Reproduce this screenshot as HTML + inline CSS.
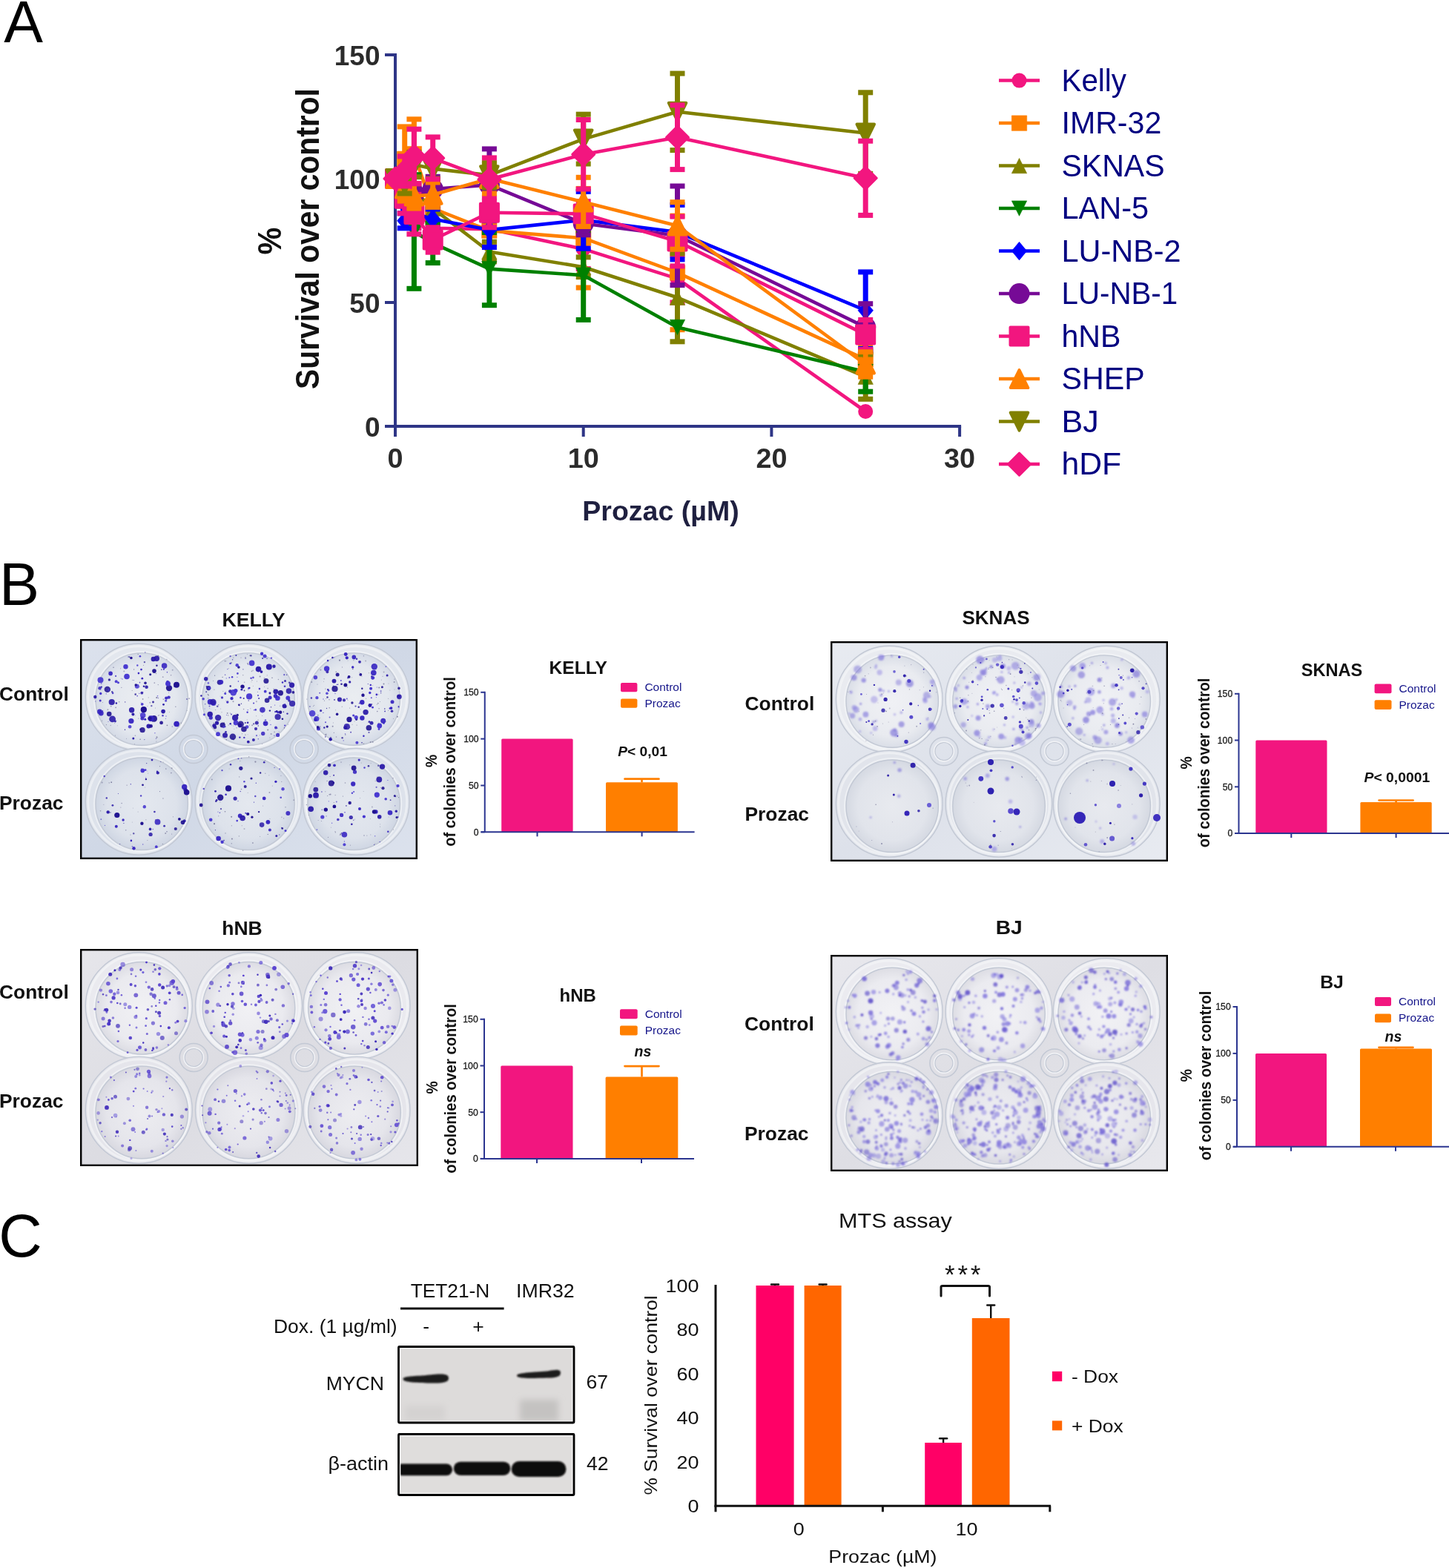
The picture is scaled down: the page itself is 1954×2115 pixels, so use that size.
<!DOCTYPE html>
<html><head><meta charset="utf-8"><title>Figure</title>
<style>
html,body{margin:0;padding:0;background:#fff;overflow:hidden;}
svg{display:block;}
text{font-family:'Liberation Sans', sans-serif;}
</style></head><body>
<svg width="1954" height="2115" viewBox="0 0 1954 2115">
<defs>
<linearGradient id="plbg" x1="0" y1="0" x2="1" y2="1"><stop offset="0" stop-color="#e8eaf0"/><stop offset="0.5" stop-color="#dde1e9"/><stop offset="1" stop-color="#e3e6ed"/></linearGradient>
<radialGradient id="wellg0" cx="0.5" cy="0.5" r="0.5"><stop offset="0" stop-color="#f0f1f5"/><stop offset="0.8" stop-color="#e8eaf0"/><stop offset="1" stop-color="#dcdfe8"/></radialGradient>
<radialGradient id="wellg1" cx="0.5" cy="0.5" r="0.5"><stop offset="0" stop-color="#eceef3"/><stop offset="0.8" stop-color="#e2e5ec"/><stop offset="1" stop-color="#d6dae4"/></radialGradient>
<filter id="blur1" x="-50%" y="-50%" width="200%" height="200%"><feGaussianBlur stdDeviation="1.1"/></filter>
<filter id="blur2" x="-50%" y="-50%" width="200%" height="200%"><feGaussianBlur stdDeviation="1.6"/></filter>
<filter id="blur4" x="-50%" y="-50%" width="200%" height="200%"><feGaussianBlur stdDeviation="4"/></filter>
<filter id="fz0" x="-10%" y="-10%" width="120%" height="120%"><feGaussianBlur stdDeviation="0.5"/></filter>
<filter id="fz1" x="-10%" y="-10%" width="120%" height="120%"><feGaussianBlur stdDeviation="0.9"/></filter>
<linearGradient id="pb11" x1="0" y1="0" x2="1" y2="1"><stop offset="0" stop-color="#dce2ed"/><stop offset="0.5" stop-color="#d0d8e6"/><stop offset="1" stop-color="#dce2ed"/></linearGradient><radialGradient id="wg11_0" cx="0.5" cy="0.5" r="0.5"><stop offset="0" stop-color="#eaedf1"/><stop offset="0.75" stop-color="#e3e7ee"/><stop offset="1" stop-color="#d4dae6"/></radialGradient><radialGradient id="wg11_1" cx="0.5" cy="0.5" r="0.5"><stop offset="0" stop-color="#e4e8ef"/><stop offset="0.75" stop-color="#dde2eb"/><stop offset="1" stop-color="#cfd6e3"/></radialGradient><linearGradient id="pb12" x1="0" y1="0" x2="1" y2="1"><stop offset="0" stop-color="#e8ebf1"/><stop offset="0.5" stop-color="#dde1ea"/><stop offset="1" stop-color="#e8ebf1"/></linearGradient><radialGradient id="wg12_0" cx="0.5" cy="0.5" r="0.5"><stop offset="0" stop-color="#f0f1f5"/><stop offset="0.75" stop-color="#e9ebf0"/><stop offset="1" stop-color="#dadee7"/></radialGradient><radialGradient id="wg12_1" cx="0.5" cy="0.5" r="0.5"><stop offset="0" stop-color="#e8eaef"/><stop offset="0.75" stop-color="#e1e4eb"/><stop offset="1" stop-color="#d5d9e2"/></radialGradient><linearGradient id="pb13" x1="0" y1="0" x2="1" y2="1"><stop offset="0" stop-color="#e6e6eb"/><stop offset="0.5" stop-color="#dcdce2"/><stop offset="1" stop-color="#e6e6eb"/></linearGradient><radialGradient id="wg13_0" cx="0.5" cy="0.5" r="0.5"><stop offset="0" stop-color="#f1f1f4"/><stop offset="0.75" stop-color="#eaeaef"/><stop offset="1" stop-color="#dcdce3"/></radialGradient><radialGradient id="wg13_1" cx="0.5" cy="0.5" r="0.5"><stop offset="0" stop-color="#ededf1"/><stop offset="0.75" stop-color="#e5e5eb"/><stop offset="1" stop-color="#d8d8e0"/></radialGradient><linearGradient id="pb14" x1="0" y1="0" x2="1" y2="1"><stop offset="0" stop-color="#e8e8ed"/><stop offset="0.5" stop-color="#dedee4"/><stop offset="1" stop-color="#e8e8ed"/></linearGradient><radialGradient id="wg14_0" cx="0.5" cy="0.5" r="0.5"><stop offset="0" stop-color="#f2f2f5"/><stop offset="0.75" stop-color="#ebebf0"/><stop offset="1" stop-color="#dddde4"/></radialGradient><radialGradient id="wg14_1" cx="0.5" cy="0.5" r="0.5"><stop offset="0" stop-color="#eeeef2"/><stop offset="0.75" stop-color="#e6e6ec"/><stop offset="1" stop-color="#d9d9e1"/></radialGradient></defs>
<rect width="1954" height="2115" fill="#fff"/>
<text x="5.3" y="56.6" font-size="79" font-weight="normal" font-style="normal" fill="#000" text-anchor="start" >A</text>
<text x="-1.0" y="816.0" font-size="81" font-weight="normal" font-style="normal" fill="#000" text-anchor="start" >B</text>
<text x="-1.8" y="1695.2" font-size="81" font-weight="normal" font-style="normal" fill="#000" text-anchor="start" >C</text>
<line x1="533.0" y1="72.0" x2="533.0" y2="589" stroke="#2e3586" stroke-width="4"/>
<line x1="519" y1="575.0" x2="1296.1" y2="575.0" stroke="#2e3586" stroke-width="4"/>
<line x1="519" y1="74.0" x2="533.0" y2="74.0" stroke="#2e3586" stroke-width="4"/>
<line x1="519" y1="241.0" x2="533.0" y2="241.0" stroke="#2e3586" stroke-width="4"/>
<line x1="519" y1="408.0" x2="533.0" y2="408.0" stroke="#2e3586" stroke-width="4"/>
<line x1="786.7" y1="575.0" x2="786.7" y2="589" stroke="#2e3586" stroke-width="4"/>
<line x1="1040.4" y1="575.0" x2="1040.4" y2="589" stroke="#2e3586" stroke-width="4"/>
<line x1="1294.1" y1="575.0" x2="1294.1" y2="589" stroke="#2e3586" stroke-width="4"/>
<text x="512.5" y="87.5" font-size="37" font-weight="bold" font-style="normal" fill="#2b2b2b" text-anchor="end" >150</text>
<text x="512.5" y="254.5" font-size="37" font-weight="bold" font-style="normal" fill="#2b2b2b" text-anchor="end" >100</text>
<text x="512.5" y="421.5" font-size="37" font-weight="bold" font-style="normal" fill="#2b2b2b" text-anchor="end" >50</text>
<text x="512.5" y="588.5" font-size="37" font-weight="bold" font-style="normal" fill="#2b2b2b" text-anchor="end" >0</text>
<text x="533.0" y="631.0" font-size="37" font-weight="bold" font-style="normal" fill="#2b2b2b" text-anchor="middle" textLength="21.0" lengthAdjust="spacingAndGlyphs" >0</text>
<text x="786.7" y="631.0" font-size="37" font-weight="bold" font-style="normal" fill="#2b2b2b" text-anchor="middle" textLength="42.0" lengthAdjust="spacingAndGlyphs" >10</text>
<text x="1040.4" y="631.0" font-size="37" font-weight="bold" font-style="normal" fill="#2b2b2b" text-anchor="middle" textLength="42.0" lengthAdjust="spacingAndGlyphs" >20</text>
<text x="1294.1" y="631.0" font-size="37" font-weight="bold" font-style="normal" fill="#2b2b2b" text-anchor="middle" textLength="42.0" lengthAdjust="spacingAndGlyphs" >30</text>
<text x="891.0" y="702.0" font-size="37" font-weight="bold" font-style="normal" fill="#1f2040" text-anchor="middle" textLength="211.5" lengthAdjust="spacingAndGlyphs" >Prozac (µM)</text>
<text transform="translate(430.0,322.0) rotate(-90)" x="0" y="0" font-size="44" font-weight="bold" fill="#111" text-anchor="middle" textLength="405.8" lengthAdjust="spacingAndGlyphs">Survival over control</text>
<text transform="translate(378.5,325.0) rotate(-90)" x="0" y="0" font-size="44" font-weight="bold" fill="#111" text-anchor="middle" textLength="36.9" lengthAdjust="spacingAndGlyphs">%</text>
<g><line x1="545.7" y1="237.7" x2="545.7" y2="271.1" stroke="#f2167f" stroke-width="7"/><line x1="535.7" y1="237.7" x2="555.7" y2="237.7" stroke="#f2167f" stroke-width="7"/><line x1="535.7" y1="271.1" x2="555.7" y2="271.1" stroke="#f2167f" stroke-width="7"/><line x1="558.4" y1="254.4" x2="558.4" y2="307.8" stroke="#f2167f" stroke-width="7"/><line x1="548.4" y1="254.4" x2="568.4" y2="254.4" stroke="#f2167f" stroke-width="7"/><line x1="548.4" y1="307.8" x2="568.4" y2="307.8" stroke="#f2167f" stroke-width="7"/><line x1="583.7" y1="287.8" x2="583.7" y2="327.8" stroke="#f2167f" stroke-width="7"/><line x1="573.7" y1="287.8" x2="593.7" y2="287.8" stroke="#f2167f" stroke-width="7"/><line x1="573.7" y1="327.8" x2="593.7" y2="327.8" stroke="#f2167f" stroke-width="7"/><line x1="659.9" y1="289.1" x2="659.9" y2="329.2" stroke="#f2167f" stroke-width="7"/><line x1="649.9" y1="289.1" x2="669.9" y2="289.1" stroke="#f2167f" stroke-width="7"/><line x1="649.9" y1="329.2" x2="669.9" y2="329.2" stroke="#f2167f" stroke-width="7"/><line x1="786.7" y1="309.1" x2="786.7" y2="362.6" stroke="#f2167f" stroke-width="7"/><line x1="776.7" y1="309.1" x2="796.7" y2="309.1" stroke="#f2167f" stroke-width="7"/><line x1="776.7" y1="362.6" x2="796.7" y2="362.6" stroke="#f2167f" stroke-width="7"/><line x1="913.5" y1="343.9" x2="913.5" y2="408.0" stroke="#f2167f" stroke-width="7"/><line x1="903.5" y1="343.9" x2="923.5" y2="343.9" stroke="#f2167f" stroke-width="7"/><line x1="903.5" y1="408.0" x2="923.5" y2="408.0" stroke="#f2167f" stroke-width="7"/><polyline points="533.0,241.0 545.7,254.4 558.4,281.1 583.7,307.8 659.9,309.1 786.7,335.9 913.5,375.9 1167.2,555.0" fill="none" stroke="#f2167f" stroke-width="4.6" stroke-linejoin="round"/><circle cx="533.0" cy="241.0" r="10.0" fill="#f2167f"/><circle cx="545.7" cy="254.4" r="10.0" fill="#f2167f"/><circle cx="558.4" cy="281.1" r="10.0" fill="#f2167f"/><circle cx="583.7" cy="307.8" r="10.0" fill="#f2167f"/><circle cx="659.9" cy="309.1" r="10.0" fill="#f2167f"/><circle cx="786.7" cy="335.9" r="10.0" fill="#f2167f"/><circle cx="913.5" cy="375.9" r="10.0" fill="#f2167f"/><circle cx="1167.2" cy="555.0" r="10.0" fill="#f2167f"/></g>
<g><line x1="545.7" y1="170.9" x2="545.7" y2="257.7" stroke="#ff8000" stroke-width="7"/><line x1="535.7" y1="170.9" x2="555.7" y2="170.9" stroke="#ff8000" stroke-width="7"/><line x1="535.7" y1="257.7" x2="555.7" y2="257.7" stroke="#ff8000" stroke-width="7"/><line x1="558.4" y1="160.8" x2="558.4" y2="254.4" stroke="#ff8000" stroke-width="7"/><line x1="548.4" y1="160.8" x2="568.4" y2="160.8" stroke="#ff8000" stroke-width="7"/><line x1="548.4" y1="254.4" x2="568.4" y2="254.4" stroke="#ff8000" stroke-width="7"/><line x1="583.7" y1="261.0" x2="583.7" y2="301.1" stroke="#ff8000" stroke-width="7"/><line x1="573.7" y1="261.0" x2="593.7" y2="261.0" stroke="#ff8000" stroke-width="7"/><line x1="573.7" y1="301.1" x2="593.7" y2="301.1" stroke="#ff8000" stroke-width="7"/><line x1="659.9" y1="294.4" x2="659.9" y2="327.8" stroke="#ff8000" stroke-width="7"/><line x1="649.9" y1="294.4" x2="669.9" y2="294.4" stroke="#ff8000" stroke-width="7"/><line x1="649.9" y1="327.8" x2="669.9" y2="327.8" stroke="#ff8000" stroke-width="7"/><line x1="786.7" y1="254.4" x2="786.7" y2="388.0" stroke="#ff8000" stroke-width="7"/><line x1="776.7" y1="254.4" x2="796.7" y2="254.4" stroke="#ff8000" stroke-width="7"/><line x1="776.7" y1="388.0" x2="796.7" y2="388.0" stroke="#ff8000" stroke-width="7"/><line x1="913.5" y1="291.1" x2="913.5" y2="444.7" stroke="#ff8000" stroke-width="7"/><line x1="903.5" y1="291.1" x2="923.5" y2="291.1" stroke="#ff8000" stroke-width="7"/><line x1="903.5" y1="444.7" x2="923.5" y2="444.7" stroke="#ff8000" stroke-width="7"/><line x1="1167.2" y1="468.1" x2="1167.2" y2="501.5" stroke="#ff8000" stroke-width="7"/><line x1="1157.2" y1="468.1" x2="1177.2" y2="468.1" stroke="#ff8000" stroke-width="7"/><line x1="1157.2" y1="501.5" x2="1177.2" y2="501.5" stroke="#ff8000" stroke-width="7"/><polyline points="533.0,241.0 545.7,214.3 558.4,207.6 583.7,281.1 659.9,311.1 786.7,321.2 913.5,367.9 1167.2,484.8" fill="none" stroke="#ff8000" stroke-width="4.6" stroke-linejoin="round"/><rect x="522.8" y="230.8" width="20.4" height="20.4" fill="#ff8000" stroke="#ff8000" stroke-width="0.6" stroke-linejoin="round"/><rect x="535.5" y="204.1" width="20.4" height="20.4" fill="#ff8000" stroke="#ff8000" stroke-width="0.6" stroke-linejoin="round"/><rect x="548.2" y="197.4" width="20.4" height="20.4" fill="#ff8000" stroke="#ff8000" stroke-width="0.6" stroke-linejoin="round"/><rect x="573.5" y="270.9" width="20.4" height="20.4" fill="#ff8000" stroke="#ff8000" stroke-width="0.6" stroke-linejoin="round"/><rect x="649.6" y="300.9" width="20.4" height="20.4" fill="#ff8000" stroke="#ff8000" stroke-width="0.6" stroke-linejoin="round"/><rect x="776.5" y="311.0" width="20.4" height="20.4" fill="#ff8000" stroke="#ff8000" stroke-width="0.6" stroke-linejoin="round"/><rect x="903.3" y="357.7" width="20.4" height="20.4" fill="#ff8000" stroke="#ff8000" stroke-width="0.6" stroke-linejoin="round"/><rect x="1157.0" y="474.6" width="20.4" height="20.4" fill="#ff8000" stroke="#ff8000" stroke-width="0.6" stroke-linejoin="round"/></g>
<g><line x1="545.7" y1="244.3" x2="545.7" y2="277.7" stroke="#808000" stroke-width="7"/><line x1="535.7" y1="244.3" x2="555.7" y2="244.3" stroke="#808000" stroke-width="7"/><line x1="535.7" y1="277.7" x2="555.7" y2="277.7" stroke="#808000" stroke-width="7"/><line x1="558.4" y1="237.7" x2="558.4" y2="277.7" stroke="#808000" stroke-width="7"/><line x1="548.4" y1="237.7" x2="568.4" y2="237.7" stroke="#808000" stroke-width="7"/><line x1="548.4" y1="277.7" x2="568.4" y2="277.7" stroke="#808000" stroke-width="7"/><line x1="583.7" y1="261.0" x2="583.7" y2="301.1" stroke="#808000" stroke-width="7"/><line x1="573.7" y1="261.0" x2="593.7" y2="261.0" stroke="#808000" stroke-width="7"/><line x1="573.7" y1="301.1" x2="593.7" y2="301.1" stroke="#808000" stroke-width="7"/><line x1="659.9" y1="326.2" x2="659.9" y2="352.9" stroke="#808000" stroke-width="7"/><line x1="649.9" y1="326.2" x2="669.9" y2="326.2" stroke="#808000" stroke-width="7"/><line x1="649.9" y1="352.9" x2="669.9" y2="352.9" stroke="#808000" stroke-width="7"/><line x1="786.7" y1="346.9" x2="786.7" y2="373.6" stroke="#808000" stroke-width="7"/><line x1="776.7" y1="346.9" x2="796.7" y2="346.9" stroke="#808000" stroke-width="7"/><line x1="776.7" y1="373.6" x2="796.7" y2="373.6" stroke="#808000" stroke-width="7"/><line x1="913.5" y1="341.9" x2="913.5" y2="460.8" stroke="#808000" stroke-width="7"/><line x1="903.5" y1="341.9" x2="923.5" y2="341.9" stroke="#808000" stroke-width="7"/><line x1="903.5" y1="460.8" x2="923.5" y2="460.8" stroke="#808000" stroke-width="7"/><line x1="1167.2" y1="478.1" x2="1167.2" y2="538.3" stroke="#808000" stroke-width="7"/><line x1="1157.2" y1="478.1" x2="1177.2" y2="478.1" stroke="#808000" stroke-width="7"/><line x1="1157.2" y1="538.3" x2="1177.2" y2="538.3" stroke="#808000" stroke-width="7"/><polyline points="533.0,241.0 545.7,261.0 558.4,257.7 583.7,281.1 659.9,339.5 786.7,360.2 913.5,401.3 1167.2,508.2" fill="none" stroke="#808000" stroke-width="4.6" stroke-linejoin="round"/><path d="M533.0,230.8 L543.2,251.2 L522.8,251.2 Z" fill="#808000" stroke="#808000" stroke-width="0.6" stroke-linejoin="round"/><path d="M545.7,250.8 L555.9,271.2 L535.5,271.2 Z" fill="#808000" stroke="#808000" stroke-width="0.6" stroke-linejoin="round"/><path d="M558.4,247.5 L568.5,267.9 L548.2,267.9 Z" fill="#808000" stroke="#808000" stroke-width="0.6" stroke-linejoin="round"/><path d="M583.7,270.9 L593.9,291.3 L573.6,291.3 Z" fill="#808000" stroke="#808000" stroke-width="0.6" stroke-linejoin="round"/><path d="M659.9,329.3 L670.0,349.7 L649.7,349.7 Z" fill="#808000" stroke="#808000" stroke-width="0.6" stroke-linejoin="round"/><path d="M786.7,350.0 L796.9,370.4 L776.5,370.4 Z" fill="#808000" stroke="#808000" stroke-width="0.6" stroke-linejoin="round"/><path d="M913.5,391.1 L923.7,411.5 L903.4,411.5 Z" fill="#808000" stroke="#808000" stroke-width="0.6" stroke-linejoin="round"/><path d="M1167.2,498.0 L1177.4,518.4 L1157.1,518.4 Z" fill="#808000" stroke="#808000" stroke-width="0.6" stroke-linejoin="round"/></g>
<g><line x1="545.7" y1="234.3" x2="545.7" y2="274.4" stroke="#008000" stroke-width="7"/><line x1="535.7" y1="234.3" x2="555.7" y2="234.3" stroke="#008000" stroke-width="7"/><line x1="535.7" y1="274.4" x2="555.7" y2="274.4" stroke="#008000" stroke-width="7"/><line x1="558.4" y1="235.7" x2="558.4" y2="389.3" stroke="#008000" stroke-width="7"/><line x1="548.4" y1="235.7" x2="568.4" y2="235.7" stroke="#008000" stroke-width="7"/><line x1="548.4" y1="389.3" x2="568.4" y2="389.3" stroke="#008000" stroke-width="7"/><line x1="583.7" y1="301.1" x2="583.7" y2="354.6" stroke="#008000" stroke-width="7"/><line x1="573.7" y1="301.1" x2="593.7" y2="301.1" stroke="#008000" stroke-width="7"/><line x1="573.7" y1="354.6" x2="593.7" y2="354.6" stroke="#008000" stroke-width="7"/><line x1="659.9" y1="313.5" x2="659.9" y2="411.7" stroke="#008000" stroke-width="7"/><line x1="649.9" y1="313.5" x2="669.9" y2="313.5" stroke="#008000" stroke-width="7"/><line x1="649.9" y1="411.7" x2="669.9" y2="411.7" stroke="#008000" stroke-width="7"/><line x1="786.7" y1="311.1" x2="786.7" y2="431.4" stroke="#008000" stroke-width="7"/><line x1="776.7" y1="311.1" x2="796.7" y2="311.1" stroke="#008000" stroke-width="7"/><line x1="776.7" y1="431.4" x2="796.7" y2="431.4" stroke="#008000" stroke-width="7"/><line x1="1167.2" y1="474.8" x2="1167.2" y2="528.2" stroke="#008000" stroke-width="7"/><line x1="1157.2" y1="474.8" x2="1177.2" y2="474.8" stroke="#008000" stroke-width="7"/><line x1="1157.2" y1="528.2" x2="1177.2" y2="528.2" stroke="#008000" stroke-width="7"/><polyline points="533.0,241.0 545.7,254.4 558.4,312.5 583.7,327.8 659.9,362.6 786.7,371.3 913.5,441.4 1167.2,501.5" fill="none" stroke="#008000" stroke-width="4.6" stroke-linejoin="round"/><path d="M533.0,251.2 L543.2,230.8 L522.8,230.8 Z" fill="#008000" stroke="#008000" stroke-width="0.6" stroke-linejoin="round"/><path d="M545.7,264.6 L555.9,244.2 L535.5,244.2 Z" fill="#008000" stroke="#008000" stroke-width="0.6" stroke-linejoin="round"/><path d="M558.4,322.7 L568.5,302.3 L548.2,302.3 Z" fill="#008000" stroke="#008000" stroke-width="0.6" stroke-linejoin="round"/><path d="M583.7,338.0 L593.9,317.6 L573.6,317.6 Z" fill="#008000" stroke="#008000" stroke-width="0.6" stroke-linejoin="round"/><path d="M659.9,372.8 L670.0,352.4 L649.7,352.4 Z" fill="#008000" stroke="#008000" stroke-width="0.6" stroke-linejoin="round"/><path d="M786.7,381.5 L796.9,361.1 L776.5,361.1 Z" fill="#008000" stroke="#008000" stroke-width="0.6" stroke-linejoin="round"/><path d="M913.5,451.6 L923.7,431.2 L903.4,431.2 Z" fill="#008000" stroke="#008000" stroke-width="0.6" stroke-linejoin="round"/><path d="M1167.2,511.7 L1177.4,491.3 L1157.1,491.3 Z" fill="#008000" stroke="#008000" stroke-width="0.6" stroke-linejoin="round"/></g>
<g><line x1="545.7" y1="287.8" x2="545.7" y2="307.8" stroke="#0000ff" stroke-width="7"/><line x1="535.7" y1="287.8" x2="555.7" y2="287.8" stroke="#0000ff" stroke-width="7"/><line x1="535.7" y1="307.8" x2="555.7" y2="307.8" stroke="#0000ff" stroke-width="7"/><line x1="558.4" y1="277.7" x2="558.4" y2="297.8" stroke="#0000ff" stroke-width="7"/><line x1="548.4" y1="277.7" x2="568.4" y2="277.7" stroke="#0000ff" stroke-width="7"/><line x1="548.4" y1="297.8" x2="568.4" y2="297.8" stroke="#0000ff" stroke-width="7"/><line x1="583.7" y1="282.1" x2="583.7" y2="308.8" stroke="#0000ff" stroke-width="7"/><line x1="573.7" y1="282.1" x2="593.7" y2="282.1" stroke="#0000ff" stroke-width="7"/><line x1="573.7" y1="308.8" x2="593.7" y2="308.8" stroke="#0000ff" stroke-width="7"/><line x1="659.9" y1="286.8" x2="659.9" y2="333.5" stroke="#0000ff" stroke-width="7"/><line x1="649.9" y1="286.8" x2="669.9" y2="286.8" stroke="#0000ff" stroke-width="7"/><line x1="649.9" y1="333.5" x2="669.9" y2="333.5" stroke="#0000ff" stroke-width="7"/><line x1="786.7" y1="258.4" x2="786.7" y2="335.2" stroke="#0000ff" stroke-width="7"/><line x1="776.7" y1="258.4" x2="796.7" y2="258.4" stroke="#0000ff" stroke-width="7"/><line x1="776.7" y1="335.2" x2="796.7" y2="335.2" stroke="#0000ff" stroke-width="7"/><line x1="913.5" y1="276.4" x2="913.5" y2="349.9" stroke="#0000ff" stroke-width="7"/><line x1="903.5" y1="276.4" x2="923.5" y2="276.4" stroke="#0000ff" stroke-width="7"/><line x1="903.5" y1="349.9" x2="923.5" y2="349.9" stroke="#0000ff" stroke-width="7"/><line x1="1167.2" y1="366.9" x2="1167.2" y2="470.5" stroke="#0000ff" stroke-width="7"/><line x1="1157.2" y1="366.9" x2="1177.2" y2="366.9" stroke="#0000ff" stroke-width="7"/><line x1="1157.2" y1="470.5" x2="1177.2" y2="470.5" stroke="#0000ff" stroke-width="7"/><polyline points="533.0,241.0 545.7,297.8 558.4,287.8 583.7,295.4 659.9,310.1 786.7,296.8 913.5,313.1 1167.2,418.7" fill="none" stroke="#0000ff" stroke-width="4.6" stroke-linejoin="round"/><path d="M533.0,228.7 L543.2,241.0 L533.0,253.3 L522.8,241.0 Z" fill="#0000ff" stroke="#0000ff" stroke-width="0.6" stroke-linejoin="round"/><path d="M545.7,285.5 L555.9,297.8 L545.7,310.1 L535.5,297.8 Z" fill="#0000ff" stroke="#0000ff" stroke-width="0.6" stroke-linejoin="round"/><path d="M558.4,275.5 L568.6,287.8 L558.4,300.1 L548.2,287.8 Z" fill="#0000ff" stroke="#0000ff" stroke-width="0.6" stroke-linejoin="round"/><path d="M583.7,283.1 L593.9,295.4 L583.7,307.7 L573.5,295.4 Z" fill="#0000ff" stroke="#0000ff" stroke-width="0.6" stroke-linejoin="round"/><path d="M659.9,297.8 L670.1,310.1 L659.9,322.4 L649.6,310.1 Z" fill="#0000ff" stroke="#0000ff" stroke-width="0.6" stroke-linejoin="round"/><path d="M786.7,284.5 L796.9,296.8 L786.7,309.1 L776.5,296.8 Z" fill="#0000ff" stroke="#0000ff" stroke-width="0.6" stroke-linejoin="round"/><path d="M913.5,300.8 L923.8,313.1 L913.5,325.4 L903.3,313.1 Z" fill="#0000ff" stroke="#0000ff" stroke-width="0.6" stroke-linejoin="round"/><path d="M1167.2,406.4 L1177.5,418.7 L1167.2,431.0 L1157.0,418.7 Z" fill="#0000ff" stroke="#0000ff" stroke-width="0.6" stroke-linejoin="round"/></g>
<g><line x1="545.7" y1="244.3" x2="545.7" y2="271.1" stroke="#760a96" stroke-width="7"/><line x1="535.7" y1="244.3" x2="555.7" y2="244.3" stroke="#760a96" stroke-width="7"/><line x1="535.7" y1="271.1" x2="555.7" y2="271.1" stroke="#760a96" stroke-width="7"/><line x1="558.4" y1="247.7" x2="558.4" y2="274.4" stroke="#760a96" stroke-width="7"/><line x1="548.4" y1="247.7" x2="568.4" y2="247.7" stroke="#760a96" stroke-width="7"/><line x1="548.4" y1="274.4" x2="568.4" y2="274.4" stroke="#760a96" stroke-width="7"/><line x1="583.7" y1="238.3" x2="583.7" y2="271.7" stroke="#760a96" stroke-width="7"/><line x1="573.7" y1="238.3" x2="593.7" y2="238.3" stroke="#760a96" stroke-width="7"/><line x1="573.7" y1="271.7" x2="593.7" y2="271.7" stroke="#760a96" stroke-width="7"/><line x1="659.9" y1="200.9" x2="659.9" y2="297.8" stroke="#760a96" stroke-width="7"/><line x1="649.9" y1="200.9" x2="669.9" y2="200.9" stroke="#760a96" stroke-width="7"/><line x1="649.9" y1="297.8" x2="669.9" y2="297.8" stroke="#760a96" stroke-width="7"/><line x1="786.7" y1="286.1" x2="786.7" y2="316.8" stroke="#760a96" stroke-width="7"/><line x1="776.7" y1="286.1" x2="796.7" y2="286.1" stroke="#760a96" stroke-width="7"/><line x1="776.7" y1="316.8" x2="796.7" y2="316.8" stroke="#760a96" stroke-width="7"/><line x1="913.5" y1="251.0" x2="913.5" y2="384.6" stroke="#760a96" stroke-width="7"/><line x1="903.5" y1="251.0" x2="923.5" y2="251.0" stroke="#760a96" stroke-width="7"/><line x1="903.5" y1="384.6" x2="923.5" y2="384.6" stroke="#760a96" stroke-width="7"/><line x1="1167.2" y1="409.7" x2="1167.2" y2="473.1" stroke="#760a96" stroke-width="7"/><line x1="1157.2" y1="409.7" x2="1177.2" y2="409.7" stroke="#760a96" stroke-width="7"/><line x1="1157.2" y1="473.1" x2="1177.2" y2="473.1" stroke="#760a96" stroke-width="7"/><polyline points="533.0,241.0 545.7,257.7 558.4,261.0 583.7,255.0 659.9,249.4 786.7,301.5 913.5,317.8 1167.2,441.4" fill="none" stroke="#760a96" stroke-width="4.6" stroke-linejoin="round"/><circle cx="533.0" cy="241.0" r="14.0" fill="#760a96"/><circle cx="545.7" cy="257.7" r="14.0" fill="#760a96"/><circle cx="558.4" cy="261.0" r="14.0" fill="#760a96"/><circle cx="583.7" cy="255.0" r="14.0" fill="#760a96"/><circle cx="659.9" cy="249.4" r="14.0" fill="#760a96"/><circle cx="786.7" cy="301.5" r="14.0" fill="#760a96"/><circle cx="913.5" cy="317.8" r="14.0" fill="#760a96"/><circle cx="1167.2" cy="441.4" r="14.0" fill="#760a96"/></g>
<g><line x1="545.7" y1="247.7" x2="545.7" y2="287.8" stroke="#f2167f" stroke-width="7"/><line x1="535.7" y1="247.7" x2="555.7" y2="247.7" stroke="#f2167f" stroke-width="7"/><line x1="535.7" y1="287.8" x2="555.7" y2="287.8" stroke="#f2167f" stroke-width="7"/><line x1="558.4" y1="262.4" x2="558.4" y2="315.8" stroke="#f2167f" stroke-width="7"/><line x1="548.4" y1="262.4" x2="568.4" y2="262.4" stroke="#f2167f" stroke-width="7"/><line x1="548.4" y1="315.8" x2="568.4" y2="315.8" stroke="#f2167f" stroke-width="7"/><line x1="583.7" y1="306.8" x2="583.7" y2="340.2" stroke="#f2167f" stroke-width="7"/><line x1="573.7" y1="306.8" x2="593.7" y2="306.8" stroke="#f2167f" stroke-width="7"/><line x1="573.7" y1="340.2" x2="593.7" y2="340.2" stroke="#f2167f" stroke-width="7"/><line x1="659.9" y1="266.7" x2="659.9" y2="306.8" stroke="#f2167f" stroke-width="7"/><line x1="649.9" y1="266.7" x2="669.9" y2="266.7" stroke="#f2167f" stroke-width="7"/><line x1="649.9" y1="306.8" x2="669.9" y2="306.8" stroke="#f2167f" stroke-width="7"/><line x1="786.7" y1="271.7" x2="786.7" y2="305.1" stroke="#f2167f" stroke-width="7"/><line x1="776.7" y1="271.7" x2="796.7" y2="271.7" stroke="#f2167f" stroke-width="7"/><line x1="776.7" y1="305.1" x2="796.7" y2="305.1" stroke="#f2167f" stroke-width="7"/><line x1="913.5" y1="292.1" x2="913.5" y2="358.9" stroke="#f2167f" stroke-width="7"/><line x1="903.5" y1="292.1" x2="923.5" y2="292.1" stroke="#f2167f" stroke-width="7"/><line x1="903.5" y1="358.9" x2="923.5" y2="358.9" stroke="#f2167f" stroke-width="7"/><line x1="1167.2" y1="431.4" x2="1167.2" y2="471.5" stroke="#f2167f" stroke-width="7"/><line x1="1157.2" y1="431.4" x2="1177.2" y2="431.4" stroke="#f2167f" stroke-width="7"/><line x1="1157.2" y1="471.5" x2="1177.2" y2="471.5" stroke="#f2167f" stroke-width="7"/><polyline points="533.0,241.0 545.7,267.7 558.4,289.1 583.7,323.5 659.9,286.8 786.7,288.4 913.5,325.5 1167.2,451.4" fill="none" stroke="#f2167f" stroke-width="4.6" stroke-linejoin="round"/><rect x="521.0" y="229.0" width="24.0" height="24.0" fill="#f2167f" stroke="#f2167f" stroke-width="4" stroke-linejoin="round"/><rect x="533.7" y="255.7" width="24.0" height="24.0" fill="#f2167f" stroke="#f2167f" stroke-width="4" stroke-linejoin="round"/><rect x="546.4" y="277.1" width="24.0" height="24.0" fill="#f2167f" stroke="#f2167f" stroke-width="4" stroke-linejoin="round"/><rect x="571.7" y="311.5" width="24.0" height="24.0" fill="#f2167f" stroke="#f2167f" stroke-width="4" stroke-linejoin="round"/><rect x="647.9" y="274.8" width="24.0" height="24.0" fill="#f2167f" stroke="#f2167f" stroke-width="4" stroke-linejoin="round"/><rect x="774.7" y="276.4" width="24.0" height="24.0" fill="#f2167f" stroke="#f2167f" stroke-width="4" stroke-linejoin="round"/><rect x="901.5" y="313.5" width="24.0" height="24.0" fill="#f2167f" stroke="#f2167f" stroke-width="4" stroke-linejoin="round"/><rect x="1155.2" y="439.4" width="24.0" height="24.0" fill="#f2167f" stroke="#f2167f" stroke-width="4" stroke-linejoin="round"/></g>
<g><line x1="545.7" y1="237.7" x2="545.7" y2="271.1" stroke="#ff8000" stroke-width="7"/><line x1="535.7" y1="237.7" x2="555.7" y2="237.7" stroke="#ff8000" stroke-width="7"/><line x1="535.7" y1="271.1" x2="555.7" y2="271.1" stroke="#ff8000" stroke-width="7"/><line x1="558.4" y1="247.7" x2="558.4" y2="281.1" stroke="#ff8000" stroke-width="7"/><line x1="548.4" y1="247.7" x2="568.4" y2="247.7" stroke="#ff8000" stroke-width="7"/><line x1="548.4" y1="281.1" x2="568.4" y2="281.1" stroke="#ff8000" stroke-width="7"/><line x1="583.7" y1="246.0" x2="583.7" y2="279.4" stroke="#ff8000" stroke-width="7"/><line x1="573.7" y1="246.0" x2="593.7" y2="246.0" stroke="#ff8000" stroke-width="7"/><line x1="573.7" y1="279.4" x2="593.7" y2="279.4" stroke="#ff8000" stroke-width="7"/><line x1="659.9" y1="221.0" x2="659.9" y2="261.0" stroke="#ff8000" stroke-width="7"/><line x1="649.9" y1="221.0" x2="669.9" y2="221.0" stroke="#ff8000" stroke-width="7"/><line x1="649.9" y1="261.0" x2="669.9" y2="261.0" stroke="#ff8000" stroke-width="7"/><line x1="786.7" y1="239.3" x2="786.7" y2="305.5" stroke="#ff8000" stroke-width="7"/><line x1="776.7" y1="239.3" x2="796.7" y2="239.3" stroke="#ff8000" stroke-width="7"/><line x1="776.7" y1="305.5" x2="796.7" y2="305.5" stroke="#ff8000" stroke-width="7"/><line x1="913.5" y1="272.7" x2="913.5" y2="336.2" stroke="#ff8000" stroke-width="7"/><line x1="903.5" y1="272.7" x2="923.5" y2="272.7" stroke="#ff8000" stroke-width="7"/><line x1="903.5" y1="336.2" x2="923.5" y2="336.2" stroke="#ff8000" stroke-width="7"/><line x1="1167.2" y1="474.8" x2="1167.2" y2="508.2" stroke="#ff8000" stroke-width="7"/><line x1="1157.2" y1="474.8" x2="1177.2" y2="474.8" stroke="#ff8000" stroke-width="7"/><line x1="1157.2" y1="508.2" x2="1177.2" y2="508.2" stroke="#ff8000" stroke-width="7"/><polyline points="533.0,241.0 545.7,254.4 558.4,264.4 583.7,262.7 659.9,241.0 786.7,272.4 913.5,304.5 1167.2,491.5" fill="none" stroke="#ff8000" stroke-width="4.6" stroke-linejoin="round"/><path d="M533.0,229.0 L544.8,253.0 L521.2,253.0 Z" fill="#ff8000" stroke="#ff8000" stroke-width="4" stroke-linejoin="round"/><path d="M545.7,242.4 L557.5,266.4 L533.9,266.4 Z" fill="#ff8000" stroke="#ff8000" stroke-width="4" stroke-linejoin="round"/><path d="M558.4,252.4 L570.2,276.4 L546.6,276.4 Z" fill="#ff8000" stroke="#ff8000" stroke-width="4" stroke-linejoin="round"/><path d="M583.7,250.7 L595.5,274.7 L571.9,274.7 Z" fill="#ff8000" stroke="#ff8000" stroke-width="4" stroke-linejoin="round"/><path d="M659.9,229.0 L671.6,253.0 L648.1,253.0 Z" fill="#ff8000" stroke="#ff8000" stroke-width="4" stroke-linejoin="round"/><path d="M786.7,260.4 L798.5,284.4 L774.9,284.4 Z" fill="#ff8000" stroke="#ff8000" stroke-width="4" stroke-linejoin="round"/><path d="M913.5,292.5 L925.3,316.5 L901.8,316.5 Z" fill="#ff8000" stroke="#ff8000" stroke-width="4" stroke-linejoin="round"/><path d="M1167.2,479.5 L1179.0,503.5 L1155.5,503.5 Z" fill="#ff8000" stroke="#ff8000" stroke-width="4" stroke-linejoin="round"/></g>
<g><line x1="545.7" y1="234.3" x2="545.7" y2="261.0" stroke="#808000" stroke-width="7"/><line x1="535.7" y1="234.3" x2="555.7" y2="234.3" stroke="#808000" stroke-width="7"/><line x1="535.7" y1="261.0" x2="555.7" y2="261.0" stroke="#808000" stroke-width="7"/><line x1="558.4" y1="205.3" x2="558.4" y2="238.7" stroke="#808000" stroke-width="7"/><line x1="548.4" y1="205.3" x2="568.4" y2="205.3" stroke="#808000" stroke-width="7"/><line x1="548.4" y1="238.7" x2="568.4" y2="238.7" stroke="#808000" stroke-width="7"/><line x1="583.7" y1="214.3" x2="583.7" y2="241.0" stroke="#808000" stroke-width="7"/><line x1="573.7" y1="214.3" x2="593.7" y2="214.3" stroke="#808000" stroke-width="7"/><line x1="573.7" y1="241.0" x2="593.7" y2="241.0" stroke="#808000" stroke-width="7"/><line x1="659.9" y1="219.6" x2="659.9" y2="253.0" stroke="#808000" stroke-width="7"/><line x1="649.9" y1="219.6" x2="669.9" y2="219.6" stroke="#808000" stroke-width="7"/><line x1="649.9" y1="253.0" x2="669.9" y2="253.0" stroke="#808000" stroke-width="7"/><line x1="786.7" y1="154.2" x2="786.7" y2="221.0" stroke="#808000" stroke-width="7"/><line x1="776.7" y1="154.2" x2="796.7" y2="154.2" stroke="#808000" stroke-width="7"/><line x1="776.7" y1="221.0" x2="796.7" y2="221.0" stroke="#808000" stroke-width="7"/><line x1="913.5" y1="99.1" x2="913.5" y2="202.6" stroke="#808000" stroke-width="7"/><line x1="903.5" y1="99.1" x2="923.5" y2="99.1" stroke="#808000" stroke-width="7"/><line x1="903.5" y1="202.6" x2="923.5" y2="202.6" stroke="#808000" stroke-width="7"/><line x1="1167.2" y1="124.8" x2="1167.2" y2="234.3" stroke="#808000" stroke-width="7"/><line x1="1157.2" y1="124.8" x2="1177.2" y2="124.8" stroke="#808000" stroke-width="7"/><line x1="1157.2" y1="234.3" x2="1177.2" y2="234.3" stroke="#808000" stroke-width="7"/><polyline points="533.0,241.0 545.7,247.7 558.4,222.0 583.7,227.6 659.9,236.3 786.7,187.6 913.5,150.8 1167.2,179.5" fill="none" stroke="#808000" stroke-width="4.6" stroke-linejoin="round"/><path d="M533.0,253.0 L544.8,229.0 L521.2,229.0 Z" fill="#808000" stroke="#808000" stroke-width="4" stroke-linejoin="round"/><path d="M545.7,259.7 L557.5,235.7 L533.9,235.7 Z" fill="#808000" stroke="#808000" stroke-width="4" stroke-linejoin="round"/><path d="M558.4,234.0 L570.2,210.0 L546.6,210.0 Z" fill="#808000" stroke="#808000" stroke-width="4" stroke-linejoin="round"/><path d="M583.7,239.6 L595.5,215.6 L571.9,215.6 Z" fill="#808000" stroke="#808000" stroke-width="4" stroke-linejoin="round"/><path d="M659.9,248.3 L671.6,224.3 L648.1,224.3 Z" fill="#808000" stroke="#808000" stroke-width="4" stroke-linejoin="round"/><path d="M786.7,199.6 L798.5,175.6 L774.9,175.6 Z" fill="#808000" stroke="#808000" stroke-width="4" stroke-linejoin="round"/><path d="M913.5,162.8 L925.3,138.8 L901.8,138.8 Z" fill="#808000" stroke="#808000" stroke-width="4" stroke-linejoin="round"/><path d="M1167.2,191.5 L1179.0,167.5 L1155.5,167.5 Z" fill="#808000" stroke="#808000" stroke-width="4" stroke-linejoin="round"/></g>
<g><line x1="545.7" y1="210.9" x2="545.7" y2="251.0" stroke="#f2167f" stroke-width="7"/><line x1="535.7" y1="210.9" x2="555.7" y2="210.9" stroke="#f2167f" stroke-width="7"/><line x1="535.7" y1="251.0" x2="555.7" y2="251.0" stroke="#f2167f" stroke-width="7"/><line x1="558.4" y1="174.2" x2="558.4" y2="247.7" stroke="#f2167f" stroke-width="7"/><line x1="548.4" y1="174.2" x2="568.4" y2="174.2" stroke="#f2167f" stroke-width="7"/><line x1="548.4" y1="247.7" x2="568.4" y2="247.7" stroke="#f2167f" stroke-width="7"/><line x1="583.7" y1="184.9" x2="583.7" y2="241.7" stroke="#f2167f" stroke-width="7"/><line x1="573.7" y1="184.9" x2="593.7" y2="184.9" stroke="#f2167f" stroke-width="7"/><line x1="573.7" y1="241.7" x2="593.7" y2="241.7" stroke="#f2167f" stroke-width="7"/><line x1="659.9" y1="212.9" x2="659.9" y2="271.1" stroke="#f2167f" stroke-width="7"/><line x1="649.9" y1="212.9" x2="669.9" y2="212.9" stroke="#f2167f" stroke-width="7"/><line x1="649.9" y1="271.1" x2="669.9" y2="271.1" stroke="#f2167f" stroke-width="7"/><line x1="786.7" y1="161.5" x2="786.7" y2="255.0" stroke="#f2167f" stroke-width="7"/><line x1="776.7" y1="161.5" x2="796.7" y2="161.5" stroke="#f2167f" stroke-width="7"/><line x1="776.7" y1="255.0" x2="796.7" y2="255.0" stroke="#f2167f" stroke-width="7"/><line x1="913.5" y1="141.8" x2="913.5" y2="228.6" stroke="#f2167f" stroke-width="7"/><line x1="903.5" y1="141.8" x2="923.5" y2="141.8" stroke="#f2167f" stroke-width="7"/><line x1="903.5" y1="228.6" x2="923.5" y2="228.6" stroke="#f2167f" stroke-width="7"/><line x1="1167.2" y1="190.2" x2="1167.2" y2="290.4" stroke="#f2167f" stroke-width="7"/><line x1="1157.2" y1="190.2" x2="1177.2" y2="190.2" stroke="#f2167f" stroke-width="7"/><line x1="1157.2" y1="290.4" x2="1177.2" y2="290.4" stroke="#f2167f" stroke-width="7"/><polyline points="533.0,241.0 545.7,231.0 558.4,210.9 583.7,213.3 659.9,242.0 786.7,208.3 913.5,185.2 1167.2,240.3" fill="none" stroke="#f2167f" stroke-width="4.6" stroke-linejoin="round"/><path d="M533.0,226.0 L548.0,241.0 L533.0,256.0 L518.0,241.0 Z" fill="#f2167f" stroke="#f2167f" stroke-width="3" stroke-linejoin="round"/><path d="M545.7,216.0 L560.7,231.0 L545.7,246.0 L530.7,231.0 Z" fill="#f2167f" stroke="#f2167f" stroke-width="3" stroke-linejoin="round"/><path d="M558.4,195.9 L573.4,210.9 L558.4,225.9 L543.4,210.9 Z" fill="#f2167f" stroke="#f2167f" stroke-width="3" stroke-linejoin="round"/><path d="M583.7,198.3 L598.7,213.3 L583.7,228.3 L568.7,213.3 Z" fill="#f2167f" stroke="#f2167f" stroke-width="3" stroke-linejoin="round"/><path d="M659.9,227.0 L674.9,242.0 L659.9,257.0 L644.9,242.0 Z" fill="#f2167f" stroke="#f2167f" stroke-width="3" stroke-linejoin="round"/><path d="M786.7,193.3 L801.7,208.3 L786.7,223.3 L771.7,208.3 Z" fill="#f2167f" stroke="#f2167f" stroke-width="3" stroke-linejoin="round"/><path d="M913.5,170.2 L928.5,185.2 L913.5,200.2 L898.5,185.2 Z" fill="#f2167f" stroke="#f2167f" stroke-width="3" stroke-linejoin="round"/><path d="M1167.2,225.3 L1182.2,240.3 L1167.2,255.3 L1152.2,240.3 Z" fill="#f2167f" stroke="#f2167f" stroke-width="3" stroke-linejoin="round"/></g>
<line x1="1347" y1="108.6" x2="1402" y2="108.6" stroke="#f2167f" stroke-width="4.5"/>
<circle cx="1374.5" cy="108.6" r="10.0" fill="#f2167f"/>
<text x="1431.5" y="122.8" font-size="43" font-weight="normal" font-style="normal" fill="#000080" text-anchor="start" textLength="87.4" lengthAdjust="spacingAndGlyphs" >Kelly</text>
<line x1="1347" y1="166.1" x2="1402" y2="166.1" stroke="#ff8000" stroke-width="4.5"/>
<rect x="1364.3" y="155.9" width="20.4" height="20.4" fill="#ff8000" stroke="#ff8000" stroke-width="0.6" stroke-linejoin="round"/>
<text x="1431.5" y="180.3" font-size="43" font-weight="normal" font-style="normal" fill="#000080" text-anchor="start" textLength="134.8" lengthAdjust="spacingAndGlyphs" >IMR-32</text>
<line x1="1347" y1="223.6" x2="1402" y2="223.6" stroke="#808000" stroke-width="4.5"/>
<path d="M1374.5,213.4 L1384.7,233.8 L1364.3,233.8 Z" fill="#808000" stroke="#808000" stroke-width="0.6" stroke-linejoin="round"/>
<text x="1431.5" y="237.8" font-size="43" font-weight="normal" font-style="normal" fill="#000080" text-anchor="start" textLength="139.1" lengthAdjust="spacingAndGlyphs" >SKNAS</text>
<line x1="1347" y1="281.1" x2="1402" y2="281.1" stroke="#008000" stroke-width="4.5"/>
<path d="M1374.5,291.3 L1384.7,270.9 L1364.3,270.9 Z" fill="#008000" stroke="#008000" stroke-width="0.6" stroke-linejoin="round"/>
<text x="1431.5" y="295.3" font-size="43" font-weight="normal" font-style="normal" fill="#000080" text-anchor="start" textLength="117.7" lengthAdjust="spacingAndGlyphs" >LAN-5</text>
<line x1="1347" y1="338.6" x2="1402" y2="338.6" stroke="#0000ff" stroke-width="4.5"/>
<path d="M1374.5,326.3 L1384.7,338.6 L1374.5,350.9 L1364.3,338.6 Z" fill="#0000ff" stroke="#0000ff" stroke-width="0.6" stroke-linejoin="round"/>
<text x="1431.5" y="352.8" font-size="43" font-weight="normal" font-style="normal" fill="#000080" text-anchor="start" textLength="161.1" lengthAdjust="spacingAndGlyphs" >LU-NB-2</text>
<line x1="1347" y1="396.1" x2="1402" y2="396.1" stroke="#760a96" stroke-width="4.5"/>
<circle cx="1374.5" cy="396.1" r="14.0" fill="#760a96"/>
<text x="1431.5" y="410.3" font-size="43" font-weight="normal" font-style="normal" fill="#000080" text-anchor="start" textLength="156.7" lengthAdjust="spacingAndGlyphs" >LU-NB-1</text>
<line x1="1347" y1="453.6" x2="1402" y2="453.6" stroke="#f2167f" stroke-width="4.5"/>
<rect x="1362.5" y="441.6" width="24.0" height="24.0" fill="#f2167f" stroke="#f2167f" stroke-width="4" stroke-linejoin="round"/>
<text x="1431.5" y="467.8" font-size="43" font-weight="normal" font-style="normal" fill="#000080" text-anchor="start" textLength="80.0" lengthAdjust="spacingAndGlyphs" >hNB</text>
<line x1="1347" y1="511.1" x2="1402" y2="511.1" stroke="#ff8000" stroke-width="4.5"/>
<path d="M1374.5,499.1 L1386.3,523.1 L1362.7,523.1 Z" fill="#ff8000" stroke="#ff8000" stroke-width="4" stroke-linejoin="round"/>
<text x="1431.5" y="525.3" font-size="43" font-weight="normal" font-style="normal" fill="#000080" text-anchor="start" textLength="112.2" lengthAdjust="spacingAndGlyphs" >SHEP</text>
<line x1="1347" y1="568.6" x2="1402" y2="568.6" stroke="#808000" stroke-width="4.5"/>
<path d="M1374.5,580.6 L1386.3,556.6 L1362.7,556.6 Z" fill="#808000" stroke="#808000" stroke-width="4" stroke-linejoin="round"/>
<text x="1431.5" y="582.8" font-size="43" font-weight="normal" font-style="normal" fill="#000080" text-anchor="start" >BJ</text>
<line x1="1347" y1="626.1" x2="1402" y2="626.1" stroke="#f2167f" stroke-width="4.5"/>
<path d="M1374.5,611.1 L1389.5,626.1 L1374.5,641.1 L1359.5,626.1 Z" fill="#f2167f" stroke="#f2167f" stroke-width="3" stroke-linejoin="round"/>
<text x="1431.5" y="640.3" font-size="43" font-weight="normal" font-style="normal" fill="#000080" text-anchor="start" textLength="80.6" lengthAdjust="spacingAndGlyphs" >hDF</text>
<text x="779.7" y="909.4" font-size="23" font-weight="bold" font-style="normal" fill="#111" text-anchor="middle" textLength="78.3" lengthAdjust="spacingAndGlyphs" >KELLY</text>
<rect x="676.2" y="996.6" width="96.4" height="125.7" rx="1.5" fill="#f2167f"/>
<line x1="865.5" y1="1050.7" x2="865.5" y2="1055.2" stroke="#ff7f00" stroke-width="2.7"/>
<line x1="842.5" y1="1050.7" x2="888.5" y2="1050.7" stroke="#ff7f00" stroke-width="2.7" stroke-linecap="round"/>
<rect x="817.0" y="1055.2" width="96.9" height="67.1" rx="1.5" fill="#ff7f00"/>
<line x1="653.75" y1="932.8" x2="653.75" y2="1122.3" stroke="#2b3590" stroke-width="2"/>
<line x1="648.75" y1="1122.3" x2="936.6" y2="1122.3" stroke="#2b3590" stroke-width="2"/>
<line x1="648.25" y1="933.8" x2="653.75" y2="933.8" stroke="#2b3590" stroke-width="2"/>
<text x="645.5" y="938.1" font-size="12.2" font-weight="normal" font-style="normal" fill="#1a1a1a" text-anchor="end" stroke="#1a1a1a" stroke-width="0.3">150</text>
<line x1="648.25" y1="996.6" x2="653.75" y2="996.6" stroke="#2b3590" stroke-width="2"/>
<text x="645.5" y="1001.0" font-size="12.2" font-weight="normal" font-style="normal" fill="#1a1a1a" text-anchor="end" stroke="#1a1a1a" stroke-width="0.3">100</text>
<line x1="648.25" y1="1059.5" x2="653.75" y2="1059.5" stroke="#2b3590" stroke-width="2"/>
<text x="645.5" y="1063.9" font-size="12.2" font-weight="normal" font-style="normal" fill="#1a1a1a" text-anchor="end" stroke="#1a1a1a" stroke-width="0.3">50</text>
<line x1="648.25" y1="1122.3" x2="653.75" y2="1122.3" stroke="#2b3590" stroke-width="2"/>
<text x="645.5" y="1126.7" font-size="12.2" font-weight="normal" font-style="normal" fill="#1a1a1a" text-anchor="end" stroke="#1a1a1a" stroke-width="0.3">0</text>
<line x1="724.5" y1="1122.3" x2="724.5" y2="1128.3" stroke="#2b3590" stroke-width="2"/>
<line x1="865.6" y1="1122.3" x2="865.6" y2="1128.3" stroke="#2b3590" stroke-width="2"/>
<rect x="837" y="920.9" width="22.4" height="12.3" rx="2" fill="#f2167f"/>
<text x="869.4" y="932.0" font-size="15.5" font-weight="normal" font-style="normal" fill="#15158a" text-anchor="start" >Control</text>
<rect x="837" y="942.5" width="22.4" height="12.3" rx="2" fill="#ff7f00"/>
<text x="869.4" y="953.6" font-size="15.5" font-weight="normal" font-style="normal" fill="#15158a" text-anchor="start" >Prozac</text>
<text x="833.3" y="1020.4" font-size="18" font-weight="bold" fill="#111" textLength="66.6" lengthAdjust="spacingAndGlyphs"><tspan font-style="italic">P</tspan>&lt; 0,01</text>
<text transform="translate(614.0,1027.5) rotate(-90)" x="0" y="0" font-size="21.5" font-weight="bold" fill="#111" text-anchor="middle" textLength="228.6" lengthAdjust="spacingAndGlyphs">of colonies over control</text>
<text transform="translate(588.5,1026.5) rotate(-90)" x="0" y="0" font-size="21.5" font-weight="bold" fill="#111" text-anchor="middle" textLength="17.2" lengthAdjust="spacingAndGlyphs">%</text>
<text x="1796.0" y="911.5" font-size="23" font-weight="bold" font-style="normal" fill="#111" text-anchor="middle" textLength="82.6" lengthAdjust="spacingAndGlyphs" >SKNAS</text>
<rect x="1693.3" y="998.5" width="96.2" height="125.5" rx="1.5" fill="#f2167f"/>
<line x1="1882.6" y1="1079.5" x2="1882.6" y2="1082.0" stroke="#ff7f00" stroke-width="2.7"/>
<line x1="1859.6" y1="1079.5" x2="1905.6" y2="1079.5" stroke="#ff7f00" stroke-width="2.7" stroke-linecap="round"/>
<rect x="1834.4" y="1082.0" width="96.3" height="42.0" rx="1.5" fill="#ff7f00"/>
<line x1="1670.5" y1="934.8" x2="1670.5" y2="1124.0" stroke="#2b3590" stroke-width="2"/>
<line x1="1665.5" y1="1124.0" x2="1954" y2="1124.0" stroke="#2b3590" stroke-width="2"/>
<line x1="1665.0" y1="935.8" x2="1670.5" y2="935.8" stroke="#2b3590" stroke-width="2"/>
<text x="1662.2" y="940.2" font-size="12.2" font-weight="normal" font-style="normal" fill="#1a1a1a" text-anchor="end" stroke="#1a1a1a" stroke-width="0.3">150</text>
<line x1="1665.0" y1="998.5" x2="1670.5" y2="998.5" stroke="#2b3590" stroke-width="2"/>
<text x="1662.2" y="1002.9" font-size="12.2" font-weight="normal" font-style="normal" fill="#1a1a1a" text-anchor="end" stroke="#1a1a1a" stroke-width="0.3">100</text>
<line x1="1665.0" y1="1061.3" x2="1670.5" y2="1061.3" stroke="#2b3590" stroke-width="2"/>
<text x="1662.2" y="1065.7" font-size="12.2" font-weight="normal" font-style="normal" fill="#1a1a1a" text-anchor="end" stroke="#1a1a1a" stroke-width="0.3">50</text>
<line x1="1665.0" y1="1124.0" x2="1670.5" y2="1124.0" stroke="#2b3590" stroke-width="2"/>
<text x="1662.2" y="1128.4" font-size="12.2" font-weight="normal" font-style="normal" fill="#1a1a1a" text-anchor="end" stroke="#1a1a1a" stroke-width="0.3">0</text>
<line x1="1741.3" y1="1124.0" x2="1741.3" y2="1130.0" stroke="#2b3590" stroke-width="2"/>
<line x1="1882.6" y1="1124.0" x2="1882.6" y2="1130.0" stroke="#2b3590" stroke-width="2"/>
<rect x="1853.6" y="922.6" width="22.9" height="12.6" rx="2" fill="#f2167f"/>
<text x="1886.5" y="934.0" font-size="15.5" font-weight="normal" font-style="normal" fill="#15158a" text-anchor="start" >Control</text>
<rect x="1853.6" y="944.3" width="22.9" height="12.7" rx="2" fill="#ff7f00"/>
<text x="1886.5" y="955.8" font-size="15.5" font-weight="normal" font-style="normal" fill="#15158a" text-anchor="start" >Prozac</text>
<text x="1839.5" y="1055.2" font-size="18" font-weight="bold" fill="#111" textLength="88.7" lengthAdjust="spacingAndGlyphs"><tspan font-style="italic">P</tspan>&lt; 0,0001</text>
<text transform="translate(1631.0,1028.9) rotate(-90)" x="0" y="0" font-size="21.5" font-weight="bold" fill="#111" text-anchor="middle" textLength="228.6" lengthAdjust="spacingAndGlyphs">of colonies over control</text>
<text transform="translate(1606.5,1029.0) rotate(-90)" x="0" y="0" font-size="21.5" font-weight="bold" fill="#111" text-anchor="middle" textLength="17.2" lengthAdjust="spacingAndGlyphs">%</text>
<text x="779.2" y="1351.0" font-size="23" font-weight="bold" font-style="normal" fill="#111" text-anchor="middle" textLength="49.2" lengthAdjust="spacingAndGlyphs" >hNB</text>
<rect x="675.3" y="1437.5" width="97.2" height="125.4" rx="1.5" fill="#f2167f"/>
<line x1="865.5" y1="1438.1" x2="865.5" y2="1452.5" stroke="#ff7f00" stroke-width="2.7"/>
<line x1="842.5" y1="1438.1" x2="888.5" y2="1438.1" stroke="#ff7f00" stroke-width="2.7" stroke-linecap="round"/>
<rect x="816.6" y="1452.5" width="97.7" height="110.4" rx="1.5" fill="#ff7f00"/>
<line x1="653" y1="1373.8" x2="653" y2="1562.9" stroke="#2b3590" stroke-width="2"/>
<line x1="648" y1="1562.9" x2="936" y2="1562.9" stroke="#2b3590" stroke-width="2"/>
<line x1="647.5" y1="1374.8" x2="653" y2="1374.8" stroke="#2b3590" stroke-width="2"/>
<text x="644.7" y="1379.2" font-size="12.2" font-weight="normal" font-style="normal" fill="#1a1a1a" text-anchor="end" stroke="#1a1a1a" stroke-width="0.3">150</text>
<line x1="647.5" y1="1437.5" x2="653" y2="1437.5" stroke="#2b3590" stroke-width="2"/>
<text x="644.7" y="1441.9" font-size="12.2" font-weight="normal" font-style="normal" fill="#1a1a1a" text-anchor="end" stroke="#1a1a1a" stroke-width="0.3">100</text>
<line x1="647.5" y1="1500.2" x2="653" y2="1500.2" stroke="#2b3590" stroke-width="2"/>
<text x="644.7" y="1504.6" font-size="12.2" font-weight="normal" font-style="normal" fill="#1a1a1a" text-anchor="end" stroke="#1a1a1a" stroke-width="0.3">50</text>
<line x1="647.5" y1="1562.9" x2="653" y2="1562.9" stroke="#2b3590" stroke-width="2"/>
<text x="644.7" y="1567.3" font-size="12.2" font-weight="normal" font-style="normal" fill="#1a1a1a" text-anchor="end" stroke="#1a1a1a" stroke-width="0.3">0</text>
<line x1="724" y1="1562.9" x2="724" y2="1568.9" stroke="#2b3590" stroke-width="2"/>
<line x1="865" y1="1562.9" x2="865" y2="1568.9" stroke="#2b3590" stroke-width="2"/>
<rect x="836" y="1361.3" width="23.7" height="13.0" rx="2" fill="#f2167f"/>
<text x="869.7" y="1373.1" font-size="15.5" font-weight="normal" font-style="normal" fill="#15158a" text-anchor="start" >Control</text>
<rect x="836" y="1383.6" width="23.7" height="13.0" rx="2" fill="#ff7f00"/>
<text x="869.7" y="1395.4" font-size="15.5" font-weight="normal" font-style="normal" fill="#15158a" text-anchor="start" >Prozac</text>
<text x="855.5" y="1425.3" font-size="21" font-weight="bold" font-style="italic" fill="#111" text-anchor="start" textLength="22.8" lengthAdjust="spacingAndGlyphs" >ns</text>
<text transform="translate(614.5,1468.5) rotate(-90)" x="0" y="0" font-size="21.5" font-weight="bold" fill="#111" text-anchor="middle" textLength="228.6" lengthAdjust="spacingAndGlyphs">of colonies over control</text>
<text transform="translate(589.6,1467.0) rotate(-90)" x="0" y="0" font-size="21.5" font-weight="bold" fill="#111" text-anchor="middle" textLength="17.2" lengthAdjust="spacingAndGlyphs">%</text>
<text x="1796.0" y="1333.3" font-size="23" font-weight="bold" font-style="normal" fill="#111" text-anchor="middle" textLength="31.7" lengthAdjust="spacingAndGlyphs" >BJ</text>
<rect x="1693.0" y="1420.9" width="96.0" height="125.9" rx="1.5" fill="#f2167f"/>
<line x1="1882.5" y1="1412.8" x2="1882.5" y2="1414.6" stroke="#ff7f00" stroke-width="2.7"/>
<line x1="1859.5" y1="1412.8" x2="1905.5" y2="1412.8" stroke="#ff7f00" stroke-width="2.7" stroke-linecap="round"/>
<rect x="1834.0" y="1414.6" width="97.0" height="132.2" rx="1.5" fill="#ff7f00"/>
<line x1="1668" y1="1357.0" x2="1668" y2="1546.8" stroke="#2b3590" stroke-width="2"/>
<line x1="1663" y1="1546.8" x2="1954" y2="1546.8" stroke="#2b3590" stroke-width="2"/>
<line x1="1662.5" y1="1358.0" x2="1668" y2="1358.0" stroke="#2b3590" stroke-width="2"/>
<text x="1659.7" y="1362.4" font-size="12.2" font-weight="normal" font-style="normal" fill="#1a1a1a" text-anchor="end" stroke="#1a1a1a" stroke-width="0.3">150</text>
<line x1="1662.5" y1="1420.9" x2="1668" y2="1420.9" stroke="#2b3590" stroke-width="2"/>
<text x="1659.7" y="1425.3" font-size="12.2" font-weight="normal" font-style="normal" fill="#1a1a1a" text-anchor="end" stroke="#1a1a1a" stroke-width="0.3">100</text>
<line x1="1662.5" y1="1483.9" x2="1668" y2="1483.9" stroke="#2b3590" stroke-width="2"/>
<text x="1659.7" y="1488.3" font-size="12.2" font-weight="normal" font-style="normal" fill="#1a1a1a" text-anchor="end" stroke="#1a1a1a" stroke-width="0.3">50</text>
<line x1="1662.5" y1="1546.8" x2="1668" y2="1546.8" stroke="#2b3590" stroke-width="2"/>
<text x="1659.7" y="1551.2" font-size="12.2" font-weight="normal" font-style="normal" fill="#1a1a1a" text-anchor="end" stroke="#1a1a1a" stroke-width="0.3">0</text>
<line x1="1741" y1="1546.8" x2="1741" y2="1552.8" stroke="#2b3590" stroke-width="2"/>
<line x1="1882" y1="1546.8" x2="1882" y2="1552.8" stroke="#2b3590" stroke-width="2"/>
<rect x="1854" y="1345" width="22.0" height="12.0" rx="2" fill="#f2167f"/>
<text x="1886.0" y="1355.8" font-size="15.5" font-weight="normal" font-style="normal" fill="#15158a" text-anchor="start" >Control</text>
<rect x="1854" y="1367.6" width="22.0" height="11.6" rx="2" fill="#ff7f00"/>
<text x="1886.0" y="1378.0" font-size="15.5" font-weight="normal" font-style="normal" fill="#15158a" text-anchor="start" >Prozac</text>
<text x="1867.5" y="1404.5" font-size="21" font-weight="bold" font-style="italic" fill="#111" text-anchor="start" textLength="22.8" lengthAdjust="spacingAndGlyphs" >ns</text>
<text transform="translate(1632.6,1451.0) rotate(-90)" x="0" y="0" font-size="21.5" font-weight="bold" fill="#111" text-anchor="middle" textLength="228.6" lengthAdjust="spacingAndGlyphs">of colonies over control</text>
<text transform="translate(1607.3,1450.6) rotate(-90)" x="0" y="0" font-size="21.5" font-weight="bold" fill="#111" text-anchor="middle" textLength="17.2" lengthAdjust="spacingAndGlyphs">%</text>
<text x="342.0" y="844.5" font-size="26" font-weight="bold" font-style="normal" fill="#111" text-anchor="middle" textLength="84.9" lengthAdjust="spacingAndGlyphs" >KELLY</text>
<text x="-1.0" y="944.5" font-size="26" font-weight="bold" font-style="normal" fill="#111" text-anchor="start" textLength="93.8" lengthAdjust="spacingAndGlyphs" >Control</text>
<text x="-1.0" y="1092.3" font-size="26" font-weight="bold" font-style="normal" fill="#111" text-anchor="start" textLength="86.5" lengthAdjust="spacingAndGlyphs" >Prozac</text>
<text x="1343.0" y="842.0" font-size="26" font-weight="bold" font-style="normal" fill="#111" text-anchor="middle" >SKNAS</text>
<text x="1004.5" y="958.0" font-size="26" font-weight="bold" font-style="normal" fill="#111" text-anchor="start" textLength="93.8" lengthAdjust="spacingAndGlyphs" >Control</text>
<text x="1004.5" y="1106.8" font-size="26" font-weight="bold" font-style="normal" fill="#111" text-anchor="start" textLength="86.5" lengthAdjust="spacingAndGlyphs" >Prozac</text>
<text x="326.5" y="1260.5" font-size="26" font-weight="bold" font-style="normal" fill="#111" text-anchor="middle" textLength="54.5" lengthAdjust="spacingAndGlyphs" >hNB</text>
<text x="-1.0" y="1347.3" font-size="26" font-weight="bold" font-style="normal" fill="#111" text-anchor="start" textLength="93.8" lengthAdjust="spacingAndGlyphs" >Control</text>
<text x="-1.0" y="1494.3" font-size="26" font-weight="bold" font-style="normal" fill="#111" text-anchor="start" textLength="86.5" lengthAdjust="spacingAndGlyphs" >Prozac</text>
<text x="1360.7" y="1259.5" font-size="26" font-weight="bold" font-style="normal" fill="#111" text-anchor="middle" textLength="36.0" lengthAdjust="spacingAndGlyphs" >BJ</text>
<text x="1004.0" y="1390.0" font-size="26" font-weight="bold" font-style="normal" fill="#111" text-anchor="start" textLength="93.8" lengthAdjust="spacingAndGlyphs" >Control</text>
<text x="1004.0" y="1538.0" font-size="26" font-weight="bold" font-style="normal" fill="#111" text-anchor="start" textLength="86.5" lengthAdjust="spacingAndGlyphs" >Prozac</text>
<clipPath id="clip11"><rect x="108" y="862" width="455" height="297"/></clipPath><g clip-path="url(#clip11)"><rect x="108" y="862" width="455" height="297" fill="url(#pb11)"/><circle cx="260.9" cy="1010.5" r="19" fill="none" stroke="#c2c8d4" stroke-width="1.5"/><circle cx="260.9" cy="1010.5" r="13" fill="none" stroke="#f3f4f7" stroke-width="2"/><circle cx="260.9" cy="1010.5" r="12" fill="none" stroke="#c2c8d4" stroke-width="1.2"/><circle cx="410.1" cy="1010.5" r="19" fill="none" stroke="#c2c8d4" stroke-width="1.5"/><circle cx="410.1" cy="1010.5" r="13" fill="none" stroke="#f3f4f7" stroke-width="2"/><circle cx="410.1" cy="1010.5" r="12" fill="none" stroke="#c2c8d4" stroke-width="1.2"/><circle cx="187.2" cy="940.1" r="71.9" fill="#e3e7ee" stroke="#c2c8d4" stroke-width="1.4"/><circle cx="187.2" cy="940.1" r="68.4" fill="none" stroke="#f5f6f9" stroke-width="3" stroke-opacity="0.6"/><circle cx="191.2" cy="943.1" r="62.2" fill="url(#wg11_0)" stroke="#c2c8d4" stroke-width="1.4"/><circle cx="191.2" cy="943.1" r="64.2" fill="none" stroke="#f7f8fa" stroke-width="1.8" stroke-opacity="0.6"/><g><circle cx="145.4" cy="957.2" r="1.0" fill="#8888a8" fill-opacity="0.68"/><circle cx="208.3" cy="921.1" r="0.9" fill="#8888a8" fill-opacity="0.75"/><circle cx="196.4" cy="924.2" r="0.6" fill="#7a7a9a" fill-opacity="0.72"/><circle cx="230.6" cy="910.7" r="0.7" fill="#8888a8" fill-opacity="0.89"/><circle cx="162.6" cy="901.7" r="0.5" fill="#7a7a9a" fill-opacity="0.83"/><circle cx="202.3" cy="947.8" r="1.0" fill="#6a6a90" fill-opacity="0.51"/><circle cx="149.7" cy="952.7" r="0.9" fill="#6a6a90" fill-opacity="0.59"/><circle cx="190.0" cy="947.3" r="0.5" fill="#6a6a90" fill-opacity="0.61"/><circle cx="255.1" cy="942.2" r="0.9" fill="#6a6a90" fill-opacity="0.60"/><circle cx="193.5" cy="897.3" r="0.5" fill="#6a6a90" fill-opacity="0.81"/><circle cx="143.4" cy="977.6" r="0.6" fill="#7a7a9a" fill-opacity="0.84"/><circle cx="220.5" cy="943.2" r="1.0" fill="#8888a8" fill-opacity="0.65"/><circle cx="180.6" cy="903.0" r="0.7" fill="#7a7a9a" fill-opacity="0.81"/><circle cx="188.8" cy="961.9" r="0.6" fill="#8888a8" fill-opacity="0.80"/><circle cx="214.6" cy="964.6" r="0.5" fill="#7a7a9a" fill-opacity="0.69"/><circle cx="138.5" cy="947.5" r="0.5" fill="#6a6a90" fill-opacity="0.58"/><circle cx="188.5" cy="920.1" r="0.7" fill="#7a7a9a" fill-opacity="0.66"/><circle cx="192.6" cy="943.0" r="0.9" fill="#6a6a90" fill-opacity="0.62"/><circle cx="213.2" cy="923.6" r="0.6" fill="#6a6a90" fill-opacity="0.76"/><circle cx="242.6" cy="980.7" r="0.5" fill="#8888a8" fill-opacity="0.50"/><circle cx="146.3" cy="905.8" r="0.6" fill="#7a7a9a" fill-opacity="0.54"/><circle cx="163.8" cy="927.4" r="0.7" fill="#8888a8" fill-opacity="0.75"/><circle cx="225.4" cy="978.3" r="0.9" fill="#7a7a9a" fill-opacity="0.85"/><circle cx="201.5" cy="966.1" r="1.0" fill="#6a6a90" fill-opacity="0.60"/><circle cx="211.5" cy="994.3" r="1.0" fill="#7a7a9a" fill-opacity="0.77"/><circle cx="157.2" cy="971.9" r="0.5" fill="#7a7a9a" fill-opacity="0.54"/><circle cx="252.2" cy="958.2" r="0.5" fill="#6a6a90" fill-opacity="0.66"/><circle cx="137.6" cy="972.2" r="0.6" fill="#6a6a90" fill-opacity="0.57"/><circle cx="188.1" cy="926.6" r="0.5" fill="#6a6a90" fill-opacity="0.76"/><circle cx="178.2" cy="931.5" r="0.5" fill="#7a7a9a" fill-opacity="0.80"/><circle cx="228.4" cy="960.4" r="0.5" fill="#7a7a9a" fill-opacity="0.57"/><circle cx="158.3" cy="978.7" r="0.5" fill="#8888a8" fill-opacity="0.56"/><circle cx="156.1" cy="954.4" r="0.8" fill="#6a6a90" fill-opacity="0.73"/><circle cx="198.8" cy="952.4" r="0.5" fill="#8888a8" fill-opacity="0.78"/><circle cx="200.3" cy="940.9" r="0.7" fill="#8888a8" fill-opacity="0.53"/><circle cx="182.3" cy="965.1" r="0.5" fill="#8888a8" fill-opacity="0.72"/><circle cx="186.2" cy="882.5" r="0.8" fill="#6a6a90" fill-opacity="0.55"/><circle cx="227.6" cy="934.6" r="0.5" fill="#8888a8" fill-opacity="0.86"/><circle cx="219.7" cy="913.2" r="0.9" fill="#8888a8" fill-opacity="0.73"/><circle cx="163.2" cy="915.1" r="0.7" fill="#6a6a90" fill-opacity="0.53"/><circle cx="209.5" cy="954.9" r="0.5" fill="#8888a8" fill-opacity="0.79"/><circle cx="149.2" cy="978.5" r="0.7" fill="#8888a8" fill-opacity="0.69"/><circle cx="146.6" cy="931.3" r="0.7" fill="#8888a8" fill-opacity="0.74"/><circle cx="160.7" cy="946.8" r="0.8" fill="#8888a8" fill-opacity="0.81"/><circle cx="167.3" cy="905.4" r="1.0" fill="#8888a8" fill-opacity="0.62"/><circle cx="178.6" cy="917.2" r="0.5" fill="#8888a8" fill-opacity="0.76"/><circle cx="134.7" cy="964.7" r="0.6" fill="#6a6a90" fill-opacity="0.60"/><circle cx="153.0" cy="900.2" r="0.8" fill="#7a7a9a" fill-opacity="0.85"/><circle cx="154.6" cy="975.6" r="0.6" fill="#7a7a9a" fill-opacity="0.55"/><circle cx="155.3" cy="992.0" r="0.5" fill="#7a7a9a" fill-opacity="0.88"/><circle cx="186.8" cy="969.1" r="0.6" fill="#8888a8" fill-opacity="0.87"/><circle cx="210.5" cy="908.5" r="0.7" fill="#6a6a90" fill-opacity="0.63"/><circle cx="224.9" cy="889.3" r="0.6" fill="#7a7a9a" fill-opacity="0.83"/><circle cx="182.4" cy="992.3" r="0.8" fill="#8888a8" fill-opacity="0.73"/><circle cx="170.5" cy="996.2" r="0.5" fill="#7a7a9a" fill-opacity="0.66"/><circle cx="211.9" cy="995.3" r="0.5" fill="#7a7a9a" fill-opacity="0.82"/><circle cx="212.8" cy="940.9" r="0.5" fill="#6a6a90" fill-opacity="0.76"/><circle cx="213.3" cy="884.4" r="0.8" fill="#7a7a9a" fill-opacity="0.83"/><circle cx="189.1" cy="997.2" r="0.8" fill="#6a6a90" fill-opacity="0.79"/><circle cx="205.6" cy="973.3" r="0.6" fill="#6a6a90" fill-opacity="0.88"/><circle cx="127.2" cy="942.9" r="0.5" fill="#6a6a90" fill-opacity="0.86"/><circle cx="244.0" cy="975.3" r="0.8" fill="#7a7a9a" fill-opacity="0.68"/><circle cx="210.9" cy="1000.1" r="0.5" fill="#6a6a90" fill-opacity="0.73"/><circle cx="232.7" cy="903.8" r="1.0" fill="#8888a8" fill-opacity="0.63"/><circle cx="211.2" cy="940.9" r="1.0" fill="#6a6a90" fill-opacity="0.87"/><circle cx="213.7" cy="965.2" r="0.6" fill="#7a7a9a" fill-opacity="0.89"/><circle cx="135.7" cy="930.0" r="0.6" fill="#6a6a90" fill-opacity="0.84"/><circle cx="180.5" cy="958.1" r="0.6" fill="#6a6a90" fill-opacity="0.67"/><circle cx="181.5" cy="1003.8" r="0.5" fill="#7a7a9a" fill-opacity="0.67"/><circle cx="236.8" cy="953.3" r="0.8" fill="#7a7a9a" fill-opacity="0.69"/></g><g><circle cx="252.0" cy="943.0" r="0.8" fill="#1e1090" fill-opacity="0.88"/><circle cx="128.8" cy="946.0" r="0.6" fill="#3523c0" fill-opacity="0.73"/><circle cx="136.7" cy="922.0" r="0.8" fill="#3523c0" fill-opacity="0.76"/><circle cx="217.8" cy="903.2" r="0.7" fill="#1e1090" fill-opacity="0.89"/><circle cx="225.4" cy="906.7" r="0.7" fill="#3523c0" fill-opacity="0.89"/><circle cx="143.2" cy="935.8" r="0.6" fill="#2a1aa8" fill-opacity="0.75"/><circle cx="182.7" cy="936.6" r="1.3" fill="#1e1090" fill-opacity="0.76"/><circle cx="213.5" cy="941.6" r="0.6" fill="#3523c0" fill-opacity="0.62"/><circle cx="151.2" cy="933.2" r="1.2" fill="#1e1090" fill-opacity="0.68"/><circle cx="168.7" cy="946.9" r="0.7" fill="#1e1090" fill-opacity="0.76"/><circle cx="223.4" cy="969.3" r="0.6" fill="#4434d0" fill-opacity="0.64"/><circle cx="192.9" cy="933.6" r="0.6" fill="#3523c0" fill-opacity="0.60"/><circle cx="179.6" cy="996.4" r="0.6" fill="#1e1090" fill-opacity="0.63"/><circle cx="188.5" cy="920.8" r="0.8" fill="#4434d0" fill-opacity="0.82"/><circle cx="173.1" cy="885.9" r="0.6" fill="#1e1090" fill-opacity="0.85"/><circle cx="156.1" cy="911.9" r="1.1" fill="#3523c0" fill-opacity="0.76"/><circle cx="220.9" cy="902.8" r="1.1" fill="#3523c0" fill-opacity="0.87"/><circle cx="165.0" cy="915.9" r="0.6" fill="#4434d0" fill-opacity="0.87"/><circle cx="210.4" cy="996.2" r="0.6" fill="#2a1aa8" fill-opacity="0.64"/><circle cx="194.8" cy="997.6" r="0.6" fill="#2a1aa8" fill-opacity="0.73"/><circle cx="235.2" cy="926.1" r="0.9" fill="#3523c0" fill-opacity="0.72"/><circle cx="187.8" cy="935.3" r="0.6" fill="#4434d0" fill-opacity="0.87"/><circle cx="212.5" cy="938.8" r="0.8" fill="#4434d0" fill-opacity="0.75"/><circle cx="180.2" cy="917.5" r="0.6" fill="#2a1aa8" fill-opacity="0.61"/><circle cx="194.9" cy="893.1" r="1.2" fill="#1e1090" fill-opacity="0.64"/><circle cx="202.7" cy="969.6" r="1.1" fill="#4434d0" fill-opacity="0.88"/><circle cx="204.3" cy="952.1" r="1.2" fill="#1e1090" fill-opacity="0.62"/><circle cx="224.0" cy="966.0" r="0.7" fill="#4434d0" fill-opacity="0.73"/><circle cx="185.2" cy="938.7" r="0.9" fill="#3523c0" fill-opacity="0.65"/><circle cx="138.4" cy="958.8" r="0.7" fill="#3523c0" fill-opacity="0.78"/><circle cx="238.4" cy="975.1" r="0.7" fill="#2a1aa8" fill-opacity="0.84"/><circle cx="174.5" cy="886.1" r="0.9" fill="#1e1090" fill-opacity="0.77"/><circle cx="208.9" cy="988.8" r="0.7" fill="#4434d0" fill-opacity="0.68"/><circle cx="232.3" cy="980.0" r="0.6" fill="#1e1090" fill-opacity="0.64"/><circle cx="168.5" cy="984.3" r="0.7" fill="#1e1090" fill-opacity="0.83"/><circle cx="146.0" cy="973.5" r="0.6" fill="#4434d0" fill-opacity="0.69"/><circle cx="239.8" cy="978.9" r="1.3" fill="#2a1aa8" fill-opacity="0.67"/><circle cx="240.3" cy="925.3" r="0.7" fill="#1e1090" fill-opacity="0.77"/><circle cx="152.1" cy="934.9" r="1.3" fill="#3523c0" fill-opacity="0.81"/><circle cx="195.8" cy="879.9" r="0.6" fill="#2a1aa8" fill-opacity="0.82"/></g><g><circle cx="189.5" cy="983.7" r="1.2" fill="#3523c0" fill-opacity="0.95"/><circle cx="223.7" cy="945.3" r="1.4" fill="#4434d0" fill-opacity="0.93"/><circle cx="128.3" cy="940.0" r="2.2" fill="#2a1aa8" fill-opacity="0.95"/><circle cx="197.6" cy="926.7" r="2.3" fill="#2a1aa8" fill-opacity="0.91"/><circle cx="228.0" cy="928.1" r="4.2" fill="#1e1090" fill-opacity="0.93"/><circle cx="156.7" cy="919.2" r="2.0" fill="#4434d0" fill-opacity="0.93"/><circle cx="159.5" cy="920.8" r="1.5" fill="#4434d0" fill-opacity="0.93"/><circle cx="179.8" cy="996.1" r="1.5" fill="#2a1aa8" fill-opacity="0.97"/><circle cx="147.4" cy="916.9" r="1.7" fill="#1e1090" fill-opacity="0.86"/><circle cx="175.1" cy="980.2" r="2.3" fill="#4434d0" fill-opacity="0.86"/><circle cx="226.0" cy="919.6" r="1.9" fill="#3523c0" fill-opacity="0.86"/><circle cx="238.1" cy="976.5" r="3.8" fill="#3523c0" fill-opacity="1.00"/><circle cx="211.4" cy="897.7" r="1.2" fill="#1e1090" fill-opacity="0.92"/><circle cx="195.4" cy="957.1" r="2.1" fill="#2a1aa8" fill-opacity="0.90"/><circle cx="217.6" cy="974.9" r="2.4" fill="#1e1090" fill-opacity="0.90"/><circle cx="188.9" cy="885.3" r="1.3" fill="#4434d0" fill-opacity="0.96"/><circle cx="192.7" cy="964.7" r="3.8" fill="#4434d0" fill-opacity="0.89"/><circle cx="149.1" cy="908.4" r="2.8" fill="#3523c0" fill-opacity="0.94"/><circle cx="191.8" cy="915.2" r="1.4" fill="#3523c0" fill-opacity="0.98"/><circle cx="206.5" cy="947.0" r="1.4" fill="#1e1090" fill-opacity="0.85"/><circle cx="220.5" cy="950.3" r="1.4" fill="#2a1aa8" fill-opacity="0.99"/><circle cx="207.7" cy="969.4" r="4.3" fill="#1e1090" fill-opacity="0.92"/><circle cx="200.4" cy="979.5" r="3.0" fill="#2a1aa8" fill-opacity="0.97"/><circle cx="136.3" cy="962.0" r="3.4" fill="#3523c0" fill-opacity="0.92"/><circle cx="190.5" cy="903.1" r="1.3" fill="#3523c0" fill-opacity="0.95"/><circle cx="227.6" cy="940.6" r="2.2" fill="#3523c0" fill-opacity="0.91"/><circle cx="177.6" cy="957.7" r="3.7" fill="#2a1aa8" fill-opacity="0.93"/><circle cx="147.2" cy="963.1" r="3.3" fill="#1e1090" fill-opacity="0.89"/><circle cx="194.0" cy="925.7" r="1.3" fill="#2a1aa8" fill-opacity="0.95"/><circle cx="135.2" cy="945.0" r="1.5" fill="#3523c0" fill-opacity="0.88"/><circle cx="171.0" cy="912.5" r="3.8" fill="#4434d0" fill-opacity="0.96"/><circle cx="135.5" cy="917.2" r="4.0" fill="#4434d0" fill-opacity="0.92"/><circle cx="202.7" cy="909.7" r="1.5" fill="#1e1090" fill-opacity="1.00"/><circle cx="185.3" cy="897.5" r="1.2" fill="#4434d0" fill-opacity="0.85"/><circle cx="169.5" cy="899.2" r="3.2" fill="#4434d0" fill-opacity="0.97"/><circle cx="134.5" cy="928.3" r="2.2" fill="#3523c0" fill-opacity="0.86"/><circle cx="134.4" cy="959.9" r="3.3" fill="#3523c0" fill-opacity="0.93"/><circle cx="144.8" cy="929.9" r="4.2" fill="#1e1090" fill-opacity="0.86"/><circle cx="136.8" cy="926.6" r="1.2" fill="#2a1aa8" fill-opacity="0.89"/><circle cx="219.5" cy="965.2" r="1.2" fill="#3523c0" fill-opacity="0.86"/><circle cx="208.0" cy="905.1" r="2.8" fill="#1e1090" fill-opacity="0.96"/><circle cx="135.7" cy="935.5" r="1.7" fill="#4434d0" fill-opacity="0.97"/><circle cx="179.4" cy="963.6" r="2.0" fill="#2a1aa8" fill-opacity="0.96"/><circle cx="226.5" cy="922.2" r="3.4" fill="#4434d0" fill-opacity="0.98"/><circle cx="211.3" cy="888.2" r="3.7" fill="#2a1aa8" fill-opacity="0.93"/><circle cx="176.9" cy="887.5" r="1.8" fill="#1e1090" fill-opacity="0.99"/><circle cx="191.9" cy="968.9" r="2.5" fill="#3523c0" fill-opacity="0.90"/><circle cx="155.4" cy="973.0" r="1.4" fill="#2a1aa8" fill-opacity="0.92"/><circle cx="186.9" cy="908.1" r="1.3" fill="#3523c0" fill-opacity="0.99"/><circle cx="191.3" cy="934.7" r="1.9" fill="#2a1aa8" fill-opacity="0.90"/><circle cx="203.6" cy="979.4" r="2.3" fill="#1e1090" fill-opacity="0.94"/><circle cx="195.7" cy="970.3" r="1.5" fill="#3523c0" fill-opacity="0.99"/><circle cx="238.0" cy="923.7" r="4.0" fill="#1e1090" fill-opacity="0.98"/><circle cx="150.7" cy="947.0" r="4.1" fill="#2a1aa8" fill-opacity="0.92"/><circle cx="193.8" cy="957.2" r="4.1" fill="#1e1090" fill-opacity="1.00"/><circle cx="206.8" cy="889.0" r="3.2" fill="#2a1aa8" fill-opacity="0.95"/><circle cx="191.7" cy="949.8" r="1.9" fill="#4434d0" fill-opacity="0.92"/><circle cx="192.1" cy="984.7" r="3.6" fill="#1e1090" fill-opacity="0.87"/><circle cx="176.9" cy="972.5" r="3.6" fill="#3523c0" fill-opacity="0.95"/><circle cx="224.2" cy="941.7" r="2.1" fill="#3523c0" fill-opacity="0.94"/><circle cx="203.8" cy="969.2" r="3.9" fill="#3523c0" fill-opacity="0.97"/><circle cx="220.1" cy="959.6" r="2.8" fill="#2a1aa8" fill-opacity="0.98"/><circle cx="184.8" cy="925.8" r="3.0" fill="#4434d0" fill-opacity="0.85"/><circle cx="201.9" cy="969.1" r="2.7" fill="#1e1090" fill-opacity="0.88"/><circle cx="146.4" cy="930.6" r="1.3" fill="#4434d0" fill-opacity="0.90"/><circle cx="151.6" cy="969.9" r="4.4" fill="#2a1aa8" fill-opacity="0.90"/><circle cx="183.2" cy="923.9" r="1.7" fill="#1e1090" fill-opacity="0.96"/><circle cx="196.0" cy="921.3" r="1.8" fill="#1e1090" fill-opacity="0.96"/><circle cx="156.9" cy="948.5" r="1.2" fill="#2a1aa8" fill-opacity="0.98"/><circle cx="221.6" cy="898.1" r="3.8" fill="#3523c0" fill-opacity="0.89"/></g><circle cx="335.0" cy="940.1" r="71.9" fill="#e3e7ee" stroke="#c2c8d4" stroke-width="1.4"/><circle cx="335.0" cy="940.1" r="68.4" fill="none" stroke="#f5f6f9" stroke-width="3" stroke-opacity="0.6"/><circle cx="335.0" cy="943.1" r="62.2" fill="url(#wg11_0)" stroke="#c2c8d4" stroke-width="1.4"/><circle cx="335.0" cy="943.1" r="64.2" fill="none" stroke="#f7f8fa" stroke-width="1.8" stroke-opacity="0.6"/><g><circle cx="301.6" cy="976.2" r="0.6" fill="#8888a8" fill-opacity="0.80"/><circle cx="317.3" cy="936.6" r="0.5" fill="#8888a8" fill-opacity="0.79"/><circle cx="305.3" cy="997.8" r="0.7" fill="#6a6a90" fill-opacity="0.76"/><circle cx="297.6" cy="956.1" r="0.5" fill="#6a6a90" fill-opacity="0.54"/><circle cx="311.4" cy="894.7" r="0.5" fill="#8888a8" fill-opacity="0.51"/><circle cx="282.7" cy="955.4" r="0.5" fill="#7a7a9a" fill-opacity="0.56"/><circle cx="364.1" cy="971.8" r="0.5" fill="#8888a8" fill-opacity="0.87"/><circle cx="353.7" cy="965.4" r="0.5" fill="#6a6a90" fill-opacity="0.65"/><circle cx="314.9" cy="979.0" r="0.5" fill="#8888a8" fill-opacity="0.75"/><circle cx="311.6" cy="994.9" r="0.5" fill="#6a6a90" fill-opacity="0.71"/><circle cx="333.2" cy="970.9" r="0.6" fill="#8888a8" fill-opacity="0.54"/><circle cx="302.2" cy="974.9" r="0.9" fill="#7a7a9a" fill-opacity="0.74"/><circle cx="365.6" cy="990.1" r="1.0" fill="#6a6a90" fill-opacity="0.59"/><circle cx="300.1" cy="913.4" r="0.7" fill="#7a7a9a" fill-opacity="0.89"/><circle cx="281.1" cy="937.7" r="0.9" fill="#7a7a9a" fill-opacity="0.73"/><circle cx="386.3" cy="951.8" r="0.9" fill="#7a7a9a" fill-opacity="0.60"/><circle cx="287.6" cy="918.4" r="0.6" fill="#8888a8" fill-opacity="0.61"/><circle cx="367.0" cy="914.2" r="0.8" fill="#7a7a9a" fill-opacity="0.86"/><circle cx="288.9" cy="930.2" r="0.7" fill="#8888a8" fill-opacity="0.57"/><circle cx="333.4" cy="882.5" r="0.6" fill="#7a7a9a" fill-opacity="0.55"/><circle cx="350.6" cy="912.4" r="1.0" fill="#7a7a9a" fill-opacity="0.80"/><circle cx="318.0" cy="962.9" r="0.7" fill="#7a7a9a" fill-opacity="0.68"/><circle cx="288.5" cy="975.4" r="1.0" fill="#6a6a90" fill-opacity="0.56"/><circle cx="337.3" cy="884.2" r="1.0" fill="#6a6a90" fill-opacity="0.74"/><circle cx="337.8" cy="935.4" r="0.5" fill="#8888a8" fill-opacity="0.51"/><circle cx="313.4" cy="939.3" r="0.6" fill="#8888a8" fill-opacity="0.71"/><circle cx="330.9" cy="991.2" r="0.6" fill="#6a6a90" fill-opacity="0.81"/><circle cx="325.0" cy="887.2" r="0.6" fill="#8888a8" fill-opacity="0.74"/><circle cx="294.7" cy="950.8" r="0.7" fill="#6a6a90" fill-opacity="0.73"/><circle cx="306.7" cy="961.9" r="1.0" fill="#8888a8" fill-opacity="0.84"/><circle cx="360.2" cy="910.8" r="0.6" fill="#6a6a90" fill-opacity="0.55"/><circle cx="369.2" cy="929.3" r="0.7" fill="#8888a8" fill-opacity="0.86"/><circle cx="328.6" cy="956.6" r="0.8" fill="#8888a8" fill-opacity="0.79"/><circle cx="289.6" cy="911.2" r="0.6" fill="#6a6a90" fill-opacity="0.85"/><circle cx="337.1" cy="1001.9" r="0.5" fill="#8888a8" fill-opacity="0.89"/><circle cx="314.5" cy="946.3" r="1.0" fill="#6a6a90" fill-opacity="0.62"/><circle cx="310.4" cy="962.1" r="0.5" fill="#6a6a90" fill-opacity="0.89"/><circle cx="304.9" cy="891.7" r="0.6" fill="#7a7a9a" fill-opacity="0.59"/><circle cx="334.0" cy="894.9" r="1.0" fill="#7a7a9a" fill-opacity="0.71"/><circle cx="376.2" cy="987.0" r="0.7" fill="#8888a8" fill-opacity="0.50"/><circle cx="336.4" cy="978.1" r="0.6" fill="#7a7a9a" fill-opacity="0.68"/><circle cx="290.7" cy="957.5" r="0.5" fill="#6a6a90" fill-opacity="0.73"/><circle cx="345.9" cy="946.3" r="1.0" fill="#8888a8" fill-opacity="0.63"/><circle cx="370.1" cy="987.3" r="0.9" fill="#7a7a9a" fill-opacity="0.58"/><circle cx="368.8" cy="901.8" r="0.5" fill="#8888a8" fill-opacity="0.84"/><circle cx="308.2" cy="978.0" r="0.5" fill="#6a6a90" fill-opacity="0.90"/><circle cx="350.2" cy="991.7" r="0.5" fill="#7a7a9a" fill-opacity="0.76"/><circle cx="315.1" cy="997.5" r="1.1" fill="#8888a8" fill-opacity="0.85"/><circle cx="329.6" cy="920.2" r="0.8" fill="#8888a8" fill-opacity="0.67"/><circle cx="363.9" cy="995.1" r="0.5" fill="#6a6a90" fill-opacity="0.58"/><circle cx="348.1" cy="971.3" r="0.8" fill="#8888a8" fill-opacity="0.65"/><circle cx="303.4" cy="891.8" r="0.7" fill="#7a7a9a" fill-opacity="0.89"/><circle cx="356.6" cy="926.5" r="0.5" fill="#7a7a9a" fill-opacity="0.76"/><circle cx="388.7" cy="977.1" r="0.6" fill="#6a6a90" fill-opacity="0.53"/><circle cx="339.5" cy="940.2" r="0.7" fill="#6a6a90" fill-opacity="0.60"/><circle cx="341.3" cy="925.2" r="0.5" fill="#7a7a9a" fill-opacity="0.60"/><circle cx="326.4" cy="989.7" r="0.5" fill="#7a7a9a" fill-opacity="0.90"/><circle cx="377.6" cy="952.2" r="0.8" fill="#8888a8" fill-opacity="0.50"/><circle cx="347.3" cy="933.2" r="0.5" fill="#6a6a90" fill-opacity="0.86"/><circle cx="315.9" cy="983.3" r="0.5" fill="#8888a8" fill-opacity="0.70"/><circle cx="364.9" cy="899.4" r="0.7" fill="#6a6a90" fill-opacity="0.57"/><circle cx="339.9" cy="917.5" r="0.7" fill="#7a7a9a" fill-opacity="0.77"/><circle cx="304.1" cy="933.5" r="0.8" fill="#6a6a90" fill-opacity="0.59"/><circle cx="305.0" cy="945.2" r="0.7" fill="#8888a8" fill-opacity="0.60"/><circle cx="353.6" cy="1003.4" r="0.5" fill="#8888a8" fill-opacity="0.85"/><circle cx="345.7" cy="965.7" r="0.5" fill="#8888a8" fill-opacity="0.82"/><circle cx="280.6" cy="941.8" r="0.9" fill="#7a7a9a" fill-opacity="0.53"/><circle cx="375.4" cy="916.5" r="0.7" fill="#6a6a90" fill-opacity="0.60"/><circle cx="356.7" cy="971.5" r="0.5" fill="#8888a8" fill-opacity="0.83"/><circle cx="330.9" cy="886.7" r="0.9" fill="#8888a8" fill-opacity="0.54"/><circle cx="346.4" cy="919.1" r="0.5" fill="#7a7a9a" fill-opacity="0.70"/><circle cx="308.3" cy="901.5" r="0.6" fill="#8888a8" fill-opacity="0.66"/><circle cx="315.4" cy="965.5" r="1.1" fill="#7a7a9a" fill-opacity="0.55"/><circle cx="336.7" cy="893.5" r="0.5" fill="#6a6a90" fill-opacity="0.68"/><circle cx="334.6" cy="930.4" r="0.5" fill="#6a6a90" fill-opacity="0.56"/><circle cx="307.7" cy="964.9" r="0.6" fill="#7a7a9a" fill-opacity="0.89"/><circle cx="311.9" cy="894.1" r="1.1" fill="#6a6a90" fill-opacity="0.59"/><circle cx="334.1" cy="990.7" r="0.5" fill="#8888a8" fill-opacity="0.53"/><circle cx="340.1" cy="978.3" r="1.0" fill="#6a6a90" fill-opacity="0.59"/><circle cx="361.2" cy="984.5" r="1.1" fill="#6a6a90" fill-opacity="0.64"/><circle cx="314.8" cy="887.1" r="0.7" fill="#7a7a9a" fill-opacity="0.69"/><circle cx="289.0" cy="979.8" r="0.6" fill="#7a7a9a" fill-opacity="0.59"/><circle cx="319.3" cy="965.6" r="0.7" fill="#7a7a9a" fill-opacity="0.69"/><circle cx="295.1" cy="972.1" r="0.8" fill="#8888a8" fill-opacity="0.68"/><circle cx="387.8" cy="940.9" r="0.9" fill="#7a7a9a" fill-opacity="0.72"/><circle cx="322.9" cy="949.9" r="0.5" fill="#8888a8" fill-opacity="0.75"/><circle cx="280.3" cy="936.6" r="0.7" fill="#6a6a90" fill-opacity="0.87"/><circle cx="327.8" cy="910.7" r="0.6" fill="#7a7a9a" fill-opacity="0.79"/><circle cx="339.0" cy="919.7" r="0.5" fill="#7a7a9a" fill-opacity="0.51"/><circle cx="317.7" cy="978.8" r="0.5" fill="#8888a8" fill-opacity="0.63"/><circle cx="341.0" cy="897.3" r="0.5" fill="#8888a8" fill-opacity="0.74"/><circle cx="307.4" cy="945.1" r="0.7" fill="#7a7a9a" fill-opacity="0.51"/><circle cx="319.1" cy="981.7" r="0.7" fill="#7a7a9a" fill-opacity="0.71"/><circle cx="300.8" cy="932.4" r="0.6" fill="#8888a8" fill-opacity="0.56"/><circle cx="344.5" cy="975.7" r="0.8" fill="#8888a8" fill-opacity="0.55"/><circle cx="297.1" cy="939.1" r="0.5" fill="#8888a8" fill-opacity="0.64"/><circle cx="337.8" cy="955.7" r="0.5" fill="#6a6a90" fill-opacity="0.69"/><circle cx="390.8" cy="947.1" r="0.8" fill="#6a6a90" fill-opacity="0.77"/><circle cx="361.1" cy="928.6" r="0.8" fill="#6a6a90" fill-opacity="0.55"/><circle cx="341.1" cy="904.4" r="0.9" fill="#8888a8" fill-opacity="0.54"/><circle cx="299.0" cy="960.7" r="0.5" fill="#8888a8" fill-opacity="0.87"/><circle cx="323.5" cy="995.6" r="0.5" fill="#8888a8" fill-opacity="0.58"/><circle cx="339.4" cy="905.4" r="0.8" fill="#6a6a90" fill-opacity="0.54"/><circle cx="312.3" cy="978.0" r="0.5" fill="#6a6a90" fill-opacity="0.60"/><circle cx="356.5" cy="914.7" r="1.0" fill="#8888a8" fill-opacity="0.55"/></g><g><circle cx="386.6" cy="910.2" r="0.7" fill="#1e1090" fill-opacity="0.75"/><circle cx="297.4" cy="920.6" r="0.7" fill="#4434d0" fill-opacity="0.62"/><circle cx="370.6" cy="951.1" r="0.7" fill="#4434d0" fill-opacity="0.68"/><circle cx="321.4" cy="919.1" r="0.8" fill="#4434d0" fill-opacity="0.89"/><circle cx="303.4" cy="980.1" r="1.2" fill="#2a1aa8" fill-opacity="0.79"/><circle cx="305.3" cy="914.9" r="0.7" fill="#4434d0" fill-opacity="0.62"/><circle cx="293.2" cy="952.8" r="1.3" fill="#1e1090" fill-opacity="0.61"/><circle cx="365.0" cy="977.5" r="0.7" fill="#4434d0" fill-opacity="0.74"/><circle cx="384.4" cy="949.7" r="0.7" fill="#4434d0" fill-opacity="0.80"/><circle cx="335.2" cy="945.1" r="0.8" fill="#1e1090" fill-opacity="0.60"/><circle cx="278.6" cy="925.9" r="1.0" fill="#2a1aa8" fill-opacity="0.79"/><circle cx="280.9" cy="921.4" r="1.3" fill="#4434d0" fill-opacity="0.68"/><circle cx="342.1" cy="948.5" r="1.1" fill="#3523c0" fill-opacity="0.81"/><circle cx="310.6" cy="885.2" r="1.1" fill="#3523c0" fill-opacity="0.70"/><circle cx="313.6" cy="889.8" r="0.7" fill="#1e1090" fill-opacity="0.69"/><circle cx="334.7" cy="896.3" r="0.6" fill="#3523c0" fill-opacity="0.71"/><circle cx="318.4" cy="884.1" r="1.0" fill="#2a1aa8" fill-opacity="0.90"/><circle cx="360.0" cy="888.2" r="0.7" fill="#1e1090" fill-opacity="0.75"/><circle cx="329.5" cy="931.5" r="0.9" fill="#1e1090" fill-opacity="0.86"/><circle cx="365.5" cy="953.7" r="0.8" fill="#1e1090" fill-opacity="0.68"/><circle cx="309.3" cy="914.0" r="0.9" fill="#3523c0" fill-opacity="0.70"/><circle cx="338.5" cy="884.4" r="1.1" fill="#1e1090" fill-opacity="0.79"/><circle cx="373.9" cy="982.2" r="0.7" fill="#3523c0" fill-opacity="0.64"/><circle cx="297.5" cy="979.7" r="0.6" fill="#3523c0" fill-opacity="0.89"/><circle cx="282.5" cy="952.5" r="1.0" fill="#3523c0" fill-opacity="0.68"/><circle cx="330.8" cy="975.0" r="0.9" fill="#1e1090" fill-opacity="0.88"/><circle cx="349.1" cy="942.1" r="1.0" fill="#2a1aa8" fill-opacity="0.86"/><circle cx="348.3" cy="979.0" r="0.8" fill="#2a1aa8" fill-opacity="0.72"/><circle cx="383.3" cy="910.2" r="1.1" fill="#3523c0" fill-opacity="0.71"/><circle cx="314.2" cy="996.5" r="1.1" fill="#4434d0" fill-opacity="0.67"/><circle cx="327.9" cy="902.8" r="0.6" fill="#1e1090" fill-opacity="0.80"/><circle cx="342.1" cy="976.4" r="1.1" fill="#1e1090" fill-opacity="0.65"/><circle cx="383.4" cy="981.7" r="0.6" fill="#1e1090" fill-opacity="0.73"/><circle cx="369.9" cy="992.3" r="0.7" fill="#3523c0" fill-opacity="0.68"/><circle cx="305.6" cy="964.5" r="0.6" fill="#3523c0" fill-opacity="0.71"/><circle cx="334.2" cy="957.6" r="0.6" fill="#4434d0" fill-opacity="0.80"/><circle cx="372.2" cy="944.0" r="0.6" fill="#3523c0" fill-opacity="0.90"/><circle cx="325.4" cy="949.3" r="0.7" fill="#1e1090" fill-opacity="0.77"/><circle cx="346.0" cy="992.2" r="1.1" fill="#4434d0" fill-opacity="0.68"/><circle cx="390.3" cy="920.8" r="1.3" fill="#1e1090" fill-opacity="0.77"/><circle cx="348.0" cy="938.1" r="1.1" fill="#3523c0" fill-opacity="0.76"/><circle cx="319.9" cy="913.4" r="0.6" fill="#4434d0" fill-opacity="0.62"/><circle cx="276.1" cy="956.0" r="0.6" fill="#4434d0" fill-opacity="0.60"/><circle cx="278.2" cy="933.3" r="1.0" fill="#1e1090" fill-opacity="0.72"/><circle cx="354.1" cy="888.1" r="1.0" fill="#2a1aa8" fill-opacity="0.88"/><circle cx="276.7" cy="949.7" r="0.7" fill="#2a1aa8" fill-opacity="0.60"/><circle cx="358.1" cy="971.3" r="1.0" fill="#4434d0" fill-opacity="0.84"/><circle cx="301.3" cy="981.6" r="0.7" fill="#4434d0" fill-opacity="0.62"/><circle cx="306.9" cy="902.6" r="0.6" fill="#3523c0" fill-opacity="0.82"/><circle cx="348.3" cy="996.7" r="0.8" fill="#3523c0" fill-opacity="0.65"/><circle cx="354.1" cy="958.1" r="0.7" fill="#1e1090" fill-opacity="0.61"/><circle cx="323.2" cy="951.7" r="0.6" fill="#3523c0" fill-opacity="0.61"/><circle cx="342.6" cy="957.8" r="0.8" fill="#4434d0" fill-opacity="0.73"/><circle cx="364.2" cy="936.1" r="0.7" fill="#3523c0" fill-opacity="0.84"/><circle cx="371.2" cy="960.1" r="1.2" fill="#3523c0" fill-opacity="0.83"/><circle cx="328.7" cy="942.1" r="1.0" fill="#1e1090" fill-opacity="0.87"/><circle cx="382.3" cy="960.2" r="0.7" fill="#1e1090" fill-opacity="0.86"/><circle cx="303.6" cy="910.2" r="0.8" fill="#2a1aa8" fill-opacity="0.64"/><circle cx="331.1" cy="888.0" r="0.7" fill="#1e1090" fill-opacity="0.73"/><circle cx="312.0" cy="963.5" r="0.9" fill="#2a1aa8" fill-opacity="0.75"/></g><g><circle cx="384.7" cy="953.3" r="1.8" fill="#2a1aa8" fill-opacity="0.94"/><circle cx="357.7" cy="932.7" r="1.9" fill="#4434d0" fill-opacity="0.96"/><circle cx="313.9" cy="993.8" r="4.3" fill="#1e1090" fill-opacity="0.86"/><circle cx="389.5" cy="932.1" r="3.8" fill="#2a1aa8" fill-opacity="0.89"/><circle cx="362.8" cy="899.6" r="4.0" fill="#2a1aa8" fill-opacity="0.97"/><circle cx="271.4" cy="938.5" r="1.2" fill="#2a1aa8" fill-opacity="0.96"/><circle cx="334.8" cy="1000.7" r="1.9" fill="#2a1aa8" fill-opacity="0.98"/><circle cx="346.3" cy="975.0" r="2.5" fill="#2a1aa8" fill-opacity="0.87"/><circle cx="283.2" cy="963.5" r="3.7" fill="#2a1aa8" fill-opacity="0.97"/><circle cx="369.5" cy="898.7" r="2.2" fill="#2a1aa8" fill-opacity="0.97"/><circle cx="357.5" cy="974.7" r="1.2" fill="#2a1aa8" fill-opacity="0.99"/><circle cx="363.9" cy="934.8" r="1.5" fill="#1e1090" fill-opacity="0.88"/><circle cx="289.9" cy="981.1" r="2.4" fill="#1e1090" fill-opacity="0.86"/><circle cx="364.1" cy="940.9" r="2.5" fill="#3523c0" fill-opacity="0.93"/><circle cx="374.4" cy="941.7" r="3.3" fill="#4434d0" fill-opacity="0.98"/><circle cx="384.0" cy="925.8" r="1.3" fill="#3523c0" fill-opacity="0.88"/><circle cx="372.0" cy="981.5" r="1.9" fill="#3523c0" fill-opacity="0.89"/><circle cx="333.0" cy="980.6" r="2.4" fill="#4434d0" fill-opacity="0.88"/><circle cx="388.3" cy="941.4" r="2.9" fill="#4434d0" fill-opacity="0.98"/><circle cx="338.6" cy="914.7" r="1.2" fill="#4434d0" fill-opacity="0.91"/><circle cx="352.5" cy="906.1" r="1.9" fill="#2a1aa8" fill-opacity="0.99"/><circle cx="304.5" cy="987.3" r="1.4" fill="#2a1aa8" fill-opacity="0.89"/><circle cx="358.9" cy="918.5" r="3.5" fill="#1e1090" fill-opacity="0.88"/><circle cx="306.8" cy="947.1" r="1.7" fill="#3523c0" fill-opacity="0.92"/><circle cx="373.2" cy="959.4" r="1.5" fill="#1e1090" fill-opacity="0.95"/><circle cx="329.3" cy="994.9" r="1.2" fill="#3523c0" fill-opacity="0.85"/><circle cx="300.2" cy="978.0" r="3.6" fill="#1e1090" fill-opacity="0.91"/><circle cx="303.5" cy="991.8" r="3.5" fill="#2a1aa8" fill-opacity="0.93"/><circle cx="384.2" cy="978.6" r="1.2" fill="#4434d0" fill-opacity="0.85"/><circle cx="383.4" cy="952.4" r="2.8" fill="#2a1aa8" fill-opacity="0.95"/><circle cx="344.7" cy="957.4" r="1.3" fill="#4434d0" fill-opacity="0.92"/><circle cx="325.9" cy="930.2" r="1.4" fill="#2a1aa8" fill-opacity="1.00"/><circle cx="288.9" cy="978.8" r="2.6" fill="#2a1aa8" fill-opacity="1.00"/><circle cx="374.8" cy="960.8" r="1.7" fill="#3523c0" fill-opacity="0.93"/><circle cx="296.1" cy="920.3" r="3.4" fill="#1e1090" fill-opacity="0.86"/><circle cx="336.1" cy="939.4" r="4.1" fill="#4434d0" fill-opacity="0.95"/><circle cx="378.3" cy="934.8" r="3.7" fill="#1e1090" fill-opacity="0.92"/><circle cx="394.1" cy="949.0" r="4.1" fill="#2a1aa8" fill-opacity="0.87"/><circle cx="294.1" cy="968.1" r="4.2" fill="#2a1aa8" fill-opacity="0.90"/><circle cx="312.5" cy="942.1" r="2.2" fill="#3523c0" fill-opacity="0.95"/><circle cx="299.5" cy="940.9" r="1.6" fill="#3523c0" fill-opacity="0.89"/><circle cx="322.3" cy="950.8" r="1.4" fill="#1e1090" fill-opacity="0.88"/><circle cx="353.9" cy="957.6" r="3.8" fill="#3523c0" fill-opacity="0.87"/><circle cx="310.5" cy="932.6" r="2.4" fill="#2a1aa8" fill-opacity="0.91"/><circle cx="360.1" cy="944.8" r="3.3" fill="#1e1090" fill-opacity="0.87"/><circle cx="324.4" cy="941.0" r="1.2" fill="#4434d0" fill-opacity="0.99"/><circle cx="281.2" cy="928.1" r="3.1" fill="#1e1090" fill-opacity="0.91"/><circle cx="363.9" cy="958.6" r="1.2" fill="#1e1090" fill-opacity="0.90"/><circle cx="283.4" cy="946.7" r="3.7" fill="#3523c0" fill-opacity="0.94"/><circle cx="274.2" cy="942.7" r="1.7" fill="#4434d0" fill-opacity="0.89"/><circle cx="310.7" cy="925.5" r="1.2" fill="#1e1090" fill-opacity="0.91"/><circle cx="313.1" cy="913.3" r="1.2" fill="#4434d0" fill-opacity="0.98"/><circle cx="378.1" cy="960.7" r="2.2" fill="#1e1090" fill-opacity="0.97"/><circle cx="310.5" cy="894.9" r="1.2" fill="#4434d0" fill-opacity="0.92"/><circle cx="341.9" cy="998.1" r="2.0" fill="#2a1aa8" fill-opacity="0.91"/><circle cx="317.8" cy="931.6" r="2.7" fill="#4434d0" fill-opacity="0.99"/><circle cx="302.1" cy="980.1" r="1.6" fill="#4434d0" fill-opacity="0.88"/><circle cx="336.2" cy="928.0" r="1.3" fill="#2a1aa8" fill-opacity="0.93"/><circle cx="335.4" cy="928.4" r="1.2" fill="#4434d0" fill-opacity="0.94"/><circle cx="357.1" cy="884.9" r="2.5" fill="#4434d0" fill-opacity="0.91"/><circle cx="323.3" cy="994.6" r="1.2" fill="#3523c0" fill-opacity="0.97"/><circle cx="318.0" cy="974.9" r="3.3" fill="#4434d0" fill-opacity="0.95"/><circle cx="387.5" cy="962.6" r="1.2" fill="#2a1aa8" fill-opacity="0.93"/><circle cx="381.0" cy="920.5" r="1.2" fill="#3523c0" fill-opacity="0.94"/><circle cx="390.0" cy="945.0" r="1.8" fill="#2a1aa8" fill-opacity="0.88"/><circle cx="380.9" cy="969.7" r="1.3" fill="#1e1090" fill-opacity="0.95"/><circle cx="348.5" cy="902.6" r="3.8" fill="#2a1aa8" fill-opacity="0.98"/><circle cx="371.8" cy="932.8" r="3.4" fill="#2a1aa8" fill-opacity="0.96"/><circle cx="292.5" cy="975.2" r="2.6" fill="#2a1aa8" fill-opacity="0.99"/><circle cx="345.0" cy="983.1" r="2.1" fill="#2a1aa8" fill-opacity="0.87"/><circle cx="328.9" cy="983.5" r="3.8" fill="#1e1090" fill-opacity="0.88"/><circle cx="321.9" cy="900.0" r="1.8" fill="#1e1090" fill-opacity="0.93"/><circle cx="287.9" cy="948.6" r="3.5" fill="#4434d0" fill-opacity="0.88"/><circle cx="320.3" cy="964.4" r="1.6" fill="#1e1090" fill-opacity="0.92"/><circle cx="298.1" cy="920.1" r="3.1" fill="#3523c0" fill-opacity="0.92"/><circle cx="371.5" cy="938.7" r="2.8" fill="#3523c0" fill-opacity="0.94"/><circle cx="310.7" cy="976.2" r="1.2" fill="#2a1aa8" fill-opacity="0.97"/><circle cx="334.1" cy="974.7" r="1.3" fill="#2a1aa8" fill-opacity="0.93"/><circle cx="395.4" cy="933.8" r="1.9" fill="#1e1090" fill-opacity="0.87"/><circle cx="354.7" cy="989.5" r="2.7" fill="#3523c0" fill-opacity="0.86"/><circle cx="319.7" cy="897.3" r="2.2" fill="#4434d0" fill-opacity="0.92"/><circle cx="275.4" cy="963.8" r="1.6" fill="#4434d0" fill-opacity="0.86"/><circle cx="341.4" cy="913.9" r="1.3" fill="#4434d0" fill-opacity="0.87"/><circle cx="339.6" cy="894.4" r="3.8" fill="#4434d0" fill-opacity="0.95"/><circle cx="294.0" cy="990.2" r="2.9" fill="#4434d0" fill-opacity="0.94"/><circle cx="365.9" cy="887.6" r="1.2" fill="#4434d0" fill-opacity="0.85"/><circle cx="303.7" cy="935.6" r="1.5" fill="#4434d0" fill-opacity="0.93"/><circle cx="333.6" cy="960.7" r="1.2" fill="#4434d0" fill-opacity="0.99"/><circle cx="358.1" cy="975.8" r="3.4" fill="#3523c0" fill-opacity="0.94"/><circle cx="282.2" cy="928.2" r="2.1" fill="#4434d0" fill-opacity="0.90"/><circle cx="284.3" cy="968.1" r="2.6" fill="#3523c0" fill-opacity="0.92"/><circle cx="320.4" cy="908.4" r="1.3" fill="#4434d0" fill-opacity="0.93"/><circle cx="317.1" cy="968.2" r="4.1" fill="#2a1aa8" fill-opacity="0.94"/><circle cx="384.5" cy="918.6" r="1.5" fill="#2a1aa8" fill-opacity="0.87"/><circle cx="314.7" cy="934.3" r="4.3" fill="#4434d0" fill-opacity="0.90"/><circle cx="374.6" cy="991.4" r="2.6" fill="#3523c0" fill-opacity="0.85"/><circle cx="277.7" cy="915.7" r="2.7" fill="#2a1aa8" fill-opacity="0.92"/><circle cx="327.0" cy="926.1" r="2.7" fill="#1e1090" fill-opacity="0.99"/><circle cx="349.9" cy="929.1" r="1.3" fill="#3523c0" fill-opacity="0.86"/><circle cx="287.4" cy="947.0" r="4.2" fill="#2a1aa8" fill-opacity="0.87"/><circle cx="323.5" cy="978.4" r="2.8" fill="#3523c0" fill-opacity="1.00"/><circle cx="393.6" cy="924.1" r="3.6" fill="#2a1aa8" fill-opacity="0.94"/><circle cx="353.1" cy="881.8" r="2.2" fill="#4434d0" fill-opacity="0.99"/><circle cx="374.6" cy="967.0" r="4.1" fill="#2a1aa8" fill-opacity="0.87"/><circle cx="324.6" cy="976.7" r="4.3" fill="#1e1090" fill-opacity="0.85"/></g><circle cx="480.2" cy="940.1" r="71.9" fill="#e3e7ee" stroke="#c2c8d4" stroke-width="1.4"/><circle cx="480.2" cy="940.1" r="68.4" fill="none" stroke="#f5f6f9" stroke-width="3" stroke-opacity="0.6"/><circle cx="477.2" cy="943.1" r="62.2" fill="url(#wg11_0)" stroke="#c2c8d4" stroke-width="1.4"/><circle cx="477.2" cy="943.1" r="64.2" fill="none" stroke="#f7f8fa" stroke-width="1.8" stroke-opacity="0.6"/><g><circle cx="502.7" cy="896.5" r="0.7" fill="#6a6a90" fill-opacity="0.81"/><circle cx="468.4" cy="926.9" r="0.6" fill="#7a7a9a" fill-opacity="0.89"/><circle cx="497.6" cy="907.7" r="0.6" fill="#8888a8" fill-opacity="0.66"/><circle cx="502.5" cy="924.4" r="0.5" fill="#8888a8" fill-opacity="0.71"/><circle cx="450.3" cy="988.3" r="0.6" fill="#7a7a9a" fill-opacity="0.87"/><circle cx="452.6" cy="957.8" r="0.5" fill="#8888a8" fill-opacity="0.69"/><circle cx="484.9" cy="907.0" r="0.5" fill="#6a6a90" fill-opacity="0.74"/><circle cx="437.1" cy="915.7" r="0.7" fill="#7a7a9a" fill-opacity="0.57"/><circle cx="481.1" cy="978.1" r="0.6" fill="#6a6a90" fill-opacity="0.58"/><circle cx="508.3" cy="950.0" r="0.5" fill="#6a6a90" fill-opacity="0.81"/><circle cx="478.2" cy="973.0" r="0.6" fill="#7a7a9a" fill-opacity="0.65"/><circle cx="439.3" cy="991.1" r="1.1" fill="#8888a8" fill-opacity="0.90"/><circle cx="431.4" cy="968.6" r="0.5" fill="#7a7a9a" fill-opacity="0.65"/><circle cx="465.8" cy="991.1" r="0.8" fill="#8888a8" fill-opacity="0.89"/><circle cx="489.6" cy="935.4" r="0.5" fill="#7a7a9a" fill-opacity="0.67"/><circle cx="486.2" cy="957.1" r="0.5" fill="#8888a8" fill-opacity="0.88"/><circle cx="511.2" cy="927.5" r="1.0" fill="#7a7a9a" fill-opacity="0.82"/><circle cx="471.6" cy="955.1" r="0.5" fill="#6a6a90" fill-opacity="0.77"/><circle cx="517.6" cy="906.4" r="1.0" fill="#8888a8" fill-opacity="0.65"/><circle cx="468.3" cy="882.2" r="0.5" fill="#7a7a9a" fill-opacity="0.89"/><circle cx="469.1" cy="891.1" r="0.5" fill="#8888a8" fill-opacity="0.57"/><circle cx="510.5" cy="975.5" r="0.7" fill="#6a6a90" fill-opacity="0.68"/><circle cx="488.0" cy="912.2" r="0.5" fill="#6a6a90" fill-opacity="0.59"/><circle cx="508.8" cy="959.6" r="0.8" fill="#6a6a90" fill-opacity="0.70"/><circle cx="496.9" cy="974.2" r="0.7" fill="#8888a8" fill-opacity="0.69"/><circle cx="516.0" cy="912.3" r="0.6" fill="#8888a8" fill-opacity="0.69"/><circle cx="499.8" cy="1001.1" r="1.1" fill="#7a7a9a" fill-opacity="0.68"/><circle cx="436.5" cy="919.2" r="0.5" fill="#7a7a9a" fill-opacity="0.57"/><circle cx="474.7" cy="913.8" r="0.5" fill="#7a7a9a" fill-opacity="0.67"/><circle cx="525.8" cy="931.1" r="0.5" fill="#7a7a9a" fill-opacity="0.57"/><circle cx="512.4" cy="946.5" r="0.5" fill="#8888a8" fill-opacity="0.84"/><circle cx="428.0" cy="923.0" r="0.5" fill="#6a6a90" fill-opacity="0.63"/><circle cx="439.8" cy="990.3" r="0.7" fill="#8888a8" fill-opacity="0.67"/><circle cx="449.5" cy="926.3" r="1.0" fill="#8888a8" fill-opacity="0.59"/><circle cx="531.6" cy="919.9" r="1.0" fill="#7a7a9a" fill-opacity="0.69"/><circle cx="420.3" cy="920.0" r="0.9" fill="#6a6a90" fill-opacity="0.63"/><circle cx="438.9" cy="929.3" r="0.8" fill="#8888a8" fill-opacity="0.61"/><circle cx="520.7" cy="973.5" r="0.6" fill="#6a6a90" fill-opacity="0.54"/><circle cx="475.5" cy="885.8" r="0.8" fill="#6a6a90" fill-opacity="0.50"/><circle cx="444.0" cy="943.8" r="0.7" fill="#6a6a90" fill-opacity="0.73"/><circle cx="511.1" cy="955.7" r="0.7" fill="#7a7a9a" fill-opacity="0.76"/><circle cx="510.5" cy="936.8" r="0.6" fill="#7a7a9a" fill-opacity="0.61"/><circle cx="523.7" cy="958.4" r="0.6" fill="#7a7a9a" fill-opacity="0.60"/><circle cx="514.4" cy="917.0" r="0.6" fill="#6a6a90" fill-opacity="0.52"/><circle cx="530.5" cy="969.2" r="0.5" fill="#8888a8" fill-opacity="0.84"/><circle cx="439.7" cy="942.4" r="0.5" fill="#7a7a9a" fill-opacity="0.78"/><circle cx="444.2" cy="954.7" r="0.8" fill="#7a7a9a" fill-opacity="0.77"/><circle cx="493.1" cy="891.5" r="0.9" fill="#7a7a9a" fill-opacity="0.55"/><circle cx="423.7" cy="951.3" r="0.5" fill="#7a7a9a" fill-opacity="0.88"/><circle cx="453.2" cy="906.3" r="0.7" fill="#6a6a90" fill-opacity="0.86"/><circle cx="524.0" cy="922.0" r="0.5" fill="#6a6a90" fill-opacity="0.56"/><circle cx="475.1" cy="977.4" r="0.6" fill="#8888a8" fill-opacity="0.57"/><circle cx="458.0" cy="890.7" r="1.1" fill="#6a6a90" fill-opacity="0.76"/><circle cx="476.9" cy="890.7" r="0.6" fill="#8888a8" fill-opacity="0.81"/><circle cx="490.4" cy="884.7" r="0.7" fill="#8888a8" fill-opacity="0.76"/><circle cx="437.5" cy="945.1" r="0.6" fill="#7a7a9a" fill-opacity="0.85"/><circle cx="413.8" cy="943.1" r="0.5" fill="#6a6a90" fill-opacity="0.81"/><circle cx="461.5" cy="899.9" r="0.6" fill="#8888a8" fill-opacity="0.78"/><circle cx="509.8" cy="948.7" r="0.9" fill="#7a7a9a" fill-opacity="0.63"/><circle cx="532.0" cy="916.1" r="0.6" fill="#6a6a90" fill-opacity="0.75"/><circle cx="532.0" cy="930.0" r="0.6" fill="#8888a8" fill-opacity="0.59"/><circle cx="493.6" cy="942.3" r="0.5" fill="#6a6a90" fill-opacity="0.71"/><circle cx="422.7" cy="952.4" r="0.5" fill="#7a7a9a" fill-opacity="0.87"/><circle cx="449.4" cy="974.9" r="0.6" fill="#8888a8" fill-opacity="0.52"/><circle cx="448.6" cy="979.8" r="1.0" fill="#6a6a90" fill-opacity="0.71"/><circle cx="490.4" cy="1003.1" r="0.9" fill="#7a7a9a" fill-opacity="0.55"/><circle cx="428.8" cy="964.8" r="0.8" fill="#6a6a90" fill-opacity="0.82"/><circle cx="517.5" cy="922.5" r="1.0" fill="#6a6a90" fill-opacity="0.72"/><circle cx="523.7" cy="942.3" r="0.5" fill="#7a7a9a" fill-opacity="0.75"/><circle cx="502.7" cy="1000.8" r="0.9" fill="#6a6a90" fill-opacity="0.79"/><circle cx="453.5" cy="994.0" r="0.8" fill="#6a6a90" fill-opacity="0.52"/><circle cx="535.9" cy="966.7" r="1.0" fill="#7a7a9a" fill-opacity="0.88"/><circle cx="488.8" cy="933.3" r="0.5" fill="#8888a8" fill-opacity="0.69"/><circle cx="432.4" cy="903.6" r="1.1" fill="#8888a8" fill-opacity="0.73"/><circle cx="475.7" cy="902.5" r="0.8" fill="#6a6a90" fill-opacity="0.85"/><circle cx="461.3" cy="953.3" r="0.7" fill="#7a7a9a" fill-opacity="0.52"/><circle cx="469.0" cy="944.5" r="0.5" fill="#8888a8" fill-opacity="0.79"/></g><g><circle cx="455.8" cy="923.2" r="0.6" fill="#1e1090" fill-opacity="0.90"/><circle cx="520.4" cy="899.2" r="0.9" fill="#4434d0" fill-opacity="0.69"/><circle cx="488.0" cy="1001.7" r="0.8" fill="#1e1090" fill-opacity="0.82"/><circle cx="496.3" cy="922.6" r="0.6" fill="#2a1aa8" fill-opacity="0.81"/><circle cx="440.5" cy="955.5" r="0.7" fill="#1e1090" fill-opacity="0.73"/><circle cx="479.5" cy="952.6" r="1.1" fill="#2a1aa8" fill-opacity="0.74"/><circle cx="417.9" cy="953.0" r="0.7" fill="#1e1090" fill-opacity="0.80"/><circle cx="419.9" cy="941.5" r="1.2" fill="#2a1aa8" fill-opacity="0.82"/><circle cx="461.6" cy="995.3" r="1.2" fill="#1e1090" fill-opacity="0.73"/><circle cx="459.8" cy="918.1" r="1.0" fill="#4434d0" fill-opacity="0.77"/><circle cx="431.6" cy="980.1" r="0.7" fill="#1e1090" fill-opacity="0.68"/><circle cx="454.4" cy="923.4" r="0.7" fill="#3523c0" fill-opacity="0.82"/><circle cx="435.9" cy="961.4" r="0.6" fill="#3523c0" fill-opacity="0.85"/><circle cx="439.0" cy="974.2" r="1.0" fill="#4434d0" fill-opacity="0.82"/><circle cx="448.9" cy="927.8" r="0.9" fill="#1e1090" fill-opacity="0.76"/><circle cx="500.8" cy="941.2" r="1.0" fill="#4434d0" fill-opacity="0.84"/><circle cx="467.8" cy="942.6" r="1.0" fill="#4434d0" fill-opacity="0.76"/><circle cx="451.0" cy="943.9" r="0.9" fill="#1e1090" fill-opacity="0.80"/><circle cx="463.2" cy="998.9" r="0.7" fill="#3523c0" fill-opacity="0.63"/><circle cx="518.8" cy="956.1" r="0.8" fill="#1e1090" fill-opacity="0.77"/><circle cx="513.6" cy="932.2" r="1.0" fill="#2a1aa8" fill-opacity="0.60"/><circle cx="452.0" cy="935.6" r="0.7" fill="#3523c0" fill-opacity="0.71"/><circle cx="471.5" cy="981.0" r="0.8" fill="#2a1aa8" fill-opacity="0.76"/><circle cx="444.6" cy="967.5" r="1.0" fill="#3523c0" fill-opacity="0.66"/><circle cx="537.5" cy="952.8" r="0.9" fill="#2a1aa8" fill-opacity="0.82"/><circle cx="473.1" cy="987.7" r="0.9" fill="#2a1aa8" fill-opacity="0.80"/><circle cx="467.8" cy="978.7" r="0.9" fill="#4434d0" fill-opacity="0.81"/><circle cx="446.0" cy="994.4" r="0.6" fill="#1e1090" fill-opacity="0.81"/><circle cx="537.6" cy="953.7" r="1.0" fill="#4434d0" fill-opacity="0.78"/><circle cx="507.4" cy="940.6" r="0.6" fill="#4434d0" fill-opacity="0.65"/><circle cx="513.7" cy="934.8" r="0.7" fill="#1e1090" fill-opacity="0.65"/><circle cx="497.5" cy="988.0" r="1.0" fill="#1e1090" fill-opacity="0.71"/><circle cx="469.1" cy="914.4" r="1.1" fill="#3523c0" fill-opacity="0.74"/><circle cx="519.1" cy="959.4" r="0.9" fill="#2a1aa8" fill-opacity="0.83"/><circle cx="450.8" cy="886.8" r="0.6" fill="#4434d0" fill-opacity="0.61"/><circle cx="438.8" cy="993.8" r="0.9" fill="#1e1090" fill-opacity="0.62"/><circle cx="484.6" cy="948.6" r="0.9" fill="#3523c0" fill-opacity="0.77"/><circle cx="501.3" cy="949.9" r="0.9" fill="#2a1aa8" fill-opacity="0.74"/><circle cx="465.5" cy="989.7" r="0.7" fill="#4434d0" fill-opacity="0.60"/><circle cx="508.3" cy="927.0" r="0.6" fill="#4434d0" fill-opacity="0.69"/><circle cx="449.4" cy="925.0" r="0.6" fill="#2a1aa8" fill-opacity="0.74"/><circle cx="441.5" cy="940.5" r="1.2" fill="#1e1090" fill-opacity="0.81"/><circle cx="436.0" cy="943.0" r="0.7" fill="#4434d0" fill-opacity="0.74"/><circle cx="431.2" cy="934.7" r="1.0" fill="#3523c0" fill-opacity="0.69"/></g><g><circle cx="465.7" cy="981.5" r="2.5" fill="#2a1aa8" fill-opacity="0.94"/><circle cx="471.0" cy="970.4" r="3.6" fill="#1e1090" fill-opacity="0.95"/><circle cx="475.7" cy="899.9" r="1.7" fill="#3523c0" fill-opacity="0.98"/><circle cx="538.4" cy="939.8" r="3.4" fill="#2a1aa8" fill-opacity="0.87"/><circle cx="440.9" cy="935.2" r="1.8" fill="#4434d0" fill-opacity="0.86"/><circle cx="467.8" cy="980.2" r="4.1" fill="#2a1aa8" fill-opacity="0.85"/><circle cx="501.0" cy="975.2" r="2.5" fill="#2a1aa8" fill-opacity="0.92"/><circle cx="537.7" cy="939.2" r="2.3" fill="#2a1aa8" fill-opacity="0.94"/><circle cx="497.4" cy="981.8" r="3.8" fill="#1e1090" fill-opacity="0.88"/><circle cx="432.6" cy="958.6" r="1.6" fill="#2a1aa8" fill-opacity="0.85"/><circle cx="466.2" cy="882.5" r="2.4" fill="#3523c0" fill-opacity="0.96"/><circle cx="445.7" cy="997.3" r="2.2" fill="#2a1aa8" fill-opacity="1.00"/><circle cx="488.4" cy="968.5" r="3.2" fill="#3523c0" fill-opacity="0.96"/><circle cx="488.3" cy="947.3" r="3.2" fill="#3523c0" fill-opacity="0.97"/><circle cx="440.6" cy="901.9" r="3.7" fill="#4434d0" fill-opacity="0.97"/><circle cx="522.1" cy="911.0" r="1.5" fill="#2a1aa8" fill-opacity="0.94"/><circle cx="489.5" cy="937.8" r="2.2" fill="#1e1090" fill-opacity="0.98"/><circle cx="455.1" cy="909.9" r="2.5" fill="#1e1090" fill-opacity="0.92"/><circle cx="507.9" cy="936.9" r="1.4" fill="#3523c0" fill-opacity="0.95"/><circle cx="502.5" cy="954.2" r="1.4" fill="#4434d0" fill-opacity="0.99"/><circle cx="465.9" cy="924.0" r="2.5" fill="#1e1090" fill-opacity="0.99"/><circle cx="474.9" cy="948.0" r="1.7" fill="#1e1090" fill-opacity="0.87"/><circle cx="476.7" cy="965.0" r="1.6" fill="#4434d0" fill-opacity="0.93"/><circle cx="429.4" cy="983.0" r="2.5" fill="#3523c0" fill-opacity="0.88"/><circle cx="529.0" cy="946.8" r="2.5" fill="#3523c0" fill-opacity="0.92"/><circle cx="464.0" cy="944.4" r="2.1" fill="#2a1aa8" fill-opacity="0.87"/><circle cx="454.6" cy="963.4" r="1.8" fill="#1e1090" fill-opacity="0.96"/><circle cx="481.0" cy="888.8" r="1.2" fill="#2a1aa8" fill-opacity="0.87"/><circle cx="483.7" cy="953.7" r="1.2" fill="#1e1090" fill-opacity="0.87"/><circle cx="471.7" cy="919.9" r="1.6" fill="#2a1aa8" fill-opacity="0.94"/><circle cx="480.6" cy="970.1" r="1.8" fill="#1e1090" fill-opacity="0.88"/><circle cx="460.5" cy="922.8" r="1.3" fill="#1e1090" fill-opacity="0.91"/><circle cx="437.3" cy="981.5" r="1.2" fill="#2a1aa8" fill-opacity="0.92"/><circle cx="525.9" cy="955.5" r="1.3" fill="#4434d0" fill-opacity="0.99"/><circle cx="426.9" cy="969.6" r="3.5" fill="#4434d0" fill-opacity="0.93"/><circle cx="498.8" cy="934.5" r="1.7" fill="#4434d0" fill-opacity="0.99"/><circle cx="517.5" cy="975.5" r="1.4" fill="#4434d0" fill-opacity="0.89"/><circle cx="477.3" cy="886.4" r="2.8" fill="#3523c0" fill-opacity="0.94"/><circle cx="502.0" cy="915.0" r="1.4" fill="#2a1aa8" fill-opacity="0.96"/><circle cx="502.8" cy="914.3" r="2.4" fill="#4434d0" fill-opacity="1.00"/><circle cx="504.8" cy="899.2" r="4.2" fill="#3523c0" fill-opacity="0.89"/><circle cx="458.0" cy="943.5" r="3.1" fill="#2a1aa8" fill-opacity="0.92"/><circle cx="451.5" cy="929.2" r="4.1" fill="#1e1090" fill-opacity="0.88"/><circle cx="421.1" cy="962.3" r="4.3" fill="#4434d0" fill-opacity="0.88"/><circle cx="427.4" cy="941.2" r="2.1" fill="#4434d0" fill-opacity="0.88"/><circle cx="442.2" cy="930.1" r="1.2" fill="#2a1aa8" fill-opacity="0.95"/><circle cx="441.4" cy="906.3" r="1.9" fill="#2a1aa8" fill-opacity="0.86"/><circle cx="470.6" cy="912.9" r="1.9" fill="#1e1090" fill-opacity="0.98"/><circle cx="515.4" cy="926.7" r="1.5" fill="#1e1090" fill-opacity="0.89"/><circle cx="467.8" cy="887.3" r="2.1" fill="#3523c0" fill-opacity="0.99"/><circle cx="442.1" cy="891.1" r="1.3" fill="#3523c0" fill-opacity="0.95"/><circle cx="425.3" cy="970.9" r="2.2" fill="#3523c0" fill-opacity="0.94"/><circle cx="448.4" cy="887.0" r="1.2" fill="#2a1aa8" fill-opacity="0.99"/><circle cx="511.0" cy="983.5" r="1.4" fill="#4434d0" fill-opacity="0.93"/><circle cx="501.4" cy="912.4" r="1.2" fill="#2a1aa8" fill-opacity="0.92"/><circle cx="516.7" cy="972.2" r="3.5" fill="#3523c0" fill-opacity="0.93"/><circle cx="511.7" cy="979.0" r="3.4" fill="#4434d0" fill-opacity="0.99"/><circle cx="441.2" cy="980.1" r="1.6" fill="#1e1090" fill-opacity="0.93"/><circle cx="425.4" cy="913.8" r="2.7" fill="#4434d0" fill-opacity="0.89"/><circle cx="485.0" cy="892.8" r="1.9" fill="#2a1aa8" fill-opacity="0.92"/><circle cx="503.8" cy="907.5" r="3.8" fill="#3523c0" fill-opacity="0.93"/><circle cx="498.9" cy="951.5" r="2.4" fill="#2a1aa8" fill-opacity="1.00"/><circle cx="486.3" cy="909.9" r="1.9" fill="#1e1090" fill-opacity="0.97"/><circle cx="428.7" cy="980.9" r="1.9" fill="#1e1090" fill-opacity="0.95"/><circle cx="488.3" cy="928.7" r="1.2" fill="#1e1090" fill-opacity="0.93"/><circle cx="538.0" cy="928.4" r="1.8" fill="#1e1090" fill-opacity="0.86"/><circle cx="480.2" cy="967.6" r="2.6" fill="#4434d0" fill-opacity="0.91"/><circle cx="499.8" cy="924.0" r="1.2" fill="#3523c0" fill-opacity="0.92"/><circle cx="493.1" cy="960.6" r="3.7" fill="#2a1aa8" fill-opacity="0.93"/><circle cx="498.0" cy="973.6" r="1.3" fill="#2a1aa8" fill-opacity="0.89"/><circle cx="528.5" cy="959.3" r="1.8" fill="#2a1aa8" fill-opacity="0.87"/><circle cx="527.5" cy="955.1" r="1.9" fill="#3523c0" fill-opacity="0.97"/><circle cx="500.1" cy="928.8" r="2.0" fill="#4434d0" fill-opacity="0.99"/><circle cx="490.4" cy="992.7" r="1.2" fill="#3523c0" fill-opacity="0.99"/><circle cx="450.5" cy="918.6" r="2.9" fill="#2a1aa8" fill-opacity="0.97"/><circle cx="481.4" cy="1001.8" r="2.0" fill="#4434d0" fill-opacity="0.89"/><circle cx="443.0" cy="931.5" r="1.3" fill="#4434d0" fill-opacity="0.96"/></g><circle cx="187.2" cy="1081.2" r="71.9" fill="#dde2eb" stroke="#c2c8d4" stroke-width="1.4"/><circle cx="187.2" cy="1081.2" r="68.4" fill="none" stroke="#f5f6f9" stroke-width="3" stroke-opacity="0.6"/><circle cx="191.2" cy="1084.2" r="62.2" fill="url(#wg11_1)" stroke="#c2c8d4" stroke-width="1.4"/><circle cx="191.2" cy="1084.2" r="64.2" fill="none" stroke="#f7f8fa" stroke-width="1.8" stroke-opacity="0.6"/><g><circle cx="169.7" cy="1119.7" r="0.8" fill="#6a6a90" fill-opacity="0.59"/><circle cx="233.4" cy="1101.7" r="0.5" fill="#7a7a9a" fill-opacity="0.83"/><circle cx="139.8" cy="1085.4" r="0.6" fill="#8888a8" fill-opacity="0.53"/><circle cx="198.9" cy="1133.5" r="0.5" fill="#7a7a9a" fill-opacity="0.78"/><circle cx="150.2" cy="1055.2" r="0.9" fill="#6a6a90" fill-opacity="0.82"/><circle cx="199.7" cy="1042.9" r="0.5" fill="#8888a8" fill-opacity="0.86"/><circle cx="195.6" cy="1062.1" r="0.5" fill="#8888a8" fill-opacity="0.64"/><circle cx="223.9" cy="1037.2" r="0.8" fill="#8888a8" fill-opacity="0.65"/><circle cx="171.1" cy="1059.1" r="0.6" fill="#7a7a9a" fill-opacity="0.89"/><circle cx="219.4" cy="1138.4" r="0.7" fill="#6a6a90" fill-opacity="0.55"/><circle cx="223.2" cy="1124.1" r="1.0" fill="#7a7a9a" fill-opacity="0.71"/><circle cx="198.9" cy="1040.0" r="0.5" fill="#7a7a9a" fill-opacity="0.64"/><circle cx="162.8" cy="1089.0" r="0.6" fill="#8888a8" fill-opacity="0.82"/><circle cx="176.0" cy="1125.9" r="0.5" fill="#6a6a90" fill-opacity="0.82"/><circle cx="178.3" cy="1109.1" r="0.5" fill="#7a7a9a" fill-opacity="0.53"/><circle cx="190.8" cy="1036.5" r="0.5" fill="#8888a8" fill-opacity="0.74"/><circle cx="186.1" cy="1095.0" r="0.6" fill="#8888a8" fill-opacity="0.60"/><circle cx="225.0" cy="1121.7" r="0.8" fill="#6a6a90" fill-opacity="0.73"/><circle cx="231.6" cy="1125.1" r="0.5" fill="#6a6a90" fill-opacity="0.76"/><circle cx="164.1" cy="1083.5" r="0.7" fill="#8888a8" fill-opacity="0.90"/><circle cx="137.6" cy="1055.6" r="1.0" fill="#8888a8" fill-opacity="0.76"/><circle cx="135.5" cy="1093.7" r="0.8" fill="#7a7a9a" fill-opacity="0.71"/><circle cx="230.9" cy="1042.6" r="0.8" fill="#6a6a90" fill-opacity="0.74"/><circle cx="215.5" cy="1033.7" r="0.6" fill="#7a7a9a" fill-opacity="0.80"/><circle cx="231.7" cy="1036.2" r="0.9" fill="#7a7a9a" fill-opacity="0.68"/><circle cx="144.2" cy="1094.6" r="0.5" fill="#6a6a90" fill-opacity="0.63"/><circle cx="223.6" cy="1036.8" r="0.5" fill="#6a6a90" fill-opacity="0.65"/><circle cx="215.5" cy="1067.6" r="0.6" fill="#6a6a90" fill-opacity="0.81"/><circle cx="147.2" cy="1055.9" r="0.6" fill="#6a6a90" fill-opacity="0.76"/><circle cx="179.4" cy="1089.9" r="0.5" fill="#8888a8" fill-opacity="0.54"/><circle cx="209.7" cy="1105.8" r="0.7" fill="#6a6a90" fill-opacity="0.70"/><circle cx="219.9" cy="1077.0" r="0.8" fill="#6a6a90" fill-opacity="0.56"/><circle cx="220.2" cy="1027.9" r="0.5" fill="#8888a8" fill-opacity="0.87"/><circle cx="196.9" cy="1105.7" r="0.5" fill="#7a7a9a" fill-opacity="0.86"/><circle cx="195.1" cy="1086.7" r="0.9" fill="#8888a8" fill-opacity="0.54"/></g><g><circle cx="178.4" cy="1141.7" r="0.8" fill="#4434d0" fill-opacity="0.73"/><circle cx="149.0" cy="1095.9" r="0.7" fill="#1e1090" fill-opacity="0.75"/><circle cx="248.3" cy="1066.1" r="1.3" fill="#3523c0" fill-opacity="0.65"/><circle cx="143.8" cy="1076.4" r="1.2" fill="#2a1aa8" fill-opacity="0.87"/><circle cx="176.3" cy="1057.7" r="0.7" fill="#2a1aa8" fill-opacity="0.70"/><circle cx="166.9" cy="1110.4" r="0.6" fill="#1e1090" fill-opacity="0.70"/><circle cx="206.2" cy="1118.5" r="0.7" fill="#3523c0" fill-opacity="0.66"/><circle cx="216.8" cy="1027.5" r="0.6" fill="#1e1090" fill-opacity="0.69"/><circle cx="197.7" cy="1029.6" r="0.7" fill="#1e1090" fill-opacity="0.75"/><circle cx="208.4" cy="1095.0" r="1.3" fill="#2a1aa8" fill-opacity="0.88"/><circle cx="140.7" cy="1047.0" r="1.2" fill="#3523c0" fill-opacity="0.86"/><circle cx="161.7" cy="1138.5" r="0.6" fill="#1e1090" fill-opacity="0.69"/><circle cx="136.3" cy="1105.1" r="0.9" fill="#3523c0" fill-opacity="0.63"/><circle cx="141.5" cy="1113.4" r="0.6" fill="#4434d0" fill-opacity="0.69"/><circle cx="180.2" cy="1124.2" r="1.2" fill="#1e1090" fill-opacity="0.62"/><circle cx="192.7" cy="1138.9" r="0.7" fill="#3523c0" fill-opacity="0.75"/><circle cx="196.7" cy="1049.1" r="0.7" fill="#4434d0" fill-opacity="0.72"/><circle cx="159.5" cy="1070.5" r="0.6" fill="#2a1aa8" fill-opacity="0.70"/></g><g><circle cx="151.9" cy="1086.3" r="1.4" fill="#2a1aa8" fill-opacity="0.85"/><circle cx="192.5" cy="1058.8" r="1.4" fill="#1e1090" fill-opacity="0.94"/><circle cx="190.1" cy="1073.4" r="1.2" fill="#3523c0" fill-opacity="0.85"/><circle cx="236.8" cy="1118.0" r="2.1" fill="#1e1090" fill-opacity="0.86"/><circle cx="166.1" cy="1106.0" r="1.7" fill="#3523c0" fill-opacity="0.95"/><circle cx="145.7" cy="1095.4" r="2.2" fill="#2a1aa8" fill-opacity="0.97"/><circle cx="212.8" cy="1042.5" r="2.1" fill="#2a1aa8" fill-opacity="0.94"/><circle cx="194.8" cy="1088.2" r="2.2" fill="#4434d0" fill-opacity="0.87"/><circle cx="192.3" cy="1039.4" r="2.8" fill="#4434d0" fill-opacity="0.97"/><circle cx="157.8" cy="1099.5" r="3.6" fill="#1e1090" fill-opacity="0.98"/><circle cx="196.9" cy="1051.1" r="1.2" fill="#1e1090" fill-opacity="0.96"/><circle cx="248.7" cy="1107.2" r="2.0" fill="#2a1aa8" fill-opacity="0.92"/><circle cx="191.4" cy="1110.7" r="2.2" fill="#1e1090" fill-opacity="0.99"/><circle cx="221.6" cy="1114.2" r="1.4" fill="#2a1aa8" fill-opacity="0.88"/><circle cx="156.8" cy="1114.7" r="2.0" fill="#3523c0" fill-opacity="0.94"/><circle cx="248.7" cy="1061.5" r="3.7" fill="#3523c0" fill-opacity="0.96"/><circle cx="210.8" cy="1142.2" r="1.9" fill="#4434d0" fill-opacity="0.95"/><circle cx="176.9" cy="1133.9" r="1.3" fill="#3523c0" fill-opacity="1.00"/><circle cx="250.5" cy="1065.5" r="2.5" fill="#2a1aa8" fill-opacity="0.89"/><circle cx="205.0" cy="1025.1" r="1.4" fill="#2a1aa8" fill-opacity="0.92"/><circle cx="180.5" cy="1144.2" r="2.2" fill="#3523c0" fill-opacity="0.96"/><circle cx="196.1" cy="1038.7" r="1.4" fill="#4434d0" fill-opacity="0.96"/><circle cx="212.5" cy="1108.7" r="3.9" fill="#3523c0" fill-opacity="0.88"/><circle cx="251.7" cy="1068.8" r="3.8" fill="#1e1090" fill-opacity="0.98"/><circle cx="212.0" cy="1040.7" r="1.2" fill="#2a1aa8" fill-opacity="0.86"/><circle cx="241.9" cy="1104.8" r="1.9" fill="#1e1090" fill-opacity="0.98"/><circle cx="202.5" cy="1118.4" r="1.8" fill="#2a1aa8" fill-opacity="0.95"/><circle cx="246.5" cy="1109.3" r="2.8" fill="#1e1090" fill-opacity="0.92"/><circle cx="203.1" cy="1125.5" r="2.6" fill="#2a1aa8" fill-opacity="0.87"/></g><circle cx="335.0" cy="1081.2" r="71.9" fill="#dde2eb" stroke="#c2c8d4" stroke-width="1.4"/><circle cx="335.0" cy="1081.2" r="68.4" fill="none" stroke="#f5f6f9" stroke-width="3" stroke-opacity="0.6"/><circle cx="335.0" cy="1084.2" r="62.2" fill="url(#wg11_1)" stroke="#c2c8d4" stroke-width="1.4"/><circle cx="335.0" cy="1084.2" r="64.2" fill="none" stroke="#f7f8fa" stroke-width="1.8" stroke-opacity="0.6"/><g><circle cx="396.2" cy="1079.2" r="0.9" fill="#7a7a9a" fill-opacity="0.59"/><circle cx="289.0" cy="1111.2" r="1.0" fill="#6a6a90" fill-opacity="0.82"/><circle cx="309.1" cy="1037.0" r="0.5" fill="#8888a8" fill-opacity="0.75"/><circle cx="312.3" cy="1113.8" r="0.5" fill="#6a6a90" fill-opacity="0.90"/><circle cx="362.8" cy="1045.7" r="0.5" fill="#8888a8" fill-opacity="0.74"/><circle cx="357.4" cy="1025.6" r="0.9" fill="#8888a8" fill-opacity="0.68"/><circle cx="385.0" cy="1088.8" r="0.7" fill="#6a6a90" fill-opacity="0.65"/><circle cx="382.6" cy="1103.8" r="0.6" fill="#8888a8" fill-opacity="0.89"/><circle cx="285.8" cy="1051.4" r="0.9" fill="#7a7a9a" fill-opacity="0.68"/><circle cx="367.3" cy="1059.9" r="0.5" fill="#8888a8" fill-opacity="0.87"/><circle cx="379.9" cy="1102.2" r="0.6" fill="#7a7a9a" fill-opacity="0.78"/><circle cx="364.0" cy="1104.5" r="0.6" fill="#7a7a9a" fill-opacity="0.54"/><circle cx="296.9" cy="1081.8" r="0.5" fill="#6a6a90" fill-opacity="0.89"/><circle cx="350.7" cy="1128.2" r="0.5" fill="#7a7a9a" fill-opacity="0.71"/><circle cx="289.0" cy="1110.8" r="0.6" fill="#6a6a90" fill-opacity="0.74"/><circle cx="322.7" cy="1047.9" r="0.6" fill="#8888a8" fill-opacity="0.88"/><circle cx="344.4" cy="1027.6" r="1.1" fill="#7a7a9a" fill-opacity="0.85"/><circle cx="334.2" cy="1069.2" r="0.5" fill="#6a6a90" fill-opacity="0.54"/><circle cx="357.8" cy="1043.2" r="0.7" fill="#6a6a90" fill-opacity="0.54"/><circle cx="294.7" cy="1100.7" r="0.6" fill="#8888a8" fill-opacity="0.70"/><circle cx="327.6" cy="1147.2" r="0.6" fill="#7a7a9a" fill-opacity="0.79"/><circle cx="354.6" cy="1087.0" r="0.5" fill="#8888a8" fill-opacity="0.74"/><circle cx="312.9" cy="1131.5" r="1.0" fill="#7a7a9a" fill-opacity="0.86"/><circle cx="363.4" cy="1068.9" r="0.9" fill="#7a7a9a" fill-opacity="0.74"/><circle cx="351.5" cy="1042.9" r="0.7" fill="#6a6a90" fill-opacity="0.55"/><circle cx="325.5" cy="1038.7" r="0.5" fill="#7a7a9a" fill-opacity="0.52"/><circle cx="378.9" cy="1046.3" r="0.6" fill="#8888a8" fill-opacity="0.70"/><circle cx="303.5" cy="1094.7" r="0.8" fill="#7a7a9a" fill-opacity="0.87"/><circle cx="325.5" cy="1064.5" r="0.8" fill="#6a6a90" fill-opacity="0.67"/><circle cx="323.9" cy="1026.5" r="0.5" fill="#6a6a90" fill-opacity="0.71"/><circle cx="329.5" cy="1118.1" r="1.0" fill="#8888a8" fill-opacity="0.53"/><circle cx="312.1" cy="1101.8" r="1.0" fill="#7a7a9a" fill-opacity="0.89"/><circle cx="335.7" cy="1020.7" r="0.7" fill="#7a7a9a" fill-opacity="0.69"/><circle cx="379.8" cy="1054.3" r="0.6" fill="#8888a8" fill-opacity="0.88"/><circle cx="326.2" cy="1113.8" r="0.5" fill="#7a7a9a" fill-opacity="0.84"/><circle cx="361.2" cy="1125.4" r="0.6" fill="#6a6a90" fill-opacity="0.88"/><circle cx="312.3" cy="1137.8" r="0.7" fill="#7a7a9a" fill-opacity="0.69"/><circle cx="304.0" cy="1123.9" r="0.7" fill="#7a7a9a" fill-opacity="0.78"/><circle cx="340.9" cy="1137.0" r="0.9" fill="#6a6a90" fill-opacity="0.58"/><circle cx="322.3" cy="1127.8" r="0.6" fill="#7a7a9a" fill-opacity="0.87"/></g><g><circle cx="321.0" cy="1080.5" r="0.7" fill="#3523c0" fill-opacity="0.62"/><circle cx="331.3" cy="1096.8" r="1.1" fill="#4434d0" fill-opacity="0.86"/><circle cx="344.3" cy="1074.0" r="1.2" fill="#3523c0" fill-opacity="0.78"/><circle cx="324.2" cy="1067.5" r="0.8" fill="#2a1aa8" fill-opacity="0.64"/><circle cx="379.7" cy="1116.4" r="0.7" fill="#2a1aa8" fill-opacity="0.67"/><circle cx="290.4" cy="1119.6" r="0.6" fill="#1e1090" fill-opacity="0.76"/><circle cx="321.4" cy="1023.3" r="0.9" fill="#3523c0" fill-opacity="0.89"/><circle cx="376.8" cy="1125.9" r="0.6" fill="#2a1aa8" fill-opacity="0.75"/><circle cx="302.0" cy="1133.6" r="0.8" fill="#2a1aa8" fill-opacity="0.88"/><circle cx="370.1" cy="1035.4" r="0.7" fill="#3523c0" fill-opacity="0.65"/><circle cx="325.7" cy="1022.7" r="0.6" fill="#2a1aa8" fill-opacity="0.67"/><circle cx="298.0" cy="1091.1" r="1.1" fill="#1e1090" fill-opacity="0.72"/><circle cx="342.5" cy="1082.1" r="0.7" fill="#2a1aa8" fill-opacity="0.78"/><circle cx="299.5" cy="1039.2" r="1.1" fill="#3523c0" fill-opacity="0.78"/><circle cx="296.4" cy="1096.3" r="0.8" fill="#3523c0" fill-opacity="0.80"/><circle cx="351.1" cy="1042.4" r="1.2" fill="#1e1090" fill-opacity="0.85"/><circle cx="345.3" cy="1056.2" r="0.7" fill="#2a1aa8" fill-opacity="0.73"/><circle cx="294.0" cy="1095.1" r="0.6" fill="#4434d0" fill-opacity="0.73"/><circle cx="377.2" cy="1037.3" r="1.0" fill="#4434d0" fill-opacity="0.69"/><circle cx="274.7" cy="1063.9" r="1.2" fill="#3523c0" fill-opacity="0.77"/></g><g><circle cx="297.2" cy="1075.7" r="4.2" fill="#1e1090" fill-opacity="0.92"/><circle cx="339.9" cy="1102.2" r="1.6" fill="#1e1090" fill-opacity="0.97"/><circle cx="356.2" cy="1076.9" r="2.4" fill="#3523c0" fill-opacity="0.95"/><circle cx="330.7" cy="1060.9" r="2.0" fill="#1e1090" fill-opacity="0.87"/><circle cx="349.1" cy="1095.1" r="1.2" fill="#1e1090" fill-opacity="0.93"/><circle cx="353.1" cy="1112.6" r="3.3" fill="#2a1aa8" fill-opacity="0.85"/><circle cx="323.7" cy="1100.4" r="2.9" fill="#3523c0" fill-opacity="0.94"/><circle cx="334.2" cy="1098.0" r="2.1" fill="#1e1090" fill-opacity="0.98"/><circle cx="291.3" cy="1080.8" r="1.3" fill="#1e1090" fill-opacity="0.85"/><circle cx="356.2" cy="1028.3" r="1.3" fill="#2a1aa8" fill-opacity="0.90"/><circle cx="319.7" cy="1107.1" r="1.3" fill="#4434d0" fill-opacity="0.96"/><circle cx="304.6" cy="1071.8" r="1.3" fill="#3523c0" fill-opacity="0.98"/><circle cx="299.6" cy="1135.8" r="2.2" fill="#4434d0" fill-opacity="0.97"/><circle cx="388.4" cy="1096.9" r="3.0" fill="#3523c0" fill-opacity="0.89"/><circle cx="380.7" cy="1117.4" r="1.3" fill="#1e1090" fill-opacity="0.89"/><circle cx="294.6" cy="1131.0" r="3.3" fill="#3523c0" fill-opacity="0.94"/><circle cx="381.5" cy="1064.2" r="2.2" fill="#4434d0" fill-opacity="0.87"/><circle cx="308.0" cy="1063.4" r="4.1" fill="#1e1090" fill-opacity="0.98"/><circle cx="329.4" cy="1054.3" r="1.2" fill="#4434d0" fill-opacity="0.87"/><circle cx="372.8" cy="1127.5" r="1.5" fill="#2a1aa8" fill-opacity="0.95"/><circle cx="290.5" cy="1067.3" r="1.4" fill="#2a1aa8" fill-opacity="0.94"/><circle cx="327.1" cy="1103.5" r="3.8" fill="#2a1aa8" fill-opacity="0.94"/><circle cx="292.2" cy="1079.2" r="1.3" fill="#2a1aa8" fill-opacity="0.95"/><circle cx="311.0" cy="1031.2" r="1.2" fill="#2a1aa8" fill-opacity="0.88"/><circle cx="324.8" cy="1036.3" r="2.6" fill="#1e1090" fill-opacity="0.92"/><circle cx="363.9" cy="1119.5" r="2.0" fill="#3523c0" fill-opacity="0.89"/><circle cx="385.0" cy="1120.6" r="1.5" fill="#4434d0" fill-opacity="0.93"/><circle cx="339.0" cy="1050.0" r="1.6" fill="#1e1090" fill-opacity="0.92"/><circle cx="371.9" cy="1054.3" r="1.6" fill="#3523c0" fill-opacity="1.00"/><circle cx="271.2" cy="1086.0" r="2.4" fill="#1e1090" fill-opacity="0.92"/><circle cx="361.4" cy="1108.8" r="2.9" fill="#3523c0" fill-opacity="0.97"/><circle cx="284.2" cy="1105.7" r="2.3" fill="#4434d0" fill-opacity="0.95"/><circle cx="317.1" cy="1077.1" r="2.6" fill="#2a1aa8" fill-opacity="0.91"/><circle cx="378.7" cy="1075.8" r="1.3" fill="#4434d0" fill-opacity="0.89"/></g><circle cx="480.2" cy="1081.2" r="71.9" fill="#dde2eb" stroke="#c2c8d4" stroke-width="1.4"/><circle cx="480.2" cy="1081.2" r="68.4" fill="none" stroke="#f5f6f9" stroke-width="3" stroke-opacity="0.6"/><circle cx="477.2" cy="1084.2" r="62.2" fill="url(#wg11_1)" stroke="#c2c8d4" stroke-width="1.4"/><circle cx="477.2" cy="1084.2" r="64.2" fill="none" stroke="#f7f8fa" stroke-width="1.8" stroke-opacity="0.6"/><g><circle cx="501.9" cy="1088.5" r="0.9" fill="#7a7a9a" fill-opacity="0.57"/><circle cx="413.6" cy="1077.3" r="0.5" fill="#8888a8" fill-opacity="0.50"/><circle cx="537.6" cy="1075.6" r="0.6" fill="#6a6a90" fill-opacity="0.81"/><circle cx="535.5" cy="1073.8" r="0.6" fill="#8888a8" fill-opacity="0.85"/><circle cx="512.6" cy="1115.1" r="0.6" fill="#6a6a90" fill-opacity="0.50"/><circle cx="438.8" cy="1067.7" r="0.5" fill="#6a6a90" fill-opacity="0.77"/><circle cx="452.3" cy="1122.8" r="0.7" fill="#6a6a90" fill-opacity="0.60"/><circle cx="452.0" cy="1121.5" r="0.6" fill="#7a7a9a" fill-opacity="0.68"/><circle cx="433.4" cy="1107.6" r="0.5" fill="#6a6a90" fill-opacity="0.76"/><circle cx="436.4" cy="1037.7" r="0.5" fill="#6a6a90" fill-opacity="0.89"/><circle cx="441.7" cy="1073.5" r="0.5" fill="#6a6a90" fill-opacity="0.89"/><circle cx="413.4" cy="1085.5" r="0.7" fill="#6a6a90" fill-opacity="0.61"/><circle cx="506.2" cy="1053.3" r="0.6" fill="#6a6a90" fill-opacity="0.56"/><circle cx="513.5" cy="1062.5" r="0.5" fill="#7a7a9a" fill-opacity="0.80"/><circle cx="530.4" cy="1119.1" r="0.5" fill="#7a7a9a" fill-opacity="0.85"/><circle cx="530.0" cy="1049.7" r="0.9" fill="#8888a8" fill-opacity="0.54"/><circle cx="416.2" cy="1099.3" r="0.6" fill="#6a6a90" fill-opacity="0.52"/><circle cx="459.3" cy="1125.4" r="1.1" fill="#6a6a90" fill-opacity="0.79"/><circle cx="478.5" cy="1105.1" r="0.5" fill="#6a6a90" fill-opacity="0.60"/><circle cx="446.4" cy="1116.1" r="0.5" fill="#8888a8" fill-opacity="0.69"/><circle cx="491.0" cy="1126.9" r="0.9" fill="#8888a8" fill-opacity="0.59"/><circle cx="524.1" cy="1102.1" r="0.5" fill="#8888a8" fill-opacity="0.70"/><circle cx="465.5" cy="1056.0" r="0.8" fill="#6a6a90" fill-opacity="0.61"/><circle cx="485.6" cy="1076.4" r="0.5" fill="#8888a8" fill-opacity="0.68"/><circle cx="450.2" cy="1082.5" r="0.5" fill="#6a6a90" fill-opacity="0.90"/><circle cx="490.2" cy="1067.4" r="0.5" fill="#7a7a9a" fill-opacity="0.58"/><circle cx="472.5" cy="1140.1" r="0.6" fill="#7a7a9a" fill-opacity="0.68"/><circle cx="508.3" cy="1048.0" r="0.5" fill="#6a6a90" fill-opacity="0.72"/><circle cx="460.0" cy="1028.1" r="0.9" fill="#7a7a9a" fill-opacity="0.51"/><circle cx="500.1" cy="1029.4" r="0.5" fill="#7a7a9a" fill-opacity="0.57"/><circle cx="445.6" cy="1071.4" r="1.0" fill="#8888a8" fill-opacity="0.87"/><circle cx="471.7" cy="1031.7" r="0.5" fill="#7a7a9a" fill-opacity="0.70"/><circle cx="459.0" cy="1097.5" r="0.8" fill="#8888a8" fill-opacity="0.78"/><circle cx="458.2" cy="1126.6" r="0.6" fill="#8888a8" fill-opacity="0.59"/><circle cx="442.5" cy="1129.4" r="0.6" fill="#7a7a9a" fill-opacity="0.68"/><circle cx="425.1" cy="1054.2" r="0.5" fill="#8888a8" fill-opacity="0.74"/><circle cx="429.2" cy="1106.5" r="0.6" fill="#8888a8" fill-opacity="0.72"/><circle cx="512.7" cy="1111.7" r="0.5" fill="#8888a8" fill-opacity="0.67"/><circle cx="462.4" cy="1074.0" r="0.6" fill="#6a6a90" fill-opacity="0.75"/><circle cx="499.4" cy="1104.6" r="0.5" fill="#7a7a9a" fill-opacity="0.55"/><circle cx="444.2" cy="1071.8" r="0.8" fill="#6a6a90" fill-opacity="0.70"/><circle cx="499.8" cy="1125.9" r="0.6" fill="#8888a8" fill-opacity="0.59"/><circle cx="487.3" cy="1029.0" r="0.5" fill="#6a6a90" fill-opacity="0.51"/><circle cx="452.2" cy="1072.5" r="0.7" fill="#7a7a9a" fill-opacity="0.53"/><circle cx="494.8" cy="1127.1" r="0.7" fill="#8888a8" fill-opacity="0.67"/><circle cx="445.2" cy="1047.4" r="0.6" fill="#8888a8" fill-opacity="0.84"/><circle cx="418.3" cy="1072.4" r="1.1" fill="#6a6a90" fill-opacity="0.86"/><circle cx="428.9" cy="1075.7" r="0.5" fill="#8888a8" fill-opacity="0.60"/><circle cx="441.1" cy="1053.4" r="0.7" fill="#8888a8" fill-opacity="0.86"/><circle cx="505.7" cy="1137.9" r="0.5" fill="#7a7a9a" fill-opacity="0.63"/></g><g><circle cx="460.5" cy="1123.7" r="0.7" fill="#2a1aa8" fill-opacity="0.83"/><circle cx="497.0" cy="1033.3" r="1.3" fill="#1e1090" fill-opacity="0.80"/><circle cx="443.3" cy="1080.8" r="0.6" fill="#4434d0" fill-opacity="0.73"/><circle cx="433.9" cy="1068.0" r="0.7" fill="#2a1aa8" fill-opacity="0.84"/><circle cx="450.1" cy="1045.7" r="1.0" fill="#2a1aa8" fill-opacity="0.87"/><circle cx="533.3" cy="1074.5" r="0.7" fill="#2a1aa8" fill-opacity="0.80"/><circle cx="512.2" cy="1135.6" r="0.7" fill="#3523c0" fill-opacity="0.87"/><circle cx="522.9" cy="1052.5" r="0.6" fill="#4434d0" fill-opacity="0.85"/><circle cx="464.4" cy="1134.9" r="0.6" fill="#4434d0" fill-opacity="0.83"/><circle cx="526.6" cy="1079.2" r="0.9" fill="#1e1090" fill-opacity="0.74"/><circle cx="465.0" cy="1095.7" r="0.8" fill="#3523c0" fill-opacity="0.76"/><circle cx="477.1" cy="1068.0" r="1.1" fill="#4434d0" fill-opacity="0.80"/><circle cx="536.8" cy="1102.1" r="0.8" fill="#3523c0" fill-opacity="0.86"/><circle cx="453.8" cy="1081.5" r="0.9" fill="#4434d0" fill-opacity="0.68"/><circle cx="434.2" cy="1092.3" r="0.7" fill="#1e1090" fill-opacity="0.64"/><circle cx="476.8" cy="1106.2" r="0.6" fill="#1e1090" fill-opacity="0.82"/><circle cx="427.4" cy="1119.1" r="0.9" fill="#4434d0" fill-opacity="0.69"/><circle cx="507.6" cy="1061.8" r="1.1" fill="#3523c0" fill-opacity="0.66"/><circle cx="440.1" cy="1100.8" r="0.6" fill="#2a1aa8" fill-opacity="0.65"/><circle cx="447.6" cy="1110.2" r="0.7" fill="#4434d0" fill-opacity="0.67"/><circle cx="505.7" cy="1127.7" r="0.7" fill="#4434d0" fill-opacity="0.68"/><circle cx="504.6" cy="1139.3" r="0.6" fill="#2a1aa8" fill-opacity="0.81"/><circle cx="510.3" cy="1032.7" r="1.2" fill="#1e1090" fill-opacity="0.65"/><circle cx="466.9" cy="1086.9" r="0.8" fill="#1e1090" fill-opacity="0.79"/><circle cx="532.8" cy="1086.8" r="0.6" fill="#1e1090" fill-opacity="0.60"/></g><g><circle cx="474.9" cy="1069.7" r="1.2" fill="#4434d0" fill-opacity="0.89"/><circle cx="446.7" cy="1056.5" r="3.9" fill="#1e1090" fill-opacity="0.89"/><circle cx="418.9" cy="1073.9" r="1.5" fill="#4434d0" fill-opacity="0.89"/><circle cx="426.0" cy="1072.7" r="3.9" fill="#2a1aa8" fill-opacity="0.97"/><circle cx="439.2" cy="1042.2" r="3.2" fill="#2a1aa8" fill-opacity="0.94"/><circle cx="449.8" cy="1056.0" r="1.4" fill="#1e1090" fill-opacity="0.89"/><circle cx="485.0" cy="1091.0" r="2.0" fill="#3523c0" fill-opacity="0.95"/><circle cx="516.5" cy="1063.2" r="2.1" fill="#1e1090" fill-opacity="0.87"/><circle cx="434.8" cy="1102.0" r="2.6" fill="#4434d0" fill-opacity="0.91"/><circle cx="534.3" cy="1094.2" r="1.7" fill="#2a1aa8" fill-opacity="0.95"/><circle cx="418.3" cy="1073.7" r="2.7" fill="#1e1090" fill-opacity="0.99"/><circle cx="536.5" cy="1060.0" r="2.1" fill="#4434d0" fill-opacity="0.94"/><circle cx="450.9" cy="1087.9" r="2.4" fill="#1e1090" fill-opacity="1.00"/><circle cx="471.7" cy="1083.0" r="2.2" fill="#1e1090" fill-opacity="0.92"/><circle cx="464.4" cy="1139.3" r="2.0" fill="#4434d0" fill-opacity="0.90"/><circle cx="439.3" cy="1092.1" r="2.7" fill="#1e1090" fill-opacity="0.99"/><circle cx="511.3" cy="1051.5" r="3.9" fill="#2a1aa8" fill-opacity="0.94"/><circle cx="491.5" cy="1035.5" r="1.2" fill="#4434d0" fill-opacity="0.92"/><circle cx="451.0" cy="1032.3" r="1.9" fill="#3523c0" fill-opacity="0.93"/><circle cx="506.9" cy="1094.9" r="2.7" fill="#3523c0" fill-opacity="1.00"/><circle cx="532.3" cy="1073.4" r="1.5" fill="#1e1090" fill-opacity="0.91"/><circle cx="478.5" cy="1041.2" r="2.6" fill="#3523c0" fill-opacity="0.89"/><circle cx="425.8" cy="1065.1" r="3.4" fill="#1e1090" fill-opacity="0.86"/><circle cx="444.0" cy="1032.1" r="2.3" fill="#1e1090" fill-opacity="0.89"/><circle cx="535.0" cy="1102.4" r="1.5" fill="#1e1090" fill-opacity="0.93"/><circle cx="526.0" cy="1096.2" r="3.3" fill="#3523c0" fill-opacity="0.92"/><circle cx="523.3" cy="1121.8" r="1.3" fill="#3523c0" fill-opacity="0.87"/><circle cx="474.3" cy="1111.7" r="1.3" fill="#2a1aa8" fill-opacity="0.99"/><circle cx="504.6" cy="1095.0" r="2.8" fill="#1e1090" fill-opacity="0.99"/><circle cx="490.9" cy="1101.5" r="2.1" fill="#4434d0" fill-opacity="0.99"/><circle cx="473.3" cy="1102.5" r="2.6" fill="#2a1aa8" fill-opacity="0.87"/><circle cx="476.2" cy="1057.4" r="3.1" fill="#3523c0" fill-opacity="0.95"/><circle cx="511.7" cy="1101.8" r="2.8" fill="#2a1aa8" fill-opacity="0.94"/><circle cx="460.6" cy="1099.4" r="2.6" fill="#3523c0" fill-opacity="0.89"/><circle cx="484.2" cy="1025.1" r="1.6" fill="#3523c0" fill-opacity="0.91"/><circle cx="419.2" cy="1091.2" r="3.8" fill="#2a1aa8" fill-opacity="0.96"/><circle cx="455.8" cy="1105.5" r="1.8" fill="#3523c0" fill-opacity="0.86"/><circle cx="515.5" cy="1034.1" r="3.7" fill="#2a1aa8" fill-opacity="0.94"/><circle cx="477.1" cy="1036.0" r="3.4" fill="#1e1090" fill-opacity="0.93"/><circle cx="520.2" cy="1077.8" r="1.8" fill="#4434d0" fill-opacity="0.94"/><circle cx="508.3" cy="1072.1" r="3.6" fill="#4434d0" fill-opacity="0.97"/><circle cx="464.4" cy="1125.8" r="3.8" fill="#3523c0" fill-opacity="0.88"/></g></g><rect x="109.2" y="863.2" width="452.6" height="294.6" fill="none" stroke="#000" stroke-width="2.4"/>
<clipPath id="clip12"><rect x="1120" y="865" width="455" height="297"/></clipPath><g clip-path="url(#clip12)"><rect x="1120" y="865" width="455" height="297" fill="url(#pb12)"/><circle cx="1272.9" cy="1013.5" r="19" fill="none" stroke="#c2c8d4" stroke-width="1.5"/><circle cx="1272.9" cy="1013.5" r="13" fill="none" stroke="#f3f4f7" stroke-width="2"/><circle cx="1272.9" cy="1013.5" r="12" fill="none" stroke="#c2c8d4" stroke-width="1.2"/><circle cx="1422.1" cy="1013.5" r="19" fill="none" stroke="#c2c8d4" stroke-width="1.5"/><circle cx="1422.1" cy="1013.5" r="13" fill="none" stroke="#f3f4f7" stroke-width="2"/><circle cx="1422.1" cy="1013.5" r="12" fill="none" stroke="#c2c8d4" stroke-width="1.2"/><circle cx="1199.2" cy="943.1" r="71.9" fill="#e9ebf0" stroke="#c2c8d4" stroke-width="1.4"/><circle cx="1199.2" cy="943.1" r="68.4" fill="none" stroke="#f5f6f9" stroke-width="3" stroke-opacity="0.6"/><circle cx="1203.2" cy="946.1" r="62.2" fill="url(#wg12_0)" stroke="#c2c8d4" stroke-width="1.4"/><circle cx="1203.2" cy="946.1" r="64.2" fill="none" stroke="#f7f8fa" stroke-width="1.8" stroke-opacity="0.6"/><g filter="url(#fz1)"><circle cx="1151.9" cy="954.4" r="3.3" fill="#8d84de" fill-opacity="0.58"/><circle cx="1247.7" cy="945.2" r="3.2" fill="#9a92e4" fill-opacity="0.69"/><circle cx="1164.7" cy="917.6" r="3.2" fill="#8d84de" fill-opacity="0.79"/><circle cx="1178.0" cy="973.7" r="1.7" fill="#7e74d8" fill-opacity="0.74"/><circle cx="1250.5" cy="970.1" r="2.0" fill="#9a92e4" fill-opacity="0.73"/><circle cx="1255.6" cy="978.1" r="4.2" fill="#7e74d8" fill-opacity="0.63"/><circle cx="1256.7" cy="980.5" r="5.1" fill="#8d84de" fill-opacity="0.68"/><circle cx="1249.5" cy="937.7" r="4.6" fill="#7e74d8" fill-opacity="0.51"/><circle cx="1198.4" cy="932.4" r="1.6" fill="#8d84de" fill-opacity="0.59"/><circle cx="1160.0" cy="970.2" r="2.4" fill="#9a92e4" fill-opacity="0.64"/><circle cx="1191.5" cy="931.9" r="1.6" fill="#7e74d8" fill-opacity="0.54"/><circle cx="1258.7" cy="924.5" r="2.1" fill="#9a92e4" fill-opacity="0.49"/><circle cx="1206.8" cy="984.5" r="2.5" fill="#7e74d8" fill-opacity="0.51"/><circle cx="1159.7" cy="986.5" r="1.5" fill="#8d84de" fill-opacity="0.53"/><circle cx="1167.4" cy="963.7" r="3.9" fill="#8d84de" fill-opacity="0.71"/><circle cx="1206.5" cy="963.7" r="1.8" fill="#9a92e4" fill-opacity="0.55"/><circle cx="1174.7" cy="988.5" r="1.5" fill="#9a92e4" fill-opacity="0.58"/><circle cx="1180.1" cy="982.7" r="3.4" fill="#9a92e4" fill-opacity="0.53"/><circle cx="1246.7" cy="943.0" r="2.7" fill="#8d84de" fill-opacity="0.52"/><circle cx="1202.6" cy="884.9" r="1.5" fill="#9a92e4" fill-opacity="0.77"/><circle cx="1211.8" cy="920.4" r="4.0" fill="#7e74d8" fill-opacity="0.46"/><circle cx="1156.6" cy="902.9" r="5.5" fill="#7e74d8" fill-opacity="0.50"/><circle cx="1257.2" cy="919.7" r="3.3" fill="#9a92e4" fill-opacity="0.67"/><circle cx="1209.1" cy="992.2" r="2.4" fill="#7e74d8" fill-opacity="0.57"/><circle cx="1186.1" cy="907.0" r="3.7" fill="#9a92e4" fill-opacity="0.55"/><circle cx="1226.8" cy="921.9" r="5.1" fill="#7e74d8" fill-opacity="0.67"/><circle cx="1149.5" cy="965.4" r="3.7" fill="#7e74d8" fill-opacity="0.54"/><circle cx="1181.5" cy="897.4" r="1.6" fill="#9a92e4" fill-opacity="0.60"/><circle cx="1205.5" cy="988.3" r="5.3" fill="#7e74d8" fill-opacity="0.65"/><circle cx="1191.1" cy="885.3" r="1.8" fill="#8d84de" fill-opacity="0.60"/><circle cx="1151.5" cy="914.0" r="4.0" fill="#7e74d8" fill-opacity="0.64"/><circle cx="1253.9" cy="939.7" r="2.1" fill="#8d84de" fill-opacity="0.46"/><circle cx="1188.1" cy="887.1" r="4.0" fill="#8d84de" fill-opacity="0.77"/><circle cx="1147.6" cy="933.7" r="2.1" fill="#8d84de" fill-opacity="0.70"/><circle cx="1215.6" cy="977.0" r="4.0" fill="#7e74d8" fill-opacity="0.64"/><circle cx="1186.9" cy="930.4" r="2.6" fill="#7e74d8" fill-opacity="0.69"/><circle cx="1188.2" cy="937.8" r="2.0" fill="#8d84de" fill-opacity="0.69"/><circle cx="1215.3" cy="961.1" r="1.9" fill="#7e74d8" fill-opacity="0.51"/><circle cx="1180.9" cy="900.1" r="2.3" fill="#8d84de" fill-opacity="0.46"/><circle cx="1160.6" cy="949.4" r="1.6" fill="#7e74d8" fill-opacity="0.66"/><circle cx="1145.1" cy="962.2" r="1.5" fill="#8d84de" fill-opacity="0.45"/><circle cx="1181.5" cy="972.2" r="1.7" fill="#9a92e4" fill-opacity="0.55"/><circle cx="1178.8" cy="943.6" r="4.8" fill="#9a92e4" fill-opacity="0.51"/><circle cx="1154.5" cy="957.1" r="4.3" fill="#8d84de" fill-opacity="0.61"/></g><g><circle cx="1206.3" cy="932.2" r="2.1" fill="#2a1ca8" fill-opacity="0.91"/><circle cx="1206.0" cy="905.9" r="1.8" fill="#5346cc" fill-opacity="0.81"/><circle cx="1241.1" cy="976.1" r="1.0" fill="#5346cc" fill-opacity="0.80"/><circle cx="1212.7" cy="886.2" r="1.7" fill="#3a2cc0" fill-opacity="0.83"/><circle cx="1210.4" cy="992.8" r="0.9" fill="#3a2cc0" fill-opacity="0.89"/><circle cx="1176.1" cy="976.9" r="1.7" fill="#2a1ca8" fill-opacity="0.88"/><circle cx="1245.6" cy="902.7" r="1.0" fill="#3a2cc0" fill-opacity="0.85"/><circle cx="1254.0" cy="956.7" r="2.2" fill="#2a1ca8" fill-opacity="0.88"/><circle cx="1178.9" cy="923.9" r="1.2" fill="#2a1ca8" fill-opacity="0.90"/><circle cx="1256.9" cy="924.8" r="0.9" fill="#3a2cc0" fill-opacity="0.97"/><circle cx="1228.8" cy="967.2" r="2.5" fill="#5346cc" fill-opacity="0.97"/><circle cx="1219.8" cy="911.5" r="2.0" fill="#2a1ca8" fill-opacity="0.95"/><circle cx="1225.8" cy="918.4" r="2.5" fill="#5346cc" fill-opacity="0.98"/><circle cx="1238.3" cy="951.6" r="0.8" fill="#3a2cc0" fill-opacity="0.84"/><circle cx="1222.0" cy="1000.5" r="2.7" fill="#3a2cc0" fill-opacity="0.95"/><circle cx="1194.1" cy="943.4" r="2.6" fill="#2a1ca8" fill-opacity="0.94"/><circle cx="1161.4" cy="936.4" r="1.4" fill="#5346cc" fill-opacity="0.83"/><circle cx="1168.3" cy="974.0" r="1.0" fill="#2a1ca8" fill-opacity="0.93"/><circle cx="1171.6" cy="972.7" r="1.4" fill="#5346cc" fill-opacity="0.97"/><circle cx="1228.2" cy="949.4" r="2.1" fill="#2a1ca8" fill-opacity="0.94"/><circle cx="1254.1" cy="931.8" r="1.2" fill="#2a1ca8" fill-opacity="0.99"/><circle cx="1191.0" cy="958.2" r="2.6" fill="#2a1ca8" fill-opacity="0.81"/><circle cx="1217.6" cy="957.8" r="0.8" fill="#3a2cc0" fill-opacity="0.99"/><circle cx="1255.2" cy="956.4" r="1.5" fill="#5346cc" fill-opacity="0.99"/></g><g><circle cx="1201.9" cy="883.7" r="0.5" fill="#7a7a9a" fill-opacity="0.63"/><circle cx="1219.9" cy="898.1" r="0.6" fill="#8888a8" fill-opacity="0.57"/><circle cx="1168.5" cy="936.5" r="0.5" fill="#7a7a9a" fill-opacity="0.66"/><circle cx="1195.1" cy="959.4" r="0.8" fill="#6a6a90" fill-opacity="0.77"/><circle cx="1180.5" cy="972.7" r="0.9" fill="#6a6a90" fill-opacity="0.45"/><circle cx="1198.2" cy="974.1" r="0.5" fill="#8888a8" fill-opacity="0.69"/><circle cx="1228.7" cy="896.6" r="0.6" fill="#8888a8" fill-opacity="0.71"/><circle cx="1245.7" cy="907.1" r="0.6" fill="#6a6a90" fill-opacity="0.65"/><circle cx="1191.3" cy="935.0" r="0.6" fill="#8888a8" fill-opacity="0.64"/><circle cx="1236.1" cy="979.8" r="1.0" fill="#6a6a90" fill-opacity="0.51"/><circle cx="1167.9" cy="999.2" r="0.5" fill="#6a6a90" fill-opacity="0.65"/><circle cx="1225.3" cy="988.1" r="0.7" fill="#6a6a90" fill-opacity="0.51"/><circle cx="1183.1" cy="979.8" r="0.9" fill="#8888a8" fill-opacity="0.78"/><circle cx="1189.2" cy="936.2" r="0.7" fill="#7a7a9a" fill-opacity="0.78"/><circle cx="1166.6" cy="911.6" r="0.9" fill="#7a7a9a" fill-opacity="0.52"/><circle cx="1177.5" cy="991.2" r="0.6" fill="#6a6a90" fill-opacity="0.53"/><circle cx="1146.3" cy="932.5" r="0.6" fill="#8888a8" fill-opacity="0.47"/><circle cx="1184.0" cy="947.9" r="0.5" fill="#8888a8" fill-opacity="0.49"/><circle cx="1251.6" cy="967.9" r="0.5" fill="#8888a8" fill-opacity="0.66"/><circle cx="1171.2" cy="908.8" r="0.6" fill="#8888a8" fill-opacity="0.58"/><circle cx="1240.2" cy="930.7" r="0.6" fill="#8888a8" fill-opacity="0.51"/><circle cx="1226.4" cy="929.9" r="0.7" fill="#6a6a90" fill-opacity="0.59"/><circle cx="1173.9" cy="900.5" r="0.9" fill="#8888a8" fill-opacity="0.54"/><circle cx="1199.7" cy="955.5" r="0.9" fill="#8888a8" fill-opacity="0.56"/><circle cx="1262.7" cy="933.7" r="0.5" fill="#6a6a90" fill-opacity="0.57"/><circle cx="1190.4" cy="976.1" r="0.6" fill="#7a7a9a" fill-opacity="0.46"/><circle cx="1158.5" cy="959.7" r="0.5" fill="#7a7a9a" fill-opacity="0.45"/><circle cx="1222.6" cy="911.8" r="0.6" fill="#6a6a90" fill-opacity="0.44"/><circle cx="1223.9" cy="1001.0" r="0.6" fill="#6a6a90" fill-opacity="0.76"/><circle cx="1245.5" cy="926.8" r="0.6" fill="#7a7a9a" fill-opacity="0.45"/><circle cx="1218.7" cy="1002.9" r="0.5" fill="#7a7a9a" fill-opacity="0.50"/><circle cx="1143.6" cy="933.3" r="0.5" fill="#6a6a90" fill-opacity="0.61"/></g><circle cx="1347.0" cy="943.1" r="71.9" fill="#e9ebf0" stroke="#c2c8d4" stroke-width="1.4"/><circle cx="1347.0" cy="943.1" r="68.4" fill="none" stroke="#f5f6f9" stroke-width="3" stroke-opacity="0.6"/><circle cx="1347.0" cy="946.1" r="62.2" fill="url(#wg12_0)" stroke="#c2c8d4" stroke-width="1.4"/><circle cx="1347.0" cy="946.1" r="64.2" fill="none" stroke="#f7f8fa" stroke-width="1.8" stroke-opacity="0.6"/><g filter="url(#fz1)"><circle cx="1394.1" cy="935.4" r="4.4" fill="#8d84de" fill-opacity="0.60"/><circle cx="1391.7" cy="952.2" r="2.0" fill="#9a92e4" fill-opacity="0.48"/><circle cx="1288.5" cy="928.6" r="2.3" fill="#7e74d8" fill-opacity="0.59"/><circle cx="1392.5" cy="948.4" r="2.2" fill="#8d84de" fill-opacity="0.46"/><circle cx="1360.3" cy="901.5" r="3.0" fill="#9a92e4" fill-opacity="0.53"/><circle cx="1299.2" cy="977.6" r="3.7" fill="#7e74d8" fill-opacity="0.48"/><circle cx="1341.2" cy="933.8" r="1.8" fill="#9a92e4" fill-opacity="0.69"/><circle cx="1317.5" cy="988.7" r="4.2" fill="#8d84de" fill-opacity="0.79"/><circle cx="1378.6" cy="984.6" r="1.6" fill="#7e74d8" fill-opacity="0.64"/><circle cx="1372.8" cy="998.3" r="4.5" fill="#8d84de" fill-opacity="0.74"/><circle cx="1371.2" cy="949.1" r="2.3" fill="#9a92e4" fill-opacity="0.70"/><circle cx="1347.6" cy="888.0" r="3.8" fill="#9a92e4" fill-opacity="0.60"/><circle cx="1349.6" cy="917.1" r="5.1" fill="#7e74d8" fill-opacity="0.57"/><circle cx="1333.8" cy="994.5" r="2.1" fill="#9a92e4" fill-opacity="0.56"/><circle cx="1304.0" cy="927.1" r="2.6" fill="#7e74d8" fill-opacity="0.77"/><circle cx="1329.0" cy="1003.1" r="1.9" fill="#8d84de" fill-opacity="0.77"/><circle cx="1350.2" cy="993.3" r="3.9" fill="#8d84de" fill-opacity="0.76"/><circle cx="1400.5" cy="978.8" r="3.0" fill="#7e74d8" fill-opacity="0.60"/><circle cx="1369.3" cy="898.2" r="5.5" fill="#8d84de" fill-opacity="0.60"/><circle cx="1377.6" cy="927.1" r="1.5" fill="#9a92e4" fill-opacity="0.68"/><circle cx="1318.4" cy="949.7" r="1.7" fill="#8d84de" fill-opacity="0.74"/><circle cx="1325.1" cy="906.8" r="4.1" fill="#8d84de" fill-opacity="0.63"/><circle cx="1326.8" cy="907.3" r="3.9" fill="#7e74d8" fill-opacity="0.57"/><circle cx="1369.3" cy="1003.4" r="1.6" fill="#7e74d8" fill-opacity="0.51"/><circle cx="1304.9" cy="953.7" r="1.6" fill="#8d84de" fill-opacity="0.68"/><circle cx="1354.5" cy="977.7" r="1.5" fill="#9a92e4" fill-opacity="0.80"/><circle cx="1328.5" cy="904.0" r="2.3" fill="#9a92e4" fill-opacity="0.77"/><circle cx="1375.8" cy="997.5" r="2.8" fill="#8d84de" fill-opacity="0.68"/><circle cx="1376.1" cy="983.2" r="1.6" fill="#9a92e4" fill-opacity="0.67"/><circle cx="1340.1" cy="934.7" r="2.4" fill="#9a92e4" fill-opacity="0.71"/><circle cx="1386.1" cy="993.2" r="4.4" fill="#9a92e4" fill-opacity="0.66"/><circle cx="1330.4" cy="901.3" r="1.6" fill="#9a92e4" fill-opacity="0.73"/><circle cx="1406.6" cy="935.1" r="2.6" fill="#7e74d8" fill-opacity="0.54"/><circle cx="1367.8" cy="920.9" r="1.5" fill="#8d84de" fill-opacity="0.64"/><circle cx="1387.9" cy="922.3" r="2.8" fill="#8d84de" fill-opacity="0.60"/><circle cx="1403.5" cy="961.1" r="1.6" fill="#8d84de" fill-opacity="0.67"/><circle cx="1352.5" cy="898.6" r="3.3" fill="#7e74d8" fill-opacity="0.77"/><circle cx="1401.9" cy="949.0" r="1.6" fill="#9a92e4" fill-opacity="0.65"/><circle cx="1390.9" cy="973.5" r="3.5" fill="#7e74d8" fill-opacity="0.74"/><circle cx="1290.1" cy="942.3" r="1.5" fill="#8d84de" fill-opacity="0.77"/><circle cx="1383.6" cy="952.0" r="5.2" fill="#8d84de" fill-opacity="0.49"/><circle cx="1402.8" cy="949.6" r="2.1" fill="#9a92e4" fill-opacity="0.70"/><circle cx="1385.2" cy="981.4" r="1.6" fill="#7e74d8" fill-opacity="0.73"/><circle cx="1391.1" cy="976.7" r="4.2" fill="#9a92e4" fill-opacity="0.58"/><circle cx="1339.8" cy="983.9" r="1.5" fill="#9a92e4" fill-opacity="0.55"/><circle cx="1327.0" cy="889.3" r="1.8" fill="#9a92e4" fill-opacity="0.62"/><circle cx="1365.7" cy="946.6" r="1.5" fill="#8d84de" fill-opacity="0.60"/><circle cx="1300.1" cy="946.4" r="4.4" fill="#9a92e4" fill-opacity="0.76"/><circle cx="1350.9" cy="906.5" r="1.5" fill="#8d84de" fill-opacity="0.66"/><circle cx="1378.4" cy="1001.6" r="4.4" fill="#9a92e4" fill-opacity="0.56"/><circle cx="1330.8" cy="998.3" r="1.5" fill="#8d84de" fill-opacity="0.56"/><circle cx="1319.1" cy="968.5" r="3.5" fill="#8d84de" fill-opacity="0.77"/><circle cx="1360.6" cy="907.2" r="1.5" fill="#9a92e4" fill-opacity="0.80"/><circle cx="1390.6" cy="947.7" r="2.0" fill="#9a92e4" fill-opacity="0.57"/><circle cx="1383.9" cy="950.9" r="1.7" fill="#8d84de" fill-opacity="0.47"/><circle cx="1387.9" cy="992.4" r="3.6" fill="#7e74d8" fill-opacity="0.73"/><circle cx="1344.8" cy="915.7" r="1.5" fill="#7e74d8" fill-opacity="0.68"/><circle cx="1344.6" cy="937.0" r="2.0" fill="#8d84de" fill-opacity="0.58"/><circle cx="1366.9" cy="983.4" r="1.6" fill="#8d84de" fill-opacity="0.77"/><circle cx="1292.4" cy="924.6" r="1.6" fill="#7e74d8" fill-opacity="0.51"/><circle cx="1305.2" cy="946.8" r="1.6" fill="#8d84de" fill-opacity="0.56"/><circle cx="1349.0" cy="884.8" r="1.5" fill="#8d84de" fill-opacity="0.47"/><circle cx="1341.5" cy="890.3" r="3.5" fill="#9a92e4" fill-opacity="0.51"/><circle cx="1310.7" cy="965.6" r="1.5" fill="#8d84de" fill-opacity="0.46"/><circle cx="1399.4" cy="940.5" r="5.4" fill="#8d84de" fill-opacity="0.62"/><circle cx="1320.7" cy="913.9" r="4.2" fill="#9a92e4" fill-opacity="0.68"/><circle cx="1288.3" cy="952.9" r="2.8" fill="#7e74d8" fill-opacity="0.62"/><circle cx="1366.2" cy="967.1" r="1.5" fill="#9a92e4" fill-opacity="0.72"/><circle cx="1320.9" cy="993.8" r="1.7" fill="#9a92e4" fill-opacity="0.55"/><circle cx="1300.2" cy="914.5" r="1.7" fill="#8d84de" fill-opacity="0.74"/><circle cx="1391.6" cy="952.3" r="4.1" fill="#7e74d8" fill-opacity="0.60"/><circle cx="1355.2" cy="994.9" r="2.2" fill="#9a92e4" fill-opacity="0.51"/><circle cx="1398.2" cy="913.7" r="4.8" fill="#7e74d8" fill-opacity="0.62"/><circle cx="1321.6" cy="890.0" r="5.4" fill="#8d84de" fill-opacity="0.78"/><circle cx="1289.0" cy="931.5" r="1.7" fill="#7e74d8" fill-opacity="0.54"/><circle cx="1336.7" cy="899.2" r="2.3" fill="#7e74d8" fill-opacity="0.78"/><circle cx="1332.0" cy="952.8" r="3.1" fill="#8d84de" fill-opacity="0.67"/></g><g><circle cx="1330.4" cy="888.9" r="1.4" fill="#5346cc" fill-opacity="0.81"/><circle cx="1351.3" cy="899.6" r="2.6" fill="#3a2cc0" fill-opacity="0.98"/><circle cx="1375.4" cy="973.9" r="1.7" fill="#3a2cc0" fill-opacity="0.92"/><circle cx="1381.8" cy="894.9" r="0.8" fill="#2a1ca8" fill-opacity="0.81"/><circle cx="1366.7" cy="939.5" r="1.8" fill="#5346cc" fill-opacity="0.91"/><circle cx="1327.1" cy="965.4" r="1.1" fill="#2a1ca8" fill-opacity="0.85"/><circle cx="1373.0" cy="932.7" r="1.3" fill="#2a1ca8" fill-opacity="0.98"/><circle cx="1374.8" cy="941.5" r="0.9" fill="#3a2cc0" fill-opacity="0.91"/><circle cx="1387.7" cy="972.5" r="1.2" fill="#2a1ca8" fill-opacity="0.87"/><circle cx="1297.5" cy="944.6" r="1.5" fill="#5346cc" fill-opacity="0.93"/><circle cx="1375.3" cy="956.6" r="1.0" fill="#2a1ca8" fill-opacity="0.89"/><circle cx="1322.3" cy="894.1" r="1.0" fill="#3a2cc0" fill-opacity="0.85"/><circle cx="1296.8" cy="945.6" r="2.3" fill="#3a2cc0" fill-opacity="0.81"/><circle cx="1338.2" cy="952.1" r="2.7" fill="#2a1ca8" fill-opacity="0.86"/><circle cx="1350.9" cy="951.3" r="2.8" fill="#5346cc" fill-opacity="0.89"/><circle cx="1311.6" cy="919.7" r="1.8" fill="#3a2cc0" fill-opacity="0.93"/><circle cx="1380.7" cy="948.3" r="2.2" fill="#5346cc" fill-opacity="0.90"/><circle cx="1376.8" cy="979.7" r="3.0" fill="#5346cc" fill-opacity="0.96"/><circle cx="1367.5" cy="943.2" r="1.3" fill="#2a1ca8" fill-opacity="0.95"/><circle cx="1373.2" cy="930.9" r="2.7" fill="#5346cc" fill-opacity="0.88"/><circle cx="1351.4" cy="893.5" r="0.8" fill="#2a1ca8" fill-opacity="0.89"/><circle cx="1397.9" cy="921.6" r="2.3" fill="#5346cc" fill-opacity="0.94"/><circle cx="1371.0" cy="944.1" r="1.9" fill="#3a2cc0" fill-opacity="0.81"/><circle cx="1356.2" cy="968.5" r="2.4" fill="#2a1ca8" fill-opacity="0.82"/><circle cx="1359.8" cy="929.0" r="1.5" fill="#3a2cc0" fill-opacity="0.85"/><circle cx="1294.8" cy="952.5" r="1.7" fill="#2a1ca8" fill-opacity="0.99"/><circle cx="1365.4" cy="1005.8" r="1.2" fill="#5346cc" fill-opacity="0.94"/><circle cx="1376.8" cy="906.3" r="2.6" fill="#2a1ca8" fill-opacity="0.86"/><circle cx="1382.2" cy="920.6" r="1.3" fill="#2a1ca8" fill-opacity="0.83"/><circle cx="1389.9" cy="906.9" r="0.9" fill="#5346cc" fill-opacity="0.85"/><circle cx="1318.4" cy="923.5" r="0.8" fill="#5346cc" fill-opacity="0.90"/><circle cx="1331.8" cy="930.3" r="1.3" fill="#3a2cc0" fill-opacity="0.87"/><circle cx="1345.1" cy="896.6" r="2.2" fill="#5346cc" fill-opacity="0.82"/><circle cx="1324.1" cy="939.8" r="1.4" fill="#5346cc" fill-opacity="0.94"/><circle cx="1305.3" cy="971.1" r="1.0" fill="#2a1ca8" fill-opacity="0.94"/><circle cx="1315.9" cy="900.4" r="1.1" fill="#5346cc" fill-opacity="0.80"/><circle cx="1392.3" cy="928.6" r="1.0" fill="#3a2cc0" fill-opacity="0.87"/><circle cx="1324.0" cy="944.3" r="1.7" fill="#2a1ca8" fill-opacity="0.96"/><circle cx="1379.5" cy="987.5" r="2.0" fill="#3a2cc0" fill-opacity="0.90"/><circle cx="1325.3" cy="956.1" r="1.0" fill="#5346cc" fill-opacity="0.86"/><circle cx="1331.3" cy="956.5" r="0.9" fill="#5346cc" fill-opacity="0.97"/><circle cx="1376.3" cy="902.1" r="1.3" fill="#5346cc" fill-opacity="0.82"/></g><g><circle cx="1368.0" cy="912.8" r="0.5" fill="#8888a8" fill-opacity="0.54"/><circle cx="1333.1" cy="902.2" r="0.7" fill="#6a6a90" fill-opacity="0.53"/><circle cx="1383.8" cy="967.9" r="0.5" fill="#8888a8" fill-opacity="0.62"/><circle cx="1364.6" cy="930.7" r="0.6" fill="#8888a8" fill-opacity="0.63"/><circle cx="1303.0" cy="985.5" r="0.9" fill="#6a6a90" fill-opacity="0.62"/><circle cx="1327.9" cy="1004.7" r="0.9" fill="#6a6a90" fill-opacity="0.67"/><circle cx="1343.0" cy="913.4" r="0.7" fill="#6a6a90" fill-opacity="0.78"/><circle cx="1387.5" cy="984.7" r="0.9" fill="#8888a8" fill-opacity="0.56"/><circle cx="1303.8" cy="902.5" r="0.8" fill="#7a7a9a" fill-opacity="0.40"/><circle cx="1386.0" cy="970.5" r="0.7" fill="#6a6a90" fill-opacity="0.67"/><circle cx="1396.6" cy="982.9" r="0.9" fill="#7a7a9a" fill-opacity="0.76"/><circle cx="1374.1" cy="900.6" r="0.8" fill="#7a7a9a" fill-opacity="0.51"/><circle cx="1360.6" cy="889.7" r="0.6" fill="#7a7a9a" fill-opacity="0.60"/><circle cx="1322.8" cy="984.8" r="0.5" fill="#6a6a90" fill-opacity="0.72"/><circle cx="1401.3" cy="930.1" r="0.6" fill="#8888a8" fill-opacity="0.41"/><circle cx="1287.4" cy="961.7" r="0.6" fill="#6a6a90" fill-opacity="0.50"/><circle cx="1353.6" cy="955.3" r="0.6" fill="#6a6a90" fill-opacity="0.65"/><circle cx="1362.6" cy="909.1" r="0.9" fill="#6a6a90" fill-opacity="0.76"/><circle cx="1379.4" cy="924.9" r="0.6" fill="#6a6a90" fill-opacity="0.73"/><circle cx="1306.7" cy="920.2" r="0.5" fill="#6a6a90" fill-opacity="0.49"/><circle cx="1344.6" cy="981.1" r="0.5" fill="#8888a8" fill-opacity="0.46"/><circle cx="1320.7" cy="995.8" r="0.7" fill="#7a7a9a" fill-opacity="0.50"/><circle cx="1334.0" cy="958.3" r="0.6" fill="#6a6a90" fill-opacity="0.63"/><circle cx="1312.0" cy="896.3" r="0.5" fill="#6a6a90" fill-opacity="0.49"/><circle cx="1338.7" cy="900.4" r="0.7" fill="#6a6a90" fill-opacity="0.72"/><circle cx="1305.4" cy="945.7" r="0.7" fill="#7a7a9a" fill-opacity="0.78"/><circle cx="1340.7" cy="959.2" r="0.8" fill="#6a6a90" fill-opacity="0.68"/><circle cx="1305.9" cy="937.8" r="0.8" fill="#6a6a90" fill-opacity="0.44"/><circle cx="1334.5" cy="961.9" r="0.8" fill="#8888a8" fill-opacity="0.73"/><circle cx="1343.8" cy="885.9" r="0.5" fill="#6a6a90" fill-opacity="0.49"/><circle cx="1333.8" cy="900.5" r="0.6" fill="#8888a8" fill-opacity="0.73"/><circle cx="1341.0" cy="983.3" r="0.5" fill="#6a6a90" fill-opacity="0.61"/><circle cx="1388.9" cy="979.9" r="0.5" fill="#8888a8" fill-opacity="0.73"/><circle cx="1351.4" cy="930.5" r="0.6" fill="#7a7a9a" fill-opacity="0.79"/><circle cx="1324.1" cy="996.4" r="0.6" fill="#7a7a9a" fill-opacity="0.75"/><circle cx="1347.1" cy="902.0" r="0.5" fill="#8888a8" fill-opacity="0.59"/><circle cx="1391.9" cy="913.7" r="0.5" fill="#7a7a9a" fill-opacity="0.63"/><circle cx="1386.4" cy="908.8" r="0.5" fill="#8888a8" fill-opacity="0.55"/><circle cx="1380.6" cy="957.8" r="0.7" fill="#7a7a9a" fill-opacity="0.77"/><circle cx="1379.9" cy="974.1" r="0.5" fill="#7a7a9a" fill-opacity="0.47"/><circle cx="1332.7" cy="998.4" r="0.5" fill="#6a6a90" fill-opacity="0.70"/><circle cx="1294.8" cy="941.3" r="0.7" fill="#7a7a9a" fill-opacity="0.64"/><circle cx="1328.9" cy="912.7" r="0.7" fill="#8888a8" fill-opacity="0.42"/><circle cx="1334.1" cy="890.8" r="0.5" fill="#7a7a9a" fill-opacity="0.46"/><circle cx="1391.0" cy="941.2" r="0.7" fill="#8888a8" fill-opacity="0.60"/><circle cx="1365.1" cy="890.0" r="0.6" fill="#8888a8" fill-opacity="0.50"/><circle cx="1350.5" cy="929.2" r="0.7" fill="#6a6a90" fill-opacity="0.47"/><circle cx="1310.9" cy="935.3" r="0.6" fill="#8888a8" fill-opacity="0.45"/><circle cx="1311.8" cy="918.0" r="0.9" fill="#8888a8" fill-opacity="0.77"/><circle cx="1356.9" cy="924.5" r="0.7" fill="#6a6a90" fill-opacity="0.58"/><circle cx="1310.4" cy="907.3" r="0.5" fill="#8888a8" fill-opacity="0.52"/><circle cx="1396.4" cy="985.2" r="0.6" fill="#6a6a90" fill-opacity="0.52"/><circle cx="1325.9" cy="949.2" r="0.7" fill="#7a7a9a" fill-opacity="0.61"/><circle cx="1372.0" cy="897.2" r="0.6" fill="#8888a8" fill-opacity="0.52"/><circle cx="1335.9" cy="993.3" r="0.7" fill="#7a7a9a" fill-opacity="0.48"/><circle cx="1378.0" cy="995.6" r="0.5" fill="#7a7a9a" fill-opacity="0.70"/></g><circle cx="1492.2" cy="943.1" r="71.9" fill="#e9ebf0" stroke="#c2c8d4" stroke-width="1.4"/><circle cx="1492.2" cy="943.1" r="68.4" fill="none" stroke="#f5f6f9" stroke-width="3" stroke-opacity="0.6"/><circle cx="1489.2" cy="946.1" r="62.2" fill="url(#wg12_0)" stroke="#c2c8d4" stroke-width="1.4"/><circle cx="1489.2" cy="946.1" r="64.2" fill="none" stroke="#f7f8fa" stroke-width="1.8" stroke-opacity="0.6"/><g filter="url(#fz1)"><circle cx="1532.4" cy="909.1" r="5.0" fill="#7e74d8" fill-opacity="0.65"/><circle cx="1522.0" cy="914.3" r="2.3" fill="#8d84de" fill-opacity="0.62"/><circle cx="1500.1" cy="947.1" r="5.0" fill="#8d84de" fill-opacity="0.67"/><circle cx="1464.5" cy="971.1" r="4.4" fill="#7e74d8" fill-opacity="0.72"/><circle cx="1507.0" cy="976.5" r="1.5" fill="#7e74d8" fill-opacity="0.72"/><circle cx="1488.1" cy="944.3" r="1.6" fill="#9a92e4" fill-opacity="0.64"/><circle cx="1467.6" cy="944.3" r="4.0" fill="#9a92e4" fill-opacity="0.56"/><circle cx="1486.9" cy="963.3" r="1.9" fill="#7e74d8" fill-opacity="0.51"/><circle cx="1506.4" cy="978.7" r="3.3" fill="#7e74d8" fill-opacity="0.74"/><circle cx="1547.2" cy="933.0" r="2.5" fill="#9a92e4" fill-opacity="0.50"/><circle cx="1482.4" cy="933.4" r="2.4" fill="#7e74d8" fill-opacity="0.66"/><circle cx="1471.0" cy="933.0" r="5.4" fill="#9a92e4" fill-opacity="0.72"/><circle cx="1500.6" cy="965.1" r="2.6" fill="#8d84de" fill-opacity="0.54"/><circle cx="1499.1" cy="956.2" r="2.4" fill="#9a92e4" fill-opacity="0.64"/><circle cx="1473.7" cy="960.9" r="3.4" fill="#8d84de" fill-opacity="0.80"/><circle cx="1484.4" cy="954.4" r="1.5" fill="#7e74d8" fill-opacity="0.51"/><circle cx="1527.0" cy="936.6" r="4.1" fill="#8d84de" fill-opacity="0.72"/><circle cx="1518.7" cy="987.8" r="1.5" fill="#8d84de" fill-opacity="0.61"/><circle cx="1491.1" cy="894.6" r="1.8" fill="#9a92e4" fill-opacity="0.67"/><circle cx="1458.3" cy="910.3" r="4.8" fill="#7e74d8" fill-opacity="0.63"/><circle cx="1431.0" cy="926.0" r="1.9" fill="#7e74d8" fill-opacity="0.63"/><circle cx="1442.3" cy="948.1" r="4.2" fill="#8d84de" fill-opacity="0.48"/><circle cx="1486.6" cy="983.6" r="1.6" fill="#8d84de" fill-opacity="0.49"/><circle cx="1476.4" cy="994.6" r="3.1" fill="#7e74d8" fill-opacity="0.60"/><circle cx="1509.8" cy="950.2" r="1.6" fill="#8d84de" fill-opacity="0.71"/><circle cx="1448.9" cy="956.0" r="1.5" fill="#8d84de" fill-opacity="0.77"/><circle cx="1482.7" cy="917.0" r="3.1" fill="#7e74d8" fill-opacity="0.77"/><circle cx="1430.4" cy="936.3" r="5.1" fill="#7e74d8" fill-opacity="0.65"/><circle cx="1511.1" cy="989.8" r="2.7" fill="#7e74d8" fill-opacity="0.78"/><circle cx="1449.8" cy="925.2" r="1.6" fill="#7e74d8" fill-opacity="0.76"/><circle cx="1493.4" cy="900.5" r="2.0" fill="#9a92e4" fill-opacity="0.72"/><circle cx="1442.0" cy="926.0" r="1.8" fill="#9a92e4" fill-opacity="0.59"/><circle cx="1512.6" cy="928.2" r="2.2" fill="#9a92e4" fill-opacity="0.57"/><circle cx="1447.1" cy="901.7" r="4.1" fill="#7e74d8" fill-opacity="0.62"/><circle cx="1468.2" cy="963.1" r="3.3" fill="#8d84de" fill-opacity="0.72"/><circle cx="1472.5" cy="894.3" r="1.6" fill="#7e74d8" fill-opacity="0.63"/><circle cx="1459.7" cy="898.2" r="4.1" fill="#9a92e4" fill-opacity="0.76"/><circle cx="1505.7" cy="943.6" r="1.6" fill="#9a92e4" fill-opacity="0.69"/><circle cx="1525.1" cy="998.4" r="4.9" fill="#8d84de" fill-opacity="0.67"/><circle cx="1501.3" cy="972.2" r="3.5" fill="#9a92e4" fill-opacity="0.58"/><circle cx="1449.2" cy="953.6" r="2.4" fill="#7e74d8" fill-opacity="0.55"/><circle cx="1501.4" cy="925.1" r="3.3" fill="#8d84de" fill-opacity="0.66"/><circle cx="1483.1" cy="957.6" r="4.8" fill="#9a92e4" fill-opacity="0.73"/><circle cx="1512.9" cy="889.7" r="1.7" fill="#8d84de" fill-opacity="0.60"/><circle cx="1461.9" cy="899.0" r="1.8" fill="#9a92e4" fill-opacity="0.70"/><circle cx="1488.8" cy="978.1" r="1.6" fill="#7e74d8" fill-opacity="0.68"/><circle cx="1543.7" cy="963.4" r="3.9" fill="#8d84de" fill-opacity="0.71"/><circle cx="1480.6" cy="998.4" r="5.2" fill="#7e74d8" fill-opacity="0.54"/><circle cx="1446.8" cy="968.8" r="1.8" fill="#7e74d8" fill-opacity="0.52"/><circle cx="1528.1" cy="939.5" r="2.5" fill="#9a92e4" fill-opacity="0.46"/><circle cx="1491.4" cy="987.6" r="3.0" fill="#8d84de" fill-opacity="0.68"/><circle cx="1463.7" cy="947.0" r="1.7" fill="#7e74d8" fill-opacity="0.56"/><circle cx="1462.2" cy="991.2" r="1.5" fill="#8d84de" fill-opacity="0.66"/><circle cx="1493.3" cy="1003.2" r="2.4" fill="#9a92e4" fill-opacity="0.57"/><circle cx="1455.2" cy="986.4" r="5.1" fill="#7e74d8" fill-opacity="0.50"/></g><g><circle cx="1517.3" cy="975.5" r="1.9" fill="#5346cc" fill-opacity="0.97"/><circle cx="1514.9" cy="916.9" r="0.9" fill="#3a2cc0" fill-opacity="0.85"/><circle cx="1439.2" cy="980.0" r="0.8" fill="#2a1ca8" fill-opacity="0.97"/><circle cx="1442.3" cy="977.3" r="2.5" fill="#5346cc" fill-opacity="0.95"/><circle cx="1511.8" cy="913.9" r="2.0" fill="#5346cc" fill-opacity="0.82"/><circle cx="1508.9" cy="969.1" r="0.9" fill="#2a1ca8" fill-opacity="0.92"/><circle cx="1541.5" cy="928.3" r="2.1" fill="#3a2cc0" fill-opacity="0.84"/><circle cx="1459.6" cy="900.9" r="1.7" fill="#5346cc" fill-opacity="0.91"/><circle cx="1487.6" cy="893.0" r="0.9" fill="#3a2cc0" fill-opacity="0.81"/><circle cx="1534.9" cy="987.7" r="2.7" fill="#2a1ca8" fill-opacity="0.81"/><circle cx="1545.6" cy="922.3" r="0.9" fill="#2a1ca8" fill-opacity="0.81"/><circle cx="1526.7" cy="904.2" r="2.8" fill="#2a1ca8" fill-opacity="0.97"/><circle cx="1532.7" cy="962.6" r="2.1" fill="#5346cc" fill-opacity="0.90"/><circle cx="1508.4" cy="902.7" r="0.9" fill="#2a1ca8" fill-opacity="0.91"/><circle cx="1526.6" cy="913.8" r="0.8" fill="#5346cc" fill-opacity="0.88"/><circle cx="1508.5" cy="977.3" r="0.8" fill="#5346cc" fill-opacity="0.92"/><circle cx="1434.2" cy="935.1" r="1.3" fill="#3a2cc0" fill-opacity="0.86"/><circle cx="1445.2" cy="929.8" r="0.9" fill="#3a2cc0" fill-opacity="0.96"/><circle cx="1505.5" cy="924.2" r="2.3" fill="#3a2cc0" fill-opacity="0.93"/><circle cx="1439.9" cy="931.2" r="1.7" fill="#2a1ca8" fill-opacity="0.96"/><circle cx="1540.3" cy="980.9" r="2.7" fill="#5346cc" fill-opacity="0.85"/><circle cx="1509.1" cy="910.7" r="0.8" fill="#5346cc" fill-opacity="0.87"/><circle cx="1439.5" cy="950.6" r="0.8" fill="#5346cc" fill-opacity="0.95"/><circle cx="1508.6" cy="930.3" r="0.9" fill="#2a1ca8" fill-opacity="0.88"/><circle cx="1468.9" cy="933.2" r="2.5" fill="#3a2cc0" fill-opacity="0.80"/><circle cx="1513.1" cy="949.3" r="0.8" fill="#2a1ca8" fill-opacity="0.88"/><circle cx="1429.6" cy="926.8" r="1.3" fill="#2a1ca8" fill-opacity="0.90"/><circle cx="1509.5" cy="988.4" r="1.5" fill="#3a2cc0" fill-opacity="0.85"/><circle cx="1514.2" cy="964.4" r="1.0" fill="#2a1ca8" fill-opacity="0.85"/><circle cx="1508.1" cy="955.5" r="2.2" fill="#5346cc" fill-opacity="0.81"/></g><g><circle cx="1526.5" cy="982.0" r="0.6" fill="#8888a8" fill-opacity="0.70"/><circle cx="1430.4" cy="944.7" r="0.9" fill="#8888a8" fill-opacity="0.53"/><circle cx="1489.1" cy="925.3" r="0.7" fill="#6a6a90" fill-opacity="0.69"/><circle cx="1473.1" cy="1003.4" r="0.6" fill="#6a6a90" fill-opacity="0.59"/><circle cx="1457.3" cy="997.2" r="0.9" fill="#8888a8" fill-opacity="0.72"/><circle cx="1499.9" cy="1003.5" r="0.7" fill="#7a7a9a" fill-opacity="0.45"/><circle cx="1480.7" cy="918.5" r="0.6" fill="#8888a8" fill-opacity="0.43"/><circle cx="1536.1" cy="918.8" r="0.9" fill="#6a6a90" fill-opacity="0.47"/><circle cx="1474.2" cy="954.6" r="0.5" fill="#8888a8" fill-opacity="0.53"/><circle cx="1473.9" cy="1007.2" r="0.6" fill="#7a7a9a" fill-opacity="0.78"/><circle cx="1485.9" cy="914.3" r="0.6" fill="#6a6a90" fill-opacity="0.41"/><circle cx="1461.5" cy="977.4" r="0.7" fill="#7a7a9a" fill-opacity="0.44"/><circle cx="1528.4" cy="976.7" r="0.9" fill="#6a6a90" fill-opacity="0.80"/><circle cx="1497.5" cy="977.4" r="0.6" fill="#8888a8" fill-opacity="0.79"/><circle cx="1502.0" cy="925.1" r="0.5" fill="#8888a8" fill-opacity="0.60"/><circle cx="1522.5" cy="968.1" r="0.7" fill="#7a7a9a" fill-opacity="0.77"/><circle cx="1502.4" cy="945.2" r="0.5" fill="#7a7a9a" fill-opacity="0.44"/><circle cx="1469.7" cy="964.3" r="0.7" fill="#8888a8" fill-opacity="0.51"/><circle cx="1538.8" cy="940.2" r="0.6" fill="#6a6a90" fill-opacity="0.66"/><circle cx="1484.1" cy="897.5" r="0.6" fill="#7a7a9a" fill-opacity="0.63"/><circle cx="1537.0" cy="949.5" r="0.5" fill="#7a7a9a" fill-opacity="0.51"/><circle cx="1465.4" cy="934.7" r="0.7" fill="#7a7a9a" fill-opacity="0.44"/><circle cx="1469.5" cy="897.8" r="0.6" fill="#6a6a90" fill-opacity="0.44"/><circle cx="1474.8" cy="931.5" r="0.7" fill="#6a6a90" fill-opacity="0.69"/><circle cx="1504.2" cy="1003.5" r="0.6" fill="#8888a8" fill-opacity="0.55"/><circle cx="1455.2" cy="996.9" r="0.7" fill="#8888a8" fill-opacity="0.46"/><circle cx="1482.1" cy="984.9" r="0.5" fill="#7a7a9a" fill-opacity="0.42"/><circle cx="1542.7" cy="981.1" r="0.6" fill="#7a7a9a" fill-opacity="0.48"/><circle cx="1431.6" cy="946.3" r="0.5" fill="#8888a8" fill-opacity="0.44"/><circle cx="1488.2" cy="948.7" r="0.5" fill="#6a6a90" fill-opacity="0.73"/><circle cx="1530.6" cy="969.6" r="0.5" fill="#7a7a9a" fill-opacity="0.65"/><circle cx="1486.7" cy="962.2" r="0.9" fill="#6a6a90" fill-opacity="0.54"/><circle cx="1534.3" cy="981.2" r="0.5" fill="#7a7a9a" fill-opacity="0.45"/><circle cx="1545.4" cy="969.9" r="0.9" fill="#7a7a9a" fill-opacity="0.69"/><circle cx="1473.4" cy="925.3" r="0.9" fill="#8888a8" fill-opacity="0.41"/><circle cx="1485.1" cy="980.5" r="0.5" fill="#7a7a9a" fill-opacity="0.51"/><circle cx="1434.1" cy="955.0" r="0.5" fill="#7a7a9a" fill-opacity="0.60"/><circle cx="1514.4" cy="911.2" r="0.6" fill="#6a6a90" fill-opacity="0.60"/><circle cx="1507.7" cy="958.2" r="0.5" fill="#6a6a90" fill-opacity="0.51"/><circle cx="1518.3" cy="1000.2" r="0.5" fill="#8888a8" fill-opacity="0.64"/></g><circle cx="1199.2" cy="1084.2" r="71.9" fill="#e1e4eb" stroke="#c2c8d4" stroke-width="1.4"/><circle cx="1199.2" cy="1084.2" r="68.4" fill="none" stroke="#f5f6f9" stroke-width="3" stroke-opacity="0.6"/><circle cx="1203.2" cy="1087.2" r="62.2" fill="url(#wg12_1)" stroke="#c2c8d4" stroke-width="1.4"/><circle cx="1203.2" cy="1087.2" r="64.2" fill="none" stroke="#f7f8fa" stroke-width="1.8" stroke-opacity="0.6"/><g filter="url(#fz1)"><circle cx="1174.1" cy="1102.5" r="1.6" fill="#7e74d8" fill-opacity="0.52"/><circle cx="1213.1" cy="1038.7" r="2.8" fill="#7e74d8" fill-opacity="0.61"/><circle cx="1206.3" cy="1028.5" r="1.7" fill="#7e74d8" fill-opacity="0.62"/><circle cx="1212.2" cy="1073.7" r="2.3" fill="#7e74d8" fill-opacity="0.50"/></g><g><circle cx="1205.3" cy="1072.1" r="1.5" fill="#2a1ca8" fill-opacity="0.97"/><circle cx="1231.1" cy="1032.3" r="3.5" fill="#2a1ca8" fill-opacity="0.95"/><circle cx="1238.9" cy="1093.8" r="1.8" fill="#2a1ca8" fill-opacity="0.85"/><circle cx="1197.6" cy="1046.0" r="1.5" fill="#2a1ca8" fill-opacity="0.93"/></g><g><circle cx="1203.4" cy="1108.8" r="0.5" fill="#8888a8" fill-opacity="0.72"/><circle cx="1158.2" cy="1121.0" r="0.5" fill="#8888a8" fill-opacity="0.55"/><circle cx="1175.7" cy="1133.4" r="0.5" fill="#6a6a90" fill-opacity="0.62"/><circle cx="1154.9" cy="1114.9" r="0.6" fill="#8888a8" fill-opacity="0.52"/><circle cx="1189.0" cy="1138.1" r="1.0" fill="#6a6a90" fill-opacity="0.66"/><circle cx="1181.1" cy="1085.3" r="0.8" fill="#7a7a9a" fill-opacity="0.79"/><circle cx="1258.2" cy="1090.2" r="0.9" fill="#8888a8" fill-opacity="0.41"/></g><circle cx="1347.0" cy="1084.2" r="71.9" fill="#e1e4eb" stroke="#c2c8d4" stroke-width="1.4"/><circle cx="1347.0" cy="1084.2" r="68.4" fill="none" stroke="#f5f6f9" stroke-width="3" stroke-opacity="0.6"/><circle cx="1347.0" cy="1087.2" r="62.2" fill="url(#wg12_1)" stroke="#c2c8d4" stroke-width="1.4"/><circle cx="1347.0" cy="1087.2" r="64.2" fill="none" stroke="#f7f8fa" stroke-width="1.8" stroke-opacity="0.6"/><g filter="url(#fz1)"><circle cx="1358.2" cy="1050.6" r="2.8" fill="#7e74d8" fill-opacity="0.65"/><circle cx="1362.6" cy="1081.1" r="2.9" fill="#9a92e4" fill-opacity="0.50"/><circle cx="1340.9" cy="1145.3" r="3.5" fill="#9a92e4" fill-opacity="0.67"/><circle cx="1301.6" cy="1050.2" r="2.5" fill="#8d84de" fill-opacity="0.59"/><circle cx="1375.7" cy="1115.3" r="1.5" fill="#7e74d8" fill-opacity="0.60"/><circle cx="1331.7" cy="1046.2" r="2.9" fill="#8d84de" fill-opacity="0.62"/></g><g><circle cx="1336.5" cy="1039.3" r="1.9" fill="#3a2cc0" fill-opacity="0.91"/><circle cx="1365.2" cy="1034.9" r="1.7" fill="#5346cc" fill-opacity="0.98"/><circle cx="1365.4" cy="1138.7" r="1.8" fill="#2a1ca8" fill-opacity="0.85"/><circle cx="1340.6" cy="1127.1" r="2.3" fill="#2a1ca8" fill-opacity="0.89"/><circle cx="1340.8" cy="1107.8" r="1.7" fill="#5346cc" fill-opacity="0.92"/><circle cx="1335.6" cy="1142.3" r="2.3" fill="#3a2cc0" fill-opacity="0.86"/><circle cx="1322.8" cy="1050.3" r="3.4" fill="#3a2cc0" fill-opacity="0.95"/></g><g><circle cx="1335.8" cy="1139.2" r="0.8" fill="#7a7a9a" fill-opacity="0.66"/><circle cx="1378.5" cy="1048.6" r="0.7" fill="#8888a8" fill-opacity="0.50"/><circle cx="1349.2" cy="1121.5" r="0.6" fill="#6a6a90" fill-opacity="0.77"/><circle cx="1302.2" cy="1055.9" r="0.5" fill="#7a7a9a" fill-opacity="0.71"/><circle cx="1346.1" cy="1140.2" r="0.7" fill="#8888a8" fill-opacity="0.56"/><circle cx="1397.5" cy="1048.1" r="0.5" fill="#7a7a9a" fill-opacity="0.51"/><circle cx="1364.7" cy="1144.6" r="0.5" fill="#8888a8" fill-opacity="0.40"/><circle cx="1307.2" cy="1059.5" r="0.9" fill="#8888a8" fill-opacity="0.74"/><circle cx="1304.2" cy="1060.1" r="0.6" fill="#6a6a90" fill-opacity="0.52"/><circle cx="1313.2" cy="1082.3" r="0.5" fill="#8888a8" fill-opacity="0.41"/><circle cx="1377.9" cy="1047.6" r="0.8" fill="#8888a8" fill-opacity="0.62"/><circle cx="1397.3" cy="1052.4" r="0.6" fill="#6a6a90" fill-opacity="0.67"/></g><circle cx="1492.2" cy="1084.2" r="71.9" fill="#e1e4eb" stroke="#c2c8d4" stroke-width="1.4"/><circle cx="1492.2" cy="1084.2" r="68.4" fill="none" stroke="#f5f6f9" stroke-width="3" stroke-opacity="0.6"/><circle cx="1489.2" cy="1087.2" r="62.2" fill="url(#wg12_1)" stroke="#c2c8d4" stroke-width="1.4"/><circle cx="1489.2" cy="1087.2" r="64.2" fill="none" stroke="#f7f8fa" stroke-width="1.8" stroke-opacity="0.6"/><g filter="url(#fz1)"><circle cx="1502.0" cy="1030.5" r="1.5" fill="#8d84de" fill-opacity="0.50"/><circle cx="1466.1" cy="1052.8" r="1.7" fill="#7e74d8" fill-opacity="0.56"/><circle cx="1530.6" cy="1101.9" r="3.2" fill="#9a92e4" fill-opacity="0.43"/><circle cx="1483.7" cy="1117.0" r="1.5" fill="#8d84de" fill-opacity="0.63"/><circle cx="1478.0" cy="1108.0" r="1.5" fill="#9a92e4" fill-opacity="0.52"/><circle cx="1528.3" cy="1137.8" r="2.9" fill="#8d84de" fill-opacity="0.57"/><circle cx="1486.2" cy="1134.9" r="3.0" fill="#9a92e4" fill-opacity="0.63"/><circle cx="1437.1" cy="1104.4" r="1.9" fill="#7e74d8" fill-opacity="0.61"/></g><g><circle cx="1477.4" cy="1085.8" r="1.7" fill="#5346cc" fill-opacity="0.88"/><circle cx="1489.8" cy="1138.3" r="1.7" fill="#2a1ca8" fill-opacity="0.97"/><circle cx="1543.4" cy="1057.1" r="2.6" fill="#3a2cc0" fill-opacity="0.92"/><circle cx="1497.4" cy="1110.3" r="1.5" fill="#2a1ca8" fill-opacity="0.97"/><circle cx="1524.9" cy="1037.1" r="2.6" fill="#3a2cc0" fill-opacity="0.90"/><circle cx="1499.6" cy="1130.9" r="3.5" fill="#5346cc" fill-opacity="0.87"/><circle cx="1526.9" cy="1130.7" r="1.6" fill="#3a2cc0" fill-opacity="0.99"/><circle cx="1538.6" cy="1072.8" r="2.6" fill="#2a1ca8" fill-opacity="0.98"/><circle cx="1464.0" cy="1139.3" r="2.3" fill="#5346cc" fill-opacity="0.88"/></g><g><circle cx="1465.5" cy="1029.4" r="0.9" fill="#6a6a90" fill-opacity="0.64"/><circle cx="1493.2" cy="1129.9" r="0.9" fill="#6a6a90" fill-opacity="0.63"/><circle cx="1493.1" cy="1057.5" r="0.9" fill="#8888a8" fill-opacity="0.41"/><circle cx="1511.1" cy="1059.6" r="0.5" fill="#8888a8" fill-opacity="0.59"/><circle cx="1443.4" cy="1070.3" r="0.8" fill="#6a6a90" fill-opacity="0.60"/><circle cx="1486.1" cy="1025.5" r="1.0" fill="#7a7a9a" fill-opacity="0.50"/><circle cx="1526.8" cy="1084.8" r="0.6" fill="#8888a8" fill-opacity="0.55"/><circle cx="1450.0" cy="1116.0" r="0.5" fill="#7a7a9a" fill-opacity="0.52"/><circle cx="1470.8" cy="1054.0" r="0.5" fill="#7a7a9a" fill-opacity="0.67"/><circle cx="1474.5" cy="1038.9" r="0.9" fill="#7a7a9a" fill-opacity="0.77"/><circle cx="1485.4" cy="1053.4" r="0.6" fill="#7a7a9a" fill-opacity="0.50"/><circle cx="1502.9" cy="1112.1" r="0.7" fill="#7a7a9a" fill-opacity="0.75"/><circle cx="1482.2" cy="1148.7" r="0.6" fill="#8888a8" fill-opacity="0.45"/><circle cx="1508.1" cy="1066.0" r="0.9" fill="#7a7a9a" fill-opacity="0.50"/><circle cx="1487.2" cy="1025.5" r="0.6" fill="#6a6a90" fill-opacity="0.40"/><circle cx="1477.3" cy="1122.1" r="0.7" fill="#7a7a9a" fill-opacity="0.43"/></g></g><rect x="1121.2" y="866.2" width="452.6" height="294.6" fill="none" stroke="#000" stroke-width="2.4"/>
<g filter="url(#fz0)"><circle cx="1456" cy="1103" r="8" fill="#3426b8"/><circle cx="1336" cy="1067" r="4.5" fill="#2e20b0"/><circle cx="1336" cy="1028" r="4" fill="#2e20b0"/><circle cx="1371" cy="1095" r="4.5" fill="#3426b8"/><circle cx="1363" cy="1094" r="3.8" fill="#5a4cd0"/><circle cx="1560" cy="1103" r="5" fill="#4030c0"/><circle cx="1500" cy="1057" r="4" fill="#2e20b0"/><circle cx="1223" cy="1097" r="3.5" fill="#3426b8"/><circle cx="1253" cy="1086" r="3" fill="#6a5ed6"/><circle cx="1509" cy="1087" r="3" fill="#8a80e0"/></g>
<clipPath id="clip13"><rect x="108" y="1280" width="456" height="293"/></clipPath><g clip-path="url(#clip13)"><rect x="108" y="1280" width="456" height="293" fill="url(#pb13)"/><circle cx="261.2" cy="1426.5" r="19" fill="none" stroke="#c2c8d4" stroke-width="1.5"/><circle cx="261.2" cy="1426.5" r="13" fill="none" stroke="#f3f4f7" stroke-width="2"/><circle cx="261.2" cy="1426.5" r="12" fill="none" stroke="#c2c8d4" stroke-width="1.2"/><circle cx="410.8" cy="1426.5" r="19" fill="none" stroke="#c2c8d4" stroke-width="1.5"/><circle cx="410.8" cy="1426.5" r="13" fill="none" stroke="#f3f4f7" stroke-width="2"/><circle cx="410.8" cy="1426.5" r="12" fill="none" stroke="#c2c8d4" stroke-width="1.2"/><circle cx="187.3" cy="1356.8" r="72.0" fill="#eaeaef" stroke="#c2c8d4" stroke-width="1.4"/><circle cx="187.3" cy="1356.8" r="68.5" fill="none" stroke="#f5f6f9" stroke-width="3" stroke-opacity="0.6"/><circle cx="191.3" cy="1359.8" r="62.3" fill="url(#wg13_0)" stroke="#c2c8d4" stroke-width="1.4"/><circle cx="191.3" cy="1359.8" r="64.3" fill="none" stroke="#f7f8fa" stroke-width="1.8" stroke-opacity="0.6"/><g filter="url(#fz0)"><circle cx="188.3" cy="1412.8" r="2.1" fill="#5a44d0" fill-opacity="0.84"/><circle cx="161.3" cy="1308.0" r="2.0" fill="#5a44d0" fill-opacity="0.61"/><circle cx="162.2" cy="1354.0" r="1.4" fill="#3a26b8" fill-opacity="0.61"/><circle cx="165.6" cy="1301.0" r="3.2" fill="#5a44d0" fill-opacity="0.59"/><circle cx="207.9" cy="1301.6" r="1.3" fill="#3a26b8" fill-opacity="0.89"/><circle cx="245.7" cy="1341.9" r="1.3" fill="#5a44d0" fill-opacity="0.77"/><circle cx="192.9" cy="1311.6" r="1.6" fill="#6c5cd8" fill-opacity="0.95"/><circle cx="157.9" cy="1320.0" r="1.4" fill="#6c5cd8" fill-opacity="0.86"/><circle cx="139.0" cy="1341.2" r="1.2" fill="#3a26b8" fill-opacity="0.79"/><circle cx="184.0" cy="1386.0" r="1.5" fill="#6c5cd8" fill-opacity="0.76"/><circle cx="159.5" cy="1334.9" r="1.2" fill="#3a26b8" fill-opacity="0.80"/><circle cx="135.9" cy="1335.6" r="2.2" fill="#5a44d0" fill-opacity="0.58"/><circle cx="154.9" cy="1308.8" r="1.5" fill="#3a26b8" fill-opacity="0.97"/><circle cx="214.6" cy="1366.2" r="2.5" fill="#3a26b8" fill-opacity="0.84"/><circle cx="213.5" cy="1394.6" r="2.7" fill="#6c5cd8" fill-opacity="0.64"/><circle cx="215.2" cy="1328.5" r="2.2" fill="#5a44d0" fill-opacity="0.96"/><circle cx="182.4" cy="1329.8" r="1.7" fill="#4a34c8" fill-opacity="0.81"/><circle cx="159.0" cy="1338.9" r="2.3" fill="#6c5cd8" fill-opacity="0.63"/><circle cx="211.4" cy="1413.1" r="1.8" fill="#5a44d0" fill-opacity="0.63"/><circle cx="146.7" cy="1381.1" r="2.5" fill="#4a34c8" fill-opacity="0.99"/><circle cx="214.9" cy="1313.9" r="1.8" fill="#5a44d0" fill-opacity="1.00"/><circle cx="216.8" cy="1384.1" r="1.3" fill="#4a34c8" fill-opacity="0.97"/><circle cx="132.7" cy="1351.6" r="1.2" fill="#6c5cd8" fill-opacity="0.70"/><circle cx="128.1" cy="1361.1" r="1.7" fill="#3a26b8" fill-opacity="0.65"/><circle cx="206.6" cy="1415.1" r="1.5" fill="#5a44d0" fill-opacity="0.88"/><circle cx="188.6" cy="1412.8" r="2.6" fill="#6c5cd8" fill-opacity="0.74"/><circle cx="196.4" cy="1416.0" r="1.9" fill="#3a26b8" fill-opacity="0.64"/><circle cx="183.9" cy="1369.9" r="1.5" fill="#4a34c8" fill-opacity="0.58"/><circle cx="250.4" cy="1377.2" r="2.1" fill="#6c5cd8" fill-opacity="0.64"/><circle cx="143.9" cy="1365.5" r="1.4" fill="#6c5cd8" fill-opacity="0.79"/><circle cx="214.9" cy="1352.4" r="1.2" fill="#6c5cd8" fill-opacity="0.92"/><circle cx="198.3" cy="1394.4" r="1.5" fill="#4a34c8" fill-opacity="0.71"/><circle cx="227.8" cy="1386.1" r="1.9" fill="#3a26b8" fill-opacity="0.57"/><circle cx="168.8" cy="1354.7" r="2.5" fill="#6c5cd8" fill-opacity="0.62"/><circle cx="233.3" cy="1323.8" r="2.8" fill="#5a44d0" fill-opacity="0.96"/><circle cx="183.3" cy="1342.3" r="2.9" fill="#4a34c8" fill-opacity="0.71"/><circle cx="200.8" cy="1331.6" r="2.2" fill="#5a44d0" fill-opacity="0.78"/><circle cx="228.7" cy="1339.3" r="1.9" fill="#4a34c8" fill-opacity="0.93"/><circle cx="208.8" cy="1346.7" r="1.2" fill="#6c5cd8" fill-opacity="0.79"/><circle cx="172.1" cy="1419.7" r="1.4" fill="#4a34c8" fill-opacity="0.72"/><circle cx="215.2" cy="1348.9" r="1.2" fill="#6c5cd8" fill-opacity="0.94"/><circle cx="249.1" cy="1359.6" r="1.6" fill="#6c5cd8" fill-opacity="0.96"/><circle cx="210.4" cy="1364.8" r="1.5" fill="#3a26b8" fill-opacity="0.76"/><circle cx="185.0" cy="1416.3" r="1.6" fill="#4a34c8" fill-opacity="0.79"/><circle cx="158.3" cy="1353.0" r="1.3" fill="#5a44d0" fill-opacity="0.98"/><circle cx="228.9" cy="1348.2" r="1.2" fill="#3a26b8" fill-opacity="0.73"/><circle cx="218.8" cy="1400.1" r="3.0" fill="#3a26b8" fill-opacity="0.64"/><circle cx="159.9" cy="1391.0" r="1.3" fill="#4a34c8" fill-opacity="0.77"/><circle cx="168.6" cy="1359.7" r="1.2" fill="#5a44d0" fill-opacity="0.69"/><circle cx="225.3" cy="1329.9" r="1.7" fill="#4a34c8" fill-opacity="0.65"/><circle cx="189.8" cy="1308.1" r="1.6" fill="#4a34c8" fill-opacity="0.90"/><circle cx="176.6" cy="1327.9" r="2.0" fill="#4a34c8" fill-opacity="0.88"/><circle cx="141.3" cy="1384.1" r="1.3" fill="#4a34c8" fill-opacity="0.82"/><circle cx="193.2" cy="1406.5" r="1.2" fill="#3a26b8" fill-opacity="0.95"/><circle cx="234.6" cy="1331.2" r="1.9" fill="#3a26b8" fill-opacity="0.66"/><circle cx="184.1" cy="1359.3" r="1.5" fill="#5a44d0" fill-opacity="0.97"/><circle cx="215.3" cy="1306.3" r="2.1" fill="#5a44d0" fill-opacity="0.85"/><circle cx="163.9" cy="1342.2" r="1.2" fill="#5a44d0" fill-opacity="0.82"/><circle cx="239.6" cy="1377.6" r="1.9" fill="#4a34c8" fill-opacity="0.90"/><circle cx="219.6" cy="1332.0" r="2.5" fill="#3a26b8" fill-opacity="0.91"/><circle cx="174.7" cy="1358.4" r="2.7" fill="#6c5cd8" fill-opacity="0.70"/><circle cx="162.6" cy="1305.6" r="2.1" fill="#3a26b8" fill-opacity="0.81"/><circle cx="197.5" cy="1298.1" r="1.4" fill="#4a34c8" fill-opacity="0.99"/><circle cx="152.4" cy="1373.0" r="1.8" fill="#4a34c8" fill-opacity="0.59"/><circle cx="196.6" cy="1383.7" r="1.4" fill="#6c5cd8" fill-opacity="0.93"/><circle cx="150.0" cy="1351.6" r="1.8" fill="#4a34c8" fill-opacity="0.64"/><circle cx="210.3" cy="1356.7" r="1.2" fill="#5a44d0" fill-opacity="0.98"/><circle cx="143.4" cy="1342.7" r="1.4" fill="#4a34c8" fill-opacity="0.62"/><circle cx="197.3" cy="1373.7" r="1.6" fill="#5a44d0" fill-opacity="0.85"/><circle cx="177.6" cy="1307.8" r="2.5" fill="#5a44d0" fill-opacity="0.60"/><circle cx="182.9" cy="1371.7" r="2.5" fill="#5a44d0" fill-opacity="0.59"/><circle cx="197.0" cy="1324.8" r="1.4" fill="#6c5cd8" fill-opacity="0.68"/><circle cx="149.3" cy="1337.0" r="2.8" fill="#6c5cd8" fill-opacity="0.88"/><circle cx="205.3" cy="1416.9" r="1.2" fill="#4a34c8" fill-opacity="0.94"/><circle cx="223.0" cy="1352.7" r="2.5" fill="#5a44d0" fill-opacity="0.83"/><circle cx="227.8" cy="1386.3" r="1.9" fill="#4a34c8" fill-opacity="0.87"/><circle cx="154.3" cy="1340.8" r="2.2" fill="#5a44d0" fill-opacity="0.77"/><circle cx="203.6" cy="1340.7" r="2.2" fill="#3a26b8" fill-opacity="0.59"/><circle cx="237.5" cy="1393.8" r="2.5" fill="#3a26b8" fill-opacity="0.56"/><circle cx="238.7" cy="1333.9" r="2.0" fill="#5a44d0" fill-opacity="0.66"/><circle cx="226.9" cy="1409.4" r="1.2" fill="#6c5cd8" fill-opacity="0.70"/><circle cx="174.9" cy="1382.7" r="1.2" fill="#5a44d0" fill-opacity="0.80"/><circle cx="148.7" cy="1314.3" r="2.5" fill="#3a26b8" fill-opacity="0.90"/><circle cx="143.7" cy="1362.2" r="2.5" fill="#3a26b8" fill-opacity="0.91"/><circle cx="159.0" cy="1383.8" r="2.9" fill="#3a26b8" fill-opacity="0.68"/><circle cx="153.1" cy="1345.9" r="2.6" fill="#4a34c8" fill-opacity="0.90"/><circle cx="147.6" cy="1376.9" r="2.3" fill="#3a26b8" fill-opacity="0.88"/><circle cx="228.5" cy="1329.4" r="1.8" fill="#5a44d0" fill-opacity="0.56"/><circle cx="204.7" cy="1357.4" r="1.3" fill="#3a26b8" fill-opacity="0.57"/><circle cx="159.0" cy="1404.5" r="1.6" fill="#5a44d0" fill-opacity="0.75"/><circle cx="206.5" cy="1413.4" r="1.5" fill="#3a26b8" fill-opacity="0.73"/><circle cx="209.3" cy="1307.7" r="1.8" fill="#3a26b8" fill-opacity="0.64"/><circle cx="199.4" cy="1361.7" r="1.8" fill="#3a26b8" fill-opacity="0.73"/><circle cx="207.8" cy="1343.2" r="3.0" fill="#4a34c8" fill-opacity="0.77"/><circle cx="140.5" cy="1363.1" r="1.2" fill="#4a34c8" fill-opacity="0.58"/><circle cx="206.5" cy="1310.7" r="1.3" fill="#4a34c8" fill-opacity="0.56"/><circle cx="177.0" cy="1313.9" r="1.3" fill="#3a26b8" fill-opacity="0.57"/><circle cx="205.1" cy="1334.4" r="2.3" fill="#3a26b8" fill-opacity="0.79"/><circle cx="206.4" cy="1380.1" r="2.6" fill="#4a34c8" fill-opacity="0.63"/><circle cx="215.4" cy="1370.5" r="1.7" fill="#5a44d0" fill-opacity="0.85"/><circle cx="141.5" cy="1361.6" r="1.3" fill="#3a26b8" fill-opacity="0.90"/><circle cx="236.8" cy="1379.3" r="1.5" fill="#5a44d0" fill-opacity="0.64"/><circle cx="238.6" cy="1331.7" r="1.5" fill="#5a44d0" fill-opacity="0.87"/><circle cx="231.7" cy="1325.7" r="3.2" fill="#5a44d0" fill-opacity="0.75"/><circle cx="145.9" cy="1326.7" r="2.8" fill="#5a44d0" fill-opacity="0.81"/><circle cx="241.1" cy="1339.3" r="2.5" fill="#4a34c8" fill-opacity="0.78"/><circle cx="139.0" cy="1384.5" r="1.5" fill="#3a26b8" fill-opacity="0.66"/><circle cx="175.8" cy="1400.0" r="2.3" fill="#4a34c8" fill-opacity="0.89"/><circle cx="139.1" cy="1374.1" r="2.5" fill="#5a44d0" fill-opacity="0.67"/><circle cx="183.1" cy="1316.8" r="1.3" fill="#6c5cd8" fill-opacity="0.82"/></g><circle cx="335.5" cy="1356.8" r="72.0" fill="#eaeaef" stroke="#c2c8d4" stroke-width="1.4"/><circle cx="335.5" cy="1356.8" r="68.5" fill="none" stroke="#f5f6f9" stroke-width="3" stroke-opacity="0.6"/><circle cx="335.5" cy="1359.8" r="62.3" fill="url(#wg13_0)" stroke="#c2c8d4" stroke-width="1.4"/><circle cx="335.5" cy="1359.8" r="64.3" fill="none" stroke="#f7f8fa" stroke-width="1.8" stroke-opacity="0.6"/><g filter="url(#fz0)"><circle cx="381.3" cy="1331.3" r="2.8" fill="#5a44d0" fill-opacity="0.74"/><circle cx="337.9" cy="1402.3" r="2.2" fill="#6c5cd8" fill-opacity="0.60"/><circle cx="371.4" cy="1367.9" r="1.2" fill="#4a34c8" fill-opacity="0.60"/><circle cx="302.2" cy="1397.7" r="2.1" fill="#5a44d0" fill-opacity="0.89"/><circle cx="287.2" cy="1364.0" r="1.9" fill="#4a34c8" fill-opacity="0.76"/><circle cx="322.4" cy="1298.3" r="1.4" fill="#6c5cd8" fill-opacity="0.59"/><circle cx="301.4" cy="1382.5" r="2.8" fill="#4a34c8" fill-opacity="0.82"/><circle cx="359.6" cy="1352.0" r="1.9" fill="#4a34c8" fill-opacity="0.72"/><circle cx="323.7" cy="1403.4" r="2.3" fill="#3a26b8" fill-opacity="0.92"/><circle cx="314.9" cy="1360.2" r="1.8" fill="#6c5cd8" fill-opacity="0.57"/><circle cx="313.8" cy="1419.3" r="1.6" fill="#4a34c8" fill-opacity="0.74"/><circle cx="380.8" cy="1381.5" r="1.3" fill="#4a34c8" fill-opacity="0.82"/><circle cx="322.0" cy="1325.9" r="1.4" fill="#3a26b8" fill-opacity="0.56"/><circle cx="354.1" cy="1391.6" r="2.5" fill="#3a26b8" fill-opacity="0.55"/><circle cx="288.5" cy="1384.4" r="1.6" fill="#6c5cd8" fill-opacity="0.62"/><circle cx="335.9" cy="1303.4" r="2.1" fill="#5a44d0" fill-opacity="0.68"/><circle cx="328.1" cy="1315.9" r="1.2" fill="#6c5cd8" fill-opacity="1.00"/><circle cx="363.8" cy="1370.1" r="1.5" fill="#3a26b8" fill-opacity="0.93"/><circle cx="330.8" cy="1354.7" r="2.3" fill="#5a44d0" fill-opacity="0.89"/><circle cx="332.3" cy="1421.3" r="1.8" fill="#5a44d0" fill-opacity="0.61"/><circle cx="300.7" cy="1379.9" r="2.5" fill="#6c5cd8" fill-opacity="0.80"/><circle cx="373.9" cy="1376.2" r="2.0" fill="#3a26b8" fill-opacity="0.61"/><circle cx="351.9" cy="1346.9" r="1.3" fill="#6c5cd8" fill-opacity="0.65"/><circle cx="307.8" cy="1303.0" r="1.4" fill="#5a44d0" fill-opacity="0.64"/><circle cx="313.0" cy="1357.7" r="2.1" fill="#3a26b8" fill-opacity="0.76"/><circle cx="299.8" cy="1378.9" r="1.5" fill="#3a26b8" fill-opacity="0.78"/><circle cx="331.4" cy="1416.4" r="1.5" fill="#4a34c8" fill-opacity="0.79"/><circle cx="349.4" cy="1350.9" r="2.1" fill="#4a34c8" fill-opacity="0.83"/><circle cx="305.4" cy="1398.3" r="1.5" fill="#3a26b8" fill-opacity="0.98"/><circle cx="358.7" cy="1378.3" r="2.8" fill="#3a26b8" fill-opacity="0.92"/><circle cx="348.8" cy="1343.9" r="2.2" fill="#4a34c8" fill-opacity="0.85"/><circle cx="307.9" cy="1329.4" r="2.1" fill="#5a44d0" fill-opacity="0.73"/><circle cx="365.5" cy="1374.4" r="2.2" fill="#4a34c8" fill-opacity="0.71"/><circle cx="348.0" cy="1391.6" r="2.6" fill="#5a44d0" fill-opacity="0.72"/><circle cx="326.9" cy="1396.0" r="2.7" fill="#6c5cd8" fill-opacity="0.92"/><circle cx="395.3" cy="1376.7" r="2.4" fill="#5a44d0" fill-opacity="0.89"/><circle cx="375.9" cy="1314.3" r="2.8" fill="#6c5cd8" fill-opacity="0.56"/><circle cx="376.7" cy="1385.6" r="1.6" fill="#6c5cd8" fill-opacity="0.99"/><circle cx="386.5" cy="1396.0" r="3.1" fill="#5a44d0" fill-opacity="0.91"/><circle cx="339.0" cy="1354.8" r="1.2" fill="#5a44d0" fill-opacity="0.63"/><circle cx="351.7" cy="1413.3" r="3.0" fill="#6c5cd8" fill-opacity="0.60"/><circle cx="347.5" cy="1314.8" r="1.2" fill="#3a26b8" fill-opacity="0.92"/><circle cx="394.0" cy="1380.5" r="1.2" fill="#6c5cd8" fill-opacity="0.66"/><circle cx="372.2" cy="1334.6" r="1.9" fill="#3a26b8" fill-opacity="0.57"/><circle cx="321.3" cy="1409.1" r="1.3" fill="#3a26b8" fill-opacity="0.90"/><circle cx="361.5" cy="1317.3" r="2.7" fill="#3a26b8" fill-opacity="0.88"/><circle cx="359.9" cy="1328.9" r="1.4" fill="#4a34c8" fill-opacity="0.59"/><circle cx="346.3" cy="1400.2" r="2.5" fill="#6c5cd8" fill-opacity="0.71"/><circle cx="313.8" cy="1340.7" r="1.8" fill="#4a34c8" fill-opacity="0.89"/><circle cx="285.1" cy="1393.2" r="1.8" fill="#4a34c8" fill-opacity="0.89"/><circle cx="306.0" cy="1411.9" r="2.9" fill="#4a34c8" fill-opacity="0.83"/><circle cx="348.5" cy="1366.9" r="2.3" fill="#5a44d0" fill-opacity="0.58"/><circle cx="314.2" cy="1368.3" r="1.7" fill="#5a44d0" fill-opacity="0.55"/><circle cx="383.1" cy="1397.9" r="2.9" fill="#5a44d0" fill-opacity="0.68"/><circle cx="319.2" cy="1412.3" r="1.9" fill="#3a26b8" fill-opacity="0.98"/><circle cx="302.7" cy="1371.7" r="1.3" fill="#4a34c8" fill-opacity="0.96"/><circle cx="279.0" cy="1364.8" r="2.8" fill="#5a44d0" fill-opacity="0.61"/><circle cx="377.3" cy="1391.8" r="1.4" fill="#4a34c8" fill-opacity="0.57"/><circle cx="367.6" cy="1348.8" r="2.0" fill="#3a26b8" fill-opacity="0.71"/><circle cx="347.7" cy="1406.3" r="1.4" fill="#4a34c8" fill-opacity="0.72"/><circle cx="351.4" cy="1342.5" r="1.8" fill="#3a26b8" fill-opacity="0.98"/><circle cx="303.7" cy="1365.9" r="1.2" fill="#4a34c8" fill-opacity="0.86"/><circle cx="352.5" cy="1349.0" r="2.0" fill="#6c5cd8" fill-opacity="0.66"/><circle cx="344.9" cy="1355.5" r="1.9" fill="#6c5cd8" fill-opacity="0.95"/><circle cx="326.9" cy="1393.2" r="1.3" fill="#3a26b8" fill-opacity="0.76"/><circle cx="310.7" cy="1376.5" r="1.3" fill="#3a26b8" fill-opacity="0.66"/><circle cx="293.9" cy="1355.2" r="2.6" fill="#5a44d0" fill-opacity="0.57"/><circle cx="368.0" cy="1399.8" r="2.5" fill="#3a26b8" fill-opacity="0.98"/><circle cx="296.9" cy="1356.7" r="1.3" fill="#3a26b8" fill-opacity="0.78"/><circle cx="310.7" cy="1380.2" r="2.6" fill="#4a34c8" fill-opacity="0.81"/><circle cx="326.6" cy="1324.3" r="1.2" fill="#4a34c8" fill-opacity="0.60"/><circle cx="328.4" cy="1316.0" r="1.3" fill="#5a44d0" fill-opacity="0.94"/><circle cx="299.8" cy="1381.8" r="1.3" fill="#5a44d0" fill-opacity="0.86"/><circle cx="279.5" cy="1351.3" r="2.9" fill="#4a34c8" fill-opacity="0.73"/><circle cx="310.6" cy="1300.6" r="2.3" fill="#3a26b8" fill-opacity="0.68"/><circle cx="307.0" cy="1354.8" r="1.7" fill="#3a26b8" fill-opacity="0.99"/><circle cx="328.4" cy="1327.0" r="1.2" fill="#6c5cd8" fill-opacity="0.85"/><circle cx="309.7" cy="1325.2" r="1.4" fill="#5a44d0" fill-opacity="0.70"/><circle cx="325.3" cy="1330.9" r="1.3" fill="#5a44d0" fill-opacity="0.69"/><circle cx="356.4" cy="1401.7" r="1.6" fill="#4a34c8" fill-opacity="0.94"/><circle cx="304.9" cy="1384.3" r="2.2" fill="#3a26b8" fill-opacity="0.80"/><circle cx="285.2" cy="1326.0" r="2.9" fill="#4a34c8" fill-opacity="0.60"/><circle cx="381.9" cy="1356.4" r="2.2" fill="#4a34c8" fill-opacity="0.66"/><circle cx="396.0" cy="1377.0" r="1.6" fill="#3a26b8" fill-opacity="1.00"/><circle cx="314.0" cy="1353.9" r="2.7" fill="#5a44d0" fill-opacity="0.70"/><circle cx="326.5" cy="1350.5" r="1.8" fill="#6c5cd8" fill-opacity="0.98"/><circle cx="347.9" cy="1328.7" r="1.9" fill="#3a26b8" fill-opacity="0.65"/><circle cx="357.2" cy="1403.5" r="2.2" fill="#5a44d0" fill-opacity="0.66"/><circle cx="295.6" cy="1336.7" r="1.3" fill="#6c5cd8" fill-opacity="0.75"/><circle cx="351.0" cy="1372.6" r="1.2" fill="#6c5cd8" fill-opacity="0.66"/><circle cx="325.6" cy="1340.4" r="2.8" fill="#4a34c8" fill-opacity="0.79"/><circle cx="360.9" cy="1314.7" r="2.8" fill="#4a34c8" fill-opacity="0.68"/><circle cx="355.4" cy="1377.7" r="2.5" fill="#3a26b8" fill-opacity="0.61"/><circle cx="307.6" cy="1304.0" r="2.2" fill="#3a26b8" fill-opacity="0.70"/><circle cx="282.8" cy="1333.1" r="1.4" fill="#5a44d0" fill-opacity="0.80"/><circle cx="316.9" cy="1419.8" r="3.2" fill="#5a44d0" fill-opacity="0.77"/><circle cx="395.1" cy="1340.8" r="1.2" fill="#3a26b8" fill-opacity="0.60"/><circle cx="362.4" cy="1377.6" r="1.5" fill="#3a26b8" fill-opacity="0.76"/><circle cx="323.5" cy="1395.2" r="2.7" fill="#5a44d0" fill-opacity="0.89"/><circle cx="309.2" cy="1315.7" r="1.8" fill="#4a34c8" fill-opacity="0.75"/><circle cx="306.9" cy="1304.9" r="2.0" fill="#6c5cd8" fill-opacity="0.79"/><circle cx="389.2" cy="1326.8" r="1.7" fill="#4a34c8" fill-opacity="0.66"/><circle cx="387.5" cy="1377.1" r="1.6" fill="#6c5cd8" fill-opacity="0.65"/><circle cx="325.0" cy="1413.7" r="1.4" fill="#5a44d0" fill-opacity="0.69"/><circle cx="370.0" cy="1305.8" r="2.9" fill="#5a44d0" fill-opacity="0.99"/><circle cx="351.8" cy="1298.6" r="2.5" fill="#6c5cd8" fill-opacity="0.78"/><circle cx="352.5" cy="1409.8" r="2.2" fill="#4a34c8" fill-opacity="0.61"/><circle cx="297.8" cy="1331.1" r="1.3" fill="#4a34c8" fill-opacity="0.79"/><circle cx="362.9" cy="1318.7" r="1.4" fill="#3a26b8" fill-opacity="0.72"/><circle cx="327.5" cy="1325.4" r="2.6" fill="#4a34c8" fill-opacity="0.70"/></g><circle cx="481.0" cy="1356.8" r="72.0" fill="#eaeaef" stroke="#c2c8d4" stroke-width="1.4"/><circle cx="481.0" cy="1356.8" r="68.5" fill="none" stroke="#f5f6f9" stroke-width="3" stroke-opacity="0.6"/><circle cx="478.0" cy="1359.8" r="62.3" fill="url(#wg13_0)" stroke="#c2c8d4" stroke-width="1.4"/><circle cx="478.0" cy="1359.8" r="64.3" fill="none" stroke="#f7f8fa" stroke-width="1.8" stroke-opacity="0.6"/><g filter="url(#fz0)"><circle cx="476.2" cy="1385.2" r="3.2" fill="#4a34c8" fill-opacity="0.76"/><circle cx="499.4" cy="1339.0" r="1.2" fill="#5a44d0" fill-opacity="0.87"/><circle cx="507.9" cy="1415.4" r="1.7" fill="#3a26b8" fill-opacity="1.00"/><circle cx="511.1" cy="1353.2" r="1.8" fill="#4a34c8" fill-opacity="0.67"/><circle cx="483.2" cy="1347.2" r="1.3" fill="#3a26b8" fill-opacity="0.80"/><circle cx="456.8" cy="1399.0" r="3.0" fill="#5a44d0" fill-opacity="0.75"/><circle cx="418.6" cy="1338.2" r="1.2" fill="#6c5cd8" fill-opacity="0.68"/><circle cx="460.5" cy="1355.8" r="1.2" fill="#5a44d0" fill-opacity="0.83"/><circle cx="468.9" cy="1391.5" r="2.9" fill="#6c5cd8" fill-opacity="0.89"/><circle cx="497.4" cy="1320.0" r="1.5" fill="#4a34c8" fill-opacity="0.83"/><circle cx="525.8" cy="1317.1" r="1.6" fill="#6c5cd8" fill-opacity="0.74"/><circle cx="464.8" cy="1413.9" r="1.5" fill="#3a26b8" fill-opacity="0.88"/><circle cx="459.7" cy="1320.2" r="2.0" fill="#3a26b8" fill-opacity="0.86"/><circle cx="496.3" cy="1334.1" r="2.6" fill="#4a34c8" fill-opacity="0.82"/><circle cx="458.7" cy="1340.9" r="1.2" fill="#5a44d0" fill-opacity="0.99"/><circle cx="493.2" cy="1381.4" r="2.4" fill="#4a34c8" fill-opacity="0.64"/><circle cx="439.5" cy="1389.3" r="2.1" fill="#6c5cd8" fill-opacity="0.72"/><circle cx="523.9" cy="1316.9" r="1.5" fill="#5a44d0" fill-opacity="0.84"/><circle cx="506.8" cy="1335.0" r="2.0" fill="#5a44d0" fill-opacity="0.59"/><circle cx="460.6" cy="1321.5" r="1.5" fill="#5a44d0" fill-opacity="0.65"/><circle cx="423.9" cy="1385.2" r="1.2" fill="#6c5cd8" fill-opacity="0.88"/><circle cx="487.3" cy="1408.1" r="1.2" fill="#5a44d0" fill-opacity="0.83"/><circle cx="505.2" cy="1363.8" r="1.5" fill="#5a44d0" fill-opacity="0.96"/><circle cx="500.9" cy="1327.2" r="1.7" fill="#6c5cd8" fill-opacity="0.75"/><circle cx="487.4" cy="1349.9" r="1.9" fill="#4a34c8" fill-opacity="0.91"/><circle cx="458.6" cy="1348.4" r="2.1" fill="#6c5cd8" fill-opacity="0.99"/><circle cx="478.5" cy="1302.7" r="2.7" fill="#4a34c8" fill-opacity="0.88"/><circle cx="456.7" cy="1395.9" r="2.5" fill="#6c5cd8" fill-opacity="0.76"/><circle cx="432.8" cy="1355.5" r="1.5" fill="#6c5cd8" fill-opacity="0.79"/><circle cx="483.1" cy="1328.7" r="2.5" fill="#6c5cd8" fill-opacity="0.99"/><circle cx="501.1" cy="1312.1" r="1.3" fill="#3a26b8" fill-opacity="0.94"/><circle cx="435.3" cy="1333.8" r="1.3" fill="#5a44d0" fill-opacity="1.00"/><circle cx="434.6" cy="1365.9" r="1.3" fill="#6c5cd8" fill-opacity="0.73"/><circle cx="419.9" cy="1357.9" r="2.2" fill="#5a44d0" fill-opacity="0.67"/><circle cx="529.1" cy="1394.2" r="1.6" fill="#4a34c8" fill-opacity="0.98"/><circle cx="459.7" cy="1375.1" r="1.9" fill="#3a26b8" fill-opacity="0.97"/><circle cx="473.4" cy="1315.7" r="2.6" fill="#4a34c8" fill-opacity="0.68"/><circle cx="531.8" cy="1385.6" r="2.4" fill="#5a44d0" fill-opacity="0.85"/><circle cx="439.1" cy="1355.3" r="2.3" fill="#4a34c8" fill-opacity="0.64"/><circle cx="439.5" cy="1339.6" r="2.5" fill="#5a44d0" fill-opacity="0.99"/><circle cx="482.1" cy="1314.0" r="2.1" fill="#6c5cd8" fill-opacity="0.84"/><circle cx="497.7" cy="1307.0" r="1.4" fill="#3a26b8" fill-opacity="0.73"/><circle cx="489.2" cy="1404.1" r="1.3" fill="#5a44d0" fill-opacity="0.98"/><circle cx="523.1" cy="1384.8" r="2.3" fill="#5a44d0" fill-opacity="0.67"/><circle cx="438.8" cy="1406.1" r="1.6" fill="#5a44d0" fill-opacity="0.98"/><circle cx="420.4" cy="1365.5" r="1.9" fill="#5a44d0" fill-opacity="0.83"/><circle cx="498.3" cy="1382.6" r="1.4" fill="#5a44d0" fill-opacity="0.56"/><circle cx="442.8" cy="1407.5" r="1.4" fill="#3a26b8" fill-opacity="0.77"/><circle cx="491.5" cy="1410.3" r="1.2" fill="#5a44d0" fill-opacity="0.62"/><circle cx="454.5" cy="1323.4" r="1.5" fill="#5a44d0" fill-opacity="0.88"/><circle cx="480.0" cy="1396.4" r="1.4" fill="#5a44d0" fill-opacity="0.84"/><circle cx="525.3" cy="1359.9" r="2.3" fill="#6c5cd8" fill-opacity="0.58"/><circle cx="517.0" cy="1335.6" r="1.8" fill="#4a34c8" fill-opacity="0.69"/><circle cx="497.5" cy="1374.7" r="1.2" fill="#5a44d0" fill-opacity="0.80"/><circle cx="489.0" cy="1320.6" r="2.1" fill="#4a34c8" fill-opacity="0.96"/><circle cx="488.0" cy="1354.9" r="2.0" fill="#3a26b8" fill-opacity="0.85"/><circle cx="527.9" cy="1323.0" r="2.5" fill="#6c5cd8" fill-opacity="0.98"/><circle cx="469.7" cy="1363.7" r="2.5" fill="#6c5cd8" fill-opacity="0.75"/><circle cx="464.3" cy="1391.6" r="2.1" fill="#3a26b8" fill-opacity="0.96"/><circle cx="492.6" cy="1360.0" r="2.2" fill="#5a44d0" fill-opacity="0.60"/><circle cx="458.4" cy="1390.1" r="1.4" fill="#3a26b8" fill-opacity="0.83"/><circle cx="476.1" cy="1307.0" r="1.3" fill="#4a34c8" fill-opacity="0.57"/><circle cx="464.6" cy="1365.1" r="2.4" fill="#3a26b8" fill-opacity="0.96"/><circle cx="515.2" cy="1386.2" r="2.4" fill="#5a44d0" fill-opacity="0.86"/><circle cx="528.8" cy="1384.1" r="1.4" fill="#6c5cd8" fill-opacity="0.70"/><circle cx="445.5" cy="1385.0" r="1.2" fill="#6c5cd8" fill-opacity="0.88"/><circle cx="519.4" cy="1349.0" r="1.8" fill="#4a34c8" fill-opacity="0.89"/><circle cx="445.7" cy="1305.9" r="2.6" fill="#3a26b8" fill-opacity="0.92"/><circle cx="445.9" cy="1413.9" r="2.1" fill="#4a34c8" fill-opacity="0.71"/><circle cx="532.9" cy="1335.2" r="2.5" fill="#6c5cd8" fill-opacity="0.60"/><circle cx="529.8" cy="1328.2" r="1.8" fill="#5a44d0" fill-opacity="0.64"/><circle cx="523.3" cy="1342.2" r="1.6" fill="#6c5cd8" fill-opacity="0.81"/><circle cx="517.6" cy="1355.4" r="1.2" fill="#6c5cd8" fill-opacity="0.98"/><circle cx="487.4" cy="1340.5" r="1.9" fill="#3a26b8" fill-opacity="0.84"/><circle cx="502.9" cy="1372.9" r="2.5" fill="#3a26b8" fill-opacity="0.85"/><circle cx="520.8" cy="1392.2" r="2.0" fill="#6c5cd8" fill-opacity="0.89"/><circle cx="438.3" cy="1364.2" r="3.1" fill="#6c5cd8" fill-opacity="0.99"/><circle cx="487.1" cy="1302.0" r="1.3" fill="#6c5cd8" fill-opacity="0.59"/><circle cx="483.9" cy="1306.8" r="1.5" fill="#6c5cd8" fill-opacity="0.62"/><circle cx="432.5" cy="1315.8" r="1.2" fill="#6c5cd8" fill-opacity="0.96"/><circle cx="487.9" cy="1348.7" r="1.6" fill="#6c5cd8" fill-opacity="0.60"/><circle cx="503.8" cy="1305.5" r="2.4" fill="#5a44d0" fill-opacity="0.64"/><circle cx="483.5" cy="1357.3" r="2.3" fill="#5a44d0" fill-opacity="0.58"/><circle cx="511.8" cy="1310.1" r="1.2" fill="#5a44d0" fill-opacity="0.66"/><circle cx="503.0" cy="1357.1" r="3.0" fill="#6c5cd8" fill-opacity="0.95"/><circle cx="432.6" cy="1374.5" r="3.0" fill="#5a44d0" fill-opacity="0.57"/><circle cx="449.3" cy="1369.0" r="3.2" fill="#3a26b8" fill-opacity="0.62"/><circle cx="436.8" cy="1347.9" r="1.2" fill="#4a34c8" fill-opacity="0.63"/><circle cx="444.3" cy="1397.2" r="2.3" fill="#4a34c8" fill-opacity="0.58"/><circle cx="451.7" cy="1392.5" r="2.4" fill="#4a34c8" fill-opacity="0.95"/><circle cx="478.1" cy="1376.2" r="1.3" fill="#5a44d0" fill-opacity="0.77"/><circle cx="489.4" cy="1371.9" r="1.2" fill="#4a34c8" fill-opacity="0.64"/><circle cx="453.8" cy="1393.2" r="1.2" fill="#3a26b8" fill-opacity="0.75"/><circle cx="476.6" cy="1392.5" r="1.3" fill="#3a26b8" fill-opacity="0.74"/><circle cx="444.7" cy="1401.4" r="2.4" fill="#5a44d0" fill-opacity="1.00"/><circle cx="480.4" cy="1297.7" r="1.6" fill="#3a26b8" fill-opacity="0.70"/><circle cx="476.8" cy="1321.1" r="2.6" fill="#5a44d0" fill-opacity="0.85"/><circle cx="496.3" cy="1412.4" r="2.5" fill="#3a26b8" fill-opacity="0.82"/><circle cx="542.2" cy="1361.4" r="1.6" fill="#5a44d0" fill-opacity="0.86"/><circle cx="419.3" cy="1342.7" r="1.4" fill="#6c5cd8" fill-opacity="0.89"/><circle cx="518.1" cy="1406.3" r="2.2" fill="#5a44d0" fill-opacity="0.79"/><circle cx="512.2" cy="1327.6" r="2.8" fill="#5a44d0" fill-opacity="0.83"/><circle cx="431.5" cy="1401.9" r="1.2" fill="#3a26b8" fill-opacity="0.63"/><circle cx="441.8" cy="1318.5" r="1.2" fill="#4a34c8" fill-opacity="0.62"/><circle cx="506.6" cy="1404.8" r="1.5" fill="#3a26b8" fill-opacity="0.96"/><circle cx="505.7" cy="1377.1" r="2.6" fill="#5a44d0" fill-opacity="0.91"/><circle cx="502.3" cy="1394.1" r="2.7" fill="#6c5cd8" fill-opacity="0.87"/><circle cx="514.9" cy="1352.5" r="2.1" fill="#5a44d0" fill-opacity="0.73"/><circle cx="426.5" cy="1324.1" r="1.2" fill="#5a44d0" fill-opacity="0.75"/><circle cx="511.3" cy="1391.4" r="1.9" fill="#6c5cd8" fill-opacity="0.65"/></g><circle cx="187.3" cy="1497.4" r="72.0" fill="#e5e5eb" stroke="#c2c8d4" stroke-width="1.4"/><circle cx="187.3" cy="1497.4" r="68.5" fill="none" stroke="#f5f6f9" stroke-width="3" stroke-opacity="0.6"/><circle cx="191.3" cy="1500.4" r="62.3" fill="url(#wg13_1)" stroke="#c2c8d4" stroke-width="1.4"/><circle cx="191.3" cy="1500.4" r="64.3" fill="none" stroke="#f7f8fa" stroke-width="1.8" stroke-opacity="0.6"/><g filter="url(#fz0)"><circle cx="177.0" cy="1562.4" r="1.5" fill="#6c5cd8" fill-opacity="0.46"/><circle cx="232.2" cy="1470.2" r="1.2" fill="#5a44d0" fill-opacity="0.67"/><circle cx="180.2" cy="1472.1" r="1.4" fill="#4a34c8" fill-opacity="0.86"/><circle cx="151.1" cy="1481.8" r="1.7" fill="#4a34c8" fill-opacity="0.74"/><circle cx="188.2" cy="1447.9" r="1.3" fill="#5a44d0" fill-opacity="0.70"/><circle cx="155.5" cy="1479.2" r="2.5" fill="#3a26b8" fill-opacity="0.65"/><circle cx="175.2" cy="1548.8" r="2.9" fill="#3a26b8" fill-opacity="0.69"/><circle cx="169.9" cy="1446.5" r="1.0" fill="#3a26b8" fill-opacity="0.70"/><circle cx="135.1" cy="1514.7" r="1.7" fill="#3a26b8" fill-opacity="0.70"/><circle cx="219.7" cy="1555.7" r="1.1" fill="#4a34c8" fill-opacity="0.55"/><circle cx="232.2" cy="1519.6" r="1.3" fill="#4a34c8" fill-opacity="0.86"/><circle cx="225.9" cy="1537.0" r="1.6" fill="#3a26b8" fill-opacity="0.61"/><circle cx="188.3" cy="1450.3" r="1.3" fill="#6c5cd8" fill-opacity="0.50"/><circle cx="153.9" cy="1457.1" r="1.1" fill="#4a34c8" fill-opacity="0.74"/><circle cx="182.8" cy="1468.2" r="1.4" fill="#6c5cd8" fill-opacity="0.84"/><circle cx="231.8" cy="1503.9" r="2.1" fill="#3a26b8" fill-opacity="0.86"/><circle cx="174.2" cy="1550.9" r="2.3" fill="#3a26b8" fill-opacity="0.52"/><circle cx="218.4" cy="1495.2" r="1.0" fill="#6c5cd8" fill-opacity="0.58"/><circle cx="225.1" cy="1545.6" r="1.6" fill="#6c5cd8" fill-opacity="0.59"/><circle cx="214.1" cy="1499.0" r="2.0" fill="#6c5cd8" fill-opacity="0.61"/><circle cx="172.9" cy="1482.1" r="2.4" fill="#4a34c8" fill-opacity="0.47"/><circle cx="179.5" cy="1523.2" r="2.9" fill="#4a34c8" fill-opacity="0.60"/><circle cx="200.5" cy="1445.3" r="2.6" fill="#5a44d0" fill-opacity="0.84"/><circle cx="221.9" cy="1529.6" r="2.1" fill="#3a26b8" fill-opacity="0.86"/><circle cx="245.4" cy="1506.1" r="2.6" fill="#4a34c8" fill-opacity="0.49"/><circle cx="204.3" cy="1473.8" r="1.1" fill="#5a44d0" fill-opacity="0.71"/><circle cx="228.9" cy="1468.2" r="1.1" fill="#3a26b8" fill-opacity="0.75"/><circle cx="219.7" cy="1523.9" r="2.2" fill="#5a44d0" fill-opacity="0.48"/><circle cx="233.3" cy="1547.9" r="1.0" fill="#6c5cd8" fill-opacity="0.60"/><circle cx="144.0" cy="1493.9" r="2.9" fill="#3a26b8" fill-opacity="0.90"/><circle cx="132.6" cy="1501.4" r="2.3" fill="#5a44d0" fill-opacity="0.49"/><circle cx="180.0" cy="1491.8" r="1.1" fill="#6c5cd8" fill-opacity="0.63"/><circle cx="146.4" cy="1483.5" r="1.4" fill="#5a44d0" fill-opacity="0.89"/><circle cx="131.7" cy="1510.7" r="1.1" fill="#5a44d0" fill-opacity="0.47"/><circle cx="183.2" cy="1451.9" r="2.0" fill="#6c5cd8" fill-opacity="0.67"/><circle cx="182.2" cy="1527.1" r="1.0" fill="#6c5cd8" fill-opacity="0.75"/><circle cx="251.2" cy="1496.6" r="2.0" fill="#3a26b8" fill-opacity="0.69"/><circle cx="181.5" cy="1442.8" r="1.1" fill="#3a26b8" fill-opacity="0.60"/><circle cx="205.1" cy="1505.4" r="1.0" fill="#4a34c8" fill-opacity="0.62"/><circle cx="156.1" cy="1532.4" r="1.0" fill="#3a26b8" fill-opacity="0.79"/><circle cx="184.7" cy="1448.9" r="1.6" fill="#6c5cd8" fill-opacity="0.78"/><circle cx="244.3" cy="1522.7" r="1.0" fill="#4a34c8" fill-opacity="0.66"/><circle cx="137.3" cy="1526.2" r="1.1" fill="#6c5cd8" fill-opacity="0.78"/><circle cx="193.3" cy="1527.3" r="2.5" fill="#3a26b8" fill-opacity="0.68"/><circle cx="175.3" cy="1537.9" r="1.2" fill="#4a34c8" fill-opacity="0.89"/><circle cx="211.0" cy="1496.6" r="1.7" fill="#3a26b8" fill-opacity="0.47"/><circle cx="198.0" cy="1523.0" r="1.4" fill="#6c5cd8" fill-opacity="0.81"/><circle cx="199.1" cy="1509.0" r="1.1" fill="#3a26b8" fill-opacity="0.61"/><circle cx="204.8" cy="1552.7" r="2.0" fill="#6c5cd8" fill-opacity="0.66"/><circle cx="165.1" cy="1545.4" r="2.0" fill="#5a44d0" fill-opacity="0.65"/><circle cx="158.0" cy="1526.8" r="2.2" fill="#3a26b8" fill-opacity="0.85"/><circle cx="220.2" cy="1479.0" r="1.1" fill="#4a34c8" fill-opacity="0.51"/><circle cx="159.7" cy="1532.5" r="1.0" fill="#6c5cd8" fill-opacity="0.59"/><circle cx="198.7" cy="1472.0" r="1.0" fill="#6c5cd8" fill-opacity="0.69"/><circle cx="201.3" cy="1448.2" r="1.9" fill="#4a34c8" fill-opacity="0.59"/><circle cx="225.0" cy="1453.1" r="1.6" fill="#6c5cd8" fill-opacity="0.79"/><circle cx="246.7" cy="1521.2" r="1.2" fill="#5a44d0" fill-opacity="0.60"/><circle cx="225.5" cy="1533.2" r="1.1" fill="#3a26b8" fill-opacity="0.62"/><circle cx="212.7" cy="1500.0" r="1.2" fill="#6c5cd8" fill-opacity="0.70"/><circle cx="143.4" cy="1479.7" r="1.0" fill="#4a34c8" fill-opacity="0.46"/><circle cx="198.1" cy="1493.8" r="2.2" fill="#4a34c8" fill-opacity="0.62"/><circle cx="132.8" cy="1483.3" r="1.9" fill="#5a44d0" fill-opacity="0.63"/><circle cx="156.8" cy="1506.4" r="1.0" fill="#6c5cd8" fill-opacity="0.48"/><circle cx="232.8" cy="1539.2" r="1.8" fill="#5a44d0" fill-opacity="0.56"/><circle cx="224.3" cy="1458.7" r="1.1" fill="#4a34c8" fill-opacity="0.52"/><circle cx="201.5" cy="1451.4" r="2.8" fill="#5a44d0" fill-opacity="0.70"/><circle cx="149.4" cy="1453.0" r="1.5" fill="#4a34c8" fill-opacity="0.58"/><circle cx="220.9" cy="1503.4" r="2.2" fill="#4a34c8" fill-opacity="0.74"/><circle cx="244.4" cy="1518.0" r="1.0" fill="#5a44d0" fill-opacity="0.87"/><circle cx="205.5" cy="1471.8" r="1.6" fill="#6c5cd8" fill-opacity="0.45"/><circle cx="223.5" cy="1538.9" r="1.2" fill="#5a44d0" fill-opacity="0.59"/><circle cx="183.4" cy="1551.9" r="1.0" fill="#4a34c8" fill-opacity="0.53"/><circle cx="185.5" cy="1441.8" r="2.4" fill="#3a26b8" fill-opacity="0.49"/><circle cx="167.9" cy="1515.3" r="2.0" fill="#4a34c8" fill-opacity="0.48"/><circle cx="175.2" cy="1511.2" r="1.8" fill="#4a34c8" fill-opacity="0.69"/><circle cx="141.6" cy="1533.1" r="1.0" fill="#4a34c8" fill-opacity="0.58"/><circle cx="155.6" cy="1504.6" r="2.8" fill="#6c5cd8" fill-opacity="0.53"/><circle cx="193.6" cy="1468.5" r="1.1" fill="#6c5cd8" fill-opacity="0.86"/><circle cx="151.0" cy="1507.1" r="1.1" fill="#4a34c8" fill-opacity="0.75"/><circle cx="201.5" cy="1505.5" r="2.0" fill="#4a34c8" fill-opacity="0.53"/><circle cx="197.3" cy="1523.7" r="1.3" fill="#5a44d0" fill-opacity="0.57"/></g><circle cx="335.5" cy="1497.4" r="72.0" fill="#e5e5eb" stroke="#c2c8d4" stroke-width="1.4"/><circle cx="335.5" cy="1497.4" r="68.5" fill="none" stroke="#f5f6f9" stroke-width="3" stroke-opacity="0.6"/><circle cx="335.5" cy="1500.4" r="62.3" fill="url(#wg13_1)" stroke="#c2c8d4" stroke-width="1.4"/><circle cx="335.5" cy="1500.4" r="64.3" fill="none" stroke="#f7f8fa" stroke-width="1.8" stroke-opacity="0.6"/><g filter="url(#fz0)"><circle cx="362.5" cy="1507.0" r="1.1" fill="#3a26b8" fill-opacity="0.63"/><circle cx="296.0" cy="1523.4" r="2.6" fill="#4a34c8" fill-opacity="0.87"/><circle cx="386.5" cy="1525.7" r="2.7" fill="#4a34c8" fill-opacity="0.46"/><circle cx="356.9" cy="1512.8" r="1.0" fill="#5a44d0" fill-opacity="0.63"/><circle cx="282.6" cy="1501.7" r="3.0" fill="#4a34c8" fill-opacity="0.72"/><circle cx="374.8" cy="1486.1" r="1.5" fill="#3a26b8" fill-opacity="0.82"/><circle cx="323.2" cy="1492.1" r="1.5" fill="#3a26b8" fill-opacity="0.88"/><circle cx="348.7" cy="1559.6" r="2.3" fill="#3a26b8" fill-opacity="0.89"/><circle cx="341.8" cy="1496.0" r="1.8" fill="#3a26b8" fill-opacity="0.82"/><circle cx="367.9" cy="1469.8" r="1.3" fill="#4a34c8" fill-opacity="0.73"/><circle cx="345.8" cy="1445.0" r="1.2" fill="#6c5cd8" fill-opacity="0.70"/><circle cx="377.5" cy="1472.8" r="1.0" fill="#3a26b8" fill-opacity="0.53"/><circle cx="306.4" cy="1516.8" r="1.0" fill="#5a44d0" fill-opacity="0.57"/><circle cx="293.3" cy="1547.7" r="1.0" fill="#5a44d0" fill-opacity="0.60"/><circle cx="379.1" cy="1490.4" r="2.6" fill="#4a34c8" fill-opacity="0.70"/><circle cx="352.9" cy="1494.6" r="1.2" fill="#3a26b8" fill-opacity="0.65"/><circle cx="341.1" cy="1510.1" r="1.6" fill="#3a26b8" fill-opacity="0.48"/><circle cx="272.5" cy="1491.5" r="1.1" fill="#3a26b8" fill-opacity="0.72"/><circle cx="360.8" cy="1540.7" r="2.2" fill="#6c5cd8" fill-opacity="0.65"/><circle cx="329.9" cy="1535.0" r="2.6" fill="#5a44d0" fill-opacity="0.75"/><circle cx="317.4" cy="1471.5" r="2.6" fill="#4a34c8" fill-opacity="0.74"/><circle cx="390.6" cy="1490.5" r="1.0" fill="#6c5cd8" fill-opacity="0.76"/><circle cx="369.0" cy="1471.4" r="1.0" fill="#6c5cd8" fill-opacity="0.75"/><circle cx="325.9" cy="1478.4" r="1.1" fill="#5a44d0" fill-opacity="0.59"/><circle cx="318.8" cy="1475.1" r="1.1" fill="#6c5cd8" fill-opacity="0.56"/><circle cx="295.0" cy="1485.6" r="1.2" fill="#3a26b8" fill-opacity="0.89"/><circle cx="305.7" cy="1477.8" r="1.0" fill="#6c5cd8" fill-opacity="0.87"/><circle cx="351.0" cy="1497.6" r="2.1" fill="#5a44d0" fill-opacity="0.85"/><circle cx="358.0" cy="1501.6" r="1.8" fill="#3a26b8" fill-opacity="0.59"/><circle cx="384.9" cy="1474.5" r="1.0" fill="#4a34c8" fill-opacity="0.51"/><circle cx="338.0" cy="1522.6" r="1.1" fill="#3a26b8" fill-opacity="0.75"/><circle cx="386.2" cy="1477.5" r="1.4" fill="#4a34c8" fill-opacity="0.67"/><circle cx="346.5" cy="1455.0" r="1.0" fill="#5a44d0" fill-opacity="0.62"/><circle cx="320.7" cy="1543.5" r="1.1" fill="#4a34c8" fill-opacity="0.71"/><circle cx="355.1" cy="1497.5" r="1.6" fill="#4a34c8" fill-opacity="0.77"/><circle cx="373.8" cy="1485.5" r="1.2" fill="#3a26b8" fill-opacity="0.75"/><circle cx="324.3" cy="1437.9" r="1.9" fill="#5a44d0" fill-opacity="0.49"/><circle cx="283.3" cy="1496.2" r="2.9" fill="#6c5cd8" fill-opacity="0.56"/><circle cx="360.8" cy="1445.3" r="2.1" fill="#4a34c8" fill-opacity="0.59"/><circle cx="366.3" cy="1460.9" r="1.8" fill="#4a34c8" fill-opacity="0.82"/><circle cx="325.8" cy="1512.7" r="2.5" fill="#3a26b8" fill-opacity="0.48"/><circle cx="395.3" cy="1484.9" r="1.6" fill="#6c5cd8" fill-opacity="0.63"/><circle cx="290.6" cy="1502.9" r="1.2" fill="#5a44d0" fill-opacity="0.81"/><circle cx="387.8" cy="1487.6" r="1.4" fill="#5a44d0" fill-opacity="0.49"/><circle cx="287.0" cy="1522.7" r="1.1" fill="#4a34c8" fill-opacity="0.73"/><circle cx="359.3" cy="1468.7" r="1.4" fill="#3a26b8" fill-opacity="0.46"/><circle cx="295.2" cy="1514.7" r="2.1" fill="#4a34c8" fill-opacity="0.64"/><circle cx="352.4" cy="1483.3" r="1.3" fill="#3a26b8" fill-opacity="0.51"/><circle cx="298.6" cy="1520.3" r="1.0" fill="#6c5cd8" fill-opacity="0.86"/><circle cx="282.3" cy="1528.2" r="2.3" fill="#5a44d0" fill-opacity="0.60"/><circle cx="277.4" cy="1514.3" r="1.1" fill="#4a34c8" fill-opacity="0.49"/><circle cx="378.0" cy="1458.2" r="1.6" fill="#4a34c8" fill-opacity="0.80"/><circle cx="347.2" cy="1446.5" r="1.3" fill="#3a26b8" fill-opacity="0.56"/><circle cx="391.7" cy="1476.7" r="1.0" fill="#3a26b8" fill-opacity="0.63"/><circle cx="364.7" cy="1535.8" r="2.8" fill="#6c5cd8" fill-opacity="0.56"/><circle cx="307.3" cy="1464.2" r="1.0" fill="#4a34c8" fill-opacity="0.60"/><circle cx="390.8" cy="1499.3" r="1.9" fill="#5a44d0" fill-opacity="0.78"/><circle cx="390.1" cy="1494.8" r="2.5" fill="#5a44d0" fill-opacity="0.50"/><circle cx="365.8" cy="1469.0" r="1.4" fill="#6c5cd8" fill-opacity="0.46"/><circle cx="314.1" cy="1554.1" r="1.0" fill="#3a26b8" fill-opacity="0.70"/><circle cx="352.8" cy="1501.3" r="1.2" fill="#6c5cd8" fill-opacity="0.86"/><circle cx="335.5" cy="1488.4" r="1.8" fill="#6c5cd8" fill-opacity="0.65"/><circle cx="304.7" cy="1550.5" r="1.8" fill="#5a44d0" fill-opacity="0.90"/><circle cx="290.1" cy="1483.2" r="1.9" fill="#4a34c8" fill-opacity="0.74"/><circle cx="309.2" cy="1551.6" r="1.8" fill="#5a44d0" fill-opacity="0.82"/><circle cx="293.4" cy="1469.5" r="1.1" fill="#6c5cd8" fill-opacity="0.88"/><circle cx="278.9" cy="1526.7" r="1.7" fill="#4a34c8" fill-opacity="0.59"/><circle cx="364.1" cy="1548.0" r="1.3" fill="#3a26b8" fill-opacity="0.89"/><circle cx="333.4" cy="1489.7" r="1.2" fill="#4a34c8" fill-opacity="0.86"/><circle cx="352.2" cy="1514.7" r="2.6" fill="#4a34c8" fill-opacity="0.47"/><circle cx="273.1" cy="1504.2" r="1.0" fill="#3a26b8" fill-opacity="0.74"/><circle cx="377.5" cy="1478.5" r="1.1" fill="#4a34c8" fill-opacity="0.53"/><circle cx="363.5" cy="1492.8" r="1.5" fill="#6c5cd8" fill-opacity="0.77"/><circle cx="299.3" cy="1529.2" r="1.4" fill="#5a44d0" fill-opacity="0.73"/><circle cx="371.2" cy="1553.0" r="1.2" fill="#3a26b8" fill-opacity="0.75"/><circle cx="297.3" cy="1522.8" r="2.2" fill="#4a34c8" fill-opacity="0.48"/><circle cx="301.5" cy="1485.2" r="2.8" fill="#4a34c8" fill-opacity="0.53"/><circle cx="362.5" cy="1533.6" r="1.1" fill="#4a34c8" fill-opacity="0.66"/><circle cx="384.6" cy="1495.5" r="1.0" fill="#5a44d0" fill-opacity="0.53"/><circle cx="346.2" cy="1554.9" r="1.2" fill="#3a26b8" fill-opacity="0.73"/><circle cx="328.0" cy="1505.2" r="1.3" fill="#6c5cd8" fill-opacity="0.46"/><circle cx="334.7" cy="1499.2" r="1.0" fill="#6c5cd8" fill-opacity="0.70"/><circle cx="385.8" cy="1485.0" r="1.0" fill="#3a26b8" fill-opacity="0.62"/><circle cx="309.5" cy="1547.4" r="2.0" fill="#6c5cd8" fill-opacity="0.83"/><circle cx="398.3" cy="1495.2" r="1.0" fill="#3a26b8" fill-opacity="0.47"/><circle cx="368.6" cy="1451.1" r="1.4" fill="#6c5cd8" fill-opacity="0.46"/><circle cx="316.8" cy="1522.2" r="1.1" fill="#5a44d0" fill-opacity="0.48"/><circle cx="329.7" cy="1476.1" r="1.8" fill="#5a44d0" fill-opacity="0.64"/><circle cx="374.9" cy="1510.4" r="2.5" fill="#5a44d0" fill-opacity="0.62"/><circle cx="317.1" cy="1484.7" r="1.3" fill="#6c5cd8" fill-opacity="0.83"/></g><circle cx="481.0" cy="1497.4" r="72.0" fill="#e5e5eb" stroke="#c2c8d4" stroke-width="1.4"/><circle cx="481.0" cy="1497.4" r="68.5" fill="none" stroke="#f5f6f9" stroke-width="3" stroke-opacity="0.6"/><circle cx="478.0" cy="1500.4" r="62.3" fill="url(#wg13_1)" stroke="#c2c8d4" stroke-width="1.4"/><circle cx="478.0" cy="1500.4" r="64.3" fill="none" stroke="#f7f8fa" stroke-width="1.8" stroke-opacity="0.6"/><g filter="url(#fz0)"><circle cx="447.4" cy="1468.8" r="1.0" fill="#6c5cd8" fill-opacity="0.87"/><circle cx="480.4" cy="1564.4" r="1.9" fill="#4a34c8" fill-opacity="0.53"/><circle cx="471.8" cy="1455.3" r="1.4" fill="#3a26b8" fill-opacity="0.64"/><circle cx="485.2" cy="1536.4" r="2.7" fill="#6c5cd8" fill-opacity="0.68"/><circle cx="432.1" cy="1497.6" r="2.4" fill="#4a34c8" fill-opacity="0.54"/><circle cx="441.3" cy="1500.7" r="1.2" fill="#4a34c8" fill-opacity="0.66"/><circle cx="522.7" cy="1499.5" r="1.1" fill="#3a26b8" fill-opacity="0.75"/><circle cx="535.4" cy="1511.3" r="1.2" fill="#4a34c8" fill-opacity="0.79"/><circle cx="460.2" cy="1438.9" r="1.2" fill="#3a26b8" fill-opacity="0.62"/><circle cx="447.1" cy="1550.7" r="2.2" fill="#3a26b8" fill-opacity="0.67"/><circle cx="442.4" cy="1510.2" r="1.0" fill="#5a44d0" fill-opacity="0.80"/><circle cx="496.1" cy="1530.4" r="1.5" fill="#4a34c8" fill-opacity="0.63"/><circle cx="479.7" cy="1452.4" r="2.3" fill="#4a34c8" fill-opacity="0.75"/><circle cx="459.8" cy="1505.2" r="1.5" fill="#6c5cd8" fill-opacity="0.48"/><circle cx="457.3" cy="1503.6" r="1.9" fill="#5a44d0" fill-opacity="0.56"/><circle cx="512.8" cy="1492.6" r="1.3" fill="#4a34c8" fill-opacity="0.54"/><circle cx="514.7" cy="1472.1" r="1.0" fill="#3a26b8" fill-opacity="0.45"/><circle cx="462.5" cy="1528.9" r="1.0" fill="#4a34c8" fill-opacity="0.85"/><circle cx="524.3" cy="1494.4" r="1.0" fill="#6c5cd8" fill-opacity="0.68"/><circle cx="496.9" cy="1508.0" r="1.2" fill="#4a34c8" fill-opacity="0.60"/><circle cx="454.5" cy="1541.9" r="1.8" fill="#4a34c8" fill-opacity="0.59"/><circle cx="451.5" cy="1511.0" r="2.5" fill="#3a26b8" fill-opacity="0.46"/><circle cx="528.3" cy="1540.0" r="1.2" fill="#3a26b8" fill-opacity="0.86"/><circle cx="484.9" cy="1486.5" r="2.7" fill="#6c5cd8" fill-opacity="0.59"/><circle cx="418.3" cy="1519.8" r="2.1" fill="#3a26b8" fill-opacity="0.62"/><circle cx="462.4" cy="1450.1" r="1.0" fill="#5a44d0" fill-opacity="0.52"/><circle cx="453.3" cy="1441.5" r="1.4" fill="#3a26b8" fill-opacity="0.68"/><circle cx="446.5" cy="1464.0" r="1.1" fill="#5a44d0" fill-opacity="0.55"/><circle cx="522.3" cy="1541.6" r="1.0" fill="#5a44d0" fill-opacity="0.61"/><circle cx="522.9" cy="1494.3" r="1.0" fill="#4a34c8" fill-opacity="0.72"/><circle cx="513.1" cy="1484.6" r="1.1" fill="#3a26b8" fill-opacity="0.64"/><circle cx="456.5" cy="1450.1" r="2.1" fill="#4a34c8" fill-opacity="0.55"/><circle cx="490.0" cy="1519.9" r="1.0" fill="#4a34c8" fill-opacity="0.69"/><circle cx="501.4" cy="1459.9" r="1.1" fill="#3a26b8" fill-opacity="0.76"/><circle cx="488.4" cy="1439.7" r="1.0" fill="#5a44d0" fill-opacity="0.48"/><circle cx="422.2" cy="1475.8" r="2.2" fill="#4a34c8" fill-opacity="0.80"/><circle cx="537.5" cy="1515.4" r="1.3" fill="#6c5cd8" fill-opacity="0.89"/><circle cx="461.2" cy="1452.8" r="1.9" fill="#6c5cd8" fill-opacity="0.50"/><circle cx="424.3" cy="1494.9" r="1.1" fill="#3a26b8" fill-opacity="0.58"/><circle cx="485.4" cy="1563.8" r="2.0" fill="#6c5cd8" fill-opacity="0.79"/><circle cx="478.7" cy="1490.5" r="1.4" fill="#3a26b8" fill-opacity="0.81"/><circle cx="481.3" cy="1453.0" r="1.2" fill="#3a26b8" fill-opacity="0.74"/><circle cx="527.2" cy="1519.2" r="1.0" fill="#5a44d0" fill-opacity="0.65"/><circle cx="431.1" cy="1492.5" r="1.6" fill="#5a44d0" fill-opacity="0.75"/><circle cx="501.1" cy="1537.1" r="1.8" fill="#3a26b8" fill-opacity="0.81"/><circle cx="487.6" cy="1549.7" r="2.2" fill="#5a44d0" fill-opacity="0.58"/><circle cx="442.6" cy="1472.1" r="2.2" fill="#5a44d0" fill-opacity="0.73"/><circle cx="500.7" cy="1484.2" r="1.3" fill="#6c5cd8" fill-opacity="0.80"/><circle cx="445.6" cy="1530.4" r="2.5" fill="#5a44d0" fill-opacity="0.72"/><circle cx="474.5" cy="1536.1" r="1.5" fill="#3a26b8" fill-opacity="0.78"/><circle cx="447.5" cy="1551.7" r="1.3" fill="#6c5cd8" fill-opacity="0.71"/><circle cx="459.6" cy="1502.5" r="1.5" fill="#6c5cd8" fill-opacity="0.60"/><circle cx="510.9" cy="1535.8" r="2.3" fill="#3a26b8" fill-opacity="0.65"/><circle cx="442.8" cy="1491.4" r="1.9" fill="#3a26b8" fill-opacity="0.86"/><circle cx="459.4" cy="1453.8" r="1.6" fill="#5a44d0" fill-opacity="0.49"/><circle cx="446.1" cy="1500.4" r="1.0" fill="#4a34c8" fill-opacity="0.59"/><circle cx="468.6" cy="1522.5" r="1.1" fill="#5a44d0" fill-opacity="0.50"/><circle cx="527.0" cy="1526.8" r="1.6" fill="#6c5cd8" fill-opacity="0.59"/><circle cx="473.3" cy="1527.2" r="1.0" fill="#3a26b8" fill-opacity="0.60"/><circle cx="445.6" cy="1555.0" r="1.1" fill="#5a44d0" fill-opacity="0.59"/><circle cx="473.9" cy="1520.5" r="1.4" fill="#3a26b8" fill-opacity="0.51"/><circle cx="509.8" cy="1505.5" r="1.6" fill="#4a34c8" fill-opacity="0.78"/><circle cx="501.4" cy="1513.2" r="1.0" fill="#5a44d0" fill-opacity="0.71"/><circle cx="441.9" cy="1491.2" r="2.2" fill="#4a34c8" fill-opacity="0.75"/><circle cx="477.0" cy="1450.6" r="1.3" fill="#5a44d0" fill-opacity="0.79"/><circle cx="519.2" cy="1509.7" r="1.1" fill="#5a44d0" fill-opacity="0.56"/><circle cx="534.8" cy="1517.3" r="2.9" fill="#5a44d0" fill-opacity="0.84"/><circle cx="453.6" cy="1535.1" r="1.5" fill="#4a34c8" fill-opacity="0.54"/><circle cx="453.7" cy="1476.5" r="1.9" fill="#5a44d0" fill-opacity="0.72"/><circle cx="481.1" cy="1529.0" r="1.0" fill="#3a26b8" fill-opacity="0.80"/><circle cx="486.7" cy="1530.8" r="1.2" fill="#5a44d0" fill-opacity="0.66"/><circle cx="513.7" cy="1545.0" r="1.2" fill="#5a44d0" fill-opacity="0.85"/><circle cx="444.7" cy="1520.7" r="2.6" fill="#6c5cd8" fill-opacity="0.81"/><circle cx="524.8" cy="1542.1" r="1.6" fill="#4a34c8" fill-opacity="0.70"/><circle cx="514.3" cy="1541.9" r="1.2" fill="#6c5cd8" fill-opacity="0.72"/><circle cx="529.6" cy="1485.8" r="1.4" fill="#6c5cd8" fill-opacity="0.49"/><circle cx="477.3" cy="1496.3" r="1.1" fill="#4a34c8" fill-opacity="0.82"/><circle cx="476.1" cy="1554.8" r="2.9" fill="#5a44d0" fill-opacity="0.70"/><circle cx="472.4" cy="1469.9" r="1.1" fill="#5a44d0" fill-opacity="0.64"/><circle cx="437.0" cy="1465.6" r="2.3" fill="#5a44d0" fill-opacity="0.70"/><circle cx="468.0" cy="1461.7" r="1.6" fill="#5a44d0" fill-opacity="0.72"/><circle cx="493.1" cy="1505.5" r="1.0" fill="#6c5cd8" fill-opacity="0.69"/><circle cx="500.2" cy="1530.1" r="1.1" fill="#3a26b8" fill-opacity="0.87"/><circle cx="477.0" cy="1443.9" r="2.0" fill="#5a44d0" fill-opacity="0.63"/><circle cx="454.9" cy="1448.0" r="1.1" fill="#6c5cd8" fill-opacity="0.70"/><circle cx="485.8" cy="1520.4" r="2.9" fill="#3a26b8" fill-opacity="0.81"/><circle cx="502.5" cy="1535.8" r="2.9" fill="#6c5cd8" fill-opacity="0.47"/><circle cx="529.0" cy="1490.3" r="1.9" fill="#4a34c8" fill-opacity="0.76"/><circle cx="509.7" cy="1473.0" r="1.0" fill="#6c5cd8" fill-opacity="0.64"/><circle cx="497.0" cy="1456.5" r="1.8" fill="#5a44d0" fill-opacity="0.86"/><circle cx="420.5" cy="1472.9" r="1.3" fill="#6c5cd8" fill-opacity="0.70"/><circle cx="433.9" cy="1518.7" r="2.4" fill="#5a44d0" fill-opacity="0.86"/><circle cx="532.9" cy="1527.0" r="1.6" fill="#4a34c8" fill-opacity="0.73"/><circle cx="515.2" cy="1453.3" r="2.3" fill="#5a44d0" fill-opacity="0.88"/><circle cx="514.2" cy="1458.5" r="1.0" fill="#4a34c8" fill-opacity="0.65"/><circle cx="433.2" cy="1526.0" r="1.4" fill="#4a34c8" fill-opacity="0.66"/><circle cx="505.1" cy="1471.1" r="1.4" fill="#3a26b8" fill-opacity="0.64"/><circle cx="508.5" cy="1490.1" r="1.1" fill="#5a44d0" fill-opacity="0.82"/><circle cx="478.6" cy="1542.0" r="1.0" fill="#6c5cd8" fill-opacity="0.87"/></g></g><rect x="109.2" y="1281.2" width="453.6" height="290.6" fill="none" stroke="#000" stroke-width="2.4"/>
<clipPath id="clip14"><rect x="1120" y="1288" width="455" height="292"/></clipPath><g clip-path="url(#clip14)"><rect x="1120" y="1288" width="455" height="292" fill="url(#pb14)"/><circle cx="1272.9" cy="1434.0" r="19" fill="none" stroke="#c2c8d4" stroke-width="1.5"/><circle cx="1272.9" cy="1434.0" r="13" fill="none" stroke="#f3f4f7" stroke-width="2"/><circle cx="1272.9" cy="1434.0" r="12" fill="none" stroke="#c2c8d4" stroke-width="1.2"/><circle cx="1422.1" cy="1434.0" r="19" fill="none" stroke="#c2c8d4" stroke-width="1.5"/><circle cx="1422.1" cy="1434.0" r="13" fill="none" stroke="#f3f4f7" stroke-width="2"/><circle cx="1422.1" cy="1434.0" r="12" fill="none" stroke="#c2c8d4" stroke-width="1.2"/><circle cx="1199.2" cy="1364.5" r="71.9" fill="#ebebf0" stroke="#c2c8d4" stroke-width="1.4"/><circle cx="1199.2" cy="1364.5" r="68.4" fill="none" stroke="#f5f6f9" stroke-width="3" stroke-opacity="0.6"/><circle cx="1203.2" cy="1367.5" r="62.2" fill="url(#wg14_0)" stroke="#c2c8d4" stroke-width="1.4"/><circle cx="1203.2" cy="1367.5" r="64.2" fill="none" stroke="#f7f8fa" stroke-width="1.8" stroke-opacity="0.6"/><g filter="url(#fz1)"><circle cx="1245.2" cy="1400.9" r="2.5" fill="#7a6ddc" fill-opacity="0.56"/><circle cx="1201.2" cy="1422.3" r="2.5" fill="#5848c8" fill-opacity="0.64"/><circle cx="1231.2" cy="1338.7" r="3.4" fill="#5848c8" fill-opacity="0.54"/><circle cx="1234.4" cy="1345.3" r="1.7" fill="#7a6ddc" fill-opacity="0.51"/><circle cx="1186.1" cy="1338.5" r="1.5" fill="#6a5cd4" fill-opacity="0.50"/><circle cx="1193.6" cy="1383.3" r="1.6" fill="#8a80e0" fill-opacity="0.61"/><circle cx="1245.5" cy="1365.0" r="2.3" fill="#6a5cd4" fill-opacity="0.68"/><circle cx="1178.0" cy="1338.1" r="3.2" fill="#8a80e0" fill-opacity="0.66"/><circle cx="1218.1" cy="1407.9" r="1.6" fill="#5848c8" fill-opacity="0.65"/><circle cx="1249.5" cy="1402.3" r="1.5" fill="#5848c8" fill-opacity="0.50"/><circle cx="1224.8" cy="1402.4" r="2.6" fill="#6a5cd4" fill-opacity="0.62"/><circle cx="1229.1" cy="1363.2" r="1.8" fill="#5848c8" fill-opacity="0.64"/><circle cx="1157.6" cy="1386.5" r="1.5" fill="#8a80e0" fill-opacity="0.61"/><circle cx="1155.5" cy="1383.3" r="2.1" fill="#7a6ddc" fill-opacity="0.65"/><circle cx="1198.7" cy="1409.8" r="3.1" fill="#8a80e0" fill-opacity="0.83"/><circle cx="1169.7" cy="1385.0" r="2.2" fill="#8a80e0" fill-opacity="0.56"/><circle cx="1194.2" cy="1393.8" r="2.4" fill="#8a80e0" fill-opacity="0.77"/><circle cx="1219.7" cy="1378.8" r="1.6" fill="#6a5cd4" fill-opacity="0.84"/><circle cx="1174.0" cy="1350.0" r="3.5" fill="#5848c8" fill-opacity="0.85"/><circle cx="1250.5" cy="1408.6" r="2.9" fill="#6a5cd4" fill-opacity="0.54"/><circle cx="1226.2" cy="1343.9" r="1.6" fill="#5848c8" fill-opacity="0.57"/><circle cx="1206.0" cy="1328.7" r="2.2" fill="#7a6ddc" fill-opacity="0.65"/><circle cx="1224.2" cy="1334.9" r="1.8" fill="#8a80e0" fill-opacity="0.67"/><circle cx="1208.4" cy="1332.0" r="3.4" fill="#6a5cd4" fill-opacity="0.55"/><circle cx="1243.3" cy="1349.7" r="1.8" fill="#5848c8" fill-opacity="0.77"/><circle cx="1213.4" cy="1378.4" r="3.5" fill="#7a6ddc" fill-opacity="0.55"/><circle cx="1158.5" cy="1382.9" r="1.8" fill="#6a5cd4" fill-opacity="0.55"/><circle cx="1174.9" cy="1398.2" r="1.5" fill="#7a6ddc" fill-opacity="0.49"/><circle cx="1212.7" cy="1342.7" r="1.5" fill="#7a6ddc" fill-opacity="0.84"/><circle cx="1240.2" cy="1322.8" r="3.8" fill="#6a5cd4" fill-opacity="0.68"/><circle cx="1141.7" cy="1379.9" r="1.7" fill="#6a5cd4" fill-opacity="0.80"/><circle cx="1252.0" cy="1387.5" r="3.5" fill="#6a5cd4" fill-opacity="0.82"/><circle cx="1256.5" cy="1392.0" r="1.5" fill="#6a5cd4" fill-opacity="0.78"/><circle cx="1218.4" cy="1360.5" r="2.9" fill="#5848c8" fill-opacity="0.47"/><circle cx="1263.2" cy="1361.5" r="1.6" fill="#8a80e0" fill-opacity="0.64"/><circle cx="1238.9" cy="1326.7" r="1.5" fill="#6a5cd4" fill-opacity="0.84"/><circle cx="1203.8" cy="1420.4" r="2.5" fill="#6a5cd4" fill-opacity="0.67"/><circle cx="1218.8" cy="1315.3" r="1.5" fill="#5848c8" fill-opacity="0.81"/><circle cx="1228.0" cy="1335.6" r="2.0" fill="#5848c8" fill-opacity="0.74"/><circle cx="1187.1" cy="1395.4" r="1.7" fill="#5848c8" fill-opacity="0.84"/><circle cx="1145.3" cy="1358.8" r="2.0" fill="#6a5cd4" fill-opacity="0.85"/><circle cx="1181.9" cy="1401.1" r="2.3" fill="#5848c8" fill-opacity="0.72"/><circle cx="1243.8" cy="1359.2" r="1.6" fill="#6a5cd4" fill-opacity="0.60"/><circle cx="1196.4" cy="1336.6" r="3.0" fill="#6a5cd4" fill-opacity="0.75"/><circle cx="1216.4" cy="1342.5" r="3.2" fill="#6a5cd4" fill-opacity="0.55"/><circle cx="1253.4" cy="1399.6" r="2.2" fill="#6a5cd4" fill-opacity="0.53"/><circle cx="1222.1" cy="1321.5" r="1.7" fill="#8a80e0" fill-opacity="0.63"/><circle cx="1216.7" cy="1357.6" r="1.5" fill="#7a6ddc" fill-opacity="0.74"/><circle cx="1175.2" cy="1374.5" r="1.5" fill="#5848c8" fill-opacity="0.64"/><circle cx="1204.3" cy="1329.7" r="2.1" fill="#5848c8" fill-opacity="0.47"/><circle cx="1169.6" cy="1339.8" r="3.4" fill="#5848c8" fill-opacity="0.64"/><circle cx="1198.4" cy="1380.7" r="1.5" fill="#6a5cd4" fill-opacity="0.72"/><circle cx="1152.3" cy="1371.9" r="1.8" fill="#7a6ddc" fill-opacity="0.50"/><circle cx="1232.5" cy="1367.3" r="2.9" fill="#7a6ddc" fill-opacity="0.80"/><circle cx="1211.3" cy="1426.5" r="3.2" fill="#8a80e0" fill-opacity="0.78"/><circle cx="1213.5" cy="1342.6" r="1.6" fill="#5848c8" fill-opacity="0.58"/><circle cx="1140.4" cy="1358.8" r="1.5" fill="#6a5cd4" fill-opacity="0.57"/><circle cx="1224.5" cy="1351.6" r="1.6" fill="#7a6ddc" fill-opacity="0.50"/><circle cx="1221.0" cy="1342.8" r="1.8" fill="#8a80e0" fill-opacity="0.49"/><circle cx="1209.8" cy="1325.6" r="2.9" fill="#6a5cd4" fill-opacity="0.73"/><circle cx="1143.7" cy="1350.1" r="1.5" fill="#7a6ddc" fill-opacity="0.67"/><circle cx="1252.0" cy="1361.8" r="1.6" fill="#6a5cd4" fill-opacity="0.50"/><circle cx="1236.2" cy="1329.1" r="3.1" fill="#6a5cd4" fill-opacity="0.76"/><circle cx="1260.2" cy="1349.6" r="2.3" fill="#7a6ddc" fill-opacity="0.81"/><circle cx="1237.8" cy="1394.8" r="2.0" fill="#8a80e0" fill-opacity="0.65"/><circle cx="1165.6" cy="1320.3" r="3.3" fill="#6a5cd4" fill-opacity="0.81"/><circle cx="1185.5" cy="1395.9" r="2.0" fill="#6a5cd4" fill-opacity="0.70"/><circle cx="1244.9" cy="1378.1" r="1.5" fill="#6a5cd4" fill-opacity="0.66"/><circle cx="1216.9" cy="1412.5" r="1.8" fill="#7a6ddc" fill-opacity="0.82"/><circle cx="1179.0" cy="1379.6" r="3.6" fill="#8a80e0" fill-opacity="0.70"/><circle cx="1175.5" cy="1370.7" r="3.3" fill="#8a80e0" fill-opacity="0.51"/><circle cx="1247.3" cy="1351.1" r="2.6" fill="#5848c8" fill-opacity="0.74"/><circle cx="1213.4" cy="1339.5" r="2.6" fill="#6a5cd4" fill-opacity="0.55"/><circle cx="1187.6" cy="1366.3" r="1.5" fill="#8a80e0" fill-opacity="0.55"/><circle cx="1203.8" cy="1374.0" r="2.8" fill="#5848c8" fill-opacity="0.46"/><circle cx="1198.1" cy="1398.5" r="1.8" fill="#7a6ddc" fill-opacity="0.54"/><circle cx="1224.3" cy="1313.6" r="1.5" fill="#8a80e0" fill-opacity="0.70"/><circle cx="1196.6" cy="1411.8" r="2.9" fill="#6a5cd4" fill-opacity="0.65"/><circle cx="1220.3" cy="1391.4" r="2.7" fill="#5848c8" fill-opacity="0.84"/><circle cx="1260.2" cy="1343.3" r="2.1" fill="#5848c8" fill-opacity="0.82"/><circle cx="1162.4" cy="1369.1" r="2.0" fill="#5848c8" fill-opacity="0.85"/><circle cx="1183.4" cy="1410.3" r="3.1" fill="#6a5cd4" fill-opacity="0.77"/><circle cx="1240.5" cy="1370.9" r="1.6" fill="#7a6ddc" fill-opacity="0.63"/><circle cx="1144.9" cy="1388.8" r="1.8" fill="#8a80e0" fill-opacity="0.45"/><circle cx="1149.8" cy="1342.1" r="1.5" fill="#6a5cd4" fill-opacity="0.65"/><circle cx="1152.7" cy="1343.1" r="2.8" fill="#8a80e0" fill-opacity="0.83"/><circle cx="1223.1" cy="1310.5" r="1.9" fill="#8a80e0" fill-opacity="0.58"/><circle cx="1167.5" cy="1400.0" r="2.6" fill="#5848c8" fill-opacity="0.61"/><circle cx="1197.5" cy="1373.9" r="2.7" fill="#5848c8" fill-opacity="0.50"/><circle cx="1227.8" cy="1310.9" r="2.5" fill="#8a80e0" fill-opacity="0.72"/><circle cx="1209.8" cy="1428.9" r="1.5" fill="#8a80e0" fill-opacity="0.71"/><circle cx="1204.7" cy="1340.8" r="1.6" fill="#7a6ddc" fill-opacity="0.60"/><circle cx="1208.8" cy="1389.7" r="3.1" fill="#5848c8" fill-opacity="0.58"/><circle cx="1174.1" cy="1366.0" r="3.2" fill="#6a5cd4" fill-opacity="0.74"/></g><circle cx="1347.0" cy="1364.5" r="71.9" fill="#ebebf0" stroke="#c2c8d4" stroke-width="1.4"/><circle cx="1347.0" cy="1364.5" r="68.4" fill="none" stroke="#f5f6f9" stroke-width="3" stroke-opacity="0.6"/><circle cx="1347.0" cy="1367.5" r="62.2" fill="url(#wg14_0)" stroke="#c2c8d4" stroke-width="1.4"/><circle cx="1347.0" cy="1367.5" r="64.2" fill="none" stroke="#f7f8fa" stroke-width="1.8" stroke-opacity="0.6"/><g filter="url(#fz1)"><circle cx="1294.4" cy="1347.6" r="2.8" fill="#8a80e0" fill-opacity="0.51"/><circle cx="1382.2" cy="1379.3" r="2.3" fill="#8a80e0" fill-opacity="0.70"/><circle cx="1351.0" cy="1360.4" r="2.2" fill="#6a5cd4" fill-opacity="0.81"/><circle cx="1406.5" cy="1387.8" r="2.7" fill="#7a6ddc" fill-opacity="0.70"/><circle cx="1398.1" cy="1372.0" r="1.5" fill="#5848c8" fill-opacity="0.46"/><circle cx="1320.0" cy="1359.8" r="2.0" fill="#5848c8" fill-opacity="0.52"/><circle cx="1340.1" cy="1400.2" r="3.6" fill="#8a80e0" fill-opacity="0.62"/><circle cx="1385.4" cy="1331.3" r="2.9" fill="#7a6ddc" fill-opacity="0.76"/><circle cx="1313.6" cy="1367.8" r="2.0" fill="#6a5cd4" fill-opacity="0.48"/><circle cx="1312.4" cy="1396.3" r="1.6" fill="#8a80e0" fill-opacity="0.58"/><circle cx="1401.9" cy="1338.6" r="1.9" fill="#5848c8" fill-opacity="0.45"/><circle cx="1307.5" cy="1417.4" r="2.1" fill="#7a6ddc" fill-opacity="0.46"/><circle cx="1362.8" cy="1369.2" r="1.5" fill="#7a6ddc" fill-opacity="0.75"/><circle cx="1315.8" cy="1343.3" r="1.8" fill="#7a6ddc" fill-opacity="0.58"/><circle cx="1355.4" cy="1389.2" r="3.8" fill="#8a80e0" fill-opacity="0.61"/><circle cx="1354.5" cy="1388.7" r="3.4" fill="#5848c8" fill-opacity="0.70"/><circle cx="1304.8" cy="1338.9" r="3.4" fill="#5848c8" fill-opacity="0.83"/><circle cx="1349.0" cy="1429.1" r="3.3" fill="#8a80e0" fill-opacity="0.49"/><circle cx="1377.1" cy="1341.9" r="1.8" fill="#5848c8" fill-opacity="0.49"/><circle cx="1328.4" cy="1343.4" r="3.2" fill="#7a6ddc" fill-opacity="0.78"/><circle cx="1323.7" cy="1415.9" r="3.5" fill="#6a5cd4" fill-opacity="0.56"/><circle cx="1338.0" cy="1401.0" r="2.2" fill="#7a6ddc" fill-opacity="0.59"/><circle cx="1406.5" cy="1351.4" r="1.7" fill="#8a80e0" fill-opacity="0.49"/><circle cx="1287.4" cy="1387.3" r="1.7" fill="#5848c8" fill-opacity="0.71"/><circle cx="1376.9" cy="1351.4" r="1.7" fill="#7a6ddc" fill-opacity="0.51"/><circle cx="1341.0" cy="1417.5" r="2.1" fill="#7a6ddc" fill-opacity="0.82"/><circle cx="1347.9" cy="1317.8" r="3.5" fill="#8a80e0" fill-opacity="0.56"/><circle cx="1297.4" cy="1397.6" r="1.5" fill="#8a80e0" fill-opacity="0.58"/><circle cx="1353.7" cy="1430.5" r="3.3" fill="#8a80e0" fill-opacity="0.46"/><circle cx="1294.6" cy="1344.0" r="3.3" fill="#5848c8" fill-opacity="0.79"/><circle cx="1351.1" cy="1317.7" r="1.7" fill="#8a80e0" fill-opacity="0.75"/><circle cx="1296.3" cy="1404.4" r="2.0" fill="#8a80e0" fill-opacity="0.52"/><circle cx="1343.0" cy="1338.4" r="1.9" fill="#8a80e0" fill-opacity="0.85"/><circle cx="1306.9" cy="1352.6" r="1.6" fill="#6a5cd4" fill-opacity="0.80"/><circle cx="1332.4" cy="1428.8" r="2.1" fill="#6a5cd4" fill-opacity="0.83"/><circle cx="1400.9" cy="1374.9" r="2.3" fill="#6a5cd4" fill-opacity="0.69"/><circle cx="1404.4" cy="1359.8" r="2.2" fill="#8a80e0" fill-opacity="0.73"/><circle cx="1299.7" cy="1343.3" r="1.6" fill="#8a80e0" fill-opacity="0.80"/><circle cx="1354.5" cy="1375.0" r="3.0" fill="#8a80e0" fill-opacity="0.63"/><circle cx="1361.9" cy="1380.7" r="1.6" fill="#7a6ddc" fill-opacity="0.58"/><circle cx="1347.8" cy="1341.7" r="3.3" fill="#5848c8" fill-opacity="0.65"/><circle cx="1396.1" cy="1339.4" r="1.9" fill="#5848c8" fill-opacity="0.75"/><circle cx="1346.0" cy="1413.6" r="2.5" fill="#6a5cd4" fill-opacity="0.47"/><circle cx="1292.2" cy="1389.3" r="1.7" fill="#6a5cd4" fill-opacity="0.73"/><circle cx="1399.0" cy="1362.7" r="3.4" fill="#8a80e0" fill-opacity="0.65"/><circle cx="1311.5" cy="1320.6" r="2.7" fill="#7a6ddc" fill-opacity="0.48"/><circle cx="1306.6" cy="1390.7" r="2.5" fill="#7a6ddc" fill-opacity="0.58"/><circle cx="1306.8" cy="1396.0" r="1.7" fill="#8a80e0" fill-opacity="0.76"/><circle cx="1362.0" cy="1371.8" r="1.5" fill="#8a80e0" fill-opacity="0.55"/><circle cx="1286.4" cy="1348.7" r="2.3" fill="#5848c8" fill-opacity="0.64"/><circle cx="1345.3" cy="1392.3" r="1.7" fill="#6a5cd4" fill-opacity="0.58"/><circle cx="1350.4" cy="1402.2" r="3.4" fill="#7a6ddc" fill-opacity="0.69"/><circle cx="1371.5" cy="1335.6" r="2.9" fill="#6a5cd4" fill-opacity="0.57"/><circle cx="1383.3" cy="1335.4" r="2.5" fill="#5848c8" fill-opacity="0.48"/><circle cx="1403.0" cy="1378.0" r="1.8" fill="#6a5cd4" fill-opacity="0.63"/><circle cx="1365.7" cy="1330.9" r="1.5" fill="#7a6ddc" fill-opacity="0.68"/><circle cx="1379.2" cy="1341.8" r="2.3" fill="#6a5cd4" fill-opacity="0.47"/><circle cx="1389.0" cy="1336.2" r="1.8" fill="#7a6ddc" fill-opacity="0.54"/><circle cx="1358.7" cy="1380.7" r="3.3" fill="#7a6ddc" fill-opacity="0.73"/><circle cx="1313.0" cy="1352.0" r="2.3" fill="#8a80e0" fill-opacity="0.53"/><circle cx="1353.3" cy="1381.5" r="2.7" fill="#6a5cd4" fill-opacity="0.61"/><circle cx="1399.5" cy="1337.6" r="2.7" fill="#6a5cd4" fill-opacity="0.77"/><circle cx="1311.1" cy="1370.3" r="3.4" fill="#7a6ddc" fill-opacity="0.66"/><circle cx="1372.5" cy="1319.0" r="1.5" fill="#5848c8" fill-opacity="0.46"/><circle cx="1357.4" cy="1406.9" r="2.1" fill="#5848c8" fill-opacity="0.50"/><circle cx="1376.4" cy="1378.8" r="1.5" fill="#7a6ddc" fill-opacity="0.53"/><circle cx="1332.6" cy="1397.1" r="2.0" fill="#5848c8" fill-opacity="0.70"/><circle cx="1344.4" cy="1314.2" r="2.3" fill="#8a80e0" fill-opacity="0.48"/><circle cx="1289.5" cy="1374.5" r="1.5" fill="#5848c8" fill-opacity="0.49"/><circle cx="1351.6" cy="1371.1" r="3.2" fill="#6a5cd4" fill-opacity="0.47"/><circle cx="1327.5" cy="1386.4" r="2.7" fill="#6a5cd4" fill-opacity="0.77"/><circle cx="1342.3" cy="1327.9" r="2.9" fill="#5848c8" fill-opacity="0.72"/><circle cx="1307.4" cy="1382.4" r="2.2" fill="#5848c8" fill-opacity="0.77"/><circle cx="1366.5" cy="1356.9" r="2.0" fill="#6a5cd4" fill-opacity="0.75"/><circle cx="1300.7" cy="1358.4" r="1.5" fill="#7a6ddc" fill-opacity="0.62"/><circle cx="1378.4" cy="1346.7" r="1.7" fill="#7a6ddc" fill-opacity="0.67"/><circle cx="1357.8" cy="1331.6" r="2.0" fill="#6a5cd4" fill-opacity="0.57"/><circle cx="1292.0" cy="1338.9" r="2.9" fill="#6a5cd4" fill-opacity="0.68"/><circle cx="1310.8" cy="1398.3" r="1.5" fill="#7a6ddc" fill-opacity="0.77"/><circle cx="1340.7" cy="1350.2" r="2.6" fill="#6a5cd4" fill-opacity="0.46"/><circle cx="1328.3" cy="1336.6" r="1.6" fill="#5848c8" fill-opacity="0.80"/><circle cx="1317.4" cy="1369.5" r="1.5" fill="#8a80e0" fill-opacity="0.66"/><circle cx="1379.1" cy="1410.8" r="3.2" fill="#7a6ddc" fill-opacity="0.57"/><circle cx="1324.2" cy="1370.8" r="1.6" fill="#6a5cd4" fill-opacity="0.52"/><circle cx="1339.9" cy="1315.7" r="3.5" fill="#8a80e0" fill-opacity="0.61"/><circle cx="1368.3" cy="1418.9" r="1.6" fill="#8a80e0" fill-opacity="0.54"/><circle cx="1302.3" cy="1341.7" r="1.6" fill="#7a6ddc" fill-opacity="0.50"/><circle cx="1368.8" cy="1347.7" r="3.0" fill="#8a80e0" fill-opacity="0.75"/><circle cx="1352.5" cy="1341.2" r="3.1" fill="#7a6ddc" fill-opacity="0.85"/><circle cx="1371.3" cy="1393.3" r="2.3" fill="#7a6ddc" fill-opacity="0.80"/><circle cx="1350.5" cy="1316.3" r="2.8" fill="#5848c8" fill-opacity="0.82"/><circle cx="1341.6" cy="1314.2" r="1.6" fill="#7a6ddc" fill-opacity="0.82"/><circle cx="1299.7" cy="1389.0" r="2.4" fill="#7a6ddc" fill-opacity="0.72"/><circle cx="1302.8" cy="1408.8" r="1.6" fill="#5848c8" fill-opacity="0.79"/></g><circle cx="1492.2" cy="1364.5" r="71.9" fill="#ebebf0" stroke="#c2c8d4" stroke-width="1.4"/><circle cx="1492.2" cy="1364.5" r="68.4" fill="none" stroke="#f5f6f9" stroke-width="3" stroke-opacity="0.6"/><circle cx="1489.2" cy="1367.5" r="62.2" fill="url(#wg14_0)" stroke="#c2c8d4" stroke-width="1.4"/><circle cx="1489.2" cy="1367.5" r="64.2" fill="none" stroke="#f7f8fa" stroke-width="1.8" stroke-opacity="0.6"/><g filter="url(#fz1)"><circle cx="1519.1" cy="1393.9" r="1.5" fill="#5848c8" fill-opacity="0.68"/><circle cx="1533.2" cy="1391.8" r="2.2" fill="#8a80e0" fill-opacity="0.71"/><circle cx="1482.3" cy="1388.6" r="1.5" fill="#5848c8" fill-opacity="0.51"/><circle cx="1486.8" cy="1371.4" r="1.7" fill="#8a80e0" fill-opacity="0.63"/><circle cx="1441.9" cy="1376.0" r="1.5" fill="#7a6ddc" fill-opacity="0.69"/><circle cx="1510.9" cy="1355.0" r="2.8" fill="#6a5cd4" fill-opacity="0.80"/><circle cx="1522.2" cy="1382.5" r="2.6" fill="#5848c8" fill-opacity="0.61"/><circle cx="1518.5" cy="1361.5" r="2.1" fill="#7a6ddc" fill-opacity="0.84"/><circle cx="1491.4" cy="1320.6" r="1.7" fill="#5848c8" fill-opacity="0.65"/><circle cx="1474.7" cy="1340.7" r="1.6" fill="#7a6ddc" fill-opacity="0.61"/><circle cx="1485.5" cy="1398.1" r="2.6" fill="#6a5cd4" fill-opacity="0.59"/><circle cx="1506.8" cy="1313.0" r="1.6" fill="#6a5cd4" fill-opacity="0.81"/><circle cx="1456.0" cy="1366.7" r="2.3" fill="#5848c8" fill-opacity="0.74"/><circle cx="1433.9" cy="1372.7" r="2.7" fill="#8a80e0" fill-opacity="0.53"/><circle cx="1525.2" cy="1377.0" r="3.4" fill="#8a80e0" fill-opacity="0.59"/><circle cx="1531.6" cy="1320.1" r="2.1" fill="#7a6ddc" fill-opacity="0.65"/><circle cx="1471.6" cy="1309.0" r="3.4" fill="#5848c8" fill-opacity="0.63"/><circle cx="1520.9" cy="1325.5" r="3.8" fill="#6a5cd4" fill-opacity="0.73"/><circle cx="1483.6" cy="1358.2" r="1.6" fill="#7a6ddc" fill-opacity="0.58"/><circle cx="1544.2" cy="1357.7" r="1.8" fill="#6a5cd4" fill-opacity="0.60"/><circle cx="1450.8" cy="1389.7" r="3.5" fill="#5848c8" fill-opacity="0.65"/><circle cx="1480.8" cy="1396.1" r="1.8" fill="#8a80e0" fill-opacity="0.79"/><circle cx="1459.2" cy="1325.0" r="1.5" fill="#8a80e0" fill-opacity="0.63"/><circle cx="1447.0" cy="1324.7" r="2.0" fill="#8a80e0" fill-opacity="0.45"/><circle cx="1501.5" cy="1400.1" r="1.5" fill="#5848c8" fill-opacity="0.74"/><circle cx="1476.7" cy="1328.6" r="1.7" fill="#7a6ddc" fill-opacity="0.66"/><circle cx="1488.4" cy="1384.6" r="2.1" fill="#8a80e0" fill-opacity="0.83"/><circle cx="1552.5" cy="1371.8" r="1.9" fill="#5848c8" fill-opacity="0.62"/><circle cx="1544.6" cy="1388.2" r="1.8" fill="#5848c8" fill-opacity="0.55"/><circle cx="1503.4" cy="1392.2" r="3.4" fill="#5848c8" fill-opacity="0.82"/><circle cx="1445.7" cy="1347.6" r="3.6" fill="#7a6ddc" fill-opacity="0.49"/><circle cx="1539.8" cy="1381.7" r="1.7" fill="#7a6ddc" fill-opacity="0.77"/><circle cx="1539.0" cy="1364.3" r="1.6" fill="#7a6ddc" fill-opacity="0.75"/><circle cx="1527.4" cy="1392.6" r="1.5" fill="#7a6ddc" fill-opacity="0.67"/><circle cx="1496.6" cy="1423.7" r="1.5" fill="#7a6ddc" fill-opacity="0.64"/><circle cx="1495.0" cy="1370.5" r="3.5" fill="#7a6ddc" fill-opacity="0.79"/><circle cx="1455.8" cy="1332.3" r="2.9" fill="#6a5cd4" fill-opacity="0.83"/><circle cx="1516.4" cy="1313.9" r="2.5" fill="#8a80e0" fill-opacity="0.53"/><circle cx="1542.7" cy="1380.0" r="1.5" fill="#6a5cd4" fill-opacity="0.55"/><circle cx="1464.3" cy="1318.3" r="2.5" fill="#5848c8" fill-opacity="0.77"/><circle cx="1524.5" cy="1367.7" r="1.5" fill="#6a5cd4" fill-opacity="0.79"/><circle cx="1460.4" cy="1400.8" r="1.5" fill="#5848c8" fill-opacity="0.63"/><circle cx="1527.5" cy="1361.6" r="2.6" fill="#5848c8" fill-opacity="0.70"/><circle cx="1529.1" cy="1372.0" r="1.5" fill="#7a6ddc" fill-opacity="0.55"/><circle cx="1476.5" cy="1331.6" r="2.4" fill="#6a5cd4" fill-opacity="0.81"/><circle cx="1504.2" cy="1324.7" r="2.3" fill="#6a5cd4" fill-opacity="0.84"/><circle cx="1490.7" cy="1363.2" r="2.9" fill="#6a5cd4" fill-opacity="0.57"/><circle cx="1512.0" cy="1395.2" r="1.5" fill="#7a6ddc" fill-opacity="0.51"/><circle cx="1498.8" cy="1346.0" r="1.6" fill="#5848c8" fill-opacity="0.67"/><circle cx="1486.5" cy="1397.2" r="1.8" fill="#8a80e0" fill-opacity="0.85"/><circle cx="1519.1" cy="1413.8" r="1.5" fill="#5848c8" fill-opacity="0.81"/><circle cx="1489.1" cy="1395.8" r="1.6" fill="#8a80e0" fill-opacity="0.63"/><circle cx="1538.5" cy="1384.0" r="2.4" fill="#5848c8" fill-opacity="0.67"/><circle cx="1456.4" cy="1331.0" r="2.1" fill="#7a6ddc" fill-opacity="0.69"/><circle cx="1495.6" cy="1312.4" r="1.8" fill="#8a80e0" fill-opacity="0.53"/><circle cx="1482.2" cy="1418.2" r="1.5" fill="#6a5cd4" fill-opacity="0.72"/><circle cx="1502.3" cy="1370.8" r="3.0" fill="#8a80e0" fill-opacity="0.84"/><circle cx="1534.2" cy="1405.3" r="2.2" fill="#7a6ddc" fill-opacity="0.52"/><circle cx="1470.9" cy="1388.6" r="1.5" fill="#8a80e0" fill-opacity="0.49"/><circle cx="1537.5" cy="1397.2" r="3.1" fill="#6a5cd4" fill-opacity="0.47"/><circle cx="1464.7" cy="1324.9" r="2.4" fill="#5848c8" fill-opacity="0.82"/><circle cx="1534.6" cy="1362.4" r="1.8" fill="#7a6ddc" fill-opacity="0.80"/><circle cx="1511.8" cy="1351.5" r="3.3" fill="#8a80e0" fill-opacity="0.78"/><circle cx="1496.5" cy="1346.9" r="2.5" fill="#8a80e0" fill-opacity="0.47"/><circle cx="1476.4" cy="1311.4" r="2.4" fill="#5848c8" fill-opacity="0.73"/><circle cx="1489.3" cy="1313.6" r="1.5" fill="#8a80e0" fill-opacity="0.61"/><circle cx="1499.2" cy="1320.6" r="2.9" fill="#5848c8" fill-opacity="0.55"/><circle cx="1470.5" cy="1388.0" r="1.7" fill="#7a6ddc" fill-opacity="0.57"/><circle cx="1437.8" cy="1388.8" r="2.6" fill="#5848c8" fill-opacity="0.64"/><circle cx="1504.8" cy="1395.9" r="1.5" fill="#6a5cd4" fill-opacity="0.51"/><circle cx="1483.9" cy="1358.2" r="2.7" fill="#7a6ddc" fill-opacity="0.45"/><circle cx="1543.6" cy="1357.8" r="2.1" fill="#6a5cd4" fill-opacity="0.71"/><circle cx="1444.1" cy="1380.1" r="2.8" fill="#8a80e0" fill-opacity="0.63"/><circle cx="1537.9" cy="1408.2" r="3.4" fill="#8a80e0" fill-opacity="0.76"/><circle cx="1498.6" cy="1364.6" r="1.5" fill="#6a5cd4" fill-opacity="0.77"/><circle cx="1533.1" cy="1381.5" r="1.7" fill="#7a6ddc" fill-opacity="0.64"/><circle cx="1465.2" cy="1323.0" r="1.6" fill="#8a80e0" fill-opacity="0.75"/><circle cx="1434.9" cy="1364.4" r="1.7" fill="#8a80e0" fill-opacity="0.61"/><circle cx="1468.1" cy="1385.5" r="2.3" fill="#6a5cd4" fill-opacity="0.56"/><circle cx="1497.6" cy="1408.7" r="1.8" fill="#8a80e0" fill-opacity="0.56"/><circle cx="1455.9" cy="1397.7" r="2.8" fill="#5848c8" fill-opacity="0.71"/><circle cx="1426.1" cy="1370.3" r="1.7" fill="#5848c8" fill-opacity="0.56"/><circle cx="1509.4" cy="1415.7" r="2.3" fill="#8a80e0" fill-opacity="0.79"/><circle cx="1493.5" cy="1310.4" r="1.9" fill="#5848c8" fill-opacity="0.84"/><circle cx="1499.8" cy="1424.4" r="3.3" fill="#5848c8" fill-opacity="0.47"/><circle cx="1477.6" cy="1353.8" r="3.2" fill="#7a6ddc" fill-opacity="0.53"/><circle cx="1454.9" cy="1407.1" r="1.6" fill="#7a6ddc" fill-opacity="0.49"/><circle cx="1538.3" cy="1330.2" r="2.2" fill="#8a80e0" fill-opacity="0.64"/><circle cx="1483.4" cy="1335.9" r="1.5" fill="#7a6ddc" fill-opacity="0.62"/><circle cx="1452.3" cy="1358.4" r="3.4" fill="#6a5cd4" fill-opacity="0.51"/><circle cx="1504.3" cy="1333.4" r="1.7" fill="#5848c8" fill-opacity="0.56"/><circle cx="1458.2" cy="1371.0" r="1.6" fill="#7a6ddc" fill-opacity="0.55"/><circle cx="1520.9" cy="1329.4" r="1.5" fill="#5848c8" fill-opacity="0.79"/><circle cx="1531.2" cy="1343.2" r="1.6" fill="#8a80e0" fill-opacity="0.66"/><circle cx="1496.9" cy="1394.9" r="2.8" fill="#5848c8" fill-opacity="0.74"/><circle cx="1491.3" cy="1392.7" r="1.7" fill="#7a6ddc" fill-opacity="0.73"/><circle cx="1462.6" cy="1396.7" r="1.5" fill="#8a80e0" fill-opacity="0.67"/><circle cx="1494.2" cy="1390.3" r="3.3" fill="#8a80e0" fill-opacity="0.78"/><circle cx="1519.1" cy="1333.5" r="3.2" fill="#7a6ddc" fill-opacity="0.80"/><circle cx="1497.2" cy="1354.4" r="3.0" fill="#7a6ddc" fill-opacity="0.50"/><circle cx="1441.0" cy="1342.3" r="1.5" fill="#5848c8" fill-opacity="0.47"/><circle cx="1451.3" cy="1394.7" r="1.8" fill="#7a6ddc" fill-opacity="0.72"/><circle cx="1449.2" cy="1388.0" r="3.7" fill="#6a5cd4" fill-opacity="0.78"/><circle cx="1522.3" cy="1358.2" r="1.8" fill="#8a80e0" fill-opacity="0.52"/><circle cx="1480.8" cy="1358.6" r="1.9" fill="#7a6ddc" fill-opacity="0.80"/><circle cx="1481.6" cy="1354.1" r="2.7" fill="#8a80e0" fill-opacity="0.50"/><circle cx="1532.3" cy="1337.9" r="1.6" fill="#8a80e0" fill-opacity="0.54"/><circle cx="1511.1" cy="1308.5" r="1.6" fill="#7a6ddc" fill-opacity="0.63"/><circle cx="1445.9" cy="1369.4" r="2.2" fill="#6a5cd4" fill-opacity="0.61"/><circle cx="1544.6" cy="1360.2" r="1.9" fill="#7a6ddc" fill-opacity="0.82"/><circle cx="1501.8" cy="1418.0" r="1.6" fill="#8a80e0" fill-opacity="0.80"/><circle cx="1431.9" cy="1349.2" r="3.4" fill="#6a5cd4" fill-opacity="0.76"/><circle cx="1468.0" cy="1374.2" r="1.9" fill="#8a80e0" fill-opacity="0.85"/><circle cx="1489.0" cy="1416.7" r="2.8" fill="#5848c8" fill-opacity="0.52"/><circle cx="1508.2" cy="1338.4" r="1.9" fill="#8a80e0" fill-opacity="0.72"/><circle cx="1503.4" cy="1352.4" r="2.0" fill="#7a6ddc" fill-opacity="0.56"/></g><circle cx="1199.2" cy="1504.7" r="71.9" fill="#e6e6ec" stroke="#c2c8d4" stroke-width="1.4"/><circle cx="1199.2" cy="1504.7" r="68.4" fill="none" stroke="#f5f6f9" stroke-width="3" stroke-opacity="0.6"/><circle cx="1203.2" cy="1507.7" r="62.2" fill="url(#wg14_1)" stroke="#c2c8d4" stroke-width="1.4"/><circle cx="1203.2" cy="1507.7" r="64.2" fill="none" stroke="#f7f8fa" stroke-width="1.8" stroke-opacity="0.6"/><g filter="url(#fz1)"><circle cx="1162.1" cy="1522.9" r="3.7" fill="#5848c8" fill-opacity="0.66"/><circle cx="1146.7" cy="1477.4" r="1.5" fill="#7a6ddc" fill-opacity="0.47"/><circle cx="1194.2" cy="1558.1" r="2.2" fill="#8a80e0" fill-opacity="0.58"/><circle cx="1230.6" cy="1520.5" r="1.6" fill="#5848c8" fill-opacity="0.65"/><circle cx="1195.1" cy="1555.8" r="2.5" fill="#5848c8" fill-opacity="0.62"/><circle cx="1250.6" cy="1469.3" r="1.6" fill="#6a5cd4" fill-opacity="0.80"/><circle cx="1244.0" cy="1510.5" r="1.4" fill="#8a80e0" fill-opacity="0.69"/><circle cx="1262.1" cy="1512.2" r="3.6" fill="#5848c8" fill-opacity="0.52"/><circle cx="1181.5" cy="1524.6" r="1.4" fill="#7a6ddc" fill-opacity="0.67"/><circle cx="1151.7" cy="1509.7" r="1.5" fill="#8a80e0" fill-opacity="0.45"/><circle cx="1194.9" cy="1555.4" r="1.9" fill="#8a80e0" fill-opacity="0.51"/><circle cx="1216.2" cy="1563.6" r="1.9" fill="#5848c8" fill-opacity="0.71"/><circle cx="1238.1" cy="1560.1" r="3.1" fill="#8a80e0" fill-opacity="0.51"/><circle cx="1160.8" cy="1513.2" r="1.9" fill="#8a80e0" fill-opacity="0.46"/><circle cx="1194.9" cy="1481.8" r="3.5" fill="#6a5cd4" fill-opacity="0.76"/><circle cx="1179.4" cy="1464.9" r="1.5" fill="#6a5cd4" fill-opacity="0.72"/><circle cx="1193.3" cy="1511.0" r="1.6" fill="#5848c8" fill-opacity="0.74"/><circle cx="1254.9" cy="1511.3" r="1.6" fill="#5848c8" fill-opacity="0.40"/><circle cx="1198.0" cy="1448.4" r="1.5" fill="#5848c8" fill-opacity="0.79"/><circle cx="1182.3" cy="1546.2" r="1.4" fill="#5848c8" fill-opacity="0.52"/><circle cx="1183.2" cy="1461.3" r="1.8" fill="#6a5cd4" fill-opacity="0.74"/><circle cx="1188.3" cy="1545.5" r="2.2" fill="#7a6ddc" fill-opacity="0.69"/><circle cx="1221.0" cy="1464.8" r="3.4" fill="#6a5cd4" fill-opacity="0.56"/><circle cx="1195.0" cy="1534.3" r="1.5" fill="#5848c8" fill-opacity="0.45"/><circle cx="1213.0" cy="1566.4" r="1.5" fill="#5848c8" fill-opacity="0.64"/><circle cx="1161.2" cy="1551.9" r="2.2" fill="#5848c8" fill-opacity="0.61"/><circle cx="1227.1" cy="1464.7" r="1.8" fill="#8a80e0" fill-opacity="0.60"/><circle cx="1157.3" cy="1523.1" r="1.5" fill="#6a5cd4" fill-opacity="0.46"/><circle cx="1235.4" cy="1555.2" r="3.5" fill="#8a80e0" fill-opacity="0.43"/><circle cx="1193.0" cy="1466.7" r="1.7" fill="#7a6ddc" fill-opacity="0.60"/><circle cx="1225.3" cy="1488.8" r="2.1" fill="#8a80e0" fill-opacity="0.79"/><circle cx="1240.3" cy="1547.5" r="1.4" fill="#8a80e0" fill-opacity="0.55"/><circle cx="1168.6" cy="1554.0" r="3.8" fill="#5848c8" fill-opacity="0.51"/><circle cx="1220.6" cy="1538.1" r="3.6" fill="#6a5cd4" fill-opacity="0.49"/><circle cx="1210.8" cy="1545.9" r="3.6" fill="#8a80e0" fill-opacity="0.72"/><circle cx="1235.2" cy="1472.7" r="2.3" fill="#7a6ddc" fill-opacity="0.56"/><circle cx="1194.8" cy="1543.3" r="2.9" fill="#5848c8" fill-opacity="0.46"/><circle cx="1170.7" cy="1452.6" r="1.4" fill="#6a5cd4" fill-opacity="0.72"/><circle cx="1184.0" cy="1498.8" r="2.8" fill="#7a6ddc" fill-opacity="0.69"/><circle cx="1204.4" cy="1569.6" r="2.3" fill="#6a5cd4" fill-opacity="0.52"/><circle cx="1239.6" cy="1542.3" r="1.8" fill="#5848c8" fill-opacity="0.66"/><circle cx="1224.5" cy="1499.4" r="1.9" fill="#5848c8" fill-opacity="0.65"/><circle cx="1206.6" cy="1453.5" r="1.4" fill="#7a6ddc" fill-opacity="0.40"/><circle cx="1144.9" cy="1517.8" r="1.4" fill="#5848c8" fill-opacity="0.64"/><circle cx="1214.3" cy="1540.0" r="2.3" fill="#7a6ddc" fill-opacity="0.74"/><circle cx="1236.1" cy="1454.8" r="2.6" fill="#6a5cd4" fill-opacity="0.72"/><circle cx="1165.3" cy="1540.0" r="2.4" fill="#7a6ddc" fill-opacity="0.60"/><circle cx="1207.7" cy="1492.8" r="2.8" fill="#5848c8" fill-opacity="0.54"/><circle cx="1258.6" cy="1484.2" r="2.6" fill="#7a6ddc" fill-opacity="0.76"/><circle cx="1181.7" cy="1540.8" r="2.0" fill="#5848c8" fill-opacity="0.65"/><circle cx="1240.9" cy="1456.3" r="2.0" fill="#5848c8" fill-opacity="0.69"/><circle cx="1215.6" cy="1517.1" r="1.4" fill="#8a80e0" fill-opacity="0.77"/><circle cx="1180.9" cy="1497.8" r="1.8" fill="#8a80e0" fill-opacity="0.62"/><circle cx="1195.0" cy="1487.0" r="2.5" fill="#6a5cd4" fill-opacity="0.43"/><circle cx="1165.2" cy="1533.0" r="2.2" fill="#8a80e0" fill-opacity="0.58"/><circle cx="1251.4" cy="1518.2" r="2.8" fill="#5848c8" fill-opacity="0.48"/><circle cx="1213.4" cy="1536.9" r="2.8" fill="#6a5cd4" fill-opacity="0.60"/><circle cx="1199.9" cy="1501.5" r="1.7" fill="#5848c8" fill-opacity="0.46"/><circle cx="1170.2" cy="1462.6" r="3.5" fill="#7a6ddc" fill-opacity="0.70"/><circle cx="1229.3" cy="1459.5" r="1.4" fill="#6a5cd4" fill-opacity="0.59"/><circle cx="1226.9" cy="1502.0" r="1.7" fill="#7a6ddc" fill-opacity="0.75"/><circle cx="1185.3" cy="1506.5" r="1.4" fill="#6a5cd4" fill-opacity="0.54"/><circle cx="1212.4" cy="1556.8" r="1.8" fill="#6a5cd4" fill-opacity="0.50"/><circle cx="1239.0" cy="1476.4" r="3.5" fill="#7a6ddc" fill-opacity="0.54"/><circle cx="1228.7" cy="1489.1" r="1.5" fill="#7a6ddc" fill-opacity="0.48"/><circle cx="1202.4" cy="1535.3" r="2.5" fill="#6a5cd4" fill-opacity="0.68"/><circle cx="1230.0" cy="1483.4" r="3.6" fill="#7a6ddc" fill-opacity="0.73"/><circle cx="1204.9" cy="1524.0" r="1.7" fill="#6a5cd4" fill-opacity="0.60"/><circle cx="1194.8" cy="1536.7" r="1.8" fill="#7a6ddc" fill-opacity="0.41"/><circle cx="1222.6" cy="1456.8" r="1.4" fill="#5848c8" fill-opacity="0.45"/><circle cx="1189.7" cy="1457.0" r="2.5" fill="#8a80e0" fill-opacity="0.70"/><circle cx="1205.0" cy="1528.5" r="1.6" fill="#8a80e0" fill-opacity="0.57"/><circle cx="1245.3" cy="1467.1" r="1.6" fill="#7a6ddc" fill-opacity="0.63"/><circle cx="1221.0" cy="1549.1" r="2.0" fill="#7a6ddc" fill-opacity="0.47"/><circle cx="1256.0" cy="1473.7" r="3.1" fill="#7a6ddc" fill-opacity="0.60"/><circle cx="1211.1" cy="1462.1" r="1.7" fill="#5848c8" fill-opacity="0.56"/><circle cx="1200.9" cy="1550.8" r="1.5" fill="#8a80e0" fill-opacity="0.78"/><circle cx="1210.9" cy="1445.5" r="1.5" fill="#8a80e0" fill-opacity="0.72"/><circle cx="1150.2" cy="1498.2" r="1.4" fill="#7a6ddc" fill-opacity="0.50"/><circle cx="1202.1" cy="1530.5" r="2.0" fill="#7a6ddc" fill-opacity="0.70"/><circle cx="1173.8" cy="1557.8" r="3.1" fill="#7a6ddc" fill-opacity="0.55"/><circle cx="1243.0" cy="1502.8" r="2.4" fill="#7a6ddc" fill-opacity="0.67"/><circle cx="1257.9" cy="1508.3" r="1.5" fill="#8a80e0" fill-opacity="0.76"/><circle cx="1260.8" cy="1500.0" r="2.3" fill="#7a6ddc" fill-opacity="0.57"/><circle cx="1170.3" cy="1539.9" r="3.0" fill="#5848c8" fill-opacity="0.66"/><circle cx="1170.5" cy="1464.3" r="1.6" fill="#8a80e0" fill-opacity="0.46"/><circle cx="1202.1" cy="1488.2" r="2.8" fill="#6a5cd4" fill-opacity="0.66"/><circle cx="1216.2" cy="1471.3" r="1.4" fill="#7a6ddc" fill-opacity="0.70"/><circle cx="1154.9" cy="1509.5" r="1.4" fill="#8a80e0" fill-opacity="0.59"/><circle cx="1204.2" cy="1467.9" r="1.9" fill="#8a80e0" fill-opacity="0.62"/><circle cx="1238.7" cy="1556.7" r="2.1" fill="#6a5cd4" fill-opacity="0.47"/><circle cx="1238.8" cy="1556.2" r="3.1" fill="#8a80e0" fill-opacity="0.53"/><circle cx="1180.7" cy="1533.8" r="3.0" fill="#8a80e0" fill-opacity="0.52"/><circle cx="1230.7" cy="1472.1" r="2.4" fill="#8a80e0" fill-opacity="0.61"/><circle cx="1197.9" cy="1511.2" r="2.1" fill="#8a80e0" fill-opacity="0.74"/><circle cx="1262.2" cy="1493.2" r="2.9" fill="#7a6ddc" fill-opacity="0.79"/><circle cx="1221.9" cy="1567.4" r="1.7" fill="#8a80e0" fill-opacity="0.59"/><circle cx="1210.4" cy="1534.0" r="2.2" fill="#7a6ddc" fill-opacity="0.77"/><circle cx="1225.9" cy="1457.0" r="1.6" fill="#8a80e0" fill-opacity="0.48"/><circle cx="1156.3" cy="1550.8" r="1.9" fill="#8a80e0" fill-opacity="0.74"/><circle cx="1207.1" cy="1504.6" r="1.4" fill="#7a6ddc" fill-opacity="0.59"/><circle cx="1202.5" cy="1520.7" r="2.2" fill="#5848c8" fill-opacity="0.64"/><circle cx="1217.8" cy="1569.4" r="2.7" fill="#6a5cd4" fill-opacity="0.72"/><circle cx="1183.5" cy="1477.5" r="1.5" fill="#8a80e0" fill-opacity="0.64"/><circle cx="1172.4" cy="1481.4" r="1.7" fill="#6a5cd4" fill-opacity="0.67"/><circle cx="1148.1" cy="1532.1" r="1.8" fill="#5848c8" fill-opacity="0.47"/><circle cx="1184.5" cy="1559.6" r="3.5" fill="#7a6ddc" fill-opacity="0.42"/><circle cx="1176.3" cy="1479.5" r="1.4" fill="#8a80e0" fill-opacity="0.71"/><circle cx="1166.0" cy="1510.4" r="2.2" fill="#7a6ddc" fill-opacity="0.78"/><circle cx="1248.0" cy="1520.7" r="2.4" fill="#6a5cd4" fill-opacity="0.70"/><circle cx="1182.3" cy="1532.6" r="1.7" fill="#8a80e0" fill-opacity="0.73"/><circle cx="1236.4" cy="1539.7" r="1.9" fill="#5848c8" fill-opacity="0.48"/><circle cx="1252.0" cy="1527.5" r="3.5" fill="#8a80e0" fill-opacity="0.74"/><circle cx="1212.6" cy="1525.6" r="2.6" fill="#7a6ddc" fill-opacity="0.56"/><circle cx="1207.3" cy="1557.9" r="1.4" fill="#8a80e0" fill-opacity="0.61"/><circle cx="1188.9" cy="1515.9" r="3.6" fill="#7a6ddc" fill-opacity="0.57"/><circle cx="1251.4" cy="1486.3" r="2.8" fill="#6a5cd4" fill-opacity="0.62"/><circle cx="1208.9" cy="1515.3" r="3.2" fill="#7a6ddc" fill-opacity="0.70"/><circle cx="1147.8" cy="1497.9" r="2.4" fill="#6a5cd4" fill-opacity="0.76"/><circle cx="1157.9" cy="1527.3" r="2.5" fill="#6a5cd4" fill-opacity="0.59"/><circle cx="1145.4" cy="1483.2" r="1.4" fill="#5848c8" fill-opacity="0.50"/><circle cx="1190.6" cy="1550.9" r="2.6" fill="#8a80e0" fill-opacity="0.46"/><circle cx="1215.6" cy="1569.7" r="1.6" fill="#6a5cd4" fill-opacity="0.41"/><circle cx="1237.4" cy="1558.1" r="1.6" fill="#7a6ddc" fill-opacity="0.65"/><circle cx="1217.9" cy="1461.0" r="2.3" fill="#6a5cd4" fill-opacity="0.66"/><circle cx="1242.7" cy="1458.6" r="2.0" fill="#8a80e0" fill-opacity="0.66"/><circle cx="1250.1" cy="1511.2" r="1.4" fill="#8a80e0" fill-opacity="0.71"/><circle cx="1245.6" cy="1478.3" r="1.6" fill="#5848c8" fill-opacity="0.63"/><circle cx="1215.4" cy="1556.9" r="2.1" fill="#5848c8" fill-opacity="0.68"/><circle cx="1172.5" cy="1509.6" r="1.6" fill="#7a6ddc" fill-opacity="0.72"/><circle cx="1215.3" cy="1456.5" r="1.5" fill="#7a6ddc" fill-opacity="0.76"/><circle cx="1241.0" cy="1481.8" r="2.0" fill="#5848c8" fill-opacity="0.53"/><circle cx="1188.9" cy="1546.4" r="1.5" fill="#5848c8" fill-opacity="0.42"/><circle cx="1210.8" cy="1571.1" r="3.1" fill="#8a80e0" fill-opacity="0.63"/><circle cx="1151.5" cy="1507.4" r="3.3" fill="#5848c8" fill-opacity="0.46"/><circle cx="1241.4" cy="1522.5" r="1.5" fill="#6a5cd4" fill-opacity="0.66"/><circle cx="1189.0" cy="1504.4" r="2.1" fill="#6a5cd4" fill-opacity="0.79"/><circle cx="1238.7" cy="1560.5" r="1.8" fill="#6a5cd4" fill-opacity="0.42"/><circle cx="1182.6" cy="1549.2" r="2.6" fill="#8a80e0" fill-opacity="0.67"/><circle cx="1260.6" cy="1511.8" r="1.6" fill="#7a6ddc" fill-opacity="0.53"/><circle cx="1164.8" cy="1510.1" r="1.7" fill="#8a80e0" fill-opacity="0.78"/><circle cx="1174.7" cy="1463.6" r="1.6" fill="#6a5cd4" fill-opacity="0.44"/><circle cx="1196.3" cy="1523.2" r="3.3" fill="#6a5cd4" fill-opacity="0.54"/><circle cx="1196.1" cy="1452.7" r="2.2" fill="#7a6ddc" fill-opacity="0.74"/><circle cx="1247.5" cy="1553.3" r="1.4" fill="#6a5cd4" fill-opacity="0.68"/><circle cx="1213.8" cy="1537.3" r="2.4" fill="#5848c8" fill-opacity="0.41"/><circle cx="1201.6" cy="1469.3" r="1.4" fill="#6a5cd4" fill-opacity="0.40"/><circle cx="1151.6" cy="1475.9" r="1.5" fill="#8a80e0" fill-opacity="0.41"/><circle cx="1174.2" cy="1468.7" r="3.3" fill="#8a80e0" fill-opacity="0.59"/><circle cx="1229.7" cy="1488.9" r="1.9" fill="#7a6ddc" fill-opacity="0.74"/><circle cx="1201.5" cy="1518.9" r="3.3" fill="#7a6ddc" fill-opacity="0.64"/><circle cx="1227.6" cy="1511.3" r="2.0" fill="#8a80e0" fill-opacity="0.50"/><circle cx="1213.1" cy="1467.4" r="2.6" fill="#5848c8" fill-opacity="0.74"/><circle cx="1178.5" cy="1558.5" r="2.9" fill="#7a6ddc" fill-opacity="0.48"/><circle cx="1171.9" cy="1562.3" r="3.4" fill="#6a5cd4" fill-opacity="0.47"/><circle cx="1245.6" cy="1459.8" r="2.2" fill="#6a5cd4" fill-opacity="0.75"/><circle cx="1149.6" cy="1473.1" r="3.2" fill="#8a80e0" fill-opacity="0.71"/><circle cx="1234.4" cy="1554.4" r="1.5" fill="#6a5cd4" fill-opacity="0.55"/><circle cx="1192.9" cy="1562.3" r="1.4" fill="#8a80e0" fill-opacity="0.76"/><circle cx="1215.1" cy="1535.6" r="1.6" fill="#7a6ddc" fill-opacity="0.73"/><circle cx="1226.8" cy="1518.6" r="1.7" fill="#7a6ddc" fill-opacity="0.54"/><circle cx="1256.2" cy="1506.5" r="2.0" fill="#5848c8" fill-opacity="0.60"/><circle cx="1195.5" cy="1568.7" r="1.7" fill="#6a5cd4" fill-opacity="0.80"/><circle cx="1161.5" cy="1523.9" r="1.4" fill="#5848c8" fill-opacity="0.44"/><circle cx="1201.5" cy="1482.7" r="1.4" fill="#7a6ddc" fill-opacity="0.41"/><circle cx="1213.7" cy="1460.1" r="1.7" fill="#7a6ddc" fill-opacity="0.55"/><circle cx="1214.8" cy="1472.7" r="1.4" fill="#7a6ddc" fill-opacity="0.47"/><circle cx="1175.9" cy="1468.1" r="1.6" fill="#6a5cd4" fill-opacity="0.54"/><circle cx="1232.8" cy="1520.9" r="1.8" fill="#6a5cd4" fill-opacity="0.48"/><circle cx="1255.6" cy="1498.2" r="2.8" fill="#8a80e0" fill-opacity="0.60"/><circle cx="1252.6" cy="1525.2" r="2.1" fill="#5848c8" fill-opacity="0.68"/><circle cx="1180.8" cy="1548.2" r="1.5" fill="#6a5cd4" fill-opacity="0.49"/><circle cx="1182.5" cy="1479.6" r="1.4" fill="#8a80e0" fill-opacity="0.63"/><circle cx="1184.1" cy="1462.1" r="2.4" fill="#7a6ddc" fill-opacity="0.73"/><circle cx="1245.6" cy="1464.8" r="1.6" fill="#8a80e0" fill-opacity="0.68"/><circle cx="1171.6" cy="1514.5" r="2.2" fill="#7a6ddc" fill-opacity="0.51"/><circle cx="1202.1" cy="1558.3" r="3.0" fill="#6a5cd4" fill-opacity="0.45"/><circle cx="1191.0" cy="1566.8" r="2.9" fill="#7a6ddc" fill-opacity="0.42"/><circle cx="1193.8" cy="1556.9" r="1.4" fill="#5848c8" fill-opacity="0.70"/><circle cx="1202.1" cy="1532.2" r="1.6" fill="#8a80e0" fill-opacity="0.50"/><circle cx="1215.3" cy="1515.7" r="1.5" fill="#5848c8" fill-opacity="0.55"/><circle cx="1260.3" cy="1485.1" r="3.4" fill="#8a80e0" fill-opacity="0.43"/><circle cx="1188.4" cy="1530.6" r="1.5" fill="#6a5cd4" fill-opacity="0.59"/><circle cx="1211.3" cy="1540.9" r="2.0" fill="#8a80e0" fill-opacity="0.46"/><circle cx="1237.9" cy="1524.8" r="1.4" fill="#7a6ddc" fill-opacity="0.61"/><circle cx="1160.6" cy="1554.9" r="1.7" fill="#5848c8" fill-opacity="0.43"/><circle cx="1149.1" cy="1493.3" r="1.5" fill="#7a6ddc" fill-opacity="0.63"/><circle cx="1158.2" cy="1520.8" r="1.4" fill="#5848c8" fill-opacity="0.52"/><circle cx="1219.8" cy="1504.5" r="1.7" fill="#5848c8" fill-opacity="0.64"/><circle cx="1235.8" cy="1455.4" r="2.4" fill="#5848c8" fill-opacity="0.41"/><circle cx="1180.0" cy="1459.6" r="2.9" fill="#6a5cd4" fill-opacity="0.75"/><circle cx="1167.3" cy="1471.8" r="1.8" fill="#5848c8" fill-opacity="0.54"/><circle cx="1187.0" cy="1480.7" r="3.0" fill="#8a80e0" fill-opacity="0.69"/></g><circle cx="1347.0" cy="1504.7" r="71.9" fill="#e6e6ec" stroke="#c2c8d4" stroke-width="1.4"/><circle cx="1347.0" cy="1504.7" r="68.4" fill="none" stroke="#f5f6f9" stroke-width="3" stroke-opacity="0.6"/><circle cx="1347.0" cy="1507.7" r="62.2" fill="url(#wg14_1)" stroke="#c2c8d4" stroke-width="1.4"/><circle cx="1347.0" cy="1507.7" r="64.2" fill="none" stroke="#f7f8fa" stroke-width="1.8" stroke-opacity="0.6"/><g filter="url(#fz1)"><circle cx="1381.0" cy="1556.6" r="1.7" fill="#6a5cd4" fill-opacity="0.60"/><circle cx="1362.5" cy="1452.9" r="1.9" fill="#5848c8" fill-opacity="0.61"/><circle cx="1306.4" cy="1536.8" r="2.2" fill="#7a6ddc" fill-opacity="0.72"/><circle cx="1384.4" cy="1481.4" r="1.6" fill="#7a6ddc" fill-opacity="0.72"/><circle cx="1312.4" cy="1536.9" r="1.5" fill="#8a80e0" fill-opacity="0.65"/><circle cx="1331.3" cy="1544.5" r="1.4" fill="#7a6ddc" fill-opacity="0.79"/><circle cx="1394.7" cy="1505.9" r="2.7" fill="#8a80e0" fill-opacity="0.73"/><circle cx="1396.1" cy="1506.5" r="1.6" fill="#8a80e0" fill-opacity="0.70"/><circle cx="1299.2" cy="1538.6" r="2.2" fill="#7a6ddc" fill-opacity="0.80"/><circle cx="1352.6" cy="1497.8" r="1.6" fill="#7a6ddc" fill-opacity="0.56"/><circle cx="1356.5" cy="1533.0" r="1.4" fill="#5848c8" fill-opacity="0.73"/><circle cx="1367.6" cy="1495.6" r="1.7" fill="#6a5cd4" fill-opacity="0.60"/><circle cx="1316.3" cy="1476.9" r="1.8" fill="#5848c8" fill-opacity="0.53"/><circle cx="1355.8" cy="1546.0" r="3.5" fill="#8a80e0" fill-opacity="0.65"/><circle cx="1349.7" cy="1485.0" r="2.0" fill="#5848c8" fill-opacity="0.48"/><circle cx="1403.4" cy="1526.9" r="2.4" fill="#8a80e0" fill-opacity="0.51"/><circle cx="1328.6" cy="1558.1" r="2.8" fill="#6a5cd4" fill-opacity="0.46"/><circle cx="1305.8" cy="1543.2" r="1.9" fill="#7a6ddc" fill-opacity="0.68"/><circle cx="1311.0" cy="1555.6" r="2.2" fill="#5848c8" fill-opacity="0.75"/><circle cx="1400.3" cy="1501.1" r="3.5" fill="#5848c8" fill-opacity="0.64"/><circle cx="1394.5" cy="1464.7" r="1.4" fill="#7a6ddc" fill-opacity="0.79"/><circle cx="1366.1" cy="1514.7" r="1.7" fill="#5848c8" fill-opacity="0.65"/><circle cx="1325.6" cy="1458.8" r="3.1" fill="#6a5cd4" fill-opacity="0.49"/><circle cx="1380.7" cy="1535.7" r="1.4" fill="#5848c8" fill-opacity="0.74"/><circle cx="1381.0" cy="1486.4" r="1.5" fill="#5848c8" fill-opacity="0.72"/><circle cx="1325.7" cy="1494.5" r="1.7" fill="#6a5cd4" fill-opacity="0.76"/><circle cx="1393.9" cy="1539.4" r="2.2" fill="#6a5cd4" fill-opacity="0.64"/><circle cx="1346.2" cy="1526.9" r="2.6" fill="#8a80e0" fill-opacity="0.79"/><circle cx="1328.7" cy="1523.0" r="1.7" fill="#7a6ddc" fill-opacity="0.78"/><circle cx="1314.7" cy="1491.7" r="1.4" fill="#8a80e0" fill-opacity="0.60"/><circle cx="1319.2" cy="1487.1" r="1.9" fill="#7a6ddc" fill-opacity="0.46"/><circle cx="1343.5" cy="1456.6" r="3.0" fill="#5848c8" fill-opacity="0.65"/><circle cx="1288.0" cy="1515.4" r="1.6" fill="#7a6ddc" fill-opacity="0.56"/><circle cx="1356.5" cy="1445.2" r="2.0" fill="#8a80e0" fill-opacity="0.70"/><circle cx="1323.1" cy="1494.6" r="3.5" fill="#6a5cd4" fill-opacity="0.58"/><circle cx="1398.6" cy="1502.7" r="2.3" fill="#8a80e0" fill-opacity="0.74"/><circle cx="1363.4" cy="1564.8" r="1.8" fill="#7a6ddc" fill-opacity="0.75"/><circle cx="1342.6" cy="1492.4" r="1.6" fill="#8a80e0" fill-opacity="0.75"/><circle cx="1301.9" cy="1467.1" r="1.6" fill="#5848c8" fill-opacity="0.47"/><circle cx="1340.3" cy="1493.5" r="1.4" fill="#5848c8" fill-opacity="0.47"/><circle cx="1342.5" cy="1558.5" r="1.8" fill="#5848c8" fill-opacity="0.80"/><circle cx="1376.1" cy="1477.1" r="3.3" fill="#7a6ddc" fill-opacity="0.64"/><circle cx="1315.0" cy="1557.2" r="1.6" fill="#7a6ddc" fill-opacity="0.71"/><circle cx="1361.7" cy="1557.4" r="1.4" fill="#6a5cd4" fill-opacity="0.76"/><circle cx="1290.9" cy="1527.5" r="1.6" fill="#8a80e0" fill-opacity="0.42"/><circle cx="1320.8" cy="1516.3" r="3.3" fill="#7a6ddc" fill-opacity="0.74"/><circle cx="1375.2" cy="1475.1" r="2.2" fill="#7a6ddc" fill-opacity="0.73"/><circle cx="1314.0" cy="1535.3" r="2.7" fill="#6a5cd4" fill-opacity="0.73"/><circle cx="1304.5" cy="1463.3" r="2.2" fill="#7a6ddc" fill-opacity="0.77"/><circle cx="1366.8" cy="1469.7" r="2.9" fill="#6a5cd4" fill-opacity="0.73"/><circle cx="1352.1" cy="1456.5" r="1.5" fill="#5848c8" fill-opacity="0.69"/><circle cx="1319.3" cy="1563.3" r="1.4" fill="#8a80e0" fill-opacity="0.62"/><circle cx="1308.7" cy="1499.9" r="1.5" fill="#7a6ddc" fill-opacity="0.51"/><circle cx="1345.4" cy="1545.3" r="2.0" fill="#8a80e0" fill-opacity="0.47"/><circle cx="1323.3" cy="1554.3" r="2.2" fill="#6a5cd4" fill-opacity="0.67"/><circle cx="1346.8" cy="1544.4" r="3.2" fill="#7a6ddc" fill-opacity="0.42"/><circle cx="1405.4" cy="1518.3" r="2.6" fill="#7a6ddc" fill-opacity="0.48"/><circle cx="1306.5" cy="1542.1" r="1.6" fill="#8a80e0" fill-opacity="0.44"/><circle cx="1368.8" cy="1497.7" r="1.4" fill="#5848c8" fill-opacity="0.69"/><circle cx="1332.7" cy="1550.8" r="2.6" fill="#6a5cd4" fill-opacity="0.79"/><circle cx="1297.8" cy="1497.4" r="1.7" fill="#6a5cd4" fill-opacity="0.68"/><circle cx="1313.1" cy="1557.1" r="2.4" fill="#7a6ddc" fill-opacity="0.70"/><circle cx="1358.6" cy="1450.8" r="1.4" fill="#6a5cd4" fill-opacity="0.70"/><circle cx="1389.4" cy="1465.4" r="2.4" fill="#8a80e0" fill-opacity="0.46"/><circle cx="1379.9" cy="1533.0" r="1.6" fill="#7a6ddc" fill-opacity="0.70"/><circle cx="1348.8" cy="1547.1" r="3.1" fill="#6a5cd4" fill-opacity="0.41"/><circle cx="1334.9" cy="1549.1" r="1.7" fill="#5848c8" fill-opacity="0.50"/><circle cx="1323.0" cy="1513.4" r="2.3" fill="#6a5cd4" fill-opacity="0.43"/><circle cx="1405.1" cy="1516.2" r="2.2" fill="#6a5cd4" fill-opacity="0.70"/><circle cx="1385.4" cy="1484.0" r="1.7" fill="#8a80e0" fill-opacity="0.71"/><circle cx="1402.7" cy="1496.8" r="2.1" fill="#6a5cd4" fill-opacity="0.56"/><circle cx="1381.2" cy="1540.2" r="3.5" fill="#7a6ddc" fill-opacity="0.72"/><circle cx="1400.7" cy="1533.8" r="1.5" fill="#7a6ddc" fill-opacity="0.62"/><circle cx="1323.3" cy="1456.9" r="3.4" fill="#6a5cd4" fill-opacity="0.42"/><circle cx="1375.8" cy="1542.6" r="1.9" fill="#6a5cd4" fill-opacity="0.62"/><circle cx="1369.2" cy="1500.6" r="3.5" fill="#7a6ddc" fill-opacity="0.52"/><circle cx="1341.6" cy="1491.6" r="1.5" fill="#6a5cd4" fill-opacity="0.73"/><circle cx="1388.6" cy="1549.8" r="1.7" fill="#5848c8" fill-opacity="0.50"/><circle cx="1311.2" cy="1468.4" r="3.1" fill="#8a80e0" fill-opacity="0.79"/><circle cx="1400.4" cy="1505.5" r="2.9" fill="#7a6ddc" fill-opacity="0.63"/><circle cx="1358.6" cy="1507.6" r="2.5" fill="#6a5cd4" fill-opacity="0.73"/><circle cx="1373.7" cy="1478.7" r="1.5" fill="#8a80e0" fill-opacity="0.49"/><circle cx="1379.2" cy="1547.6" r="2.2" fill="#8a80e0" fill-opacity="0.71"/><circle cx="1398.2" cy="1532.9" r="2.3" fill="#6a5cd4" fill-opacity="0.73"/><circle cx="1296.6" cy="1490.6" r="3.1" fill="#5848c8" fill-opacity="0.43"/><circle cx="1341.9" cy="1532.5" r="2.1" fill="#7a6ddc" fill-opacity="0.49"/><circle cx="1398.6" cy="1494.9" r="3.7" fill="#5848c8" fill-opacity="0.52"/><circle cx="1290.5" cy="1522.0" r="2.8" fill="#7a6ddc" fill-opacity="0.44"/><circle cx="1376.7" cy="1537.9" r="2.5" fill="#8a80e0" fill-opacity="0.76"/><circle cx="1326.0" cy="1543.7" r="3.5" fill="#6a5cd4" fill-opacity="0.79"/><circle cx="1395.2" cy="1475.4" r="1.4" fill="#6a5cd4" fill-opacity="0.63"/><circle cx="1314.7" cy="1541.9" r="2.9" fill="#8a80e0" fill-opacity="0.46"/><circle cx="1357.1" cy="1491.6" r="2.6" fill="#6a5cd4" fill-opacity="0.53"/><circle cx="1299.9" cy="1482.4" r="2.4" fill="#5848c8" fill-opacity="0.64"/><circle cx="1370.5" cy="1472.3" r="2.3" fill="#5848c8" fill-opacity="0.46"/><circle cx="1341.9" cy="1467.7" r="3.0" fill="#6a5cd4" fill-opacity="0.52"/><circle cx="1320.7" cy="1467.2" r="3.2" fill="#6a5cd4" fill-opacity="0.56"/><circle cx="1402.6" cy="1492.6" r="1.8" fill="#6a5cd4" fill-opacity="0.43"/><circle cx="1296.0" cy="1539.6" r="2.9" fill="#7a6ddc" fill-opacity="0.58"/><circle cx="1334.9" cy="1482.6" r="2.7" fill="#8a80e0" fill-opacity="0.57"/><circle cx="1284.5" cy="1505.9" r="2.9" fill="#7a6ddc" fill-opacity="0.48"/><circle cx="1289.3" cy="1523.0" r="1.8" fill="#6a5cd4" fill-opacity="0.78"/><circle cx="1304.2" cy="1520.6" r="1.7" fill="#6a5cd4" fill-opacity="0.60"/><circle cx="1287.9" cy="1518.2" r="2.7" fill="#5848c8" fill-opacity="0.42"/><circle cx="1407.0" cy="1510.4" r="1.9" fill="#6a5cd4" fill-opacity="0.55"/><circle cx="1334.0" cy="1540.3" r="2.0" fill="#6a5cd4" fill-opacity="0.69"/><circle cx="1301.2" cy="1545.4" r="2.9" fill="#7a6ddc" fill-opacity="0.49"/><circle cx="1348.6" cy="1566.3" r="1.5" fill="#7a6ddc" fill-opacity="0.49"/><circle cx="1314.3" cy="1523.0" r="2.6" fill="#6a5cd4" fill-opacity="0.76"/><circle cx="1303.0" cy="1475.9" r="3.4" fill="#8a80e0" fill-opacity="0.61"/><circle cx="1373.0" cy="1458.8" r="1.4" fill="#7a6ddc" fill-opacity="0.41"/><circle cx="1377.3" cy="1466.8" r="1.6" fill="#7a6ddc" fill-opacity="0.58"/><circle cx="1407.7" cy="1508.7" r="1.5" fill="#8a80e0" fill-opacity="0.49"/><circle cx="1387.3" cy="1522.9" r="1.5" fill="#5848c8" fill-opacity="0.53"/><circle cx="1375.4" cy="1472.5" r="1.5" fill="#5848c8" fill-opacity="0.41"/><circle cx="1324.6" cy="1464.2" r="1.8" fill="#5848c8" fill-opacity="0.45"/><circle cx="1391.3" cy="1464.8" r="2.5" fill="#7a6ddc" fill-opacity="0.71"/><circle cx="1296.1" cy="1498.5" r="1.4" fill="#5848c8" fill-opacity="0.58"/><circle cx="1289.2" cy="1483.8" r="2.2" fill="#6a5cd4" fill-opacity="0.53"/><circle cx="1338.0" cy="1501.0" r="2.7" fill="#5848c8" fill-opacity="0.59"/><circle cx="1331.6" cy="1515.1" r="2.4" fill="#8a80e0" fill-opacity="0.45"/><circle cx="1330.8" cy="1524.8" r="1.4" fill="#5848c8" fill-opacity="0.80"/><circle cx="1287.0" cy="1507.1" r="1.8" fill="#8a80e0" fill-opacity="0.55"/><circle cx="1366.0" cy="1516.8" r="1.5" fill="#7a6ddc" fill-opacity="0.67"/><circle cx="1387.5" cy="1548.1" r="2.0" fill="#8a80e0" fill-opacity="0.70"/><circle cx="1340.8" cy="1497.8" r="1.4" fill="#8a80e0" fill-opacity="0.79"/><circle cx="1294.6" cy="1487.9" r="1.6" fill="#8a80e0" fill-opacity="0.60"/><circle cx="1299.6" cy="1514.6" r="2.1" fill="#6a5cd4" fill-opacity="0.54"/><circle cx="1309.1" cy="1464.7" r="1.4" fill="#8a80e0" fill-opacity="0.77"/><circle cx="1308.0" cy="1470.7" r="3.7" fill="#7a6ddc" fill-opacity="0.66"/><circle cx="1324.9" cy="1463.1" r="1.8" fill="#8a80e0" fill-opacity="0.49"/><circle cx="1344.5" cy="1502.9" r="3.7" fill="#7a6ddc" fill-opacity="0.55"/><circle cx="1406.6" cy="1522.4" r="3.5" fill="#6a5cd4" fill-opacity="0.69"/><circle cx="1347.2" cy="1493.8" r="3.3" fill="#8a80e0" fill-opacity="0.51"/><circle cx="1388.1" cy="1474.2" r="2.7" fill="#5848c8" fill-opacity="0.51"/><circle cx="1296.2" cy="1485.1" r="2.3" fill="#5848c8" fill-opacity="0.70"/><circle cx="1321.5" cy="1543.8" r="1.6" fill="#5848c8" fill-opacity="0.79"/><circle cx="1340.1" cy="1507.3" r="3.0" fill="#7a6ddc" fill-opacity="0.48"/><circle cx="1379.6" cy="1455.4" r="3.7" fill="#7a6ddc" fill-opacity="0.64"/><circle cx="1374.0" cy="1471.5" r="3.5" fill="#6a5cd4" fill-opacity="0.41"/><circle cx="1400.7" cy="1494.6" r="2.8" fill="#6a5cd4" fill-opacity="0.73"/><circle cx="1395.8" cy="1478.4" r="3.4" fill="#8a80e0" fill-opacity="0.63"/><circle cx="1317.0" cy="1469.8" r="1.4" fill="#8a80e0" fill-opacity="0.65"/><circle cx="1298.6" cy="1500.3" r="1.5" fill="#6a5cd4" fill-opacity="0.53"/><circle cx="1347.4" cy="1541.2" r="3.4" fill="#7a6ddc" fill-opacity="0.78"/><circle cx="1345.4" cy="1524.3" r="1.9" fill="#6a5cd4" fill-opacity="0.60"/><circle cx="1368.5" cy="1540.6" r="1.5" fill="#5848c8" fill-opacity="0.41"/><circle cx="1398.0" cy="1530.1" r="1.8" fill="#7a6ddc" fill-opacity="0.60"/><circle cx="1307.1" cy="1476.3" r="2.8" fill="#7a6ddc" fill-opacity="0.70"/><circle cx="1378.7" cy="1530.9" r="1.9" fill="#8a80e0" fill-opacity="0.56"/><circle cx="1373.6" cy="1513.4" r="2.8" fill="#5848c8" fill-opacity="0.59"/><circle cx="1310.3" cy="1494.9" r="3.3" fill="#5848c8" fill-opacity="0.70"/><circle cx="1331.4" cy="1517.7" r="3.7" fill="#6a5cd4" fill-opacity="0.54"/><circle cx="1307.4" cy="1539.3" r="3.6" fill="#6a5cd4" fill-opacity="0.70"/><circle cx="1366.7" cy="1504.9" r="1.6" fill="#6a5cd4" fill-opacity="0.73"/><circle cx="1387.0" cy="1460.9" r="2.6" fill="#8a80e0" fill-opacity="0.65"/><circle cx="1305.2" cy="1464.9" r="1.6" fill="#5848c8" fill-opacity="0.47"/><circle cx="1356.7" cy="1522.8" r="3.5" fill="#7a6ddc" fill-opacity="0.44"/><circle cx="1370.2" cy="1472.5" r="2.0" fill="#7a6ddc" fill-opacity="0.80"/><circle cx="1398.1" cy="1504.3" r="1.6" fill="#6a5cd4" fill-opacity="0.62"/><circle cx="1367.3" cy="1560.0" r="1.8" fill="#7a6ddc" fill-opacity="0.42"/><circle cx="1344.7" cy="1479.8" r="1.7" fill="#5848c8" fill-opacity="0.49"/><circle cx="1325.0" cy="1559.0" r="2.3" fill="#6a5cd4" fill-opacity="0.54"/><circle cx="1331.2" cy="1452.1" r="1.7" fill="#5848c8" fill-opacity="0.41"/><circle cx="1395.5" cy="1529.5" r="1.4" fill="#5848c8" fill-opacity="0.80"/><circle cx="1343.2" cy="1449.5" r="3.1" fill="#5848c8" fill-opacity="0.48"/><circle cx="1361.3" cy="1545.6" r="3.0" fill="#7a6ddc" fill-opacity="0.56"/><circle cx="1374.3" cy="1542.6" r="3.5" fill="#7a6ddc" fill-opacity="0.62"/><circle cx="1374.5" cy="1489.2" r="2.9" fill="#8a80e0" fill-opacity="0.58"/><circle cx="1408.9" cy="1512.6" r="1.8" fill="#7a6ddc" fill-opacity="0.67"/><circle cx="1373.8" cy="1507.3" r="2.8" fill="#8a80e0" fill-opacity="0.42"/><circle cx="1321.8" cy="1494.5" r="2.6" fill="#8a80e0" fill-opacity="0.55"/><circle cx="1362.5" cy="1567.4" r="1.5" fill="#6a5cd4" fill-opacity="0.44"/><circle cx="1354.5" cy="1547.5" r="2.1" fill="#6a5cd4" fill-opacity="0.79"/><circle cx="1304.5" cy="1475.9" r="1.4" fill="#8a80e0" fill-opacity="0.52"/><circle cx="1318.4" cy="1466.1" r="3.5" fill="#5848c8" fill-opacity="0.74"/><circle cx="1342.5" cy="1464.4" r="2.8" fill="#6a5cd4" fill-opacity="0.57"/><circle cx="1370.0" cy="1473.5" r="1.8" fill="#7a6ddc" fill-opacity="0.53"/><circle cx="1343.7" cy="1516.4" r="1.5" fill="#6a5cd4" fill-opacity="0.80"/><circle cx="1366.3" cy="1528.0" r="1.4" fill="#7a6ddc" fill-opacity="0.64"/><circle cx="1312.7" cy="1531.0" r="2.4" fill="#5848c8" fill-opacity="0.45"/><circle cx="1365.8" cy="1493.5" r="2.6" fill="#8a80e0" fill-opacity="0.57"/><circle cx="1333.6" cy="1513.5" r="1.5" fill="#7a6ddc" fill-opacity="0.66"/><circle cx="1338.7" cy="1527.7" r="1.8" fill="#7a6ddc" fill-opacity="0.54"/><circle cx="1359.3" cy="1543.1" r="2.4" fill="#6a5cd4" fill-opacity="0.57"/><circle cx="1315.6" cy="1473.8" r="1.9" fill="#5848c8" fill-opacity="0.77"/><circle cx="1373.8" cy="1534.3" r="2.7" fill="#7a6ddc" fill-opacity="0.61"/><circle cx="1369.1" cy="1520.5" r="3.4" fill="#5848c8" fill-opacity="0.42"/><circle cx="1359.3" cy="1518.2" r="3.5" fill="#5848c8" fill-opacity="0.41"/><circle cx="1314.6" cy="1525.2" r="1.5" fill="#6a5cd4" fill-opacity="0.72"/><circle cx="1400.9" cy="1519.3" r="3.2" fill="#6a5cd4" fill-opacity="0.65"/><circle cx="1373.0" cy="1474.4" r="1.6" fill="#8a80e0" fill-opacity="0.75"/><circle cx="1383.1" cy="1497.4" r="3.5" fill="#8a80e0" fill-opacity="0.68"/><circle cx="1376.6" cy="1478.8" r="1.4" fill="#7a6ddc" fill-opacity="0.42"/><circle cx="1326.9" cy="1500.5" r="3.5" fill="#8a80e0" fill-opacity="0.49"/><circle cx="1303.3" cy="1478.5" r="2.3" fill="#8a80e0" fill-opacity="0.61"/><circle cx="1325.6" cy="1476.3" r="2.1" fill="#5848c8" fill-opacity="0.47"/><circle cx="1325.7" cy="1450.3" r="2.0" fill="#6a5cd4" fill-opacity="0.51"/><circle cx="1402.0" cy="1513.9" r="3.2" fill="#6a5cd4" fill-opacity="0.56"/><circle cx="1338.3" cy="1453.3" r="2.3" fill="#6a5cd4" fill-opacity="0.46"/><circle cx="1389.1" cy="1514.6" r="2.0" fill="#7a6ddc" fill-opacity="0.40"/><circle cx="1316.9" cy="1509.8" r="1.5" fill="#6a5cd4" fill-opacity="0.58"/><circle cx="1348.7" cy="1523.0" r="1.4" fill="#6a5cd4" fill-opacity="0.79"/><circle cx="1328.9" cy="1450.3" r="1.7" fill="#5848c8" fill-opacity="0.45"/><circle cx="1312.3" cy="1497.3" r="2.0" fill="#8a80e0" fill-opacity="0.68"/><circle cx="1310.5" cy="1467.8" r="3.3" fill="#7a6ddc" fill-opacity="0.61"/><circle cx="1298.1" cy="1502.6" r="1.4" fill="#5848c8" fill-opacity="0.56"/><circle cx="1327.9" cy="1519.7" r="1.4" fill="#5848c8" fill-opacity="0.79"/><circle cx="1289.6" cy="1510.7" r="1.9" fill="#8a80e0" fill-opacity="0.72"/><circle cx="1362.0" cy="1466.4" r="2.4" fill="#6a5cd4" fill-opacity="0.67"/></g><circle cx="1492.2" cy="1504.7" r="71.9" fill="#e6e6ec" stroke="#c2c8d4" stroke-width="1.4"/><circle cx="1492.2" cy="1504.7" r="68.4" fill="none" stroke="#f5f6f9" stroke-width="3" stroke-opacity="0.6"/><circle cx="1489.2" cy="1507.7" r="62.2" fill="url(#wg14_1)" stroke="#c2c8d4" stroke-width="1.4"/><circle cx="1489.2" cy="1507.7" r="64.2" fill="none" stroke="#f7f8fa" stroke-width="1.8" stroke-opacity="0.6"/><g filter="url(#fz1)"><circle cx="1447.6" cy="1543.5" r="3.2" fill="#6a5cd4" fill-opacity="0.69"/><circle cx="1484.5" cy="1528.8" r="2.4" fill="#8a80e0" fill-opacity="0.69"/><circle cx="1480.8" cy="1511.0" r="1.7" fill="#7a6ddc" fill-opacity="0.68"/><circle cx="1429.0" cy="1498.4" r="2.0" fill="#7a6ddc" fill-opacity="0.57"/><circle cx="1543.3" cy="1489.1" r="1.5" fill="#7a6ddc" fill-opacity="0.68"/><circle cx="1540.5" cy="1538.2" r="2.0" fill="#7a6ddc" fill-opacity="0.43"/><circle cx="1473.0" cy="1554.8" r="1.4" fill="#7a6ddc" fill-opacity="0.46"/><circle cx="1498.0" cy="1525.7" r="2.1" fill="#7a6ddc" fill-opacity="0.67"/><circle cx="1506.1" cy="1530.8" r="2.0" fill="#5848c8" fill-opacity="0.46"/><circle cx="1471.4" cy="1497.1" r="1.4" fill="#5848c8" fill-opacity="0.52"/><circle cx="1511.2" cy="1533.9" r="2.2" fill="#7a6ddc" fill-opacity="0.57"/><circle cx="1476.1" cy="1487.3" r="1.5" fill="#5848c8" fill-opacity="0.75"/><circle cx="1514.5" cy="1524.6" r="2.0" fill="#7a6ddc" fill-opacity="0.67"/><circle cx="1468.1" cy="1498.2" r="2.1" fill="#7a6ddc" fill-opacity="0.70"/><circle cx="1487.7" cy="1528.0" r="3.2" fill="#8a80e0" fill-opacity="0.49"/><circle cx="1492.3" cy="1571.0" r="3.1" fill="#5848c8" fill-opacity="0.77"/><circle cx="1436.9" cy="1527.9" r="3.6" fill="#5848c8" fill-opacity="0.56"/><circle cx="1442.0" cy="1490.2" r="2.1" fill="#5848c8" fill-opacity="0.61"/><circle cx="1482.3" cy="1507.1" r="3.4" fill="#8a80e0" fill-opacity="0.46"/><circle cx="1496.8" cy="1465.0" r="2.9" fill="#5848c8" fill-opacity="0.80"/><circle cx="1459.5" cy="1536.2" r="1.4" fill="#7a6ddc" fill-opacity="0.47"/><circle cx="1456.5" cy="1546.9" r="2.4" fill="#7a6ddc" fill-opacity="0.50"/><circle cx="1453.5" cy="1540.0" r="3.1" fill="#8a80e0" fill-opacity="0.42"/><circle cx="1524.2" cy="1474.8" r="2.1" fill="#5848c8" fill-opacity="0.60"/><circle cx="1460.3" cy="1484.8" r="2.0" fill="#5848c8" fill-opacity="0.69"/><circle cx="1503.6" cy="1530.2" r="1.7" fill="#6a5cd4" fill-opacity="0.77"/><circle cx="1493.4" cy="1532.1" r="3.7" fill="#8a80e0" fill-opacity="0.44"/><circle cx="1452.9" cy="1494.2" r="3.3" fill="#5848c8" fill-opacity="0.41"/><circle cx="1472.8" cy="1523.5" r="1.9" fill="#7a6ddc" fill-opacity="0.78"/><circle cx="1509.4" cy="1454.8" r="1.5" fill="#7a6ddc" fill-opacity="0.75"/><circle cx="1480.8" cy="1481.2" r="3.8" fill="#7a6ddc" fill-opacity="0.62"/><circle cx="1460.2" cy="1473.9" r="1.5" fill="#5848c8" fill-opacity="0.61"/><circle cx="1491.3" cy="1482.5" r="3.5" fill="#5848c8" fill-opacity="0.68"/><circle cx="1461.0" cy="1487.0" r="2.9" fill="#5848c8" fill-opacity="0.49"/><circle cx="1442.1" cy="1509.4" r="1.5" fill="#8a80e0" fill-opacity="0.43"/><circle cx="1540.2" cy="1501.2" r="2.9" fill="#6a5cd4" fill-opacity="0.73"/><circle cx="1438.5" cy="1510.6" r="1.6" fill="#5848c8" fill-opacity="0.43"/><circle cx="1443.7" cy="1519.1" r="1.4" fill="#6a5cd4" fill-opacity="0.67"/><circle cx="1519.2" cy="1512.2" r="1.8" fill="#8a80e0" fill-opacity="0.68"/><circle cx="1508.9" cy="1463.6" r="2.6" fill="#8a80e0" fill-opacity="0.53"/><circle cx="1511.9" cy="1479.4" r="2.8" fill="#6a5cd4" fill-opacity="0.68"/><circle cx="1486.6" cy="1525.7" r="3.7" fill="#6a5cd4" fill-opacity="0.74"/><circle cx="1517.8" cy="1495.1" r="2.1" fill="#5848c8" fill-opacity="0.55"/><circle cx="1458.8" cy="1479.3" r="3.2" fill="#5848c8" fill-opacity="0.44"/><circle cx="1445.1" cy="1551.3" r="2.4" fill="#8a80e0" fill-opacity="0.45"/><circle cx="1500.7" cy="1555.9" r="1.6" fill="#5848c8" fill-opacity="0.66"/><circle cx="1531.5" cy="1482.4" r="2.1" fill="#6a5cd4" fill-opacity="0.69"/><circle cx="1472.8" cy="1479.7" r="2.3" fill="#7a6ddc" fill-opacity="0.46"/><circle cx="1525.4" cy="1553.1" r="1.4" fill="#7a6ddc" fill-opacity="0.49"/><circle cx="1527.9" cy="1546.9" r="2.2" fill="#5848c8" fill-opacity="0.43"/><circle cx="1492.5" cy="1472.3" r="3.6" fill="#5848c8" fill-opacity="0.66"/><circle cx="1530.1" cy="1484.3" r="3.0" fill="#5848c8" fill-opacity="0.48"/><circle cx="1476.4" cy="1493.1" r="3.8" fill="#5848c8" fill-opacity="0.46"/><circle cx="1445.4" cy="1477.6" r="2.5" fill="#7a6ddc" fill-opacity="0.57"/><circle cx="1472.4" cy="1552.1" r="1.4" fill="#5848c8" fill-opacity="0.48"/><circle cx="1475.7" cy="1478.6" r="2.6" fill="#5848c8" fill-opacity="0.61"/><circle cx="1462.8" cy="1494.2" r="1.5" fill="#6a5cd4" fill-opacity="0.60"/><circle cx="1503.6" cy="1564.1" r="3.3" fill="#5848c8" fill-opacity="0.53"/><circle cx="1502.2" cy="1516.9" r="3.7" fill="#7a6ddc" fill-opacity="0.43"/><circle cx="1496.0" cy="1454.4" r="1.4" fill="#7a6ddc" fill-opacity="0.66"/><circle cx="1538.3" cy="1516.5" r="1.6" fill="#7a6ddc" fill-opacity="0.65"/><circle cx="1529.5" cy="1504.2" r="3.4" fill="#5848c8" fill-opacity="0.55"/><circle cx="1470.6" cy="1548.9" r="2.2" fill="#8a80e0" fill-opacity="0.61"/><circle cx="1497.1" cy="1470.3" r="1.7" fill="#6a5cd4" fill-opacity="0.70"/><circle cx="1464.1" cy="1463.8" r="1.5" fill="#7a6ddc" fill-opacity="0.44"/><circle cx="1450.3" cy="1473.4" r="1.8" fill="#5848c8" fill-opacity="0.72"/><circle cx="1538.2" cy="1483.2" r="2.1" fill="#6a5cd4" fill-opacity="0.59"/><circle cx="1455.1" cy="1531.8" r="3.6" fill="#5848c8" fill-opacity="0.69"/><circle cx="1481.2" cy="1496.8" r="1.4" fill="#7a6ddc" fill-opacity="0.52"/><circle cx="1452.8" cy="1464.4" r="1.8" fill="#8a80e0" fill-opacity="0.41"/><circle cx="1508.5" cy="1557.8" r="1.4" fill="#7a6ddc" fill-opacity="0.45"/><circle cx="1436.7" cy="1513.9" r="1.4" fill="#8a80e0" fill-opacity="0.43"/><circle cx="1439.5" cy="1516.5" r="1.5" fill="#6a5cd4" fill-opacity="0.56"/><circle cx="1510.4" cy="1490.0" r="1.6" fill="#5848c8" fill-opacity="0.65"/><circle cx="1505.2" cy="1499.8" r="3.3" fill="#7a6ddc" fill-opacity="0.68"/><circle cx="1458.3" cy="1469.7" r="1.6" fill="#8a80e0" fill-opacity="0.41"/><circle cx="1428.2" cy="1512.1" r="1.4" fill="#6a5cd4" fill-opacity="0.43"/><circle cx="1441.0" cy="1547.3" r="2.1" fill="#5848c8" fill-opacity="0.55"/><circle cx="1452.0" cy="1464.1" r="1.4" fill="#7a6ddc" fill-opacity="0.50"/><circle cx="1481.3" cy="1538.4" r="3.6" fill="#5848c8" fill-opacity="0.43"/><circle cx="1531.0" cy="1460.6" r="3.0" fill="#6a5cd4" fill-opacity="0.53"/><circle cx="1524.1" cy="1557.8" r="2.6" fill="#6a5cd4" fill-opacity="0.59"/><circle cx="1502.2" cy="1539.2" r="3.8" fill="#5848c8" fill-opacity="0.79"/><circle cx="1462.9" cy="1485.2" r="2.4" fill="#7a6ddc" fill-opacity="0.51"/><circle cx="1443.7" cy="1541.2" r="2.2" fill="#8a80e0" fill-opacity="0.64"/><circle cx="1466.4" cy="1522.9" r="2.0" fill="#8a80e0" fill-opacity="0.40"/><circle cx="1459.2" cy="1458.2" r="3.0" fill="#5848c8" fill-opacity="0.55"/><circle cx="1463.6" cy="1527.1" r="2.8" fill="#5848c8" fill-opacity="0.48"/><circle cx="1486.5" cy="1557.1" r="1.4" fill="#7a6ddc" fill-opacity="0.59"/><circle cx="1460.4" cy="1556.9" r="1.8" fill="#8a80e0" fill-opacity="0.51"/><circle cx="1452.0" cy="1540.7" r="1.9" fill="#7a6ddc" fill-opacity="0.57"/><circle cx="1482.1" cy="1499.8" r="2.2" fill="#6a5cd4" fill-opacity="0.51"/><circle cx="1491.3" cy="1496.1" r="3.1" fill="#6a5cd4" fill-opacity="0.62"/><circle cx="1457.3" cy="1522.1" r="3.7" fill="#5848c8" fill-opacity="0.52"/><circle cx="1480.5" cy="1499.9" r="1.4" fill="#5848c8" fill-opacity="0.57"/><circle cx="1525.7" cy="1482.8" r="2.0" fill="#5848c8" fill-opacity="0.43"/><circle cx="1484.3" cy="1476.0" r="2.4" fill="#8a80e0" fill-opacity="0.73"/><circle cx="1472.7" cy="1534.5" r="1.4" fill="#7a6ddc" fill-opacity="0.63"/><circle cx="1451.8" cy="1520.5" r="1.6" fill="#8a80e0" fill-opacity="0.69"/><circle cx="1445.7" cy="1467.4" r="1.6" fill="#7a6ddc" fill-opacity="0.68"/><circle cx="1484.4" cy="1485.6" r="3.2" fill="#7a6ddc" fill-opacity="0.61"/><circle cx="1481.5" cy="1496.8" r="1.5" fill="#8a80e0" fill-opacity="0.71"/><circle cx="1480.2" cy="1502.4" r="2.3" fill="#6a5cd4" fill-opacity="0.57"/><circle cx="1484.1" cy="1523.1" r="1.6" fill="#5848c8" fill-opacity="0.63"/><circle cx="1458.4" cy="1555.0" r="1.6" fill="#7a6ddc" fill-opacity="0.70"/><circle cx="1540.8" cy="1487.9" r="3.6" fill="#7a6ddc" fill-opacity="0.64"/><circle cx="1502.2" cy="1520.6" r="1.4" fill="#5848c8" fill-opacity="0.43"/><circle cx="1445.2" cy="1483.2" r="3.0" fill="#8a80e0" fill-opacity="0.77"/><circle cx="1496.9" cy="1509.0" r="3.6" fill="#8a80e0" fill-opacity="0.51"/><circle cx="1431.0" cy="1502.0" r="3.3" fill="#8a80e0" fill-opacity="0.51"/><circle cx="1492.7" cy="1548.1" r="1.6" fill="#7a6ddc" fill-opacity="0.51"/><circle cx="1526.1" cy="1494.5" r="2.5" fill="#7a6ddc" fill-opacity="0.45"/><circle cx="1540.1" cy="1479.0" r="2.1" fill="#7a6ddc" fill-opacity="0.48"/><circle cx="1493.3" cy="1517.8" r="2.7" fill="#5848c8" fill-opacity="0.75"/><circle cx="1530.2" cy="1523.9" r="1.4" fill="#6a5cd4" fill-opacity="0.53"/><circle cx="1462.8" cy="1517.5" r="2.3" fill="#6a5cd4" fill-opacity="0.43"/><circle cx="1472.5" cy="1506.3" r="2.2" fill="#6a5cd4" fill-opacity="0.66"/><circle cx="1539.3" cy="1498.2" r="1.6" fill="#5848c8" fill-opacity="0.69"/><circle cx="1464.7" cy="1526.5" r="1.5" fill="#6a5cd4" fill-opacity="0.58"/><circle cx="1485.4" cy="1467.9" r="2.1" fill="#5848c8" fill-opacity="0.72"/><circle cx="1514.7" cy="1479.9" r="1.4" fill="#6a5cd4" fill-opacity="0.43"/><circle cx="1501.5" cy="1555.5" r="2.2" fill="#6a5cd4" fill-opacity="0.66"/><circle cx="1550.6" cy="1517.2" r="1.4" fill="#5848c8" fill-opacity="0.63"/><circle cx="1501.0" cy="1445.8" r="1.4" fill="#5848c8" fill-opacity="0.71"/><circle cx="1483.3" cy="1478.8" r="1.9" fill="#7a6ddc" fill-opacity="0.50"/><circle cx="1437.8" cy="1529.2" r="2.3" fill="#7a6ddc" fill-opacity="0.61"/><circle cx="1531.9" cy="1498.8" r="2.0" fill="#5848c8" fill-opacity="0.52"/><circle cx="1479.7" cy="1553.1" r="3.6" fill="#5848c8" fill-opacity="0.51"/><circle cx="1478.9" cy="1464.2" r="1.4" fill="#6a5cd4" fill-opacity="0.57"/><circle cx="1530.6" cy="1524.6" r="2.4" fill="#8a80e0" fill-opacity="0.73"/><circle cx="1550.5" cy="1510.2" r="3.0" fill="#8a80e0" fill-opacity="0.47"/><circle cx="1487.6" cy="1451.9" r="1.6" fill="#8a80e0" fill-opacity="0.61"/><circle cx="1436.3" cy="1485.7" r="2.4" fill="#8a80e0" fill-opacity="0.62"/><circle cx="1470.8" cy="1564.1" r="1.8" fill="#7a6ddc" fill-opacity="0.48"/><circle cx="1458.8" cy="1453.7" r="2.1" fill="#7a6ddc" fill-opacity="0.46"/><circle cx="1506.4" cy="1482.7" r="1.4" fill="#8a80e0" fill-opacity="0.48"/><circle cx="1449.5" cy="1503.0" r="1.6" fill="#7a6ddc" fill-opacity="0.49"/><circle cx="1449.3" cy="1515.3" r="3.5" fill="#5848c8" fill-opacity="0.56"/><circle cx="1505.2" cy="1514.9" r="1.5" fill="#6a5cd4" fill-opacity="0.49"/><circle cx="1476.9" cy="1531.5" r="1.8" fill="#8a80e0" fill-opacity="0.47"/><circle cx="1504.7" cy="1544.0" r="1.8" fill="#5848c8" fill-opacity="0.67"/><circle cx="1545.2" cy="1493.1" r="1.5" fill="#6a5cd4" fill-opacity="0.42"/><circle cx="1524.4" cy="1541.7" r="2.3" fill="#5848c8" fill-opacity="0.72"/><circle cx="1452.4" cy="1463.7" r="1.6" fill="#7a6ddc" fill-opacity="0.77"/><circle cx="1502.9" cy="1482.2" r="1.4" fill="#8a80e0" fill-opacity="0.59"/><circle cx="1504.3" cy="1510.5" r="1.7" fill="#6a5cd4" fill-opacity="0.45"/><circle cx="1529.3" cy="1553.6" r="1.4" fill="#6a5cd4" fill-opacity="0.65"/><circle cx="1500.0" cy="1484.6" r="1.7" fill="#5848c8" fill-opacity="0.67"/><circle cx="1457.9" cy="1539.1" r="1.4" fill="#8a80e0" fill-opacity="0.50"/><circle cx="1466.9" cy="1548.6" r="3.8" fill="#6a5cd4" fill-opacity="0.54"/><circle cx="1469.7" cy="1455.3" r="2.9" fill="#8a80e0" fill-opacity="0.64"/><circle cx="1518.7" cy="1461.3" r="1.7" fill="#7a6ddc" fill-opacity="0.73"/><circle cx="1493.5" cy="1496.5" r="1.4" fill="#8a80e0" fill-opacity="0.50"/><circle cx="1544.9" cy="1516.6" r="1.5" fill="#7a6ddc" fill-opacity="0.74"/><circle cx="1505.0" cy="1445.6" r="2.7" fill="#8a80e0" fill-opacity="0.47"/><circle cx="1503.4" cy="1460.7" r="3.1" fill="#5848c8" fill-opacity="0.77"/><circle cx="1501.6" cy="1511.0" r="2.1" fill="#6a5cd4" fill-opacity="0.66"/><circle cx="1478.2" cy="1527.7" r="2.4" fill="#6a5cd4" fill-opacity="0.66"/></g></g><rect x="1121.2" y="1289.2" width="452.6" height="289.6" fill="none" stroke="#000" stroke-width="2.4"/>
<text x="607.0" y="1750.0" font-size="25" font-weight="normal" font-style="normal" fill="#111" text-anchor="middle" textLength="106.6" lengthAdjust="spacingAndGlyphs" >TET21-N</text>
<line x1="540" y1="1765" x2="679.6" y2="1765" stroke="#111" stroke-width="3"/>
<text x="735.4" y="1750.0" font-size="25" font-weight="normal" font-style="normal" fill="#111" text-anchor="middle" textLength="78.6" lengthAdjust="spacingAndGlyphs" >IMR32</text>
<text x="369.0" y="1797.5" font-size="25" font-weight="normal" font-style="normal" fill="#111" text-anchor="start" textLength="166.6" lengthAdjust="spacingAndGlyphs" >Dox. (1 µg/ml)</text>
<text x="574.7" y="1797.5" font-size="25" font-weight="normal" font-style="normal" fill="#111" text-anchor="middle" textLength="8.8" lengthAdjust="spacingAndGlyphs" >-</text>
<text x="645.0" y="1797.5" font-size="25" font-weight="normal" font-style="normal" fill="#111" text-anchor="middle" textLength="15.5" lengthAdjust="spacingAndGlyphs" >+</text>
<text x="478.8" y="1874.5" font-size="25" font-weight="normal" font-style="normal" fill="#111" text-anchor="middle" textLength="78.2" lengthAdjust="spacingAndGlyphs" >MYCN</text>
<text x="483.3" y="1982.8" font-size="25" font-weight="normal" font-style="normal" fill="#111" text-anchor="middle" textLength="81.5" lengthAdjust="spacingAndGlyphs" >β-actin</text>
<text x="790.5" y="1873.0" font-size="25" font-weight="normal" font-style="normal" fill="#111" text-anchor="start" textLength="29.5" lengthAdjust="spacingAndGlyphs" >67</text>
<text x="791.0" y="1983.0" font-size="25" font-weight="normal" font-style="normal" fill="#111" text-anchor="start" textLength="29.5" lengthAdjust="spacingAndGlyphs" >42</text>
<rect x="537.5" y="1816.5" width="236.5" height="102.5" fill="#dddbda"/>
<clipPath id="blotA"><rect x="539" y="1818" width="233.5" height="99.5"/></clipPath><clipPath id="blotB"><rect x="539" y="1936" width="233.5" height="79"/></clipPath>
<path d="M543.5,1860 C543.5,1856 560,1856.5 580,1854.5 C598,1852.5 605,1853.5 605,1859 C605,1864.5 598,1866 580,1865.5 C560,1865 543.5,1864.5 543.5,1860 Z" fill="#1c1a1a" filter="url(#blur1)" clip-path="url(#blotA)"/>
<path d="M697,1855.5 C697,1851.5 718,1851 738,1849.5 C750,1847 756,1846.5 756,1851.5 C756,1857 750,1858.5 738,1858.5 C718,1859 697,1860 697,1855.5 Z" fill="#1f1d1d" filter="url(#blur1)" clip-path="url(#blotA)"/>
<rect x="701" y="1888" width="52" height="29" fill="#c4c2c1" filter="url(#blur4)" clip-path="url(#blotA)"/>
<rect x="546" y="1896" width="54" height="20" fill="#d4d2d1" filter="url(#blur4)" clip-path="url(#blotA)"/>
<rect x="537.5" y="1934.5" width="236.5" height="82" fill="#dfdddc"/>
<rect x="534" y="1974.4" width="76" height="15.8" rx="7.9" fill="#0b0808" filter="url(#blur1)" clip-path="url(#blotB)"/>
<rect x="611.8" y="1971.7" width="76.5" height="18.3" rx="9" fill="#0b0808" filter="url(#blur1)" clip-path="url(#blotB)"/>
<rect x="689.6" y="1971" width="73.8" height="21" rx="10.5" fill="#0b0808" filter="url(#blur1)" clip-path="url(#blotB)"/>
<rect x="539.6" y="1818.6" width="232.3" height="98.3" fill="none" stroke="#f6f6f6" stroke-width="1.4"/>
<rect x="539.6" y="1936.6" width="232.3" height="77.8" fill="none" stroke="#f6f6f6" stroke-width="1.4"/>
<rect x="537.5" y="1816.5" width="236.5" height="102.5" fill="none" stroke="#000" stroke-width="2.8" rx="1"/>
<rect x="537.5" y="1934.5" width="236.5" height="82" fill="none" stroke="#000" stroke-width="2.8" rx="1"/>
<text x="1207.5" y="1655.5" font-size="28" font-weight="normal" font-style="normal" fill="#111" text-anchor="middle" textLength="152.8" lengthAdjust="spacingAndGlyphs" >MTS assay</text>
<rect x="1019.5" y="1734.0" width="51.1" height="297.3" fill="#ff0066"/>
<line x1="1045.0" y1="1732.5" x2="1045.0" y2="1734.0" stroke="#111" stroke-width="2.4"/>
<line x1="1040.0" y1="1732.5" x2="1050.0" y2="1732.5" stroke="#111" stroke-width="2.4" stroke-linecap="round"/>
<rect x="1084.6" y="1734.0" width="50.0" height="297.3" fill="#ff6600"/>
<line x1="1109.6" y1="1732.5" x2="1109.6" y2="1734.0" stroke="#111" stroke-width="2.4"/>
<line x1="1104.6" y1="1732.5" x2="1114.6" y2="1732.5" stroke="#111" stroke-width="2.4" stroke-linecap="round"/>
<rect x="1247.2" y="1946.0" width="49.7" height="85.3" fill="#ff0066"/>
<line x1="1272.1" y1="1940.3" x2="1272.1" y2="1946.0" stroke="#111" stroke-width="2.4"/>
<line x1="1267.1" y1="1940.3" x2="1277.1" y2="1940.3" stroke="#111" stroke-width="2.4" stroke-linecap="round"/>
<rect x="1310.8" y="1778.0" width="50.7" height="253.3" fill="#ff6600"/>
<line x1="1336.2" y1="1760.5" x2="1336.2" y2="1778.0" stroke="#111" stroke-width="2.4"/>
<line x1="1331.2" y1="1760.5" x2="1341.2" y2="1760.5" stroke="#111" stroke-width="2.4" stroke-linecap="round"/>
<line x1="965" y1="1733.0" x2="965" y2="2032.3" stroke="#111" stroke-width="3"/>
<line x1="963.5" y1="2031.3" x2="1417" y2="2031.3" stroke="#111" stroke-width="3"/>
<line x1="965" y1="2031.3" x2="965" y2="2039.3" stroke="#111" stroke-width="3"/>
<line x1="1190.4" y1="2031.3" x2="1190.4" y2="2039.3" stroke="#111" stroke-width="3"/>
<line x1="1415.8" y1="2031.3" x2="1415.8" y2="2039.3" stroke="#111" stroke-width="3"/>
<text x="942.5" y="2040.1" font-size="24.5" font-weight="normal" font-style="normal" fill="#111" text-anchor="end" textLength="15.0" lengthAdjust="spacingAndGlyphs" >0</text>
<text x="942.5" y="1980.6" font-size="24.5" font-weight="normal" font-style="normal" fill="#111" text-anchor="end" textLength="30.0" lengthAdjust="spacingAndGlyphs" >20</text>
<text x="942.5" y="1921.2" font-size="24.5" font-weight="normal" font-style="normal" fill="#111" text-anchor="end" textLength="30.0" lengthAdjust="spacingAndGlyphs" >40</text>
<text x="942.5" y="1861.7" font-size="24.5" font-weight="normal" font-style="normal" fill="#111" text-anchor="end" textLength="30.0" lengthAdjust="spacingAndGlyphs" >60</text>
<text x="942.5" y="1802.3" font-size="24.5" font-weight="normal" font-style="normal" fill="#111" text-anchor="end" textLength="30.0" lengthAdjust="spacingAndGlyphs" >80</text>
<text x="942.5" y="1742.8" font-size="24.5" font-weight="normal" font-style="normal" fill="#111" text-anchor="end" textLength="45.0" lengthAdjust="spacingAndGlyphs" >100</text>
<text x="1077.3" y="2071.3" font-size="24.5" font-weight="normal" font-style="normal" fill="#111" text-anchor="middle" textLength="15.0" lengthAdjust="spacingAndGlyphs" >0</text>
<text x="1303.5" y="2071.3" font-size="24.5" font-weight="normal" font-style="normal" fill="#111" text-anchor="middle" textLength="30.0" lengthAdjust="spacingAndGlyphs" >10</text>
<text x="1190.4" y="2108.0" font-size="24.5" font-weight="normal" font-style="normal" fill="#111" text-anchor="middle" textLength="146.2" lengthAdjust="spacingAndGlyphs" >Prozac (µM)</text>
<text transform="translate(886.4,1881.9) rotate(-90)" x="0" y="0" font-size="24.5" font-weight="normal" fill="#111" text-anchor="middle" textLength="269.1" lengthAdjust="spacingAndGlyphs">% Survival over control</text>
<path d="M1269,1748 L1269,1736 Q1269,1734.6 1271,1734.6 L1332.5,1734.6 Q1334.5,1734.6 1334.5,1736 L1334.5,1748" fill="none" stroke="#111" stroke-width="3" stroke-linecap="round"/>
<text x="1280.7" y="1731.0" font-size="35" font-weight="normal" font-style="normal" fill="#111" text-anchor="middle" >*</text>
<text x="1298.2" y="1731.0" font-size="35" font-weight="normal" font-style="normal" fill="#111" text-anchor="middle" >*</text>
<text x="1315.6" y="1731.0" font-size="35" font-weight="normal" font-style="normal" fill="#111" text-anchor="middle" >*</text>
<rect x="1418.9" y="1849.8" width="13.3" height="13.4" fill="#ff0066"/>
<rect x="1418.9" y="1916.4" width="13.3" height="13" fill="#ff6600"/>
<text x="1445.0" y="1865.4" font-size="24" font-weight="normal" font-style="normal" fill="#111" text-anchor="start" textLength="63.0" lengthAdjust="spacingAndGlyphs" >- Dox</text>
<text x="1445.0" y="1932.0" font-size="24" font-weight="normal" font-style="normal" fill="#111" text-anchor="start" textLength="69.6" lengthAdjust="spacingAndGlyphs" >+ Dox</text>
</svg>
</body></html>
